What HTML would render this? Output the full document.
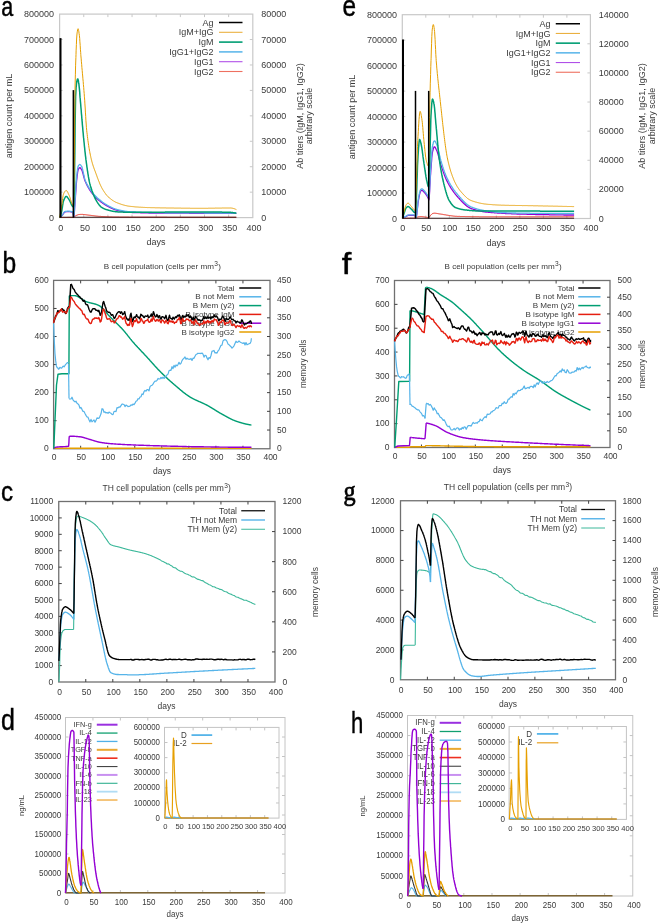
<!DOCTYPE html>
<html><head><meta charset="utf-8"><style>
html,body{margin:0;padding:0;background:#fff;}
svg{display:block;font-family:"Liberation Sans",sans-serif;filter:blur(0.35px);}
</style></head><body>
<svg width="660" height="924" viewBox="0 0 660 924">
<rect width="660" height="924" fill="#fff"/>
<rect x="59.60" y="14.10" width="193.20" height="203.50" fill="none" stroke="#c8c8c8" stroke-width="1.2"/>
<line x1="83.75" y1="217.60" x2="83.75" y2="214.60" stroke="#c8c8c8" stroke-width="1"/>
<line x1="83.75" y1="14.10" x2="83.75" y2="17.10" stroke="#c8c8c8" stroke-width="1"/>
<line x1="107.90" y1="217.60" x2="107.90" y2="214.60" stroke="#c8c8c8" stroke-width="1"/>
<line x1="107.90" y1="14.10" x2="107.90" y2="17.10" stroke="#c8c8c8" stroke-width="1"/>
<line x1="132.05" y1="217.60" x2="132.05" y2="214.60" stroke="#c8c8c8" stroke-width="1"/>
<line x1="132.05" y1="14.10" x2="132.05" y2="17.10" stroke="#c8c8c8" stroke-width="1"/>
<line x1="156.20" y1="217.60" x2="156.20" y2="214.60" stroke="#c8c8c8" stroke-width="1"/>
<line x1="156.20" y1="14.10" x2="156.20" y2="17.10" stroke="#c8c8c8" stroke-width="1"/>
<line x1="180.35" y1="217.60" x2="180.35" y2="214.60" stroke="#c8c8c8" stroke-width="1"/>
<line x1="180.35" y1="14.10" x2="180.35" y2="17.10" stroke="#c8c8c8" stroke-width="1"/>
<line x1="204.50" y1="217.60" x2="204.50" y2="214.60" stroke="#c8c8c8" stroke-width="1"/>
<line x1="204.50" y1="14.10" x2="204.50" y2="17.10" stroke="#c8c8c8" stroke-width="1"/>
<line x1="228.65" y1="217.60" x2="228.65" y2="214.60" stroke="#c8c8c8" stroke-width="1"/>
<line x1="228.65" y1="14.10" x2="228.65" y2="17.10" stroke="#c8c8c8" stroke-width="1"/>
<line x1="59.60" y1="192.16" x2="62.60" y2="192.16" stroke="#c8c8c8" stroke-width="1"/>
<line x1="59.60" y1="166.72" x2="62.60" y2="166.72" stroke="#c8c8c8" stroke-width="1"/>
<line x1="59.60" y1="141.29" x2="62.60" y2="141.29" stroke="#c8c8c8" stroke-width="1"/>
<line x1="59.60" y1="115.85" x2="62.60" y2="115.85" stroke="#c8c8c8" stroke-width="1"/>
<line x1="59.60" y1="90.41" x2="62.60" y2="90.41" stroke="#c8c8c8" stroke-width="1"/>
<line x1="59.60" y1="64.97" x2="62.60" y2="64.97" stroke="#c8c8c8" stroke-width="1"/>
<line x1="59.60" y1="39.54" x2="62.60" y2="39.54" stroke="#c8c8c8" stroke-width="1"/>
<line x1="252.80" y1="192.16" x2="249.80" y2="192.16" stroke="#c8c8c8" stroke-width="1"/>
<line x1="252.80" y1="166.72" x2="249.80" y2="166.72" stroke="#c8c8c8" stroke-width="1"/>
<line x1="252.80" y1="141.29" x2="249.80" y2="141.29" stroke="#c8c8c8" stroke-width="1"/>
<line x1="252.80" y1="115.85" x2="249.80" y2="115.85" stroke="#c8c8c8" stroke-width="1"/>
<line x1="252.80" y1="90.41" x2="249.80" y2="90.41" stroke="#c8c8c8" stroke-width="1"/>
<line x1="252.80" y1="64.97" x2="249.80" y2="64.97" stroke="#c8c8c8" stroke-width="1"/>
<line x1="252.80" y1="39.54" x2="249.80" y2="39.54" stroke="#c8c8c8" stroke-width="1"/>
<text font-size="9" text-anchor="middle" fill="#3a3a3a" transform="matrix(1 0 0 1.1 60.80 231.07)">0</text>
<text font-size="9" text-anchor="middle" fill="#3a3a3a" transform="matrix(1 0 0 1.1 84.95 231.07)">50</text>
<text font-size="9" text-anchor="middle" fill="#3a3a3a" transform="matrix(1 0 0 1.1 109.10 231.07)">100</text>
<text font-size="9" text-anchor="middle" fill="#3a3a3a" transform="matrix(1 0 0 1.1 133.25 231.07)">150</text>
<text font-size="9" text-anchor="middle" fill="#3a3a3a" transform="matrix(1 0 0 1.1 157.40 231.07)">200</text>
<text font-size="9" text-anchor="middle" fill="#3a3a3a" transform="matrix(1 0 0 1.1 181.55 231.07)">250</text>
<text font-size="9" text-anchor="middle" fill="#3a3a3a" transform="matrix(1 0 0 1.1 205.70 231.07)">300</text>
<text font-size="9" text-anchor="middle" fill="#3a3a3a" transform="matrix(1 0 0 1.1 229.85 231.07)">350</text>
<text font-size="9" text-anchor="middle" fill="#3a3a3a" transform="matrix(1 0 0 1.1 254.00 231.07)">400</text>
<text font-size="9" text-anchor="end" fill="#3a3a3a" transform="matrix(1 0 0 1.1 53.90 220.67)">0</text>
<text font-size="9" text-anchor="end" fill="#3a3a3a" transform="matrix(1 0 0 1.1 53.90 195.23)">100000</text>
<text font-size="9" text-anchor="end" fill="#3a3a3a" transform="matrix(1 0 0 1.1 53.90 169.79)">200000</text>
<text font-size="9" text-anchor="end" fill="#3a3a3a" transform="matrix(1 0 0 1.1 53.90 144.36)">300000</text>
<text font-size="9" text-anchor="end" fill="#3a3a3a" transform="matrix(1 0 0 1.1 53.90 118.92)">400000</text>
<text font-size="9" text-anchor="end" fill="#3a3a3a" transform="matrix(1 0 0 1.1 53.90 93.48)">500000</text>
<text font-size="9" text-anchor="end" fill="#3a3a3a" transform="matrix(1 0 0 1.1 53.90 68.04)">600000</text>
<text font-size="9" text-anchor="end" fill="#3a3a3a" transform="matrix(1 0 0 1.1 53.90 42.61)">700000</text>
<text font-size="9" text-anchor="end" fill="#3a3a3a" transform="matrix(1 0 0 1.1 53.90 17.17)">800000</text>
<text font-size="9" text-anchor="start" fill="#3a3a3a" transform="matrix(1 0 0 1.1 261.20 220.67)">0</text>
<text font-size="9" text-anchor="start" fill="#3a3a3a" transform="matrix(1 0 0 1.1 261.20 195.23)">10000</text>
<text font-size="9" text-anchor="start" fill="#3a3a3a" transform="matrix(1 0 0 1.1 261.20 169.79)">20000</text>
<text font-size="9" text-anchor="start" fill="#3a3a3a" transform="matrix(1 0 0 1.1 261.20 144.36)">30000</text>
<text font-size="9" text-anchor="start" fill="#3a3a3a" transform="matrix(1 0 0 1.1 261.20 118.92)">40000</text>
<text font-size="9" text-anchor="start" fill="#3a3a3a" transform="matrix(1 0 0 1.1 261.20 93.48)">50000</text>
<text font-size="9" text-anchor="start" fill="#3a3a3a" transform="matrix(1 0 0 1.1 261.20 68.04)">60000</text>
<text font-size="9" text-anchor="start" fill="#3a3a3a" transform="matrix(1 0 0 1.1 261.20 42.61)">70000</text>
<text font-size="9" text-anchor="start" fill="#3a3a3a" transform="matrix(1 0 0 1.1 261.20 17.17)">80000</text>
<text font-size="9" text-anchor="middle" fill="#3a3a3a" transform="matrix(1 0 0 1.1 156.00 245.00)">days</text>
<text font-size="9" text-anchor="middle" fill="#3a3a3a" transform="translate(12.40 116.00) rotate(-90) scale(1 1.1)">antigen count per mL</text>
<text font-size="9" text-anchor="middle" fill="#3a3a3a" transform="translate(302.50 116.00) rotate(-90) scale(1 1.1)">Ab titers (IgM, IgG1, IgG2)</text>
<text font-size="9" text-anchor="middle" fill="#3a3a3a" transform="translate(311.50 116.00) rotate(-90) scale(1 1.1)">arbitrary scale</text>
<text font-size="9" text-anchor="end" fill="#3a3a3a" transform="matrix(1 0 0 1.1 213.50 25.57)">Ag</text>
<line x1="219.00" y1="22.50" x2="242.50" y2="22.50" stroke="#000000" stroke-width="1.5"/>
<text font-size="9" text-anchor="end" fill="#3a3a3a" transform="matrix(1 0 0 1.1 213.50 35.37)">IgM+IgG</text>
<line x1="219.00" y1="32.30" x2="242.50" y2="32.30" stroke="#eab040" stroke-width="1.1"/>
<text font-size="9" text-anchor="end" fill="#3a3a3a" transform="matrix(1 0 0 1.1 213.50 45.17)">IgM</text>
<line x1="219.00" y1="42.10" x2="242.50" y2="42.10" stroke="#009e73" stroke-width="1.6"/>
<text font-size="9" text-anchor="end" fill="#3a3a3a" transform="matrix(1 0 0 1.1 213.50 54.97)">IgG1+IgG2</text>
<line x1="219.00" y1="51.90" x2="242.50" y2="51.90" stroke="#56b4e9" stroke-width="1.5"/>
<text font-size="9" text-anchor="end" fill="#3a3a3a" transform="matrix(1 0 0 1.1 213.50 64.77)">IgG1</text>
<line x1="219.00" y1="61.70" x2="242.50" y2="61.70" stroke="#b050e8" stroke-width="1.1"/>
<text font-size="9" text-anchor="end" fill="#3a3a3a" transform="matrix(1 0 0 1.1 213.50 74.57)">IgG2</text>
<line x1="219.00" y1="71.50" x2="242.50" y2="71.50" stroke="#ee7060" stroke-width="1.1"/>
<rect x="402.30" y="14.70" width="188.10" height="203.80" fill="none" stroke="#c8c8c8" stroke-width="1.2"/>
<line x1="425.81" y1="218.50" x2="425.81" y2="215.50" stroke="#c8c8c8" stroke-width="1"/>
<line x1="425.81" y1="14.70" x2="425.81" y2="17.70" stroke="#c8c8c8" stroke-width="1"/>
<line x1="449.32" y1="218.50" x2="449.32" y2="215.50" stroke="#c8c8c8" stroke-width="1"/>
<line x1="449.32" y1="14.70" x2="449.32" y2="17.70" stroke="#c8c8c8" stroke-width="1"/>
<line x1="472.84" y1="218.50" x2="472.84" y2="215.50" stroke="#c8c8c8" stroke-width="1"/>
<line x1="472.84" y1="14.70" x2="472.84" y2="17.70" stroke="#c8c8c8" stroke-width="1"/>
<line x1="496.35" y1="218.50" x2="496.35" y2="215.50" stroke="#c8c8c8" stroke-width="1"/>
<line x1="496.35" y1="14.70" x2="496.35" y2="17.70" stroke="#c8c8c8" stroke-width="1"/>
<line x1="519.86" y1="218.50" x2="519.86" y2="215.50" stroke="#c8c8c8" stroke-width="1"/>
<line x1="519.86" y1="14.70" x2="519.86" y2="17.70" stroke="#c8c8c8" stroke-width="1"/>
<line x1="543.38" y1="218.50" x2="543.38" y2="215.50" stroke="#c8c8c8" stroke-width="1"/>
<line x1="543.38" y1="14.70" x2="543.38" y2="17.70" stroke="#c8c8c8" stroke-width="1"/>
<line x1="566.89" y1="218.50" x2="566.89" y2="215.50" stroke="#c8c8c8" stroke-width="1"/>
<line x1="566.89" y1="14.70" x2="566.89" y2="17.70" stroke="#c8c8c8" stroke-width="1"/>
<line x1="402.30" y1="193.03" x2="405.30" y2="193.03" stroke="#c8c8c8" stroke-width="1"/>
<line x1="402.30" y1="167.55" x2="405.30" y2="167.55" stroke="#c8c8c8" stroke-width="1"/>
<line x1="402.30" y1="142.07" x2="405.30" y2="142.07" stroke="#c8c8c8" stroke-width="1"/>
<line x1="402.30" y1="116.60" x2="405.30" y2="116.60" stroke="#c8c8c8" stroke-width="1"/>
<line x1="402.30" y1="91.12" x2="405.30" y2="91.12" stroke="#c8c8c8" stroke-width="1"/>
<line x1="402.30" y1="65.65" x2="405.30" y2="65.65" stroke="#c8c8c8" stroke-width="1"/>
<line x1="402.30" y1="40.18" x2="405.30" y2="40.18" stroke="#c8c8c8" stroke-width="1"/>
<line x1="590.40" y1="189.39" x2="587.40" y2="189.39" stroke="#c8c8c8" stroke-width="1"/>
<line x1="590.40" y1="160.27" x2="587.40" y2="160.27" stroke="#c8c8c8" stroke-width="1"/>
<line x1="590.40" y1="131.16" x2="587.40" y2="131.16" stroke="#c8c8c8" stroke-width="1"/>
<line x1="590.40" y1="102.04" x2="587.40" y2="102.04" stroke="#c8c8c8" stroke-width="1"/>
<line x1="590.40" y1="72.93" x2="587.40" y2="72.93" stroke="#c8c8c8" stroke-width="1"/>
<line x1="590.40" y1="43.81" x2="587.40" y2="43.81" stroke="#c8c8c8" stroke-width="1"/>
<text font-size="9" text-anchor="middle" fill="#3a3a3a" transform="matrix(1 0 0 1.1 402.80 231.37)">0</text>
<text font-size="9" text-anchor="middle" fill="#3a3a3a" transform="matrix(1 0 0 1.1 426.31 231.37)">50</text>
<text font-size="9" text-anchor="middle" fill="#3a3a3a" transform="matrix(1 0 0 1.1 449.82 231.37)">100</text>
<text font-size="9" text-anchor="middle" fill="#3a3a3a" transform="matrix(1 0 0 1.1 473.34 231.37)">150</text>
<text font-size="9" text-anchor="middle" fill="#3a3a3a" transform="matrix(1 0 0 1.1 496.85 231.37)">200</text>
<text font-size="9" text-anchor="middle" fill="#3a3a3a" transform="matrix(1 0 0 1.1 520.36 231.37)">250</text>
<text font-size="9" text-anchor="middle" fill="#3a3a3a" transform="matrix(1 0 0 1.1 543.88 231.37)">300</text>
<text font-size="9" text-anchor="middle" fill="#3a3a3a" transform="matrix(1 0 0 1.1 567.39 231.37)">350</text>
<text font-size="9" text-anchor="middle" fill="#3a3a3a" transform="matrix(1 0 0 1.1 590.90 231.37)">400</text>
<text font-size="9" text-anchor="end" fill="#3a3a3a" transform="matrix(1 0 0 1.1 397.00 221.57)">0</text>
<text font-size="9" text-anchor="end" fill="#3a3a3a" transform="matrix(1 0 0 1.1 397.00 196.09)">100000</text>
<text font-size="9" text-anchor="end" fill="#3a3a3a" transform="matrix(1 0 0 1.1 397.00 170.62)">200000</text>
<text font-size="9" text-anchor="end" fill="#3a3a3a" transform="matrix(1 0 0 1.1 397.00 145.14)">300000</text>
<text font-size="9" text-anchor="end" fill="#3a3a3a" transform="matrix(1 0 0 1.1 397.00 119.67)">400000</text>
<text font-size="9" text-anchor="end" fill="#3a3a3a" transform="matrix(1 0 0 1.1 397.00 94.19)">500000</text>
<text font-size="9" text-anchor="end" fill="#3a3a3a" transform="matrix(1 0 0 1.1 397.00 68.72)">600000</text>
<text font-size="9" text-anchor="end" fill="#3a3a3a" transform="matrix(1 0 0 1.1 397.00 43.24)">700000</text>
<text font-size="9" text-anchor="end" fill="#3a3a3a" transform="matrix(1 0 0 1.1 397.00 17.77)">800000</text>
<text font-size="9" text-anchor="start" fill="#3a3a3a" transform="matrix(1 0 0 1.1 598.80 221.57)">0</text>
<text font-size="9" text-anchor="start" fill="#3a3a3a" transform="matrix(1 0 0 1.1 598.80 192.45)">20000</text>
<text font-size="9" text-anchor="start" fill="#3a3a3a" transform="matrix(1 0 0 1.1 598.80 163.34)">40000</text>
<text font-size="9" text-anchor="start" fill="#3a3a3a" transform="matrix(1 0 0 1.1 598.80 134.23)">60000</text>
<text font-size="9" text-anchor="start" fill="#3a3a3a" transform="matrix(1 0 0 1.1 598.80 105.11)">80000</text>
<text font-size="9" text-anchor="start" fill="#3a3a3a" transform="matrix(1 0 0 1.1 598.80 76.00)">100000</text>
<text font-size="9" text-anchor="start" fill="#3a3a3a" transform="matrix(1 0 0 1.1 598.80 46.88)">120000</text>
<text font-size="9" text-anchor="start" fill="#3a3a3a" transform="matrix(1 0 0 1.1 598.80 17.77)">140000</text>
<text font-size="9" text-anchor="middle" fill="#3a3a3a" transform="matrix(1 0 0 1.1 496.00 246.00)">days</text>
<text font-size="9" text-anchor="middle" fill="#3a3a3a" transform="translate(354.50 117.00) rotate(-90) scale(1 1.1)">antigen count per mL</text>
<text font-size="9" text-anchor="middle" fill="#3a3a3a" transform="translate(644.50 116.00) rotate(-90) scale(1 1.1)">Ab titers (IgM, IgG1, IgG2)</text>
<text font-size="9" text-anchor="middle" fill="#3a3a3a" transform="translate(655.00 116.00) rotate(-90) scale(1 1.1)">arbitrary scale</text>
<text font-size="9" text-anchor="end" fill="#3a3a3a" transform="matrix(1 0 0 1.1 550.50 26.82)">Ag</text>
<line x1="555.75" y1="23.75" x2="580.00" y2="23.75" stroke="#000000" stroke-width="1.5"/>
<text font-size="9" text-anchor="end" fill="#3a3a3a" transform="matrix(1 0 0 1.1 550.50 36.52)">IgM+IgG</text>
<line x1="555.75" y1="33.45" x2="580.00" y2="33.45" stroke="#eab040" stroke-width="1.1"/>
<text font-size="9" text-anchor="end" fill="#3a3a3a" transform="matrix(1 0 0 1.1 550.50 46.22)">IgM</text>
<line x1="555.75" y1="43.15" x2="580.00" y2="43.15" stroke="#009e73" stroke-width="1.6"/>
<text font-size="9" text-anchor="end" fill="#3a3a3a" transform="matrix(1 0 0 1.1 550.50 55.92)">IgG1+IgG2</text>
<line x1="555.75" y1="52.85" x2="580.00" y2="52.85" stroke="#56b4e9" stroke-width="1.5"/>
<text font-size="9" text-anchor="end" fill="#3a3a3a" transform="matrix(1 0 0 1.1 550.50 65.62)">IgG1</text>
<line x1="555.75" y1="62.55" x2="580.00" y2="62.55" stroke="#b050e8" stroke-width="1.1"/>
<text font-size="9" text-anchor="end" fill="#3a3a3a" transform="matrix(1 0 0 1.1 550.50 75.32)">IgG2</text>
<line x1="555.75" y1="72.25" x2="580.00" y2="72.25" stroke="#ee7060" stroke-width="1.1"/>
<rect x="53.60" y="280.40" width="216.40" height="168.35" fill="none" stroke="#707070" stroke-width="1.3"/>
<line x1="80.65" y1="448.75" x2="80.65" y2="445.75" stroke="#404040" stroke-width="1"/>
<line x1="80.65" y1="280.40" x2="80.65" y2="283.40" stroke="#404040" stroke-width="1"/>
<line x1="107.70" y1="448.75" x2="107.70" y2="445.75" stroke="#404040" stroke-width="1"/>
<line x1="107.70" y1="280.40" x2="107.70" y2="283.40" stroke="#404040" stroke-width="1"/>
<line x1="134.75" y1="448.75" x2="134.75" y2="445.75" stroke="#404040" stroke-width="1"/>
<line x1="134.75" y1="280.40" x2="134.75" y2="283.40" stroke="#404040" stroke-width="1"/>
<line x1="161.80" y1="448.75" x2="161.80" y2="445.75" stroke="#404040" stroke-width="1"/>
<line x1="161.80" y1="280.40" x2="161.80" y2="283.40" stroke="#404040" stroke-width="1"/>
<line x1="188.85" y1="448.75" x2="188.85" y2="445.75" stroke="#404040" stroke-width="1"/>
<line x1="188.85" y1="280.40" x2="188.85" y2="283.40" stroke="#404040" stroke-width="1"/>
<line x1="215.90" y1="448.75" x2="215.90" y2="445.75" stroke="#404040" stroke-width="1"/>
<line x1="215.90" y1="280.40" x2="215.90" y2="283.40" stroke="#404040" stroke-width="1"/>
<line x1="242.95" y1="448.75" x2="242.95" y2="445.75" stroke="#404040" stroke-width="1"/>
<line x1="242.95" y1="280.40" x2="242.95" y2="283.40" stroke="#404040" stroke-width="1"/>
<line x1="53.60" y1="420.69" x2="56.60" y2="420.69" stroke="#404040" stroke-width="1"/>
<line x1="53.60" y1="392.63" x2="56.60" y2="392.63" stroke="#404040" stroke-width="1"/>
<line x1="53.60" y1="364.57" x2="56.60" y2="364.57" stroke="#404040" stroke-width="1"/>
<line x1="53.60" y1="336.52" x2="56.60" y2="336.52" stroke="#404040" stroke-width="1"/>
<line x1="53.60" y1="308.46" x2="56.60" y2="308.46" stroke="#404040" stroke-width="1"/>
<line x1="270.00" y1="430.04" x2="267.00" y2="430.04" stroke="#404040" stroke-width="1"/>
<line x1="270.00" y1="411.34" x2="267.00" y2="411.34" stroke="#404040" stroke-width="1"/>
<line x1="270.00" y1="392.63" x2="267.00" y2="392.63" stroke="#404040" stroke-width="1"/>
<line x1="270.00" y1="373.93" x2="267.00" y2="373.93" stroke="#404040" stroke-width="1"/>
<line x1="270.00" y1="355.22" x2="267.00" y2="355.22" stroke="#404040" stroke-width="1"/>
<line x1="270.00" y1="336.52" x2="267.00" y2="336.52" stroke="#404040" stroke-width="1"/>
<line x1="270.00" y1="317.81" x2="267.00" y2="317.81" stroke="#404040" stroke-width="1"/>
<line x1="270.00" y1="299.11" x2="267.00" y2="299.11" stroke="#404040" stroke-width="1"/>
<text font-size="8.5" text-anchor="middle" fill="#3a3a3a" transform="matrix(1 0 0 1.0 54.10 459.94)">0</text>
<text font-size="8.5" text-anchor="middle" fill="#3a3a3a" transform="matrix(1 0 0 1.0 81.15 459.94)">50</text>
<text font-size="8.5" text-anchor="middle" fill="#3a3a3a" transform="matrix(1 0 0 1.0 108.20 459.94)">100</text>
<text font-size="8.5" text-anchor="middle" fill="#3a3a3a" transform="matrix(1 0 0 1.0 135.25 459.94)">150</text>
<text font-size="8.5" text-anchor="middle" fill="#3a3a3a" transform="matrix(1 0 0 1.0 162.30 459.94)">200</text>
<text font-size="8.5" text-anchor="middle" fill="#3a3a3a" transform="matrix(1 0 0 1.0 189.35 459.94)">250</text>
<text font-size="8.5" text-anchor="middle" fill="#3a3a3a" transform="matrix(1 0 0 1.0 216.40 459.94)">300</text>
<text font-size="8.5" text-anchor="middle" fill="#3a3a3a" transform="matrix(1 0 0 1.0 243.45 459.94)">350</text>
<text font-size="8.5" text-anchor="middle" fill="#3a3a3a" transform="matrix(1 0 0 1.0 270.50 459.94)">400</text>
<text font-size="8.5" text-anchor="end" fill="#3a3a3a" transform="matrix(1 0 0 1.0 48.75 451.38)">0</text>
<text font-size="8.5" text-anchor="end" fill="#3a3a3a" transform="matrix(1 0 0 1.0 48.75 423.33)">100</text>
<text font-size="8.5" text-anchor="end" fill="#3a3a3a" transform="matrix(1 0 0 1.0 48.75 395.27)">200</text>
<text font-size="8.5" text-anchor="end" fill="#3a3a3a" transform="matrix(1 0 0 1.0 48.75 367.21)">300</text>
<text font-size="8.5" text-anchor="end" fill="#3a3a3a" transform="matrix(1 0 0 1.0 48.75 339.15)">400</text>
<text font-size="8.5" text-anchor="end" fill="#3a3a3a" transform="matrix(1 0 0 1.0 48.75 311.09)">500</text>
<text font-size="8.5" text-anchor="end" fill="#3a3a3a" transform="matrix(1 0 0 1.0 48.75 283.03)">600</text>
<text font-size="8.5" text-anchor="start" fill="#3a3a3a" transform="matrix(1 0 0 1.0 277.00 451.38)">0</text>
<text font-size="8.5" text-anchor="start" fill="#3a3a3a" transform="matrix(1 0 0 1.0 277.00 432.68)">50</text>
<text font-size="8.5" text-anchor="start" fill="#3a3a3a" transform="matrix(1 0 0 1.0 277.00 413.97)">100</text>
<text font-size="8.5" text-anchor="start" fill="#3a3a3a" transform="matrix(1 0 0 1.0 277.00 395.27)">150</text>
<text font-size="8.5" text-anchor="start" fill="#3a3a3a" transform="matrix(1 0 0 1.0 277.00 376.56)">200</text>
<text font-size="8.5" text-anchor="start" fill="#3a3a3a" transform="matrix(1 0 0 1.0 277.00 357.86)">250</text>
<text font-size="8.5" text-anchor="start" fill="#3a3a3a" transform="matrix(1 0 0 1.0 277.00 339.15)">300</text>
<text font-size="8.5" text-anchor="start" fill="#3a3a3a" transform="matrix(1 0 0 1.0 277.00 320.45)">350</text>
<text font-size="8.5" text-anchor="start" fill="#3a3a3a" transform="matrix(1 0 0 1.0 277.00 301.74)">400</text>
<text font-size="8.5" text-anchor="start" fill="#3a3a3a" transform="matrix(1 0 0 1.0 277.00 283.03)">450</text>
<text font-size="8.5" text-anchor="middle" fill="#3a3a3a" transform="matrix(1 0 0 1.0 162.00 474.00)">days</text>
<text font-size="8.2" text-anchor="middle" fill="#3a3a3a" transform="translate(305.50 363.80) rotate(-90) scale(1 1.0)">memory cells</text>
<text x="103.75" y="268.70" font-size="8.1" fill="#3a3a3a">B cell population (cells per mm<tspan dx="0.3" dy="-3.0" font-size="6.6">3</tspan><tspan dx="0.2" dy="3.0">)</tspan></text>
<text font-size="8.1" text-anchor="end" fill="#3a3a3a" transform="matrix(1 0 0 1.0 234.50 290.51)">Total</text>
<line x1="239.25" y1="288.00" x2="261.25" y2="288.00" stroke="#000000" stroke-width="1.5"/>
<text font-size="8.1" text-anchor="end" fill="#3a3a3a" transform="matrix(1 0 0 1.0 234.50 299.31)">B not Mem</text>
<line x1="239.25" y1="296.80" x2="261.25" y2="296.80" stroke="#56b4e9" stroke-width="1.5"/>
<text font-size="8.1" text-anchor="end" fill="#3a3a3a" transform="matrix(1 0 0 1.0 234.50 308.11)">B Mem (y2)</text>
<line x1="239.25" y1="305.60" x2="261.25" y2="305.60" stroke="#009e73" stroke-width="1.5"/>
<text font-size="8.1" text-anchor="end" fill="#3a3a3a" transform="matrix(1 0 0 1.0 234.50 316.91)">B isotype IgM</text>
<line x1="239.25" y1="314.40" x2="261.25" y2="314.40" stroke="#e51e10" stroke-width="1.5"/>
<text font-size="8.1" text-anchor="end" fill="#3a3a3a" transform="matrix(1 0 0 1.0 234.50 325.71)">B isotype IgG1</text>
<line x1="239.25" y1="323.20" x2="261.25" y2="323.20" stroke="#9400d3" stroke-width="1.5"/>
<text font-size="8.1" text-anchor="end" fill="#3a3a3a" transform="matrix(1 0 0 1.0 234.50 334.51)">B isotype IgG2</text>
<line x1="239.25" y1="332.00" x2="261.25" y2="332.00" stroke="#e69f00" stroke-width="1.5"/>
<rect x="394.50" y="280.50" width="215.50" height="167.00" fill="none" stroke="#707070" stroke-width="1.3"/>
<line x1="421.44" y1="447.50" x2="421.44" y2="444.50" stroke="#404040" stroke-width="1"/>
<line x1="421.44" y1="280.50" x2="421.44" y2="283.50" stroke="#404040" stroke-width="1"/>
<line x1="448.38" y1="447.50" x2="448.38" y2="444.50" stroke="#404040" stroke-width="1"/>
<line x1="448.38" y1="280.50" x2="448.38" y2="283.50" stroke="#404040" stroke-width="1"/>
<line x1="475.31" y1="447.50" x2="475.31" y2="444.50" stroke="#404040" stroke-width="1"/>
<line x1="475.31" y1="280.50" x2="475.31" y2="283.50" stroke="#404040" stroke-width="1"/>
<line x1="502.25" y1="447.50" x2="502.25" y2="444.50" stroke="#404040" stroke-width="1"/>
<line x1="502.25" y1="280.50" x2="502.25" y2="283.50" stroke="#404040" stroke-width="1"/>
<line x1="529.19" y1="447.50" x2="529.19" y2="444.50" stroke="#404040" stroke-width="1"/>
<line x1="529.19" y1="280.50" x2="529.19" y2="283.50" stroke="#404040" stroke-width="1"/>
<line x1="556.12" y1="447.50" x2="556.12" y2="444.50" stroke="#404040" stroke-width="1"/>
<line x1="556.12" y1="280.50" x2="556.12" y2="283.50" stroke="#404040" stroke-width="1"/>
<line x1="583.06" y1="447.50" x2="583.06" y2="444.50" stroke="#404040" stroke-width="1"/>
<line x1="583.06" y1="280.50" x2="583.06" y2="283.50" stroke="#404040" stroke-width="1"/>
<line x1="394.50" y1="423.64" x2="397.50" y2="423.64" stroke="#404040" stroke-width="1"/>
<line x1="394.50" y1="399.79" x2="397.50" y2="399.79" stroke="#404040" stroke-width="1"/>
<line x1="394.50" y1="375.93" x2="397.50" y2="375.93" stroke="#404040" stroke-width="1"/>
<line x1="394.50" y1="352.07" x2="397.50" y2="352.07" stroke="#404040" stroke-width="1"/>
<line x1="394.50" y1="328.21" x2="397.50" y2="328.21" stroke="#404040" stroke-width="1"/>
<line x1="394.50" y1="304.36" x2="397.50" y2="304.36" stroke="#404040" stroke-width="1"/>
<line x1="610.00" y1="430.80" x2="607.00" y2="430.80" stroke="#404040" stroke-width="1"/>
<line x1="610.00" y1="414.10" x2="607.00" y2="414.10" stroke="#404040" stroke-width="1"/>
<line x1="610.00" y1="397.40" x2="607.00" y2="397.40" stroke="#404040" stroke-width="1"/>
<line x1="610.00" y1="380.70" x2="607.00" y2="380.70" stroke="#404040" stroke-width="1"/>
<line x1="610.00" y1="364.00" x2="607.00" y2="364.00" stroke="#404040" stroke-width="1"/>
<line x1="610.00" y1="347.30" x2="607.00" y2="347.30" stroke="#404040" stroke-width="1"/>
<line x1="610.00" y1="330.60" x2="607.00" y2="330.60" stroke="#404040" stroke-width="1"/>
<line x1="610.00" y1="313.90" x2="607.00" y2="313.90" stroke="#404040" stroke-width="1"/>
<line x1="610.00" y1="297.20" x2="607.00" y2="297.20" stroke="#404040" stroke-width="1"/>
<text font-size="8.5" text-anchor="middle" fill="#3a3a3a" transform="matrix(1 0 0 1.0 395.00 459.33)">0</text>
<text font-size="8.5" text-anchor="middle" fill="#3a3a3a" transform="matrix(1 0 0 1.0 421.94 459.33)">50</text>
<text font-size="8.5" text-anchor="middle" fill="#3a3a3a" transform="matrix(1 0 0 1.0 448.88 459.33)">100</text>
<text font-size="8.5" text-anchor="middle" fill="#3a3a3a" transform="matrix(1 0 0 1.0 475.81 459.33)">150</text>
<text font-size="8.5" text-anchor="middle" fill="#3a3a3a" transform="matrix(1 0 0 1.0 502.75 459.33)">200</text>
<text font-size="8.5" text-anchor="middle" fill="#3a3a3a" transform="matrix(1 0 0 1.0 529.69 459.33)">250</text>
<text font-size="8.5" text-anchor="middle" fill="#3a3a3a" transform="matrix(1 0 0 1.0 556.62 459.33)">300</text>
<text font-size="8.5" text-anchor="middle" fill="#3a3a3a" transform="matrix(1 0 0 1.0 583.56 459.33)">350</text>
<text font-size="8.5" text-anchor="middle" fill="#3a3a3a" transform="matrix(1 0 0 1.0 610.50 459.33)">400</text>
<text font-size="8.5" text-anchor="end" fill="#3a3a3a" transform="matrix(1 0 0 1.0 389.50 450.13)">0</text>
<text font-size="8.5" text-anchor="end" fill="#3a3a3a" transform="matrix(1 0 0 1.0 389.50 426.28)">100</text>
<text font-size="8.5" text-anchor="end" fill="#3a3a3a" transform="matrix(1 0 0 1.0 389.50 402.42)">200</text>
<text font-size="8.5" text-anchor="end" fill="#3a3a3a" transform="matrix(1 0 0 1.0 389.50 378.56)">300</text>
<text font-size="8.5" text-anchor="end" fill="#3a3a3a" transform="matrix(1 0 0 1.0 389.50 354.71)">400</text>
<text font-size="8.5" text-anchor="end" fill="#3a3a3a" transform="matrix(1 0 0 1.0 389.50 330.85)">500</text>
<text font-size="8.5" text-anchor="end" fill="#3a3a3a" transform="matrix(1 0 0 1.0 389.50 306.99)">600</text>
<text font-size="8.5" text-anchor="end" fill="#3a3a3a" transform="matrix(1 0 0 1.0 389.50 283.13)">700</text>
<text font-size="8.5" text-anchor="start" fill="#3a3a3a" transform="matrix(1 0 0 1.0 617.50 450.13)">0</text>
<text font-size="8.5" text-anchor="start" fill="#3a3a3a" transform="matrix(1 0 0 1.0 617.50 433.44)">50</text>
<text font-size="8.5" text-anchor="start" fill="#3a3a3a" transform="matrix(1 0 0 1.0 617.50 416.74)">100</text>
<text font-size="8.5" text-anchor="start" fill="#3a3a3a" transform="matrix(1 0 0 1.0 617.50 400.03)">150</text>
<text font-size="8.5" text-anchor="start" fill="#3a3a3a" transform="matrix(1 0 0 1.0 617.50 383.33)">200</text>
<text font-size="8.5" text-anchor="start" fill="#3a3a3a" transform="matrix(1 0 0 1.0 617.50 366.63)">250</text>
<text font-size="8.5" text-anchor="start" fill="#3a3a3a" transform="matrix(1 0 0 1.0 617.50 349.94)">300</text>
<text font-size="8.5" text-anchor="start" fill="#3a3a3a" transform="matrix(1 0 0 1.0 617.50 333.24)">350</text>
<text font-size="8.5" text-anchor="start" fill="#3a3a3a" transform="matrix(1 0 0 1.0 617.50 316.53)">400</text>
<text font-size="8.5" text-anchor="start" fill="#3a3a3a" transform="matrix(1 0 0 1.0 617.50 299.83)">450</text>
<text font-size="8.5" text-anchor="start" fill="#3a3a3a" transform="matrix(1 0 0 1.0 617.50 283.13)">500</text>
<text font-size="8.5" text-anchor="middle" fill="#3a3a3a" transform="matrix(1 0 0 1.0 502.00 473.00)">days</text>
<text font-size="8.2" text-anchor="middle" fill="#3a3a3a" transform="translate(645.00 364.30) rotate(-90) scale(1 1.0)">memory cells</text>
<text x="444.50" y="269.20" font-size="8.1" fill="#3a3a3a">B cell population (cells per mm<tspan dx="0.3" dy="-3.0" font-size="6.6">3</tspan><tspan dx="0.2" dy="3.0">)</tspan></text>
<text font-size="8.1" text-anchor="end" fill="#3a3a3a" transform="matrix(1 0 0 1.0 574.50 290.51)">Total</text>
<line x1="578.25" y1="288.00" x2="600.50" y2="288.00" stroke="#000000" stroke-width="1.5"/>
<text font-size="8.1" text-anchor="end" fill="#3a3a3a" transform="matrix(1 0 0 1.0 574.50 299.31)">B not Mem</text>
<line x1="578.25" y1="296.80" x2="600.50" y2="296.80" stroke="#56b4e9" stroke-width="1.5"/>
<text font-size="8.1" text-anchor="end" fill="#3a3a3a" transform="matrix(1 0 0 1.0 574.50 308.11)">B Mem (y2)</text>
<line x1="578.25" y1="305.60" x2="600.50" y2="305.60" stroke="#009e73" stroke-width="1.5"/>
<text font-size="8.1" text-anchor="end" fill="#3a3a3a" transform="matrix(1 0 0 1.0 574.50 316.91)">B isotype IgM</text>
<line x1="578.25" y1="314.40" x2="600.50" y2="314.40" stroke="#e51e10" stroke-width="1.5"/>
<text font-size="8.1" text-anchor="end" fill="#3a3a3a" transform="matrix(1 0 0 1.0 574.50 325.71)">B isotype IgG1</text>
<line x1="578.25" y1="323.20" x2="600.50" y2="323.20" stroke="#9400d3" stroke-width="1.5"/>
<text font-size="8.1" text-anchor="end" fill="#3a3a3a" transform="matrix(1 0 0 1.0 574.50 334.51)">B isotype IgG2</text>
<line x1="578.25" y1="332.00" x2="600.50" y2="332.00" stroke="#e69f00" stroke-width="1.5"/>
<rect x="58.75" y="501.50" width="216.25" height="180.50" fill="none" stroke="#707070" stroke-width="1.3"/>
<line x1="85.78" y1="682.00" x2="85.78" y2="679.00" stroke="#404040" stroke-width="1"/>
<line x1="85.78" y1="501.50" x2="85.78" y2="504.50" stroke="#404040" stroke-width="1"/>
<line x1="112.81" y1="682.00" x2="112.81" y2="679.00" stroke="#404040" stroke-width="1"/>
<line x1="112.81" y1="501.50" x2="112.81" y2="504.50" stroke="#404040" stroke-width="1"/>
<line x1="139.84" y1="682.00" x2="139.84" y2="679.00" stroke="#404040" stroke-width="1"/>
<line x1="139.84" y1="501.50" x2="139.84" y2="504.50" stroke="#404040" stroke-width="1"/>
<line x1="166.88" y1="682.00" x2="166.88" y2="679.00" stroke="#404040" stroke-width="1"/>
<line x1="166.88" y1="501.50" x2="166.88" y2="504.50" stroke="#404040" stroke-width="1"/>
<line x1="193.91" y1="682.00" x2="193.91" y2="679.00" stroke="#404040" stroke-width="1"/>
<line x1="193.91" y1="501.50" x2="193.91" y2="504.50" stroke="#404040" stroke-width="1"/>
<line x1="220.94" y1="682.00" x2="220.94" y2="679.00" stroke="#404040" stroke-width="1"/>
<line x1="220.94" y1="501.50" x2="220.94" y2="504.50" stroke="#404040" stroke-width="1"/>
<line x1="247.97" y1="682.00" x2="247.97" y2="679.00" stroke="#404040" stroke-width="1"/>
<line x1="247.97" y1="501.50" x2="247.97" y2="504.50" stroke="#404040" stroke-width="1"/>
<line x1="58.75" y1="665.59" x2="61.75" y2="665.59" stroke="#404040" stroke-width="1"/>
<line x1="58.75" y1="649.18" x2="61.75" y2="649.18" stroke="#404040" stroke-width="1"/>
<line x1="58.75" y1="632.77" x2="61.75" y2="632.77" stroke="#404040" stroke-width="1"/>
<line x1="58.75" y1="616.36" x2="61.75" y2="616.36" stroke="#404040" stroke-width="1"/>
<line x1="58.75" y1="599.95" x2="61.75" y2="599.95" stroke="#404040" stroke-width="1"/>
<line x1="58.75" y1="583.55" x2="61.75" y2="583.55" stroke="#404040" stroke-width="1"/>
<line x1="58.75" y1="567.14" x2="61.75" y2="567.14" stroke="#404040" stroke-width="1"/>
<line x1="58.75" y1="550.73" x2="61.75" y2="550.73" stroke="#404040" stroke-width="1"/>
<line x1="58.75" y1="534.32" x2="61.75" y2="534.32" stroke="#404040" stroke-width="1"/>
<line x1="58.75" y1="517.91" x2="61.75" y2="517.91" stroke="#404040" stroke-width="1"/>
<line x1="275.00" y1="651.92" x2="272.00" y2="651.92" stroke="#404040" stroke-width="1"/>
<line x1="275.00" y1="621.83" x2="272.00" y2="621.83" stroke="#404040" stroke-width="1"/>
<line x1="275.00" y1="591.75" x2="272.00" y2="591.75" stroke="#404040" stroke-width="1"/>
<line x1="275.00" y1="561.67" x2="272.00" y2="561.67" stroke="#404040" stroke-width="1"/>
<line x1="275.00" y1="531.58" x2="272.00" y2="531.58" stroke="#404040" stroke-width="1"/>
<text font-size="8.5" text-anchor="middle" fill="#3a3a3a" transform="matrix(1 0 0 1.08 59.55 694.85)">0</text>
<text font-size="8.5" text-anchor="middle" fill="#3a3a3a" transform="matrix(1 0 0 1.08 86.58 694.85)">50</text>
<text font-size="8.5" text-anchor="middle" fill="#3a3a3a" transform="matrix(1 0 0 1.08 113.61 694.85)">100</text>
<text font-size="8.5" text-anchor="middle" fill="#3a3a3a" transform="matrix(1 0 0 1.08 140.64 694.85)">150</text>
<text font-size="8.5" text-anchor="middle" fill="#3a3a3a" transform="matrix(1 0 0 1.08 167.68 694.85)">200</text>
<text font-size="8.5" text-anchor="middle" fill="#3a3a3a" transform="matrix(1 0 0 1.08 194.71 694.85)">250</text>
<text font-size="8.5" text-anchor="middle" fill="#3a3a3a" transform="matrix(1 0 0 1.08 221.74 694.85)">300</text>
<text font-size="8.5" text-anchor="middle" fill="#3a3a3a" transform="matrix(1 0 0 1.08 248.77 694.85)">350</text>
<text font-size="8.5" text-anchor="middle" fill="#3a3a3a" transform="matrix(1 0 0 1.08 275.80 694.85)">400</text>
<text font-size="8.5" text-anchor="end" fill="#3a3a3a" transform="matrix(1 0 0 1.08 53.25 684.85)">0</text>
<text font-size="8.5" text-anchor="end" fill="#3a3a3a" transform="matrix(1 0 0 1.08 53.25 668.44)">1000</text>
<text font-size="8.5" text-anchor="end" fill="#3a3a3a" transform="matrix(1 0 0 1.08 53.25 652.03)">2000</text>
<text font-size="8.5" text-anchor="end" fill="#3a3a3a" transform="matrix(1 0 0 1.08 53.25 635.62)">3000</text>
<text font-size="8.5" text-anchor="end" fill="#3a3a3a" transform="matrix(1 0 0 1.08 53.25 619.21)">4000</text>
<text font-size="8.5" text-anchor="end" fill="#3a3a3a" transform="matrix(1 0 0 1.08 53.25 602.80)">5000</text>
<text font-size="8.5" text-anchor="end" fill="#3a3a3a" transform="matrix(1 0 0 1.08 53.25 586.39)">6000</text>
<text font-size="8.5" text-anchor="end" fill="#3a3a3a" transform="matrix(1 0 0 1.08 53.25 569.98)">7000</text>
<text font-size="8.5" text-anchor="end" fill="#3a3a3a" transform="matrix(1 0 0 1.08 53.25 553.57)">8000</text>
<text font-size="8.5" text-anchor="end" fill="#3a3a3a" transform="matrix(1 0 0 1.08 53.25 537.16)">9000</text>
<text font-size="8.5" text-anchor="end" fill="#3a3a3a" transform="matrix(1 0 0 1.08 53.25 520.75)">10000</text>
<text font-size="8.5" text-anchor="end" fill="#3a3a3a" transform="matrix(1 0 0 1.08 53.25 504.35)">11000</text>
<text font-size="8.5" text-anchor="start" fill="#3a3a3a" transform="matrix(1 0 0 1.08 282.50 684.85)">0</text>
<text font-size="8.5" text-anchor="start" fill="#3a3a3a" transform="matrix(1 0 0 1.08 282.50 654.76)">200</text>
<text font-size="8.5" text-anchor="start" fill="#3a3a3a" transform="matrix(1 0 0 1.08 282.50 624.68)">400</text>
<text font-size="8.5" text-anchor="start" fill="#3a3a3a" transform="matrix(1 0 0 1.08 282.50 594.60)">600</text>
<text font-size="8.5" text-anchor="start" fill="#3a3a3a" transform="matrix(1 0 0 1.08 282.50 564.51)">800</text>
<text font-size="8.5" text-anchor="start" fill="#3a3a3a" transform="matrix(1 0 0 1.08 282.50 534.43)">1000</text>
<text font-size="8.5" text-anchor="start" fill="#3a3a3a" transform="matrix(1 0 0 1.08 282.50 504.35)">1200</text>
<text font-size="8.5" text-anchor="middle" fill="#3a3a3a" transform="matrix(1 0 0 1.08 166.50 709.00)">days</text>
<text font-size="8.5" text-anchor="middle" fill="#3a3a3a" transform="translate(318.00 592.00) rotate(-90) scale(1 1.08)">memory cells</text>
<text x="102.50" y="490.50" font-size="8.5" fill="#3a3a3a">TH cell population (cells per mm<tspan dx="0.3" dy="-3.0" font-size="6.6">3</tspan><tspan dx="0.2" dy="3.0">)</tspan></text>
<text font-size="8.5" text-anchor="end" fill="#3a3a3a" transform="matrix(1 0 0 1.08 237.00 513.60)">Total</text>
<line x1="241.25" y1="510.75" x2="265.00" y2="510.75" stroke="#111" stroke-width="1.3"/>
<text font-size="8.5" text-anchor="end" fill="#3a3a3a" transform="matrix(1 0 0 1.08 237.00 522.85)">TH not Mem</text>
<line x1="241.25" y1="520.00" x2="265.00" y2="520.00" stroke="#56b4e9" stroke-width="1.4"/>
<text font-size="8.5" text-anchor="end" fill="#3a3a3a" transform="matrix(1 0 0 1.08 237.00 532.10)">TH Mem (y2)</text>
<line x1="241.25" y1="529.25" x2="265.00" y2="529.25" stroke="#3cb89a" stroke-width="1.0"/>
<rect x="400.50" y="500.75" width="215.00" height="179.00" fill="none" stroke="#707070" stroke-width="1.3"/>
<line x1="427.38" y1="679.75" x2="427.38" y2="676.75" stroke="#404040" stroke-width="1"/>
<line x1="427.38" y1="500.75" x2="427.38" y2="503.75" stroke="#404040" stroke-width="1"/>
<line x1="454.25" y1="679.75" x2="454.25" y2="676.75" stroke="#404040" stroke-width="1"/>
<line x1="454.25" y1="500.75" x2="454.25" y2="503.75" stroke="#404040" stroke-width="1"/>
<line x1="481.12" y1="679.75" x2="481.12" y2="676.75" stroke="#404040" stroke-width="1"/>
<line x1="481.12" y1="500.75" x2="481.12" y2="503.75" stroke="#404040" stroke-width="1"/>
<line x1="508.00" y1="679.75" x2="508.00" y2="676.75" stroke="#404040" stroke-width="1"/>
<line x1="508.00" y1="500.75" x2="508.00" y2="503.75" stroke="#404040" stroke-width="1"/>
<line x1="534.88" y1="679.75" x2="534.88" y2="676.75" stroke="#404040" stroke-width="1"/>
<line x1="534.88" y1="500.75" x2="534.88" y2="503.75" stroke="#404040" stroke-width="1"/>
<line x1="561.75" y1="679.75" x2="561.75" y2="676.75" stroke="#404040" stroke-width="1"/>
<line x1="561.75" y1="500.75" x2="561.75" y2="503.75" stroke="#404040" stroke-width="1"/>
<line x1="588.62" y1="679.75" x2="588.62" y2="676.75" stroke="#404040" stroke-width="1"/>
<line x1="588.62" y1="500.75" x2="588.62" y2="503.75" stroke="#404040" stroke-width="1"/>
<line x1="400.50" y1="649.92" x2="403.50" y2="649.92" stroke="#404040" stroke-width="1"/>
<line x1="400.50" y1="620.08" x2="403.50" y2="620.08" stroke="#404040" stroke-width="1"/>
<line x1="400.50" y1="590.25" x2="403.50" y2="590.25" stroke="#404040" stroke-width="1"/>
<line x1="400.50" y1="560.42" x2="403.50" y2="560.42" stroke="#404040" stroke-width="1"/>
<line x1="400.50" y1="530.58" x2="403.50" y2="530.58" stroke="#404040" stroke-width="1"/>
<line x1="615.50" y1="659.86" x2="612.50" y2="659.86" stroke="#404040" stroke-width="1"/>
<line x1="615.50" y1="639.97" x2="612.50" y2="639.97" stroke="#404040" stroke-width="1"/>
<line x1="615.50" y1="620.08" x2="612.50" y2="620.08" stroke="#404040" stroke-width="1"/>
<line x1="615.50" y1="600.19" x2="612.50" y2="600.19" stroke="#404040" stroke-width="1"/>
<line x1="615.50" y1="580.31" x2="612.50" y2="580.31" stroke="#404040" stroke-width="1"/>
<line x1="615.50" y1="560.42" x2="612.50" y2="560.42" stroke="#404040" stroke-width="1"/>
<line x1="615.50" y1="540.53" x2="612.50" y2="540.53" stroke="#404040" stroke-width="1"/>
<line x1="615.50" y1="520.64" x2="612.50" y2="520.64" stroke="#404040" stroke-width="1"/>
<text font-size="8.5" text-anchor="middle" fill="#3a3a3a" transform="matrix(1 0 0 1.08 401.20 692.65)">0</text>
<text font-size="8.5" text-anchor="middle" fill="#3a3a3a" transform="matrix(1 0 0 1.08 428.07 692.65)">50</text>
<text font-size="8.5" text-anchor="middle" fill="#3a3a3a" transform="matrix(1 0 0 1.08 454.95 692.65)">100</text>
<text font-size="8.5" text-anchor="middle" fill="#3a3a3a" transform="matrix(1 0 0 1.08 481.82 692.65)">150</text>
<text font-size="8.5" text-anchor="middle" fill="#3a3a3a" transform="matrix(1 0 0 1.08 508.70 692.65)">200</text>
<text font-size="8.5" text-anchor="middle" fill="#3a3a3a" transform="matrix(1 0 0 1.08 535.58 692.65)">250</text>
<text font-size="8.5" text-anchor="middle" fill="#3a3a3a" transform="matrix(1 0 0 1.08 562.45 692.65)">300</text>
<text font-size="8.5" text-anchor="middle" fill="#3a3a3a" transform="matrix(1 0 0 1.08 589.33 692.65)">350</text>
<text font-size="8.5" text-anchor="middle" fill="#3a3a3a" transform="matrix(1 0 0 1.08 616.20 692.65)">400</text>
<text font-size="8.5" text-anchor="end" fill="#3a3a3a" transform="matrix(1 0 0 1.08 394.50 682.60)">0</text>
<text font-size="8.5" text-anchor="end" fill="#3a3a3a" transform="matrix(1 0 0 1.08 394.50 652.76)">2000</text>
<text font-size="8.5" text-anchor="end" fill="#3a3a3a" transform="matrix(1 0 0 1.08 394.50 622.93)">4000</text>
<text font-size="8.5" text-anchor="end" fill="#3a3a3a" transform="matrix(1 0 0 1.08 394.50 593.10)">6000</text>
<text font-size="8.5" text-anchor="end" fill="#3a3a3a" transform="matrix(1 0 0 1.08 394.50 563.26)">8000</text>
<text font-size="8.5" text-anchor="end" fill="#3a3a3a" transform="matrix(1 0 0 1.08 394.50 533.43)">10000</text>
<text font-size="8.5" text-anchor="end" fill="#3a3a3a" transform="matrix(1 0 0 1.08 394.50 503.60)">12000</text>
<text font-size="8.5" text-anchor="start" fill="#3a3a3a" transform="matrix(1 0 0 1.08 622.50 682.60)">0</text>
<text font-size="8.5" text-anchor="start" fill="#3a3a3a" transform="matrix(1 0 0 1.08 622.50 662.71)">200</text>
<text font-size="8.5" text-anchor="start" fill="#3a3a3a" transform="matrix(1 0 0 1.08 622.50 642.82)">400</text>
<text font-size="8.5" text-anchor="start" fill="#3a3a3a" transform="matrix(1 0 0 1.08 622.50 622.93)">600</text>
<text font-size="8.5" text-anchor="start" fill="#3a3a3a" transform="matrix(1 0 0 1.08 622.50 603.04)">800</text>
<text font-size="8.5" text-anchor="start" fill="#3a3a3a" transform="matrix(1 0 0 1.08 622.50 583.15)">1000</text>
<text font-size="8.5" text-anchor="start" fill="#3a3a3a" transform="matrix(1 0 0 1.08 622.50 563.26)">1200</text>
<text font-size="8.5" text-anchor="start" fill="#3a3a3a" transform="matrix(1 0 0 1.08 622.50 543.37)">1400</text>
<text font-size="8.5" text-anchor="start" fill="#3a3a3a" transform="matrix(1 0 0 1.08 622.50 523.48)">1600</text>
<text font-size="8.5" text-anchor="start" fill="#3a3a3a" transform="matrix(1 0 0 1.08 622.50 503.60)">1800</text>
<text font-size="8.5" text-anchor="middle" fill="#3a3a3a" transform="matrix(1 0 0 1.08 508.00 707.00)">days</text>
<text font-size="8.5" text-anchor="middle" fill="#3a3a3a" transform="translate(658.00 592.00) rotate(-90) scale(1 1.08)">memory cells</text>
<text x="443.75" y="489.80" font-size="8.5" fill="#3a3a3a">TH cell population (cells per mm<tspan dx="0.3" dy="-3.0" font-size="6.6">3</tspan><tspan dx="0.2" dy="3.0">)</tspan></text>
<text font-size="8.5" text-anchor="end" fill="#3a3a3a" transform="matrix(1 0 0 1.08 577.00 512.35)">Total</text>
<line x1="581.25" y1="509.50" x2="605.00" y2="509.50" stroke="#111" stroke-width="1.3"/>
<text font-size="8.5" text-anchor="end" fill="#3a3a3a" transform="matrix(1 0 0 1.08 577.00 521.60)">TH not Mem</text>
<line x1="581.25" y1="518.75" x2="605.00" y2="518.75" stroke="#56b4e9" stroke-width="1.4"/>
<text font-size="8.5" text-anchor="end" fill="#3a3a3a" transform="matrix(1 0 0 1.08 577.00 530.85)">TH Mem (y2)</text>
<line x1="581.25" y1="528.00" x2="605.00" y2="528.00" stroke="#3cb89a" stroke-width="1.0"/>
<rect x="65.50" y="717.50" width="219.50" height="175.50" fill="none" stroke="#c4c4c4" stroke-width="1.0"/>
<line x1="92.94" y1="893.00" x2="92.94" y2="890.00" stroke="#c4c4c4" stroke-width="1"/>
<line x1="92.94" y1="717.50" x2="92.94" y2="720.50" stroke="#c4c4c4" stroke-width="1"/>
<line x1="120.38" y1="893.00" x2="120.38" y2="890.00" stroke="#c4c4c4" stroke-width="1"/>
<line x1="120.38" y1="717.50" x2="120.38" y2="720.50" stroke="#c4c4c4" stroke-width="1"/>
<line x1="147.81" y1="893.00" x2="147.81" y2="890.00" stroke="#c4c4c4" stroke-width="1"/>
<line x1="147.81" y1="717.50" x2="147.81" y2="720.50" stroke="#c4c4c4" stroke-width="1"/>
<line x1="175.25" y1="893.00" x2="175.25" y2="890.00" stroke="#c4c4c4" stroke-width="1"/>
<line x1="175.25" y1="717.50" x2="175.25" y2="720.50" stroke="#c4c4c4" stroke-width="1"/>
<line x1="202.69" y1="893.00" x2="202.69" y2="890.00" stroke="#c4c4c4" stroke-width="1"/>
<line x1="202.69" y1="717.50" x2="202.69" y2="720.50" stroke="#c4c4c4" stroke-width="1"/>
<line x1="230.12" y1="893.00" x2="230.12" y2="890.00" stroke="#c4c4c4" stroke-width="1"/>
<line x1="230.12" y1="717.50" x2="230.12" y2="720.50" stroke="#c4c4c4" stroke-width="1"/>
<line x1="257.56" y1="893.00" x2="257.56" y2="890.00" stroke="#c4c4c4" stroke-width="1"/>
<line x1="257.56" y1="717.50" x2="257.56" y2="720.50" stroke="#c4c4c4" stroke-width="1"/>
<line x1="65.50" y1="873.50" x2="68.50" y2="873.50" stroke="#c4c4c4" stroke-width="1"/>
<line x1="285.00" y1="873.50" x2="282.00" y2="873.50" stroke="#c4c4c4" stroke-width="1"/>
<line x1="65.50" y1="854.00" x2="68.50" y2="854.00" stroke="#c4c4c4" stroke-width="1"/>
<line x1="285.00" y1="854.00" x2="282.00" y2="854.00" stroke="#c4c4c4" stroke-width="1"/>
<line x1="65.50" y1="834.50" x2="68.50" y2="834.50" stroke="#c4c4c4" stroke-width="1"/>
<line x1="285.00" y1="834.50" x2="282.00" y2="834.50" stroke="#c4c4c4" stroke-width="1"/>
<line x1="65.50" y1="815.00" x2="68.50" y2="815.00" stroke="#c4c4c4" stroke-width="1"/>
<line x1="285.00" y1="815.00" x2="282.00" y2="815.00" stroke="#c4c4c4" stroke-width="1"/>
<line x1="65.50" y1="795.50" x2="68.50" y2="795.50" stroke="#c4c4c4" stroke-width="1"/>
<line x1="285.00" y1="795.50" x2="282.00" y2="795.50" stroke="#c4c4c4" stroke-width="1"/>
<line x1="65.50" y1="776.00" x2="68.50" y2="776.00" stroke="#c4c4c4" stroke-width="1"/>
<line x1="285.00" y1="776.00" x2="282.00" y2="776.00" stroke="#c4c4c4" stroke-width="1"/>
<line x1="65.50" y1="756.50" x2="68.50" y2="756.50" stroke="#c4c4c4" stroke-width="1"/>
<line x1="285.00" y1="756.50" x2="282.00" y2="756.50" stroke="#c4c4c4" stroke-width="1"/>
<line x1="65.50" y1="737.00" x2="68.50" y2="737.00" stroke="#c4c4c4" stroke-width="1"/>
<line x1="285.00" y1="737.00" x2="282.00" y2="737.00" stroke="#c4c4c4" stroke-width="1"/>
<text font-size="8" text-anchor="middle" fill="#3a3a3a" transform="matrix(1 0 0 1.05 66.50 904.60)">0</text>
<text font-size="8" text-anchor="middle" fill="#3a3a3a" transform="matrix(1 0 0 1.05 93.94 904.60)">50</text>
<text font-size="8" text-anchor="middle" fill="#3a3a3a" transform="matrix(1 0 0 1.05 121.38 904.60)">100</text>
<text font-size="8" text-anchor="middle" fill="#3a3a3a" transform="matrix(1 0 0 1.05 148.81 904.60)">150</text>
<text font-size="8" text-anchor="middle" fill="#3a3a3a" transform="matrix(1 0 0 1.05 176.25 904.60)">200</text>
<text font-size="8" text-anchor="middle" fill="#3a3a3a" transform="matrix(1 0 0 1.05 203.69 904.60)">250</text>
<text font-size="8" text-anchor="middle" fill="#3a3a3a" transform="matrix(1 0 0 1.05 231.12 904.60)">300</text>
<text font-size="8" text-anchor="middle" fill="#3a3a3a" transform="matrix(1 0 0 1.05 258.56 904.60)">350</text>
<text font-size="8" text-anchor="middle" fill="#3a3a3a" transform="matrix(1 0 0 1.05 286.00 904.60)">400</text>
<text font-size="8" text-anchor="end" fill="#3a3a3a" transform="matrix(1 0 0 1.05 61.25 895.60)">0</text>
<text font-size="8" text-anchor="end" fill="#3a3a3a" transform="matrix(1 0 0 1.05 61.25 876.10)">50000</text>
<text font-size="8" text-anchor="end" fill="#3a3a3a" transform="matrix(1 0 0 1.05 61.25 856.60)">100000</text>
<text font-size="8" text-anchor="end" fill="#3a3a3a" transform="matrix(1 0 0 1.05 61.25 837.10)">150000</text>
<text font-size="8" text-anchor="end" fill="#3a3a3a" transform="matrix(1 0 0 1.05 61.25 817.60)">200000</text>
<text font-size="8" text-anchor="end" fill="#3a3a3a" transform="matrix(1 0 0 1.05 61.25 798.10)">250000</text>
<text font-size="8" text-anchor="end" fill="#3a3a3a" transform="matrix(1 0 0 1.05 61.25 778.60)">300000</text>
<text font-size="8" text-anchor="end" fill="#3a3a3a" transform="matrix(1 0 0 1.05 61.25 759.10)">350000</text>
<text font-size="8" text-anchor="end" fill="#3a3a3a" transform="matrix(1 0 0 1.05 61.25 739.60)">400000</text>
<text font-size="8" text-anchor="end" fill="#3a3a3a" transform="matrix(1 0 0 1.05 61.25 720.10)">450000</text>
<text font-size="8" text-anchor="middle" fill="#3a3a3a" transform="matrix(1 0 0 1.05 175.00 917.00)">days</text>
<text font-size="7.6" text-anchor="middle" fill="#3a3a3a" transform="translate(24.00 805.50) rotate(-90) scale(1 1.05)">ng/mL</text>
<text font-size="7.3" text-anchor="end" fill="#3a3a3a" transform="matrix(1 0 0 1.05 91.80 727.08)">IFN-g</text>
<line x1="96.80" y1="724.70" x2="117.50" y2="724.70" stroke="#9a30e0" stroke-width="2.0"/>
<text font-size="7.3" text-anchor="end" fill="#3a3a3a" transform="matrix(1 0 0 1.05 91.80 735.45)">IL-4</text>
<line x1="96.80" y1="733.07" x2="117.50" y2="733.07" stroke="#10a070" stroke-width="1.3"/>
<text font-size="7.3" text-anchor="end" fill="#3a3a3a" transform="matrix(1 0 0 1.05 91.80 743.82)">IL-12</text>
<line x1="96.80" y1="741.44" x2="117.50" y2="741.44" stroke="#50b0e8" stroke-width="1.3"/>
<text font-size="7.3" text-anchor="end" fill="#3a3a3a" transform="matrix(1 0 0 1.05 91.80 752.19)">TGF-b</text>
<line x1="96.80" y1="749.81" x2="117.50" y2="749.81" stroke="#eaa830" stroke-width="2.0"/>
<text font-size="7.3" text-anchor="end" fill="#3a3a3a" transform="matrix(1 0 0 1.05 91.80 760.56)">TNF-a</text>
<line x1="96.80" y1="758.18" x2="117.50" y2="758.18" stroke="#ee3020" stroke-width="1.6"/>
<text font-size="7.3" text-anchor="end" fill="#3a3a3a" transform="matrix(1 0 0 1.05 91.80 768.93)">IL-10</text>
<line x1="96.80" y1="766.55" x2="117.50" y2="766.55" stroke="#444" stroke-width="1.1"/>
<text font-size="7.3" text-anchor="end" fill="#3a3a3a" transform="matrix(1 0 0 1.05 91.80 777.30)">IL-6</text>
<line x1="96.80" y1="774.92" x2="117.50" y2="774.92" stroke="#c890f0" stroke-width="2.0"/>
<text font-size="7.3" text-anchor="end" fill="#3a3a3a" transform="matrix(1 0 0 1.05 91.80 785.67)">IFN-b</text>
<line x1="96.80" y1="783.29" x2="117.50" y2="783.29" stroke="#30b090" stroke-width="1.1"/>
<text font-size="7.3" text-anchor="end" fill="#3a3a3a" transform="matrix(1 0 0 1.05 91.80 794.04)">IL-18</text>
<line x1="96.80" y1="791.66" x2="117.50" y2="791.66" stroke="#b0dcf4" stroke-width="1.8"/>
<text font-size="7.3" text-anchor="end" fill="#3a3a3a" transform="matrix(1 0 0 1.05 91.80 802.41)">IL-23</text>
<line x1="96.80" y1="800.03" x2="117.50" y2="800.03" stroke="#f4c070" stroke-width="1.8"/>
<rect x="164.50" y="727.40" width="114.50" height="90.70" fill="none" stroke="#c4c4c4" stroke-width="1.0"/>
<line x1="178.81" y1="818.10" x2="178.81" y2="815.10" stroke="#c4c4c4" stroke-width="1"/>
<line x1="178.81" y1="727.40" x2="178.81" y2="730.40" stroke="#c4c4c4" stroke-width="1"/>
<line x1="193.12" y1="818.10" x2="193.12" y2="815.10" stroke="#c4c4c4" stroke-width="1"/>
<line x1="193.12" y1="727.40" x2="193.12" y2="730.40" stroke="#c4c4c4" stroke-width="1"/>
<line x1="207.44" y1="818.10" x2="207.44" y2="815.10" stroke="#c4c4c4" stroke-width="1"/>
<line x1="207.44" y1="727.40" x2="207.44" y2="730.40" stroke="#c4c4c4" stroke-width="1"/>
<line x1="221.75" y1="818.10" x2="221.75" y2="815.10" stroke="#c4c4c4" stroke-width="1"/>
<line x1="221.75" y1="727.40" x2="221.75" y2="730.40" stroke="#c4c4c4" stroke-width="1"/>
<line x1="236.06" y1="818.10" x2="236.06" y2="815.10" stroke="#c4c4c4" stroke-width="1"/>
<line x1="236.06" y1="727.40" x2="236.06" y2="730.40" stroke="#c4c4c4" stroke-width="1"/>
<line x1="250.38" y1="818.10" x2="250.38" y2="815.10" stroke="#c4c4c4" stroke-width="1"/>
<line x1="250.38" y1="727.40" x2="250.38" y2="730.40" stroke="#c4c4c4" stroke-width="1"/>
<line x1="264.69" y1="818.10" x2="264.69" y2="815.10" stroke="#c4c4c4" stroke-width="1"/>
<line x1="264.69" y1="727.40" x2="264.69" y2="730.40" stroke="#c4c4c4" stroke-width="1"/>
<line x1="164.50" y1="802.98" x2="167.50" y2="802.98" stroke="#c4c4c4" stroke-width="1"/>
<line x1="279.00" y1="802.98" x2="276.00" y2="802.98" stroke="#c4c4c4" stroke-width="1"/>
<line x1="164.50" y1="787.87" x2="167.50" y2="787.87" stroke="#c4c4c4" stroke-width="1"/>
<line x1="279.00" y1="787.87" x2="276.00" y2="787.87" stroke="#c4c4c4" stroke-width="1"/>
<line x1="164.50" y1="772.75" x2="167.50" y2="772.75" stroke="#c4c4c4" stroke-width="1"/>
<line x1="279.00" y1="772.75" x2="276.00" y2="772.75" stroke="#c4c4c4" stroke-width="1"/>
<line x1="164.50" y1="757.63" x2="167.50" y2="757.63" stroke="#c4c4c4" stroke-width="1"/>
<line x1="279.00" y1="757.63" x2="276.00" y2="757.63" stroke="#c4c4c4" stroke-width="1"/>
<line x1="164.50" y1="742.52" x2="167.50" y2="742.52" stroke="#c4c4c4" stroke-width="1"/>
<line x1="279.00" y1="742.52" x2="276.00" y2="742.52" stroke="#c4c4c4" stroke-width="1"/>
<text font-size="7.6" text-anchor="middle" fill="#3a3a3a" transform="matrix(1 0 0 1.05 165.30 829.27)">0</text>
<text font-size="7.6" text-anchor="middle" fill="#3a3a3a" transform="matrix(1 0 0 1.05 179.61 829.27)">50</text>
<text font-size="7.6" text-anchor="middle" fill="#3a3a3a" transform="matrix(1 0 0 1.05 193.93 829.27)">100</text>
<text font-size="7.6" text-anchor="middle" fill="#3a3a3a" transform="matrix(1 0 0 1.05 208.24 829.27)">150</text>
<text font-size="7.6" text-anchor="middle" fill="#3a3a3a" transform="matrix(1 0 0 1.05 222.55 829.27)">200</text>
<text font-size="7.6" text-anchor="middle" fill="#3a3a3a" transform="matrix(1 0 0 1.05 236.86 829.27)">250</text>
<text font-size="7.6" text-anchor="middle" fill="#3a3a3a" transform="matrix(1 0 0 1.05 251.18 829.27)">300</text>
<text font-size="7.6" text-anchor="middle" fill="#3a3a3a" transform="matrix(1 0 0 1.05 265.49 829.27)">350</text>
<text font-size="7.6" text-anchor="middle" fill="#3a3a3a" transform="matrix(1 0 0 1.05 279.80 829.27)">400</text>
<text font-size="7.9" text-anchor="end" fill="#3a3a3a" transform="matrix(1 0 0 1.05 160.00 820.67)">0</text>
<text font-size="7.9" text-anchor="end" fill="#3a3a3a" transform="matrix(1 0 0 1.05 160.00 805.55)">100000</text>
<text font-size="7.9" text-anchor="end" fill="#3a3a3a" transform="matrix(1 0 0 1.05 160.00 790.44)">200000</text>
<text font-size="7.9" text-anchor="end" fill="#3a3a3a" transform="matrix(1 0 0 1.05 160.00 775.32)">300000</text>
<text font-size="7.9" text-anchor="end" fill="#3a3a3a" transform="matrix(1 0 0 1.05 160.00 760.20)">400000</text>
<text font-size="7.9" text-anchor="end" fill="#3a3a3a" transform="matrix(1 0 0 1.05 160.00 745.09)">500000</text>
<text font-size="7.9" text-anchor="end" fill="#3a3a3a" transform="matrix(1 0 0 1.05 160.00 729.97)">600000</text>
<text font-size="8" text-anchor="end" fill="#3a3a3a" transform="matrix(1 0 0 1.05 186.80 737.70)">D</text>
<line x1="191.50" y1="735.10" x2="212.20" y2="735.10" stroke="#56b4e9" stroke-width="1.8"/>
<text font-size="8" text-anchor="end" fill="#3a3a3a" transform="matrix(1 0 0 1.05 186.80 746.10)">IL-2</text>
<line x1="191.50" y1="743.50" x2="212.20" y2="743.50" stroke="#e8a020" stroke-width="1.2"/>
<rect x="407.50" y="715.50" width="225.25" height="180.50" fill="none" stroke="#c4c4c4" stroke-width="1.0"/>
<line x1="435.66" y1="896.00" x2="435.66" y2="893.00" stroke="#c4c4c4" stroke-width="1"/>
<line x1="435.66" y1="715.50" x2="435.66" y2="718.50" stroke="#c4c4c4" stroke-width="1"/>
<line x1="463.81" y1="896.00" x2="463.81" y2="893.00" stroke="#c4c4c4" stroke-width="1"/>
<line x1="463.81" y1="715.50" x2="463.81" y2="718.50" stroke="#c4c4c4" stroke-width="1"/>
<line x1="491.97" y1="896.00" x2="491.97" y2="893.00" stroke="#c4c4c4" stroke-width="1"/>
<line x1="491.97" y1="715.50" x2="491.97" y2="718.50" stroke="#c4c4c4" stroke-width="1"/>
<line x1="520.12" y1="896.00" x2="520.12" y2="893.00" stroke="#c4c4c4" stroke-width="1"/>
<line x1="520.12" y1="715.50" x2="520.12" y2="718.50" stroke="#c4c4c4" stroke-width="1"/>
<line x1="548.28" y1="896.00" x2="548.28" y2="893.00" stroke="#c4c4c4" stroke-width="1"/>
<line x1="548.28" y1="715.50" x2="548.28" y2="718.50" stroke="#c4c4c4" stroke-width="1"/>
<line x1="576.44" y1="896.00" x2="576.44" y2="893.00" stroke="#c4c4c4" stroke-width="1"/>
<line x1="576.44" y1="715.50" x2="576.44" y2="718.50" stroke="#c4c4c4" stroke-width="1"/>
<line x1="604.59" y1="896.00" x2="604.59" y2="893.00" stroke="#c4c4c4" stroke-width="1"/>
<line x1="604.59" y1="715.50" x2="604.59" y2="718.50" stroke="#c4c4c4" stroke-width="1"/>
<line x1="407.50" y1="875.94" x2="410.50" y2="875.94" stroke="#c4c4c4" stroke-width="1"/>
<line x1="632.75" y1="875.94" x2="629.75" y2="875.94" stroke="#c4c4c4" stroke-width="1"/>
<line x1="407.50" y1="855.89" x2="410.50" y2="855.89" stroke="#c4c4c4" stroke-width="1"/>
<line x1="632.75" y1="855.89" x2="629.75" y2="855.89" stroke="#c4c4c4" stroke-width="1"/>
<line x1="407.50" y1="835.83" x2="410.50" y2="835.83" stroke="#c4c4c4" stroke-width="1"/>
<line x1="632.75" y1="835.83" x2="629.75" y2="835.83" stroke="#c4c4c4" stroke-width="1"/>
<line x1="407.50" y1="815.78" x2="410.50" y2="815.78" stroke="#c4c4c4" stroke-width="1"/>
<line x1="632.75" y1="815.78" x2="629.75" y2="815.78" stroke="#c4c4c4" stroke-width="1"/>
<line x1="407.50" y1="795.72" x2="410.50" y2="795.72" stroke="#c4c4c4" stroke-width="1"/>
<line x1="632.75" y1="795.72" x2="629.75" y2="795.72" stroke="#c4c4c4" stroke-width="1"/>
<line x1="407.50" y1="775.67" x2="410.50" y2="775.67" stroke="#c4c4c4" stroke-width="1"/>
<line x1="632.75" y1="775.67" x2="629.75" y2="775.67" stroke="#c4c4c4" stroke-width="1"/>
<line x1="407.50" y1="755.61" x2="410.50" y2="755.61" stroke="#c4c4c4" stroke-width="1"/>
<line x1="632.75" y1="755.61" x2="629.75" y2="755.61" stroke="#c4c4c4" stroke-width="1"/>
<line x1="407.50" y1="735.56" x2="410.50" y2="735.56" stroke="#c4c4c4" stroke-width="1"/>
<line x1="632.75" y1="735.56" x2="629.75" y2="735.56" stroke="#c4c4c4" stroke-width="1"/>
<text font-size="8" text-anchor="middle" fill="#3a3a3a" transform="matrix(1 0 0 1.05 408.70 907.60)">0</text>
<text font-size="8" text-anchor="middle" fill="#3a3a3a" transform="matrix(1 0 0 1.05 436.86 907.60)">50</text>
<text font-size="8" text-anchor="middle" fill="#3a3a3a" transform="matrix(1 0 0 1.05 465.01 907.60)">100</text>
<text font-size="8" text-anchor="middle" fill="#3a3a3a" transform="matrix(1 0 0 1.05 493.17 907.60)">150</text>
<text font-size="8" text-anchor="middle" fill="#3a3a3a" transform="matrix(1 0 0 1.05 521.33 907.60)">200</text>
<text font-size="8" text-anchor="middle" fill="#3a3a3a" transform="matrix(1 0 0 1.05 549.48 907.60)">250</text>
<text font-size="8" text-anchor="middle" fill="#3a3a3a" transform="matrix(1 0 0 1.05 577.64 907.60)">300</text>
<text font-size="8" text-anchor="middle" fill="#3a3a3a" transform="matrix(1 0 0 1.05 605.79 907.60)">350</text>
<text font-size="8" text-anchor="middle" fill="#3a3a3a" transform="matrix(1 0 0 1.05 633.95 907.60)">400</text>
<text font-size="8" text-anchor="end" fill="#3a3a3a" transform="matrix(1 0 0 1.05 403.00 898.60)">0</text>
<text font-size="8" text-anchor="end" fill="#3a3a3a" transform="matrix(1 0 0 1.05 403.00 878.55)">50000</text>
<text font-size="8" text-anchor="end" fill="#3a3a3a" transform="matrix(1 0 0 1.05 403.00 858.49)">100000</text>
<text font-size="8" text-anchor="end" fill="#3a3a3a" transform="matrix(1 0 0 1.05 403.00 838.44)">150000</text>
<text font-size="8" text-anchor="end" fill="#3a3a3a" transform="matrix(1 0 0 1.05 403.00 818.38)">200000</text>
<text font-size="8" text-anchor="end" fill="#3a3a3a" transform="matrix(1 0 0 1.05 403.00 798.33)">250000</text>
<text font-size="8" text-anchor="end" fill="#3a3a3a" transform="matrix(1 0 0 1.05 403.00 778.27)">300000</text>
<text font-size="8" text-anchor="end" fill="#3a3a3a" transform="matrix(1 0 0 1.05 403.00 758.22)">350000</text>
<text font-size="8" text-anchor="end" fill="#3a3a3a" transform="matrix(1 0 0 1.05 403.00 738.16)">400000</text>
<text font-size="8" text-anchor="end" fill="#3a3a3a" transform="matrix(1 0 0 1.05 403.00 718.10)">450000</text>
<text font-size="8" text-anchor="middle" fill="#3a3a3a" transform="matrix(1 0 0 1.05 520.00 921.00)">days</text>
<text font-size="7.6" text-anchor="middle" fill="#3a3a3a" transform="translate(365.00 806.00) rotate(-90) scale(1 1.05)">ng/mL</text>
<text font-size="7.8" text-anchor="end" fill="#3a3a3a" transform="matrix(1 0 0 1.05 434.80 725.34)">IFN-g</text>
<line x1="439.70" y1="722.80" x2="461.10" y2="722.80" stroke="#9a30e0" stroke-width="2.0"/>
<text font-size="7.8" text-anchor="end" fill="#3a3a3a" transform="matrix(1 0 0 1.05 434.80 734.03)">IL-4</text>
<line x1="439.70" y1="731.49" x2="461.10" y2="731.49" stroke="#10a070" stroke-width="1.3"/>
<text font-size="7.8" text-anchor="end" fill="#3a3a3a" transform="matrix(1 0 0 1.05 434.80 742.72)">IL-12</text>
<line x1="439.70" y1="740.18" x2="461.10" y2="740.18" stroke="#50b0e8" stroke-width="1.3"/>
<text font-size="7.8" text-anchor="end" fill="#3a3a3a" transform="matrix(1 0 0 1.05 434.80 751.41)">TGF-b</text>
<line x1="439.70" y1="748.87" x2="461.10" y2="748.87" stroke="#eaa830" stroke-width="2.0"/>
<text font-size="7.8" text-anchor="end" fill="#3a3a3a" transform="matrix(1 0 0 1.05 434.80 760.10)">TNF-a</text>
<line x1="439.70" y1="757.56" x2="461.10" y2="757.56" stroke="#ee3020" stroke-width="1.6"/>
<text font-size="7.8" text-anchor="end" fill="#3a3a3a" transform="matrix(1 0 0 1.05 434.80 768.79)">IL-10</text>
<line x1="439.70" y1="766.25" x2="461.10" y2="766.25" stroke="#444" stroke-width="1.1"/>
<text font-size="7.8" text-anchor="end" fill="#3a3a3a" transform="matrix(1 0 0 1.05 434.80 777.48)">IL-6</text>
<line x1="439.70" y1="774.94" x2="461.10" y2="774.94" stroke="#c890f0" stroke-width="2.0"/>
<text font-size="7.8" text-anchor="end" fill="#3a3a3a" transform="matrix(1 0 0 1.05 434.80 786.17)">IFN-b</text>
<line x1="439.70" y1="783.63" x2="461.10" y2="783.63" stroke="#30b090" stroke-width="1.1"/>
<text font-size="7.8" text-anchor="end" fill="#3a3a3a" transform="matrix(1 0 0 1.05 434.80 794.86)">IL-18</text>
<line x1="439.70" y1="792.32" x2="461.10" y2="792.32" stroke="#b0dcf4" stroke-width="1.8"/>
<text font-size="7.8" text-anchor="end" fill="#3a3a3a" transform="matrix(1 0 0 1.05 434.80 803.55)">IL-23</text>
<line x1="439.70" y1="801.01" x2="461.10" y2="801.01" stroke="#f4c070" stroke-width="1.8"/>
<rect x="509.10" y="726.50" width="117.30" height="92.90" fill="none" stroke="#c4c4c4" stroke-width="1.0"/>
<line x1="523.76" y1="819.40" x2="523.76" y2="816.40" stroke="#c4c4c4" stroke-width="1"/>
<line x1="523.76" y1="726.50" x2="523.76" y2="729.50" stroke="#c4c4c4" stroke-width="1"/>
<line x1="538.43" y1="819.40" x2="538.43" y2="816.40" stroke="#c4c4c4" stroke-width="1"/>
<line x1="538.43" y1="726.50" x2="538.43" y2="729.50" stroke="#c4c4c4" stroke-width="1"/>
<line x1="553.09" y1="819.40" x2="553.09" y2="816.40" stroke="#c4c4c4" stroke-width="1"/>
<line x1="553.09" y1="726.50" x2="553.09" y2="729.50" stroke="#c4c4c4" stroke-width="1"/>
<line x1="567.75" y1="819.40" x2="567.75" y2="816.40" stroke="#c4c4c4" stroke-width="1"/>
<line x1="567.75" y1="726.50" x2="567.75" y2="729.50" stroke="#c4c4c4" stroke-width="1"/>
<line x1="582.41" y1="819.40" x2="582.41" y2="816.40" stroke="#c4c4c4" stroke-width="1"/>
<line x1="582.41" y1="726.50" x2="582.41" y2="729.50" stroke="#c4c4c4" stroke-width="1"/>
<line x1="597.08" y1="819.40" x2="597.08" y2="816.40" stroke="#c4c4c4" stroke-width="1"/>
<line x1="597.08" y1="726.50" x2="597.08" y2="729.50" stroke="#c4c4c4" stroke-width="1"/>
<line x1="611.74" y1="819.40" x2="611.74" y2="816.40" stroke="#c4c4c4" stroke-width="1"/>
<line x1="611.74" y1="726.50" x2="611.74" y2="729.50" stroke="#c4c4c4" stroke-width="1"/>
<line x1="509.10" y1="803.92" x2="512.10" y2="803.92" stroke="#c4c4c4" stroke-width="1"/>
<line x1="626.40" y1="803.92" x2="623.40" y2="803.92" stroke="#c4c4c4" stroke-width="1"/>
<line x1="509.10" y1="788.43" x2="512.10" y2="788.43" stroke="#c4c4c4" stroke-width="1"/>
<line x1="626.40" y1="788.43" x2="623.40" y2="788.43" stroke="#c4c4c4" stroke-width="1"/>
<line x1="509.10" y1="772.95" x2="512.10" y2="772.95" stroke="#c4c4c4" stroke-width="1"/>
<line x1="626.40" y1="772.95" x2="623.40" y2="772.95" stroke="#c4c4c4" stroke-width="1"/>
<line x1="509.10" y1="757.47" x2="512.10" y2="757.47" stroke="#c4c4c4" stroke-width="1"/>
<line x1="626.40" y1="757.47" x2="623.40" y2="757.47" stroke="#c4c4c4" stroke-width="1"/>
<line x1="509.10" y1="741.98" x2="512.10" y2="741.98" stroke="#c4c4c4" stroke-width="1"/>
<line x1="626.40" y1="741.98" x2="623.40" y2="741.98" stroke="#c4c4c4" stroke-width="1"/>
<text font-size="7.6" text-anchor="middle" fill="#3a3a3a" transform="matrix(1 0 0 1.05 510.30 830.97)">0</text>
<text font-size="7.6" text-anchor="middle" fill="#3a3a3a" transform="matrix(1 0 0 1.05 524.96 830.97)">50</text>
<text font-size="7.6" text-anchor="middle" fill="#3a3a3a" transform="matrix(1 0 0 1.05 539.63 830.97)">100</text>
<text font-size="7.6" text-anchor="middle" fill="#3a3a3a" transform="matrix(1 0 0 1.05 554.29 830.97)">150</text>
<text font-size="7.6" text-anchor="middle" fill="#3a3a3a" transform="matrix(1 0 0 1.05 568.95 830.97)">200</text>
<text font-size="7.6" text-anchor="middle" fill="#3a3a3a" transform="matrix(1 0 0 1.05 583.61 830.97)">250</text>
<text font-size="7.6" text-anchor="middle" fill="#3a3a3a" transform="matrix(1 0 0 1.05 598.28 830.97)">300</text>
<text font-size="7.6" text-anchor="middle" fill="#3a3a3a" transform="matrix(1 0 0 1.05 612.94 830.97)">350</text>
<text font-size="7.6" text-anchor="middle" fill="#3a3a3a" transform="matrix(1 0 0 1.05 627.60 830.97)">400</text>
<text font-size="8.1" text-anchor="end" fill="#3a3a3a" transform="matrix(1 0 0 1.05 505.00 822.04)">0</text>
<text font-size="8.1" text-anchor="end" fill="#3a3a3a" transform="matrix(1 0 0 1.05 505.00 806.55)">100000</text>
<text font-size="8.1" text-anchor="end" fill="#3a3a3a" transform="matrix(1 0 0 1.05 505.00 791.07)">200000</text>
<text font-size="8.1" text-anchor="end" fill="#3a3a3a" transform="matrix(1 0 0 1.05 505.00 775.59)">300000</text>
<text font-size="8.1" text-anchor="end" fill="#3a3a3a" transform="matrix(1 0 0 1.05 505.00 760.10)">400000</text>
<text font-size="8.1" text-anchor="end" fill="#3a3a3a" transform="matrix(1 0 0 1.05 505.00 744.62)">500000</text>
<text font-size="8.1" text-anchor="end" fill="#3a3a3a" transform="matrix(1 0 0 1.05 505.00 729.14)">600000</text>
<text font-size="8" text-anchor="end" fill="#3a3a3a" transform="matrix(1 0 0 1.05 532.10 736.50)">D</text>
<line x1="536.90" y1="733.90" x2="558.30" y2="733.90" stroke="#56b4e9" stroke-width="1.8"/>
<text font-size="8" text-anchor="end" fill="#3a3a3a" transform="matrix(1 0 0 1.05 532.10 745.40)">IL-2</text>
<line x1="536.90" y1="742.80" x2="558.30" y2="742.80" stroke="#e8a020" stroke-width="1.2"/>
<text x="0" y="0" font-size="27.55" font-family="Liberation Sans" fill="#000" stroke="#000" stroke-width="0.45" transform="matrix(0.7819 0 0 1 1.20 15.72)">a</text>
<text x="0" y="0" font-size="29.25" font-family="Liberation Sans" fill="#000" stroke="#000" stroke-width="0.45" transform="matrix(0.8424 0 0 1 2.40 273.31)">b</text>
<text x="0" y="0" font-size="28.28" font-family="Liberation Sans" fill="#000" stroke="#000" stroke-width="0.45" transform="matrix(0.8556 0 0 1 1.10 501.12)">c</text>
<text x="0" y="0" font-size="29.66" font-family="Liberation Sans" fill="#000" stroke="#000" stroke-width="0.45" transform="matrix(0.8429 0 0 1 1.10 729.50)">d</text>
<text x="0" y="0" font-size="29.01" font-family="Liberation Sans" fill="#000" stroke="#000" stroke-width="0.45" transform="matrix(0.8430 0 0 1 342.50 16.31)">e</text>
<text x="0" y="0" font-size="30.25" font-family="Liberation Sans" fill="#000" stroke="#000" stroke-width="0.45" transform="matrix(1.1335 0 0 1 341.80 273.90)">f</text>
<text x="0" y="0" font-size="27.40" font-family="Liberation Serif" fill="#000" stroke="#000" stroke-width="0.7" transform="matrix(0.8833 0 0 1 343.55 500.13)">g</text>
<text x="0" y="0" font-size="29.79" font-family="Liberation Sans" fill="#000" stroke="#000" stroke-width="0.45" transform="matrix(0.7425 0 0 1 351.10 732.70)">h</text>
<polyline points="59.6,217.5 59.9,217.5 60.1,217.5 60.4,217.5 60.6,217.5 60.9,217.5 61.1,217.5 61.4,217.5 61.6,217.5 61.9,217.5 62.1,217.5 62.4,217.5 62.6,217.5 62.9,217.5 63.1,217.5 63.4,217.5 63.6,217.5 63.9,217.5 64.1,217.5 64.4,217.5 64.6,217.5 64.9,217.5 65.1,217.5 65.4,217.5 65.6,217.5 65.9,217.5 66.1,217.5 66.4,217.5 66.6,217.5 66.9,217.5 67.1,217.5 67.4,217.5 67.6,217.4 67.9,217.4 68.1,217.4 68.4,217.4 68.6,217.4 68.9,217.4 69.1,217.4 69.4,217.4 69.6,217.4 69.9,217.4 70.1,217.4 70.4,217.4 70.6,217.4 70.9,217.4 71.1,217.4 71.4,217.4 71.6,217.4 71.9,217.4 72.1,217.3 72.4,217.3 72.6,217.3 72.9,217.3 73.1,217.3 73.4,217.3 73.5,217.3 73.6,217.3 73.9,217.2 74.1,217.0 74.4,216.8 74.6,216.6 74.9,216.4 75.1,216.1 75.4,216.0 75.5,215.9 75.6,215.8 75.9,215.7 76.1,215.6 76.4,215.4 76.6,215.3 76.9,215.2 77.1,215.1 77.4,215.0 77.6,214.9 77.9,214.8 78.1,214.7 78.4,214.6 78.6,214.6 78.7,214.6 78.9,214.6 79.1,214.5 79.4,214.5 79.7,214.5 79.9,214.5 80.2,214.5 80.4,214.4 80.7,214.4 80.9,214.4 81.2,214.4 81.4,214.4 81.5,214.4 81.7,214.4 81.9,214.4 82.2,214.4 82.4,214.4 82.7,214.4 82.9,214.4 83.2,214.5 83.4,214.5 83.7,214.5 83.9,214.5 84.2,214.5 84.4,214.6 84.7,214.6 84.9,214.6 85.2,214.7 85.4,214.7 85.7,214.7 85.9,214.8 86.2,214.8 86.4,214.8 86.7,214.9 86.9,214.9 87.2,214.9 87.4,215.0 87.7,215.0 87.9,215.0 88.2,215.1 88.4,215.1 88.7,215.1 88.9,215.2 89.2,215.2 89.4,215.2 89.7,215.3 89.9,215.3 90.0,215.3 90.2,215.3 90.4,215.3 90.7,215.4 90.9,215.4 91.2,215.4 91.4,215.5 91.7,215.5 91.9,215.5 92.2,215.6 92.4,215.6 92.7,215.6 92.9,215.6 93.2,215.7 93.4,215.7 93.7,215.7 93.9,215.8 94.2,215.8 94.4,215.8 94.7,215.9 94.9,215.9 95.2,215.9 95.4,216.0 95.7,216.0 95.9,216.0 96.2,216.1 96.4,216.1 96.7,216.1 96.9,216.1 97.2,216.2 97.4,216.2 97.7,216.2 97.9,216.2 98.2,216.3 98.4,216.3 98.7,216.3 99.0,216.3 99.2,216.3 99.5,216.4 99.7,216.4 100.0,216.4 100.0,216.4 100.2,216.4 100.5,216.4 100.7,216.4 101.0,216.5 101.2,216.5 101.5,216.5 101.7,216.5 102.0,216.5 102.2,216.5 102.5,216.5 102.7,216.6 103.0,216.6 103.2,216.6 103.5,216.6 103.7,216.6 104.0,216.6 104.2,216.6 104.5,216.6 104.7,216.7 105.0,216.7 105.2,216.7 105.5,216.7 105.7,216.7 106.0,216.7 106.2,216.7 106.5,216.7 106.7,216.8 107.0,216.8 107.2,216.8 107.5,216.8 107.7,216.8 108.0,216.8 108.2,216.8 108.5,216.8 108.7,216.8 109.0,216.8 109.2,216.9 109.5,216.9 109.7,216.9 110.0,216.9 110.2,216.9 110.5,216.9 110.7,216.9 111.0,216.9 111.2,216.9 111.5,216.9 111.7,216.9 112.0,216.9 112.2,216.9 112.5,217.0 112.7,217.0 113.0,217.0 113.2,217.0 113.5,217.0 113.7,217.0 114.0,217.0 114.2,217.0 114.5,217.0 114.7,217.0 115.0,217.0 115.0,217.0 115.2,217.0 115.5,217.0 115.7,217.0 116.0,217.0 116.2,217.0 116.5,217.0 116.7,217.0 117.0,217.0 117.2,217.0 117.5,217.0 117.7,217.0 118.0,217.0 118.2,217.0 118.5,217.0 118.8,217.0 119.0,217.1 119.3,217.1 119.5,217.1 119.8,217.1 120.0,217.1 120.3,217.1 120.5,217.1 120.8,217.1 121.0,217.1 121.3,217.1 121.5,217.1 121.8,217.1 122.0,217.1 122.3,217.1 122.5,217.1 122.8,217.1 123.0,217.1 123.3,217.1 123.5,217.1 123.8,217.1 124.0,217.1 124.3,217.1 124.5,217.1 124.8,217.1 125.0,217.1 125.3,217.1 125.5,217.1 125.8,217.1 126.0,217.1 126.3,217.1 126.5,217.1 126.8,217.1 127.0,217.1 127.3,217.1 127.5,217.1 127.8,217.1 128.0,217.1 128.3,217.1 128.5,217.1 128.8,217.1 129.0,217.1 129.3,217.2 129.5,217.2 129.8,217.2 130.0,217.2 130.3,217.2 130.5,217.2 130.8,217.2 131.0,217.2 131.3,217.2 131.5,217.2 131.8,217.2 132.0,217.2 132.3,217.2 132.5,217.2 132.8,217.2 133.0,217.2 133.3,217.2 133.5,217.2 133.8,217.2 134.0,217.2 134.3,217.2 134.5,217.2 134.8,217.2 135.0,217.2 135.3,217.2 135.5,217.2 135.8,217.2 136.0,217.2 136.3,217.2 136.5,217.2 136.8,217.2 137.0,217.2 137.3,217.2 137.5,217.2 137.8,217.2 138.0,217.2 138.3,217.2 138.6,217.2 138.8,217.2 139.1,217.2 139.3,217.2 139.6,217.2 139.8,217.2 140.0,217.2 140.1,217.2 140.3,217.2 140.6,217.2 140.8,217.2 141.1,217.2 141.3,217.2 141.6,217.2 141.8,217.2 142.1,217.2 142.3,217.2 142.6,217.2 142.8,217.2 143.1,217.2 143.3,217.2 143.6,217.2 143.8,217.2 144.1,217.2 144.3,217.2 144.6,217.2 144.8,217.2 145.1,217.2 145.3,217.2 145.6,217.2 145.8,217.2 146.1,217.2 146.3,217.2 146.6,217.2 146.8,217.2 147.1,217.2 147.3,217.2 147.6,217.2 147.8,217.2 148.1,217.2 148.3,217.2 148.6,217.2 148.8,217.2 149.1,217.2 149.3,217.2 149.6,217.2 149.8,217.2 150.1,217.2 150.3,217.2 150.6,217.2 150.8,217.2 151.1,217.2 151.3,217.2 151.6,217.2 151.8,217.2 152.1,217.2 152.3,217.2 152.6,217.2 152.8,217.2 153.1,217.2 153.3,217.2 153.6,217.2 153.8,217.2 154.1,217.2 154.3,217.2 154.6,217.2 154.8,217.2 155.1,217.2 155.3,217.2 155.6,217.2 155.8,217.2 156.1,217.2 156.3,217.2 156.6,217.2 156.8,217.2 157.1,217.2 157.3,217.2 157.6,217.2 157.9,217.2 158.1,217.2 158.4,217.2 158.6,217.2 158.9,217.2 159.1,217.2 159.4,217.2 159.6,217.2 159.9,217.2 160.1,217.2 160.4,217.2 160.6,217.2 160.9,217.2 161.1,217.2 161.4,217.2 161.6,217.2 161.9,217.2 162.1,217.2 162.4,217.2 162.6,217.2 162.9,217.2 163.1,217.2 163.4,217.2 163.6,217.2 163.9,217.2 164.1,217.2 164.4,217.2 164.6,217.2 164.9,217.2 165.1,217.2 165.4,217.2 165.6,217.2 165.9,217.2 166.1,217.2 166.4,217.2 166.6,217.2 166.9,217.2 167.1,217.2 167.4,217.3 167.6,217.3 167.9,217.3 168.1,217.3 168.4,217.3 168.6,217.3 168.9,217.3 169.1,217.3 169.4,217.3 169.6,217.3 169.9,217.3 170.1,217.3 170.4,217.3 170.6,217.3 170.9,217.3 171.1,217.3 171.4,217.3 171.6,217.3 171.9,217.3 172.1,217.3 172.4,217.3 172.6,217.3 172.9,217.3 173.1,217.3 173.4,217.3 173.6,217.3 173.9,217.3 174.1,217.3 174.4,217.3 174.6,217.3 174.9,217.3 175.1,217.3 175.4,217.3 175.6,217.3 175.9,217.3 176.1,217.3 176.4,217.3 176.6,217.3 176.9,217.3 177.1,217.3 177.4,217.3 177.7,217.3 177.9,217.3 178.2,217.3 178.4,217.3 178.7,217.3 178.9,217.3 179.2,217.3 179.4,217.3 179.7,217.3 179.9,217.3 180.2,217.3 180.4,217.3 180.7,217.3 180.9,217.3 181.2,217.3 181.4,217.3 181.7,217.3 181.9,217.3 182.2,217.3 182.4,217.3 182.7,217.3 182.9,217.3 183.2,217.3 183.4,217.3 183.7,217.3 183.9,217.3 184.2,217.3 184.4,217.3 184.7,217.3 184.9,217.3 185.2,217.3 185.4,217.3 185.7,217.3 185.9,217.3 186.2,217.3 186.4,217.3 186.7,217.3 186.9,217.3 187.2,217.3 187.4,217.3 187.7,217.3 187.9,217.3 188.2,217.3 188.4,217.3 188.7,217.3 188.9,217.3 189.2,217.3 189.4,217.3 189.7,217.3 189.9,217.3 190.2,217.3 190.4,217.3 190.7,217.3 190.9,217.3 191.2,217.3 191.4,217.3 191.7,217.3 191.9,217.3 192.2,217.3 192.4,217.3 192.7,217.3 192.9,217.3 193.2,217.3 193.4,217.3 193.7,217.3 193.9,217.3 194.2,217.3 194.4,217.3 194.7,217.3 194.9,217.3 195.2,217.3 195.4,217.3 195.7,217.3 195.9,217.3 196.2,217.3 196.4,217.3 196.7,217.3 196.9,217.3 197.2,217.3 197.5,217.3 197.7,217.3 198.0,217.3 198.2,217.3 198.5,217.3 198.7,217.3 199.0,217.3 199.2,217.3 199.5,217.3 199.7,217.3 200.0,217.3 200.2,217.3 200.5,217.3 200.7,217.3 201.0,217.3 201.2,217.3 201.5,217.3 201.7,217.3 202.0,217.3 202.2,217.3 202.5,217.3 202.7,217.3 203.0,217.3 203.2,217.3 203.5,217.3 203.7,217.3 204.0,217.3 204.2,217.3 204.5,217.3 204.7,217.3 205.0,217.3 205.2,217.3 205.5,217.3 205.7,217.3 206.0,217.3 206.2,217.3 206.5,217.3 206.7,217.3 207.0,217.3 207.2,217.3 207.5,217.3 207.7,217.3 208.0,217.3 208.2,217.3 208.5,217.3 208.7,217.3 209.0,217.3 209.2,217.3 209.5,217.3 209.7,217.3 210.0,217.3 210.2,217.3 210.5,217.3 210.7,217.3 211.0,217.3 211.2,217.3 211.5,217.3 211.7,217.3 212.0,217.3 212.2,217.3 212.5,217.3 212.7,217.3 213.0,217.3 213.2,217.3 213.5,217.3 213.7,217.3 214.0,217.3 214.2,217.3 214.5,217.3 214.7,217.3 215.0,217.3 215.2,217.3 215.5,217.3 215.7,217.3 216.0,217.3 216.2,217.3 216.5,217.3 216.8,217.3 217.0,217.3 217.3,217.3 217.5,217.3 217.8,217.3 218.0,217.3 218.3,217.3 218.5,217.3 218.8,217.3 219.0,217.3 219.3,217.3 219.5,217.3 219.8,217.3 220.0,217.3 220.3,217.3 220.5,217.3 220.8,217.3 221.0,217.3 221.3,217.3 221.5,217.3 221.8,217.3 222.0,217.3 222.3,217.3 222.5,217.3 222.8,217.3 223.0,217.3 223.3,217.3 223.5,217.3 223.8,217.3 224.0,217.3 224.3,217.3 224.5,217.3 224.8,217.3 225.0,217.3 225.3,217.3 225.5,217.3 225.8,217.3 226.0,217.3 226.3,217.3 226.5,217.3 226.8,217.3 227.0,217.3 227.3,217.3 227.5,217.3 227.8,217.3 228.0,217.3 228.3,217.3 228.5,217.3 228.8,217.3 229.0,217.3 229.3,217.3 229.5,217.3 229.8,217.3 230.0,217.3 230.3,217.3 230.5,217.3 230.8,217.3 231.0,217.3 231.3,217.3 231.5,217.3 231.8,217.3 232.0,217.3 232.3,217.3 232.5,217.3 232.8,217.3 233.0,217.3 233.3,217.3 233.5,217.3 233.8,217.3 234.0,217.3 234.3,217.3 234.5,217.3 234.8,217.3 235.0,217.3 235.3,217.3 235.5,217.3 235.8,217.3 236.0,217.3 236.3,217.3" fill="none" stroke="#e51e10" stroke-width="1.0" stroke-linejoin="round"/>
<polyline points="59.6,217.5 59.9,217.3 60.1,217.1 60.4,216.9 60.6,216.7 60.9,216.5 61.1,216.3 61.4,216.1 61.6,215.9 61.9,215.6 62.0,215.5 62.1,215.4 62.4,215.1 62.6,214.8 62.9,214.4 63.1,214.1 63.4,213.7 63.6,213.3 63.9,213.0 64.1,212.6 64.4,212.4 64.6,212.1 64.9,212.0 65.1,211.9 65.1,211.9 65.4,211.9 65.6,211.8 65.9,211.8 66.1,211.7 66.4,211.7 66.6,211.7 66.9,211.7 67.1,211.6 67.4,211.6 67.6,211.6 67.9,211.6 68.0,211.6 68.1,211.6 68.4,211.6 68.6,211.6 68.9,211.6 69.1,211.6 69.4,211.6 69.6,211.7 69.9,211.7 70.1,211.7 70.4,211.7 70.6,211.8 70.9,211.8 71.1,211.9 71.4,211.9 71.6,212.0 71.9,212.0 72.1,212.1 72.4,212.2 72.6,212.2 72.8,212.3 72.9,212.4 73.1,213.4 73.4,215.0 73.6,216.2 73.8,216.5 73.9,216.4 74.1,214.9 74.4,212.0 74.6,208.4 74.9,204.4 75.1,200.8 75.2,200.0 75.4,197.5 75.6,193.9 75.9,190.2 76.1,186.6 76.4,183.3 76.6,180.5 76.7,180.0 76.9,178.3 77.1,176.2 77.4,174.2 77.6,172.4 77.9,170.9 78.1,169.9 78.3,169.5 78.4,169.3 78.6,168.8 78.9,168.4 79.1,168.1 79.4,167.9 79.7,167.7 79.8,167.7 79.9,167.7 80.2,167.8 80.4,168.0 80.7,168.3 80.9,168.6 81.2,169.0 81.4,169.4 81.5,169.5 81.7,169.8 81.9,170.3 82.2,170.9 82.4,171.7 82.7,172.5 82.9,173.4 83.2,174.3 83.4,175.3 83.7,176.3 83.9,177.2 84.2,178.1 84.4,179.0 84.7,179.8 84.9,180.5 85.1,181.0 85.2,181.2 85.4,181.7 85.7,182.3 85.9,182.8 86.2,183.4 86.4,183.9 86.7,184.4 86.9,184.9 87.2,185.4 87.4,185.9 87.7,186.4 87.9,186.8 88.2,187.3 88.4,187.7 88.7,188.1 88.9,188.6 89.2,189.0 89.4,189.4 89.7,189.8 89.9,190.2 90.2,190.5 90.4,190.9 90.7,191.3 90.9,191.6 91.2,192.0 91.4,192.3 91.5,192.4 91.7,192.6 91.9,193.0 92.2,193.3 92.4,193.6 92.7,193.9 92.9,194.2 93.2,194.5 93.4,194.8 93.7,195.1 93.9,195.4 94.2,195.7 94.4,196.0 94.7,196.3 94.9,196.5 95.2,196.8 95.4,197.1 95.7,197.3 95.9,197.6 96.2,197.8 96.4,198.1 96.7,198.3 96.9,198.5 97.2,198.8 97.4,199.0 97.7,199.2 97.9,199.5 98.2,199.7 98.4,199.9 98.7,200.1 98.7,200.1 99.0,200.3 99.2,200.5 99.5,200.7 99.7,200.9 100.0,201.1 100.2,201.3 100.5,201.5 100.7,201.7 101.0,201.9 101.2,202.1 101.5,202.3 101.7,202.5 102.0,202.6 102.2,202.8 102.5,203.0 102.7,203.2 103.0,203.4 103.2,203.5 103.5,203.7 103.7,203.9 104.0,204.0 104.2,204.2 104.5,204.4 104.7,204.5 105.0,204.7 105.2,204.8 105.5,205.0 105.7,205.1 106.0,205.3 106.2,205.4 106.5,205.6 106.7,205.7 107.0,205.9 107.2,206.0 107.5,206.1 107.7,206.3 107.8,206.3 108.0,206.4 108.2,206.5 108.5,206.7 108.7,206.8 109.0,206.9 109.2,207.0 109.5,207.2 109.7,207.3 110.0,207.4 110.2,207.6 110.5,207.7 110.7,207.8 111.0,207.9 111.2,208.1 111.5,208.2 111.7,208.3 112.0,208.4 112.2,208.5 112.5,208.6 112.7,208.7 113.0,208.9 113.2,209.0 113.5,209.1 113.7,209.2 114.0,209.3 114.2,209.4 114.5,209.5 114.7,209.5 115.0,209.6 115.2,209.7 115.5,209.8 115.7,209.9 116.0,210.0 116.2,210.0 116.5,210.1 116.7,210.2 116.9,210.2 117.0,210.2 117.2,210.3 117.5,210.3 117.7,210.4 118.0,210.5 118.2,210.5 118.5,210.6 118.8,210.6 119.0,210.7 119.3,210.8 119.5,210.8 119.8,210.9 120.0,210.9 120.3,211.0 120.5,211.0 120.8,211.1 121.0,211.1 121.3,211.2 121.5,211.2 121.8,211.3 122.0,211.3 122.3,211.4 122.5,211.4 122.8,211.5 123.0,211.5 123.3,211.6 123.5,211.6 123.8,211.7 124.0,211.7 124.3,211.7 124.5,211.8 124.8,211.8 125.0,211.9 125.3,211.9 125.5,211.9 125.8,212.0 126.0,212.0 126.3,212.0 126.5,212.1 126.8,212.1 127.0,212.1 127.3,212.2 127.5,212.2 127.8,212.2 128.0,212.2 128.3,212.3 128.5,212.3 128.8,212.3 129.0,212.3 129.3,212.3 129.5,212.3 129.8,212.4 130.0,212.4 130.3,212.4 130.5,212.4 130.5,212.4 130.8,212.4 131.0,212.4 131.3,212.4 131.5,212.4 131.8,212.5 132.0,212.5 132.3,212.5 132.5,212.5 132.8,212.5 133.0,212.5 133.3,212.5 133.5,212.5 133.8,212.5 134.0,212.5 134.3,212.5 134.5,212.6 134.8,212.6 135.0,212.6 135.3,212.6 135.5,212.6 135.8,212.6 136.0,212.6 136.3,212.6 136.5,212.6 136.8,212.6 137.0,212.6 137.3,212.7 137.5,212.7 137.8,212.7 138.0,212.7 138.3,212.7 138.6,212.7 138.8,212.7 139.1,212.7 139.3,212.7 139.6,212.7 139.8,212.7 140.1,212.7 140.3,212.7 140.6,212.8 140.8,212.8 141.1,212.8 141.3,212.8 141.6,212.8 141.8,212.8 142.1,212.8 142.3,212.8 142.6,212.8 142.8,212.8 143.1,212.8 143.3,212.8 143.6,212.8 143.8,212.8 144.1,212.8 144.3,212.9 144.6,212.9 144.8,212.9 145.1,212.9 145.3,212.9 145.6,212.9 145.8,212.9 146.1,212.9 146.3,212.9 146.6,212.9 146.8,212.9 147.1,212.9 147.3,212.9 147.6,212.9 147.8,212.9 148.1,212.9 148.3,212.9 148.6,213.0 148.8,213.0 149.1,213.0 149.3,213.0 149.6,213.0 149.8,213.0 150.1,213.0 150.3,213.0 150.6,213.0 150.8,213.0 151.1,213.0 151.3,213.0 151.6,213.0 151.8,213.0 152.1,213.0 152.3,213.0 152.6,213.0 152.8,213.0 153.1,213.0 153.3,213.0 153.6,213.0 153.8,213.1 154.1,213.1 154.3,213.1 154.6,213.1 154.8,213.1 155.1,213.1 155.3,213.1 155.6,213.1 155.8,213.1 156.1,213.1 156.3,213.1 156.6,213.1 156.8,213.1 157.1,213.1 157.3,213.1 157.6,213.1 157.9,213.1 158.1,213.1 158.4,213.1 158.6,213.1 158.9,213.1 159.1,213.1 159.4,213.1 159.6,213.1 159.9,213.1 160.1,213.1 160.4,213.1 160.6,213.1 160.9,213.1 161.1,213.1 161.4,213.1 161.6,213.1 161.9,213.2 162.1,213.2 162.4,213.2 162.6,213.2 162.9,213.2 163.1,213.2 163.4,213.2 163.6,213.2 163.9,213.2 164.1,213.2 164.4,213.2 164.6,213.2 164.9,213.2 165.1,213.2 165.4,213.2 165.6,213.2 165.9,213.2 166.1,213.2 166.4,213.2 166.6,213.2 166.9,213.2 167.1,213.2 167.4,213.2 167.6,213.2 167.9,213.2 168.1,213.2 168.4,213.2 168.6,213.2 168.9,213.2 169.1,213.2 169.4,213.2 169.6,213.2 169.9,213.2 170.0,213.2 170.1,213.2 170.4,213.2 170.6,213.2 170.9,213.2 171.1,213.2 171.4,213.2 171.6,213.2 171.9,213.2 172.1,213.2 172.4,213.2 172.6,213.2 172.9,213.2 173.1,213.2 173.4,213.2 173.6,213.2 173.9,213.2 174.1,213.2 174.4,213.2 174.6,213.2 174.9,213.2 175.1,213.2 175.4,213.2 175.6,213.2 175.9,213.2 176.1,213.2 176.4,213.2 176.6,213.2 176.9,213.2 177.1,213.2 177.4,213.2 177.7,213.2 177.9,213.2 178.2,213.2 178.4,213.2 178.7,213.2 178.9,213.2 179.2,213.2 179.4,213.2 179.7,213.2 179.9,213.2 180.2,213.2 180.4,213.2 180.7,213.2 180.9,213.2 181.2,213.2 181.4,213.2 181.7,213.2 181.9,213.2 182.2,213.2 182.4,213.2 182.7,213.2 182.9,213.2 183.2,213.2 183.4,213.2 183.7,213.2 183.9,213.2 184.2,213.2 184.4,213.2 184.7,213.2 184.9,213.2 185.2,213.2 185.4,213.2 185.7,213.2 185.9,213.2 186.2,213.2 186.4,213.2 186.7,213.2 186.9,213.2 187.2,213.2 187.4,213.2 187.7,213.2 187.9,213.2 188.2,213.2 188.4,213.2 188.7,213.2 188.9,213.2 189.2,213.2 189.4,213.3 189.7,213.3 189.9,213.3 190.2,213.3 190.4,213.3 190.7,213.3 190.9,213.3 191.2,213.3 191.4,213.3 191.7,213.3 191.9,213.3 192.2,213.3 192.4,213.3 192.7,213.3 192.9,213.3 193.2,213.3 193.4,213.3 193.7,213.3 193.9,213.3 194.2,213.3 194.4,213.3 194.7,213.3 194.9,213.3 195.2,213.3 195.4,213.3 195.7,213.3 195.9,213.3 196.2,213.3 196.4,213.3 196.7,213.3 196.9,213.3 197.2,213.3 197.5,213.3 197.7,213.3 198.0,213.3 198.2,213.3 198.5,213.3 198.7,213.3 199.0,213.3 199.2,213.3 199.5,213.3 199.7,213.3 200.0,213.3 200.2,213.3 200.5,213.3 200.7,213.3 201.0,213.3 201.2,213.3 201.5,213.3 201.7,213.3 202.0,213.3 202.2,213.3 202.5,213.3 202.7,213.3 203.0,213.3 203.2,213.3 203.5,213.3 203.7,213.3 204.0,213.3 204.2,213.3 204.5,213.3 204.7,213.3 205.0,213.3 205.2,213.3 205.5,213.3 205.7,213.3 206.0,213.3 206.2,213.3 206.5,213.3 206.7,213.3 207.0,213.3 207.2,213.3 207.5,213.3 207.7,213.3 208.0,213.3 208.2,213.3 208.5,213.3 208.7,213.3 209.0,213.3 209.2,213.3 209.5,213.3 209.7,213.3 210.0,213.3 210.2,213.3 210.5,213.3 210.7,213.3 211.0,213.3 211.2,213.3 211.5,213.3 211.7,213.3 212.0,213.3 212.2,213.3 212.5,213.3 212.7,213.3 213.0,213.3 213.2,213.3 213.5,213.3 213.7,213.3 214.0,213.3 214.2,213.3 214.5,213.3 214.7,213.3 215.0,213.3 215.2,213.3 215.5,213.3 215.7,213.3 216.0,213.3 216.2,213.3 216.5,213.3 216.8,213.3 217.0,213.3 217.3,213.3 217.5,213.3 217.8,213.3 218.0,213.3 218.3,213.3 218.5,213.3 218.8,213.3 219.0,213.3 219.3,213.3 219.5,213.3 219.8,213.3 220.0,213.3 220.3,213.3 220.5,213.3 220.8,213.3 221.0,213.3 221.3,213.3 221.5,213.3 221.8,213.3 222.0,213.3 222.3,213.3 222.5,213.3 222.8,213.3 223.0,213.3 223.3,213.3 223.5,213.3 223.8,213.3 224.0,213.3 224.3,213.3 224.5,213.3 224.8,213.3 225.0,213.3 225.3,213.3 225.5,213.3 225.8,213.3 226.0,213.3 226.3,213.3 226.5,213.3 226.8,213.3 227.0,213.3 227.3,213.3 227.5,213.3 227.8,213.3 228.0,213.3 228.3,213.3 228.5,213.3 228.8,213.3 229.0,213.3 229.3,213.3 229.5,213.3 229.8,213.3 230.0,213.3 230.3,213.3 230.5,213.3 230.8,213.3 231.0,213.3 231.3,213.3 231.5,213.3 231.8,213.3 232.0,213.3 232.3,213.3 232.5,213.3 232.8,213.3 233.0,213.3 233.3,213.3 233.5,213.3 233.8,213.3 234.0,213.3 234.3,213.3 234.5,213.3 234.8,213.3 235.0,213.3 235.3,213.3 235.5,213.3 235.8,213.3 236.0,213.3 236.3,213.3" fill="none" stroke="#9400d3" stroke-width="1.3" stroke-linejoin="round"/>
<polyline points="59.6,217.5 59.9,217.3 60.1,217.1 60.4,216.8 60.6,216.6 60.9,216.4 61.1,216.1 61.4,215.9 61.6,215.6 61.9,215.4 62.0,215.2 62.1,215.1 62.4,214.8 62.6,214.4 62.9,214.1 63.1,213.7 63.4,213.3 63.6,212.9 63.9,212.6 64.1,212.2 64.4,212.0 64.6,211.7 64.9,211.6 65.1,211.5 65.1,211.5 65.4,211.5 65.6,211.4 65.9,211.4 66.1,211.3 66.4,211.3 66.6,211.3 66.9,211.3 67.1,211.2 67.4,211.2 67.6,211.2 67.9,211.2 68.0,211.2 68.1,211.2 68.4,211.2 68.6,211.2 68.9,211.2 69.1,211.2 69.4,211.2 69.6,211.3 69.9,211.3 70.1,211.3 70.4,211.4 70.6,211.4 70.9,211.4 71.1,211.5 71.4,211.5 71.6,211.6 71.9,211.7 72.1,211.8 72.4,211.8 72.6,211.9 72.8,212.0 72.9,212.1 73.1,213.2 73.4,214.7 73.6,215.9 73.8,216.2 73.9,216.1 74.1,214.4 74.4,211.2 74.6,207.2 74.9,202.9 75.1,198.9 75.2,198.0 75.4,195.2 75.6,191.2 75.9,187.0 76.1,183.0 76.4,179.4 76.6,176.5 76.7,176.0 76.9,174.3 77.1,172.2 77.4,170.3 77.6,168.6 77.9,167.3 78.1,166.4 78.3,166.0 78.4,165.8 78.6,165.4 78.9,165.1 79.1,164.8 79.4,164.6 79.7,164.5 79.8,164.5 79.9,164.5 80.2,164.6 80.4,164.8 80.7,165.0 80.9,165.3 81.2,165.7 81.4,166.1 81.5,166.2 81.7,166.5 81.9,167.1 82.2,167.8 82.4,168.7 82.7,169.7 82.9,170.8 83.2,172.0 83.4,173.2 83.7,174.4 83.9,175.5 84.2,176.7 84.4,177.7 84.7,178.7 84.9,179.5 85.1,180.0 85.2,180.2 85.4,180.8 85.7,181.4 85.9,182.0 86.2,182.5 86.4,183.1 86.7,183.6 86.9,184.1 87.2,184.6 87.4,185.1 87.7,185.5 87.9,186.0 88.2,186.4 88.4,186.8 88.7,187.3 88.9,187.7 89.2,188.1 89.4,188.5 89.7,188.8 89.9,189.2 90.2,189.6 90.4,189.9 90.7,190.3 90.9,190.6 91.2,191.0 91.4,191.3 91.5,191.4 91.7,191.6 91.9,192.0 92.2,192.3 92.4,192.6 92.7,192.9 92.9,193.2 93.2,193.5 93.4,193.8 93.7,194.1 93.9,194.4 94.2,194.7 94.4,195.0 94.7,195.3 94.9,195.5 95.2,195.8 95.4,196.0 95.7,196.3 95.9,196.6 96.2,196.8 96.4,197.0 96.7,197.3 96.9,197.5 97.2,197.8 97.4,198.0 97.7,198.2 97.9,198.4 98.2,198.7 98.4,198.9 98.7,199.1 98.7,199.1 99.0,199.3 99.2,199.5 99.5,199.7 99.7,199.9 100.0,200.1 100.2,200.4 100.5,200.6 100.7,200.8 101.0,200.9 101.2,201.1 101.5,201.3 101.7,201.5 102.0,201.7 102.2,201.9 102.5,202.1 102.7,202.3 103.0,202.5 103.2,202.6 103.5,202.8 103.7,203.0 104.0,203.2 104.2,203.3 104.5,203.5 104.7,203.7 105.0,203.8 105.2,204.0 105.5,204.1 105.7,204.3 106.0,204.4 106.2,204.6 106.5,204.7 106.7,204.9 107.0,205.0 107.2,205.2 107.5,205.3 107.7,205.5 107.8,205.5 108.0,205.6 108.2,205.7 108.5,205.9 108.7,206.0 109.0,206.1 109.2,206.3 109.5,206.4 109.7,206.5 110.0,206.7 110.2,206.8 110.5,206.9 110.7,207.0 111.0,207.2 111.2,207.3 111.5,207.4 111.7,207.5 112.0,207.7 112.2,207.8 112.5,207.9 112.7,208.0 113.0,208.1 113.2,208.2 113.5,208.3 113.7,208.4 114.0,208.5 114.2,208.6 114.5,208.7 114.7,208.8 115.0,208.9 115.2,209.0 115.5,209.1 115.7,209.2 116.0,209.2 116.2,209.3 116.5,209.4 116.7,209.5 116.9,209.5 117.0,209.5 117.2,209.6 117.5,209.6 117.7,209.7 118.0,209.8 118.2,209.8 118.5,209.9 118.8,210.0 119.0,210.0 119.3,210.1 119.5,210.1 119.8,210.2 120.0,210.2 120.3,210.3 120.5,210.4 120.8,210.4 121.0,210.5 121.3,210.5 121.5,210.6 121.8,210.6 122.0,210.7 122.3,210.7 122.5,210.8 122.8,210.8 123.0,210.9 123.3,210.9 123.5,211.0 123.8,211.0 124.0,211.0 124.3,211.1 124.5,211.1 124.8,211.2 125.0,211.2 125.3,211.3 125.5,211.3 125.8,211.3 126.0,211.4 126.3,211.4 126.5,211.4 126.8,211.5 127.0,211.5 127.3,211.5 127.5,211.6 127.8,211.6 128.0,211.6 128.3,211.6 128.5,211.7 128.8,211.7 129.0,211.7 129.3,211.7 129.5,211.7 129.8,211.8 130.0,211.8 130.3,211.8 130.5,211.8 130.5,211.8 130.8,211.8 131.0,211.8 131.3,211.8 131.5,211.9 131.8,211.9 132.0,211.9 132.3,211.9 132.5,211.9 132.8,211.9 133.0,211.9 133.3,211.9 133.5,211.9 133.8,212.0 134.0,212.0 134.3,212.0 134.5,212.0 134.8,212.0 135.0,212.0 135.3,212.0 135.5,212.0 135.8,212.0 136.0,212.1 136.3,212.1 136.5,212.1 136.8,212.1 137.0,212.1 137.3,212.1 137.5,212.1 137.8,212.1 138.0,212.1 138.3,212.1 138.6,212.2 138.8,212.2 139.1,212.2 139.3,212.2 139.6,212.2 139.8,212.2 140.1,212.2 140.3,212.2 140.6,212.2 140.8,212.2 141.1,212.2 141.3,212.3 141.6,212.3 141.8,212.3 142.1,212.3 142.3,212.3 142.6,212.3 142.8,212.3 143.1,212.3 143.3,212.3 143.6,212.3 143.8,212.3 144.1,212.3 144.3,212.4 144.6,212.4 144.8,212.4 145.1,212.4 145.3,212.4 145.6,212.4 145.8,212.4 146.1,212.4 146.3,212.4 146.6,212.4 146.8,212.4 147.1,212.4 147.3,212.4 147.6,212.5 147.8,212.5 148.1,212.5 148.3,212.5 148.6,212.5 148.8,212.5 149.1,212.5 149.3,212.5 149.6,212.5 149.8,212.5 150.1,212.5 150.3,212.5 150.6,212.5 150.8,212.5 151.1,212.5 151.3,212.5 151.6,212.5 151.8,212.6 152.1,212.6 152.3,212.6 152.6,212.6 152.8,212.6 153.1,212.6 153.3,212.6 153.6,212.6 153.8,212.6 154.1,212.6 154.3,212.6 154.6,212.6 154.8,212.6 155.1,212.6 155.3,212.6 155.6,212.6 155.8,212.6 156.1,212.6 156.3,212.6 156.6,212.6 156.8,212.7 157.1,212.7 157.3,212.7 157.6,212.7 157.9,212.7 158.1,212.7 158.4,212.7 158.6,212.7 158.9,212.7 159.1,212.7 159.4,212.7 159.6,212.7 159.9,212.7 160.1,212.7 160.4,212.7 160.6,212.7 160.9,212.7 161.1,212.7 161.4,212.7 161.6,212.7 161.9,212.7 162.1,212.7 162.4,212.7 162.6,212.7 162.9,212.7 163.1,212.7 163.4,212.7 163.6,212.7 163.9,212.8 164.1,212.8 164.4,212.8 164.6,212.8 164.9,212.8 165.1,212.8 165.4,212.8 165.6,212.8 165.9,212.8 166.1,212.8 166.4,212.8 166.6,212.8 166.9,212.8 167.1,212.8 167.4,212.8 167.6,212.8 167.9,212.8 168.1,212.8 168.4,212.8 168.6,212.8 168.9,212.8 169.1,212.8 169.4,212.8 169.6,212.8 169.9,212.8 170.0,212.8 170.1,212.8 170.4,212.8 170.6,212.8 170.9,212.8 171.1,212.8 171.4,212.8 171.6,212.8 171.9,212.8 172.1,212.8 172.4,212.8 172.6,212.8 172.9,212.8 173.1,212.8 173.4,212.8 173.6,212.8 173.9,212.8 174.1,212.8 174.4,212.8 174.6,212.8 174.9,212.8 175.1,212.8 175.4,212.8 175.6,212.8 175.9,212.8 176.1,212.8 176.4,212.8 176.6,212.8 176.9,212.8 177.1,212.8 177.4,212.8 177.7,212.8 177.9,212.8 178.2,212.8 178.4,212.8 178.7,212.8 178.9,212.8 179.2,212.8 179.4,212.9 179.7,212.9 179.9,212.9 180.2,212.9 180.4,212.9 180.7,212.9 180.9,212.9 181.2,212.9 181.4,212.9 181.7,212.9 181.9,212.9 182.2,212.9 182.4,212.9 182.7,212.9 182.9,212.9 183.2,212.9 183.4,212.9 183.7,212.9 183.9,212.9 184.2,212.9 184.4,212.9 184.7,212.9 184.9,212.9 185.2,212.9 185.4,212.9 185.7,212.9 185.9,212.9 186.2,212.9 186.4,212.9 186.7,212.9 186.9,212.9 187.2,212.9 187.4,212.9 187.7,212.9 187.9,212.9 188.2,212.9 188.4,212.9 188.7,212.9 188.9,212.9 189.2,212.9 189.4,212.9 189.7,212.9 189.9,212.9 190.2,212.9 190.4,212.9 190.7,212.9 190.9,212.9 191.2,212.9 191.4,212.9 191.7,212.9 191.9,212.9 192.2,212.9 192.4,212.9 192.7,212.9 192.9,212.9 193.2,212.9 193.4,212.9 193.7,212.9 193.9,212.9 194.2,212.9 194.4,212.9 194.7,212.9 194.9,212.9 195.2,212.9 195.4,212.9 195.7,212.9 195.9,212.9 196.2,212.9 196.4,212.9 196.7,212.9 196.9,212.9 197.2,212.9 197.5,212.9 197.7,212.9 198.0,212.9 198.2,212.9 198.5,212.9 198.7,212.9 199.0,212.9 199.2,212.9 199.5,212.9 199.7,212.9 200.0,212.9 200.2,212.9 200.5,212.9 200.7,212.9 201.0,212.9 201.2,212.9 201.5,212.9 201.7,212.9 202.0,212.9 202.2,212.9 202.5,212.9 202.7,212.9 203.0,212.9 203.2,212.9 203.5,212.9 203.7,212.9 204.0,213.0 204.2,213.0 204.5,213.0 204.7,213.0 205.0,213.0 205.2,213.0 205.5,213.0 205.7,213.0 206.0,213.0 206.2,213.0 206.5,213.0 206.7,213.0 207.0,213.0 207.2,213.0 207.5,213.0 207.7,213.0 208.0,213.0 208.2,213.0 208.5,213.0 208.7,213.0 209.0,213.0 209.2,213.0 209.5,213.0 209.7,213.0 210.0,213.0 210.2,213.0 210.5,213.0 210.7,213.0 211.0,213.0 211.2,213.0 211.5,213.0 211.7,213.0 212.0,213.0 212.2,213.0 212.5,213.0 212.7,213.0 213.0,213.0 213.2,213.0 213.5,213.0 213.7,213.0 214.0,213.0 214.2,213.0 214.5,213.0 214.7,213.0 215.0,213.0 215.2,213.0 215.5,213.0 215.7,213.0 216.0,213.0 216.2,213.0 216.5,213.0 216.8,213.0 217.0,213.0 217.3,213.0 217.5,213.0 217.8,213.0 218.0,213.0 218.3,213.0 218.5,213.0 218.8,213.0 219.0,213.0 219.3,213.0 219.5,213.0 219.8,213.0 220.0,213.0 220.3,213.0 220.5,213.0 220.8,213.0 221.0,213.0 221.3,213.0 221.5,213.0 221.8,213.0 222.0,213.0 222.3,213.0 222.5,213.0 222.8,213.0 223.0,213.0 223.3,213.0 223.5,213.0 223.8,213.0 224.0,213.0 224.3,213.0 224.5,213.0 224.8,213.0 225.0,213.0 225.3,213.0 225.5,213.0 225.8,213.0 226.0,213.0 226.3,213.0 226.5,213.0 226.8,213.0 227.0,213.0 227.3,213.0 227.5,213.0 227.8,213.0 228.0,213.0 228.3,213.0 228.5,213.0 228.8,213.0 229.0,213.0 229.3,213.0 229.5,213.0 229.8,213.0 230.0,213.0 230.3,213.0 230.5,213.0 230.8,213.0 231.0,213.0 231.3,213.0 231.5,213.0 231.8,213.0 232.0,213.0 232.3,213.0 232.5,213.0 232.8,213.0 233.0,213.0 233.3,213.0 233.5,213.0 233.8,213.0 234.0,213.0 234.3,213.0 234.5,213.0 234.8,213.0 235.0,213.0 235.3,213.0 235.5,213.0 235.8,213.0 236.0,213.0 236.3,213.0" fill="none" stroke="#56b4e9" stroke-width="1.3" stroke-linejoin="round"/>
<polyline points="59.6,217.5 59.9,217.0 60.1,216.5 60.4,215.8 60.6,215.1 60.9,214.3 61.1,213.5 61.4,212.5 61.5,212.0 61.6,211.6 61.9,210.3 62.1,208.8 62.4,207.2 62.6,205.5 62.9,203.9 63.1,202.5 63.4,201.4 63.5,201.0 63.6,200.7 63.9,200.1 64.1,199.4 64.4,198.8 64.6,198.3 64.9,197.8 65.1,197.3 65.4,197.0 65.6,196.7 65.9,196.5 66.1,196.4 66.2,196.4 66.4,196.4 66.6,196.5 66.9,196.7 67.1,196.9 67.4,197.2 67.6,197.5 67.9,197.9 68.1,198.2 68.4,198.6 68.6,199.0 68.9,199.3 69.0,199.5 69.1,199.7 69.4,200.1 69.6,200.5 69.9,201.0 70.1,201.6 70.4,202.1 70.6,202.7 70.9,203.2 71.1,203.8 71.4,204.4 71.6,204.9 71.9,205.4 72.1,205.8 72.4,206.1 72.6,206.4 72.9,206.7 73.1,206.8 73.3,206.8 73.4,206.7 73.6,204.7 73.9,201.1 74.1,196.3 74.2,195.0 74.4,187.8 74.6,170.3 74.9,148.0 75.1,125.4 75.4,106.9 75.6,97.9 75.6,96.9 75.9,91.7 76.1,87.7 76.4,84.8 76.5,84.0 76.6,83.0 76.9,81.5 77.1,80.2 77.4,79.3 77.6,78.9 77.7,78.9 77.9,79.1 78.1,79.8 78.4,81.0 78.6,82.4 78.9,84.0 78.9,84.0 79.1,86.1 79.4,88.9 79.7,92.1 79.9,95.5 80.1,97.9 80.2,98.5 80.4,101.4 80.7,104.4 80.9,107.3 81.2,110.3 81.4,113.3 81.7,116.2 81.9,119.2 82.2,122.1 82.4,125.0 82.7,127.8 82.9,130.6 83.2,133.3 83.4,136.0 83.6,137.9 83.7,138.5 83.9,141.0 84.2,143.5 84.4,146.0 84.7,148.4 84.9,150.8 85.2,153.1 85.4,155.3 85.7,157.4 85.9,159.4 86.0,160.0 86.2,161.3 86.4,163.1 86.7,165.0 86.9,166.8 87.2,168.6 87.4,170.3 87.7,172.0 87.9,173.6 88.2,175.2 88.4,176.7 88.7,178.1 88.9,179.5 89.2,180.8 89.4,181.9 89.6,182.7 89.7,183.0 89.9,184.0 90.2,185.0 90.4,185.9 90.7,186.7 90.9,187.6 91.2,188.3 91.4,189.1 91.7,189.8 91.9,190.5 92.2,191.2 92.4,191.8 92.4,191.9 92.7,192.6 92.9,193.2 93.2,193.9 93.4,194.5 93.7,195.1 93.9,195.7 94.2,196.3 94.4,196.9 94.7,197.4 94.9,198.0 95.2,198.5 95.4,199.0 95.7,199.5 95.9,199.9 96.0,200.0 96.2,200.3 96.4,200.8 96.7,201.2 96.9,201.6 97.2,202.0 97.4,202.4 97.7,202.8 97.9,203.2 98.2,203.6 98.4,203.9 98.7,204.3 99.0,204.7 99.2,205.0 99.5,205.3 99.7,205.6 100.0,205.9 100.2,206.2 100.5,206.4 100.7,206.7 101.0,206.9 101.2,207.1 101.5,207.3 101.5,207.3 101.7,207.4 102.0,207.6 102.2,207.7 102.5,207.9 102.7,208.0 103.0,208.2 103.2,208.3 103.5,208.4 103.7,208.5 104.0,208.7 104.2,208.8 104.5,208.9 104.7,209.0 105.0,209.1 105.2,209.2 105.5,209.3 105.7,209.4 106.0,209.4 106.2,209.5 106.5,209.6 106.7,209.7 107.0,209.8 107.2,209.8 107.5,209.9 107.7,210.0 107.8,210.0 108.0,210.0 108.2,210.1 108.5,210.2 108.7,210.3 109.0,210.3 109.2,210.4 109.5,210.5 109.7,210.5 110.0,210.6 110.2,210.6 110.5,210.7 110.7,210.8 111.0,210.8 111.2,210.9 111.5,210.9 111.7,211.0 112.0,211.1 112.2,211.1 112.5,211.2 112.7,211.2 113.0,211.3 113.2,211.3 113.5,211.4 113.7,211.4 114.0,211.5 114.2,211.5 114.5,211.5 114.7,211.6 115.0,211.6 115.2,211.6 115.5,211.7 115.7,211.7 116.0,211.7 116.2,211.7 116.5,211.8 116.7,211.8 116.9,211.8 117.0,211.8 117.2,211.8 117.5,211.8 117.7,211.9 118.0,211.9 118.2,211.9 118.5,211.9 118.8,211.9 119.0,211.9 119.3,211.9 119.5,212.0 119.8,212.0 120.0,212.0 120.3,212.0 120.5,212.0 120.8,212.0 121.0,212.0 121.3,212.1 121.5,212.1 121.8,212.1 122.0,212.1 122.3,212.1 122.5,212.1 122.8,212.1 123.0,212.1 123.3,212.2 123.5,212.2 123.8,212.2 124.0,212.2 124.3,212.2 124.5,212.2 124.8,212.2 125.0,212.2 125.3,212.2 125.5,212.2 125.8,212.2 126.0,212.2 126.3,212.3 126.5,212.3 126.8,212.3 127.0,212.3 127.3,212.3 127.5,212.3 127.8,212.3 128.0,212.3 128.3,212.3 128.5,212.3 128.8,212.3 129.0,212.3 129.3,212.3 129.5,212.3 129.8,212.3 130.0,212.3 130.0,212.3 130.3,212.3 130.5,212.3 130.8,212.3 131.0,212.3 131.3,212.3 131.5,212.3 131.8,212.3 132.0,212.3 132.3,212.3 132.5,212.3 132.8,212.3 133.0,212.3 133.3,212.3 133.5,212.3 133.8,212.3 134.0,212.3 134.3,212.3 134.5,212.3 134.8,212.3 135.0,212.3 135.3,212.3 135.5,212.3 135.8,212.3 136.0,212.3 136.3,212.3 136.5,212.3 136.8,212.3 137.0,212.3 137.3,212.3 137.5,212.3 137.8,212.3 138.0,212.3 138.3,212.3 138.6,212.3 138.8,212.3 139.1,212.3 139.3,212.3 139.6,212.3 139.8,212.3 140.1,212.3 140.3,212.3 140.6,212.3 140.8,212.3 141.1,212.3 141.3,212.3 141.6,212.3 141.8,212.3 142.1,212.3 142.3,212.3 142.6,212.3 142.8,212.3 143.1,212.3 143.3,212.3 143.6,212.3 143.8,212.3 144.1,212.3 144.3,212.3 144.6,212.3 144.8,212.3 145.1,212.3 145.3,212.3 145.6,212.3 145.8,212.3 146.1,212.3 146.3,212.3 146.6,212.3 146.8,212.3 147.1,212.3 147.3,212.3 147.6,212.3 147.8,212.3 148.1,212.3 148.3,212.2 148.6,212.2 148.8,212.2 149.1,212.2 149.3,212.2 149.6,212.2 149.8,212.2 150.1,212.2 150.3,212.2 150.6,212.2 150.8,212.2 151.1,212.2 151.3,212.2 151.6,212.2 151.8,212.2 152.1,212.2 152.3,212.2 152.6,212.2 152.8,212.2 153.1,212.2 153.3,212.2 153.6,212.2 153.8,212.2 154.1,212.2 154.3,212.2 154.6,212.2 154.8,212.2 155.1,212.2 155.3,212.2 155.6,212.2 155.8,212.2 156.1,212.2 156.3,212.2 156.6,212.2 156.8,212.2 157.1,212.2 157.3,212.2 157.6,212.2 157.9,212.2 158.1,212.2 158.4,212.2 158.6,212.2 158.9,212.2 159.1,212.2 159.4,212.2 159.6,212.2 159.9,212.2 160.1,212.2 160.4,212.2 160.6,212.2 160.9,212.2 161.1,212.2 161.4,212.2 161.6,212.2 161.9,212.2 162.1,212.2 162.4,212.2 162.6,212.2 162.9,212.2 163.1,212.2 163.4,212.2 163.6,212.2 163.9,212.2 164.1,212.2 164.4,212.2 164.6,212.2 164.9,212.2 165.1,212.1 165.4,212.1 165.6,212.1 165.9,212.1 166.1,212.1 166.4,212.1 166.6,212.1 166.9,212.1 167.1,212.1 167.4,212.1 167.6,212.1 167.9,212.1 168.1,212.1 168.4,212.1 168.6,212.1 168.9,212.1 169.1,212.1 169.4,212.1 169.6,212.1 169.9,212.1 170.1,212.1 170.4,212.1 170.6,212.1 170.9,212.1 171.1,212.1 171.4,212.1 171.6,212.1 171.9,212.1 172.1,212.1 172.4,212.1 172.6,212.1 172.9,212.1 173.1,212.1 173.4,212.1 173.6,212.1 173.9,212.1 174.1,212.1 174.4,212.1 174.6,212.1 174.9,212.1 175.1,212.1 175.4,212.1 175.6,212.1 175.9,212.1 176.1,212.1 176.4,212.1 176.6,212.1 176.9,212.1 177.1,212.1 177.4,212.1 177.7,212.1 177.9,212.1 178.2,212.1 178.4,212.1 178.7,212.1 178.9,212.1 179.2,212.1 179.4,212.1 179.7,212.1 179.9,212.1 180.2,212.1 180.4,212.1 180.7,212.1 180.9,212.1 181.2,212.1 181.4,212.1 181.7,212.1 181.9,212.0 182.2,212.0 182.4,212.0 182.7,212.0 182.9,212.0 183.2,212.0 183.4,212.0 183.7,212.0 183.9,212.0 184.2,212.0 184.4,212.0 184.7,212.0 184.9,212.0 185.2,212.0 185.4,212.0 185.7,212.0 185.9,212.0 186.2,212.0 186.4,212.0 186.7,212.0 186.9,212.0 187.2,212.0 187.4,212.0 187.7,212.0 187.9,212.0 188.2,212.0 188.4,212.0 188.7,212.0 188.9,212.0 189.2,212.0 189.4,212.0 189.7,212.0 189.9,212.0 190.2,212.0 190.4,212.0 190.7,212.0 190.9,212.0 191.2,212.0 191.4,212.0 191.7,212.0 191.9,212.0 192.2,212.0 192.4,212.0 192.7,212.0 192.9,212.0 193.2,212.0 193.4,212.0 193.7,212.0 193.9,212.0 194.2,212.0 194.4,212.0 194.7,212.0 194.9,212.0 195.2,212.0 195.4,212.0 195.7,212.0 195.9,212.0 196.2,212.0 196.4,212.0 196.7,212.0 196.9,212.0 197.2,212.0 197.5,212.0 197.7,212.0 198.0,212.0 198.2,212.0 198.5,212.0 198.7,212.0 199.0,212.0 199.2,212.0 199.5,212.0 199.7,212.0 200.0,212.0 200.0,212.0 200.2,212.0 200.5,212.0 200.7,212.0 201.0,212.0 201.2,212.0 201.5,212.0 201.7,212.0 202.0,212.0 202.2,212.0 202.5,212.0 202.7,212.0 203.0,212.0 203.2,212.0 203.5,212.0 203.7,212.0 204.0,212.0 204.2,212.0 204.5,212.0 204.7,212.0 205.0,212.0 205.2,212.0 205.5,212.0 205.7,212.0 206.0,212.0 206.2,212.0 206.5,212.0 206.7,212.0 207.0,212.0 207.2,212.0 207.5,212.0 207.7,212.0 208.0,212.0 208.2,212.0 208.5,212.0 208.7,212.0 209.0,212.0 209.2,212.0 209.5,212.0 209.7,212.0 210.0,212.0 210.2,212.0 210.5,212.0 210.7,212.0 211.0,212.0 211.2,212.0 211.5,212.0 211.7,212.0 212.0,212.0 212.2,212.0 212.5,212.0 212.7,212.0 213.0,212.0 213.2,212.0 213.5,212.1 213.7,212.1 214.0,212.1 214.2,212.1 214.5,212.1 214.7,212.1 215.0,212.1 215.2,212.1 215.5,212.1 215.7,212.1 216.0,212.1 216.2,212.1 216.5,212.1 216.8,212.1 217.0,212.1 217.3,212.1 217.5,212.1 217.8,212.1 218.0,212.1 218.3,212.1 218.5,212.1 218.8,212.1 219.0,212.1 219.3,212.1 219.5,212.1 219.8,212.1 220.0,212.1 220.3,212.1 220.5,212.1 220.8,212.1 221.0,212.1 221.3,212.1 221.5,212.1 221.8,212.1 222.0,212.1 222.3,212.2 222.5,212.2 222.8,212.2 223.0,212.2 223.3,212.2 223.5,212.2 223.8,212.2 224.0,212.2 224.3,212.2 224.5,212.2 224.8,212.2 225.0,212.2 225.3,212.2 225.5,212.2 225.8,212.2 226.0,212.2 226.3,212.2 226.5,212.2 226.8,212.2 227.0,212.2 227.3,212.2 227.5,212.2 227.8,212.3 228.0,212.3 228.3,212.3 228.5,212.3 228.8,212.3 229.0,212.3 229.3,212.3 229.5,212.3 229.8,212.3 230.0,212.3 230.0,212.3 230.3,212.3 230.5,212.3 230.8,212.3 231.0,212.4 231.3,212.4 231.5,212.4 231.8,212.4 232.0,212.5 232.3,212.5 232.5,212.5 232.8,212.6 233.0,212.6 233.3,212.7 233.5,212.7 233.8,212.7 234.0,212.8 234.3,212.8 234.5,212.9 234.8,212.9 235.0,213.0 235.3,213.0 235.5,213.1 235.8,213.1 236.0,213.2 236.3,213.2" fill="none" stroke="#009e73" stroke-width="1.5" stroke-linejoin="round"/>
<polyline points="59.6,217.5 59.9,216.2 60.1,214.9 60.4,213.6 60.6,212.2 60.9,210.8 61.1,209.3 61.4,207.9 61.5,207.0 61.6,206.3 61.9,204.6 62.1,202.7 62.4,200.7 62.6,198.7 62.9,197.0 63.1,195.5 63.4,194.4 63.5,194.0 63.6,193.8 63.9,193.2 64.1,192.7 64.4,192.3 64.6,191.8 64.9,191.5 65.1,191.2 65.4,190.9 65.6,190.7 65.9,190.6 66.1,190.5 66.2,190.5 66.4,190.5 66.6,190.7 66.9,190.9 67.1,191.2 67.4,191.7 67.6,192.1 67.9,192.6 68.1,193.2 68.4,193.7 68.6,194.2 68.9,194.8 69.0,195.0 69.1,195.2 69.4,195.8 69.6,196.5 69.9,197.2 70.1,198.0 70.4,198.8 70.6,199.6 70.9,200.4 71.1,201.2 71.4,202.0 71.6,202.7 71.9,203.4 72.1,204.0 72.4,204.6 72.6,205.0 72.9,205.3 73.1,205.5 73.3,205.5 73.4,205.0 73.6,198.9 73.9,187.7 74.1,173.7 74.2,170.0 74.4,153.6 74.6,123.1 74.9,98.6 74.9,97.9 75.1,85.1 75.4,74.2 75.6,65.2 75.9,57.6 76.0,54.6 76.1,50.8 76.4,44.4 76.6,39.0 76.9,35.0 77.0,34.0 77.1,32.9 77.4,31.2 77.6,29.8 77.9,28.9 78.1,28.7 78.1,28.7 78.4,29.3 78.6,30.4 78.9,31.9 79.1,33.7 79.2,34.0 79.4,35.7 79.7,38.4 79.9,41.8 80.2,45.4 80.4,49.2 80.7,52.7 80.8,54.6 80.9,55.9 81.2,58.9 81.4,61.8 81.7,64.7 81.9,67.6 82.2,70.4 82.4,73.2 82.7,76.0 82.9,78.8 83.2,81.6 83.4,84.5 83.7,87.4 83.9,90.5 84.2,93.6 84.4,96.8 84.5,97.9 84.7,100.2 84.9,103.9 85.2,108.0 85.4,112.1 85.7,116.3 85.9,120.3 86.2,124.0 86.4,127.3 86.7,130.0 86.7,130.3 86.9,132.3 87.2,134.4 87.4,136.5 87.7,138.5 87.9,140.4 88.2,142.2 88.4,143.9 88.7,145.6 88.9,147.2 89.2,148.7 89.4,150.1 89.7,151.5 89.9,152.8 90.2,154.1 90.4,155.3 90.7,156.5 90.9,157.6 91.2,158.7 91.4,159.7 91.5,160.0 91.7,160.7 91.9,161.7 92.2,162.6 92.4,163.5 92.7,164.3 92.9,165.1 93.2,165.9 93.4,166.6 93.7,167.4 93.9,168.1 94.2,168.8 94.4,169.4 94.7,170.1 94.9,170.8 95.2,171.4 95.4,172.1 95.7,172.8 95.9,173.4 96.0,173.6 96.2,174.1 96.4,174.8 96.7,175.5 96.9,176.2 97.2,176.9 97.4,177.6 97.7,178.3 97.9,178.9 98.2,179.6 98.4,180.3 98.7,180.9 99.0,181.6 99.2,182.2 99.5,182.8 99.7,183.5 100.0,184.0 100.2,184.6 100.5,185.2 100.7,185.7 101.0,186.2 101.2,186.7 101.5,187.2 101.5,187.3 101.7,187.7 102.0,188.1 102.2,188.6 102.5,189.0 102.7,189.5 103.0,189.9 103.2,190.3 103.5,190.7 103.7,191.1 104.0,191.5 104.2,191.9 104.5,192.3 104.7,192.6 105.0,193.0 105.2,193.4 105.5,193.7 105.7,194.0 106.0,194.4 106.2,194.7 106.5,195.0 106.7,195.3 107.0,195.5 107.2,195.8 107.5,196.1 107.7,196.3 107.8,196.4 108.0,196.6 108.2,196.8 108.5,197.0 108.7,197.3 109.0,197.5 109.2,197.7 109.5,197.9 109.7,198.1 110.0,198.4 110.2,198.6 110.5,198.8 110.7,199.0 111.0,199.2 111.2,199.4 111.5,199.6 111.7,199.7 112.0,199.9 112.2,200.1 112.5,200.3 112.7,200.4 113.0,200.6 113.2,200.8 113.5,200.9 113.7,201.1 114.0,201.2 114.2,201.4 114.5,201.5 114.7,201.7 115.0,201.8 115.2,201.9 115.5,202.1 115.7,202.2 116.0,202.3 116.2,202.4 116.5,202.5 116.7,202.6 116.9,202.7 117.0,202.7 117.2,202.8 117.5,202.9 117.7,203.0 118.0,203.1 118.2,203.2 118.5,203.3 118.8,203.4 119.0,203.5 119.3,203.6 119.5,203.7 119.8,203.8 120.0,203.9 120.3,204.0 120.5,204.0 120.8,204.1 121.0,204.2 121.3,204.3 121.5,204.4 121.8,204.5 122.0,204.5 122.3,204.6 122.5,204.7 122.8,204.8 123.0,204.9 123.3,204.9 123.5,205.0 123.8,205.1 124.0,205.1 124.3,205.2 124.5,205.3 124.8,205.3 125.0,205.4 125.3,205.5 125.5,205.5 125.8,205.6 126.0,205.6 126.3,205.7 126.5,205.7 126.8,205.8 127.0,205.9 127.3,205.9 127.5,206.0 127.8,206.0 128.0,206.0 128.3,206.1 128.5,206.1 128.8,206.2 129.0,206.2 129.3,206.2 129.5,206.3 129.8,206.3 130.0,206.3 130.3,206.4 130.5,206.4 130.5,206.4 130.8,206.4 131.0,206.5 131.3,206.5 131.5,206.5 131.8,206.5 132.0,206.6 132.3,206.6 132.5,206.6 132.8,206.6 133.0,206.7 133.3,206.7 133.5,206.7 133.8,206.7 134.0,206.8 134.3,206.8 134.5,206.8 134.8,206.8 135.0,206.8 135.3,206.9 135.5,206.9 135.8,206.9 136.0,206.9 136.3,206.9 136.5,207.0 136.8,207.0 137.0,207.0 137.3,207.0 137.5,207.0 137.8,207.1 138.0,207.1 138.3,207.1 138.6,207.1 138.8,207.1 139.1,207.1 139.3,207.2 139.6,207.2 139.8,207.2 140.1,207.2 140.3,207.2 140.6,207.2 140.8,207.3 141.1,207.3 141.3,207.3 141.6,207.3 141.8,207.3 142.1,207.3 142.3,207.3 142.6,207.3 142.8,207.4 143.1,207.4 143.3,207.4 143.6,207.4 143.8,207.4 144.1,207.4 144.3,207.4 144.6,207.4 144.8,207.5 145.1,207.5 145.3,207.5 145.6,207.5 145.8,207.5 146.1,207.5 146.3,207.5 146.6,207.5 146.8,207.5 147.1,207.5 147.3,207.6 147.6,207.6 147.8,207.6 148.1,207.6 148.3,207.6 148.6,207.6 148.8,207.6 148.8,207.6 149.1,207.6 149.3,207.6 149.6,207.6 149.8,207.6 150.1,207.6 150.3,207.6 150.6,207.7 150.8,207.7 151.1,207.7 151.3,207.7 151.6,207.7 151.8,207.7 152.1,207.7 152.3,207.7 152.6,207.7 152.8,207.7 153.1,207.7 153.3,207.7 153.6,207.7 153.8,207.7 154.1,207.7 154.3,207.7 154.6,207.7 154.8,207.8 155.1,207.8 155.3,207.8 155.6,207.8 155.8,207.8 156.1,207.8 156.3,207.8 156.6,207.8 156.8,207.8 157.1,207.8 157.3,207.8 157.6,207.8 157.9,207.8 158.1,207.8 158.4,207.8 158.6,207.8 158.9,207.8 159.1,207.8 159.4,207.8 159.6,207.8 159.9,207.9 160.1,207.9 160.4,207.9 160.6,207.9 160.9,207.9 161.1,207.9 161.4,207.9 161.6,207.9 161.9,207.9 162.1,207.9 162.4,207.9 162.6,207.9 162.9,207.9 163.1,207.9 163.4,207.9 163.6,207.9 163.9,207.9 164.1,207.9 164.4,207.9 164.6,207.9 164.9,207.9 165.1,207.9 165.4,207.9 165.6,207.9 165.9,207.9 166.1,207.9 166.4,208.0 166.6,208.0 166.9,208.0 167.1,208.0 167.4,208.0 167.6,208.0 167.9,208.0 168.1,208.0 168.4,208.0 168.6,208.0 168.9,208.0 169.1,208.0 169.4,208.0 169.6,208.0 169.9,208.0 170.0,208.0 170.1,208.0 170.4,208.0 170.6,208.0 170.9,208.0 171.1,208.0 171.4,208.0 171.6,208.0 171.9,208.0 172.1,208.0 172.4,208.0 172.6,208.0 172.9,208.0 173.1,208.0 173.4,208.0 173.6,208.0 173.9,208.1 174.1,208.1 174.4,208.1 174.6,208.1 174.9,208.1 175.1,208.1 175.4,208.1 175.6,208.1 175.9,208.1 176.1,208.1 176.4,208.1 176.6,208.1 176.9,208.1 177.1,208.1 177.4,208.1 177.7,208.1 177.9,208.1 178.2,208.1 178.4,208.1 178.7,208.1 178.9,208.1 179.2,208.1 179.4,208.1 179.7,208.1 179.9,208.1 180.2,208.1 180.4,208.1 180.7,208.1 180.9,208.1 181.2,208.2 181.4,208.2 181.7,208.2 181.9,208.2 182.2,208.2 182.4,208.2 182.7,208.2 182.9,208.2 183.2,208.2 183.4,208.2 183.7,208.2 183.9,208.2 184.2,208.2 184.4,208.2 184.7,208.2 184.9,208.2 185.2,208.2 185.4,208.2 185.7,208.2 185.9,208.2 186.2,208.2 186.4,208.2 186.7,208.2 186.9,208.2 187.2,208.2 187.4,208.2 187.7,208.2 187.9,208.2 188.2,208.2 188.4,208.2 188.7,208.2 188.9,208.2 189.2,208.2 189.4,208.2 189.7,208.2 189.9,208.3 190.2,208.3 190.4,208.3 190.7,208.3 190.9,208.3 191.2,208.3 191.4,208.3 191.7,208.3 191.9,208.3 192.2,208.3 192.4,208.3 192.7,208.3 192.9,208.3 193.2,208.3 193.4,208.3 193.7,208.3 193.9,208.3 194.2,208.3 194.4,208.3 194.7,208.3 194.9,208.3 195.2,208.3 195.4,208.3 195.7,208.3 195.9,208.3 196.2,208.3 196.4,208.3 196.7,208.3 196.9,208.3 197.2,208.3 197.5,208.3 197.7,208.3 198.0,208.3 198.2,208.3 198.5,208.3 198.7,208.3 199.0,208.3 199.2,208.3 199.5,208.3 199.7,208.3 200.0,208.3 200.0,208.3 200.2,208.3 200.5,208.3 200.7,208.3 201.0,208.3 201.2,208.3 201.5,208.3 201.7,208.3 202.0,208.3 202.2,208.3 202.5,208.3 202.7,208.3 203.0,208.3 203.2,208.3 203.5,208.3 203.7,208.3 204.0,208.3 204.2,208.3 204.5,208.3 204.7,208.3 205.0,208.3 205.2,208.3 205.5,208.3 205.7,208.3 206.0,208.3 206.2,208.3 206.5,208.3 206.7,208.3 207.0,208.3 207.2,208.3 207.5,208.3 207.7,208.3 208.0,208.2 208.2,208.2 208.5,208.2 208.7,208.2 209.0,208.2 209.2,208.2 209.5,208.2 209.7,208.2 210.0,208.2 210.2,208.2 210.5,208.2 210.7,208.2 211.0,208.2 211.2,208.2 211.5,208.2 211.7,208.2 212.0,208.2 212.2,208.2 212.5,208.2 212.7,208.2 213.0,208.2 213.2,208.2 213.5,208.2 213.7,208.2 214.0,208.2 214.2,208.2 214.5,208.2 214.7,208.2 215.0,208.2 215.2,208.1 215.5,208.1 215.7,208.1 216.0,208.1 216.2,208.1 216.5,208.1 216.8,208.1 217.0,208.1 217.3,208.1 217.5,208.1 217.8,208.1 218.0,208.1 218.3,208.1 218.5,208.1 218.8,208.1 219.0,208.1 219.3,208.1 219.5,208.1 219.8,208.1 220.0,208.1 220.3,208.1 220.5,208.1 220.8,208.1 221.0,208.1 221.3,208.1 221.5,208.1 221.8,208.1 222.0,208.1 222.3,208.0 222.5,208.0 222.8,208.0 223.0,208.0 223.3,208.0 223.5,208.0 223.8,208.0 224.0,208.0 224.3,208.0 224.5,208.0 224.8,208.0 225.0,208.0 225.3,208.0 225.5,208.0 225.8,208.0 226.0,208.0 226.3,208.0 226.5,208.0 226.8,208.0 227.0,208.0 227.3,208.0 227.5,208.0 227.8,208.0 228.0,208.0 228.3,208.0 228.5,208.0 228.8,208.0 229.0,208.0 229.3,208.0 229.5,208.0 229.8,208.0 230.0,208.0 230.0,208.0 230.3,208.0 230.5,208.0 230.8,208.0 231.0,208.1 231.3,208.1 231.5,208.1 231.8,208.1 232.0,208.2 232.3,208.2 232.5,208.3 232.8,208.3 233.0,208.4 233.3,208.4 233.5,208.5 233.8,208.6 234.0,208.6 234.0,208.6 234.3,208.7 234.5,208.8 234.8,208.9 235.0,209.0 235.3,209.1 235.5,209.2 235.8,209.3 236.0,209.5 236.3,209.6" fill="none" stroke="#e69f00" stroke-width="1.0" stroke-linejoin="round"/>
<line x1="59.60" y1="217.30" x2="236.30" y2="217.30" stroke="#3a1e1e" stroke-width="1.1"/>
<rect x="59.50" y="38.10" width="2.0" height="179.50" fill="#000000"/>
<rect x="72.60" y="90.10" width="1.6" height="127.50" fill="#000000"/>
<polyline points="402.5,218.3 402.8,218.3 403.0,218.3 403.3,218.3 403.5,218.3 403.8,218.3 404.0,218.3 404.3,218.3 404.5,218.3 404.8,218.3 405.0,218.3 405.3,218.3 405.5,218.3 405.8,218.3 406.0,218.3 406.3,218.3 406.5,218.3 406.8,218.3 407.0,218.3 407.3,218.3 407.5,218.3 407.8,218.3 408.0,218.3 408.3,218.3 408.5,218.3 408.8,218.3 409.0,218.3 409.3,218.3 409.5,218.3 409.8,218.3 410.0,218.3 410.3,218.2 410.5,218.2 410.8,218.2 411.0,218.2 411.3,218.2 411.5,218.2 411.8,218.2 412.0,218.2 412.3,218.2 412.5,218.2 412.8,218.2 413.0,218.2 413.3,218.2 413.5,218.2 413.8,218.2 414.0,218.2 414.3,218.1 414.5,218.1 414.8,218.1 415.0,218.1 415.3,218.1 415.5,218.1 415.5,218.1 415.8,218.0 416.0,217.9 416.3,217.7 416.5,217.5 416.8,217.3 417.0,217.2 417.0,217.2 417.3,217.1 417.5,217.1 417.8,217.0 418.0,217.0 418.3,216.9 418.5,216.8 418.8,216.8 419.0,216.8 419.3,216.7 419.5,216.7 419.8,216.7 420.0,216.6 420.3,216.6 420.5,216.6 420.8,216.6 421.0,216.6 421.0,216.6 421.3,216.6 421.5,216.6 421.8,216.6 422.0,216.6 422.3,216.7 422.5,216.7 422.8,216.7 423.0,216.8 423.3,216.8 423.5,216.8 423.8,216.9 424.0,216.9 424.3,216.9 424.5,217.0 424.8,217.0 425.0,217.1 425.3,217.1 425.5,217.1 425.8,217.2 426.0,217.2 426.0,217.2 426.3,217.2 426.5,217.3 426.8,217.3 427.1,217.4 427.3,217.4 427.6,217.5 427.8,217.5 428.1,217.6 428.3,217.6 428.6,217.6 428.6,217.6 428.8,217.6 429.1,217.4 429.3,217.1 429.6,216.8 429.8,216.4 430.1,216.1 430.3,215.7 430.5,215.5 430.6,215.4 430.8,215.2 431.1,214.9 431.3,214.6 431.6,214.3 431.8,214.1 432.1,213.8 432.3,213.7 432.5,213.6 432.6,213.6 432.8,213.5 433.1,213.4 433.3,213.4 433.6,213.3 433.8,213.2 434.1,213.2 434.3,213.2 434.4,213.2 434.6,213.2 434.8,213.2 435.1,213.2 435.3,213.2 435.6,213.3 435.8,213.3 436.1,213.3 436.3,213.4 436.6,213.4 436.8,213.4 437.1,213.5 437.3,213.5 437.6,213.6 437.8,213.6 438.1,213.7 438.3,213.7 438.6,213.8 438.8,213.8 439.1,213.9 439.3,213.9 439.6,213.9 439.8,214.0 440.0,214.0 440.1,214.0 440.3,214.0 440.6,214.1 440.8,214.1 441.1,214.2 441.3,214.2 441.6,214.2 441.8,214.3 442.1,214.3 442.3,214.3 442.6,214.4 442.8,214.4 443.1,214.5 443.3,214.5 443.6,214.6 443.8,214.6 444.1,214.6 444.3,214.7 444.6,214.7 444.8,214.8 445.1,214.8 445.3,214.8 445.6,214.9 445.8,214.9 446.1,215.0 446.3,215.0 446.6,215.1 446.8,215.1 447.1,215.1 447.3,215.2 447.6,215.2 447.8,215.3 448.1,215.3 448.3,215.4 448.6,215.4 448.8,215.4 449.1,215.5 449.3,215.5 449.6,215.6 449.8,215.6 450.1,215.6 450.3,215.7 450.6,215.7 450.8,215.7 451.1,215.8 451.3,215.8 451.6,215.8 451.9,215.9 452.1,215.9 452.4,215.9 452.6,216.0 452.9,216.0 453.1,216.0 453.4,216.1 453.6,216.1 453.9,216.1 454.1,216.1 454.4,216.2 454.6,216.2 454.9,216.2 455.1,216.2 455.4,216.3 455.6,216.3 455.9,216.3 456.1,216.3 456.4,216.3 456.6,216.3 456.9,216.4 457.1,216.4 457.4,216.4 457.6,216.4 457.9,216.4 458.0,216.4 458.1,216.4 458.4,216.4 458.6,216.4 458.9,216.4 459.1,216.4 459.4,216.4 459.6,216.4 459.9,216.4 460.1,216.5 460.4,216.5 460.6,216.5 460.9,216.5 461.1,216.5 461.4,216.5 461.6,216.5 461.9,216.5 462.1,216.5 462.4,216.5 462.6,216.5 462.9,216.5 463.1,216.5 463.4,216.5 463.6,216.5 463.9,216.5 464.1,216.5 464.4,216.5 464.6,216.5 464.9,216.6 465.1,216.6 465.4,216.6 465.6,216.6 465.9,216.6 466.1,216.6 466.4,216.6 466.6,216.6 466.9,216.6 467.1,216.6 467.4,216.6 467.6,216.6 467.9,216.6 468.1,216.6 468.4,216.6 468.6,216.6 468.9,216.6 469.1,216.6 469.4,216.6 469.6,216.6 469.9,216.6 470.1,216.6 470.4,216.6 470.6,216.7 470.9,216.7 471.1,216.7 471.4,216.7 471.6,216.7 471.9,216.7 472.1,216.7 472.4,216.7 472.6,216.7 472.9,216.7 473.1,216.7 473.4,216.7 473.6,216.7 473.9,216.7 474.1,216.7 474.4,216.7 474.6,216.7 474.9,216.7 475.1,216.7 475.4,216.7 475.6,216.7 475.9,216.7 476.2,216.7 476.4,216.7 476.7,216.7 476.9,216.7 477.2,216.7 477.4,216.7 477.7,216.7 477.9,216.7 478.2,216.7 478.4,216.7 478.7,216.7 478.9,216.8 479.2,216.8 479.4,216.8 479.7,216.8 479.9,216.8 480.2,216.8 480.4,216.8 480.7,216.8 480.9,216.8 481.2,216.8 481.4,216.8 481.7,216.8 481.9,216.8 482.2,216.8 482.4,216.8 482.7,216.8 482.9,216.8 483.2,216.8 483.4,216.8 483.7,216.8 483.9,216.8 484.2,216.8 484.4,216.8 484.7,216.8 484.9,216.8 485.2,216.8 485.4,216.8 485.7,216.8 485.9,216.8 486.2,216.8 486.4,216.8 486.7,216.8 486.9,216.8 487.2,216.8 487.4,216.8 487.7,216.8 487.9,216.8 488.2,216.8 488.4,216.8 488.7,216.8 488.9,216.8 489.2,216.8 489.4,216.8 489.7,216.8 489.9,216.8 490.0,216.8 490.2,216.8 490.4,216.8 490.7,216.8 490.9,216.8 491.2,216.8 491.4,216.8 491.7,216.8 491.9,216.8 492.2,216.8 492.4,216.8 492.7,216.8 492.9,216.8 493.2,216.8 493.4,216.8 493.7,216.8 493.9,216.8 494.2,216.8 494.4,216.8 494.7,216.8 494.9,216.8 495.2,216.8 495.4,216.8 495.7,216.8 495.9,216.8 496.2,216.8 496.4,216.8 496.7,216.8 496.9,216.8 497.2,216.8 497.4,216.8 497.7,216.8 497.9,216.8 498.2,216.8 498.4,216.8 498.7,216.8 498.9,216.8 499.2,216.8 499.4,216.8 499.7,216.8 499.9,216.8 500.2,216.8 500.4,216.8 500.7,216.8 501.0,216.8 501.2,216.8 501.5,216.8 501.7,216.8 502.0,216.8 502.2,216.8 502.5,216.8 502.7,216.8 503.0,216.8 503.2,216.8 503.5,216.8 503.7,216.8 504.0,216.8 504.2,216.8 504.5,216.8 504.7,216.8 505.0,216.8 505.2,216.8 505.5,216.8 505.7,216.8 506.0,216.8 506.2,216.8 506.5,216.8 506.7,216.8 507.0,216.8 507.2,216.8 507.5,216.8 507.7,216.8 508.0,216.8 508.2,216.8 508.5,216.8 508.7,216.8 509.0,216.8 509.2,216.8 509.5,216.8 509.7,216.8 510.0,216.8 510.2,216.8 510.5,216.8 510.7,216.8 511.0,216.8 511.2,216.8 511.5,216.8 511.7,216.8 512.0,216.8 512.2,216.8 512.5,216.8 512.7,216.8 513.0,216.8 513.2,216.8 513.5,216.8 513.7,216.8 514.0,216.8 514.2,216.8 514.5,216.8 514.7,216.8 515.0,216.8 515.2,216.8 515.5,216.8 515.7,216.8 516.0,216.8 516.2,216.8 516.5,216.8 516.7,216.8 517.0,216.8 517.2,216.8 517.5,216.8 517.7,216.8 518.0,216.8 518.2,216.8 518.5,216.8 518.7,216.8 519.0,216.8 519.2,216.8 519.5,216.8 519.7,216.8 520.0,216.8 520.2,216.8 520.5,216.8 520.7,216.8 521.0,216.8 521.2,216.8 521.5,216.8 521.7,216.8 522.0,216.8 522.2,216.8 522.5,216.8 522.7,216.8 523.0,216.8 523.2,216.8 523.5,216.8 523.7,216.8 524.0,216.8 524.2,216.8 524.5,216.8 524.7,216.8 525.0,216.8 525.3,216.8 525.5,216.8 525.8,216.8 526.0,216.8 526.3,216.8 526.5,216.8 526.8,216.8 527.0,216.8 527.3,216.8 527.5,216.8 527.8,216.8 528.0,216.8 528.3,216.8 528.5,216.8 528.8,216.8 529.0,216.8 529.3,216.8 529.5,216.8 529.8,216.8 530.0,216.8 530.3,216.8 530.5,216.8 530.8,216.8 531.0,216.8 531.3,216.8 531.5,216.8 531.8,216.8 532.0,216.8 532.3,216.8 532.5,216.8 532.8,216.8 533.0,216.8 533.3,216.8 533.5,216.8 533.8,216.8 534.0,216.8 534.3,216.8 534.5,216.8 534.8,216.8 535.0,216.8 535.3,216.8 535.5,216.8 535.8,216.8 536.0,216.8 536.3,216.8 536.5,216.8 536.8,216.8 537.0,216.8 537.3,216.8 537.5,216.8 537.8,216.8 538.0,216.8 538.3,216.8 538.5,216.8 538.8,216.8 539.0,216.8 539.3,216.8 539.5,216.8 539.8,216.8 540.0,216.8 540.3,216.8 540.5,216.8 540.8,216.8 541.0,216.8 541.3,216.8 541.5,216.8 541.8,216.8 542.0,216.8 542.3,216.8 542.5,216.8 542.8,216.8 543.0,216.8 543.3,216.8 543.5,216.8 543.8,216.8 544.0,216.8 544.3,216.8 544.5,216.8 544.8,216.8 545.0,216.8 545.3,216.8 545.5,216.8 545.8,216.8 546.0,216.8 546.3,216.8 546.5,216.8 546.8,216.8 547.0,216.8 547.3,216.8 547.5,216.8 547.8,216.8 548.0,216.8 548.3,216.8 548.5,216.8 548.8,216.8 549.0,216.8 549.3,216.8 549.5,216.8 549.8,216.8 550.1,216.8 550.3,216.8 550.6,216.8 550.8,216.8 551.1,216.8 551.3,216.8 551.6,216.8 551.8,216.8 552.1,216.8 552.3,216.8 552.6,216.8 552.8,216.8 553.1,216.8 553.3,216.8 553.6,216.8 553.8,216.8 554.1,216.8 554.3,216.8 554.6,216.8 554.8,216.8 555.1,216.8 555.3,216.8 555.6,216.8 555.8,216.8 556.1,216.8 556.3,216.8 556.6,216.8 556.8,216.8 557.1,216.8 557.3,216.8 557.6,216.8 557.8,216.8 558.1,216.8 558.3,216.8 558.6,216.8 558.8,216.8 559.1,216.8 559.3,216.8 559.6,216.8 559.8,216.8 560.1,216.8 560.3,216.8 560.6,216.8 560.8,216.8 561.1,216.8 561.3,216.8 561.6,216.8 561.8,216.8 562.1,216.8 562.3,216.8 562.6,216.8 562.8,216.8 563.1,216.8 563.3,216.8 563.6,216.8 563.8,216.8 564.1,216.8 564.3,216.8 564.6,216.8 564.8,216.8 565.1,216.8 565.3,216.8 565.6,216.8 565.8,216.8 566.1,216.8 566.3,216.8 566.6,216.8 566.8,216.8 567.1,216.8 567.3,216.8 567.6,216.8 567.8,216.8 568.1,216.8 568.3,216.8 568.6,216.8 568.8,216.8 569.1,216.8 569.3,216.8 569.6,216.8 569.8,216.8 570.1,216.8 570.3,216.8 570.6,216.8 570.8,216.8 571.1,216.8 571.3,216.8 571.6,216.8 571.8,216.8 572.1,216.8 572.3,216.8 572.6,216.8 572.8,216.8 573.1,216.8 573.3,216.8 573.6,216.8 573.8,216.8 574.1,216.8" fill="none" stroke="#e51e10" stroke-width="1.0" stroke-linejoin="round"/>
<polyline points="402.5,218.3 402.8,218.2 403.0,218.0 403.3,217.9 403.5,217.8 403.8,217.6 404.0,217.5 404.3,217.4 404.5,217.2 404.8,217.1 405.0,217.0 405.0,217.0 405.3,216.9 405.5,216.7 405.8,216.6 406.0,216.5 406.3,216.3 406.5,216.2 406.8,216.0 407.0,215.9 407.3,215.8 407.5,215.6 407.8,215.5 408.0,215.4 408.3,215.4 408.5,215.3 408.8,215.3 408.9,215.3 409.0,215.3 409.3,215.3 409.5,215.3 409.8,215.3 410.0,215.3 410.3,215.3 410.5,215.3 410.8,215.3 411.0,215.3 411.3,215.3 411.5,215.3 411.8,215.3 412.0,215.3 412.0,215.3 412.3,215.3 412.5,215.3 412.8,215.3 413.0,215.3 413.3,215.4 413.5,215.4 413.8,215.4 414.0,215.5 414.3,215.5 414.5,215.6 414.8,215.6 415.0,215.7 415.3,215.8 415.3,215.8 415.5,216.3 415.8,217.1 416.0,217.5 416.0,217.5 416.3,217.0 416.5,215.9 416.8,214.3 417.0,212.3 417.3,210.1 417.5,207.8 417.8,205.4 418.0,203.2 418.3,201.3 418.5,200.0 418.5,199.8 418.8,198.5 419.0,197.2 419.3,195.9 419.5,194.7 419.8,193.6 420.0,192.7 420.3,191.9 420.5,191.5 420.5,191.4 420.8,191.1 421.0,190.7 421.3,190.5 421.5,190.3 421.8,190.2 421.8,190.2 422.0,190.2 422.3,190.4 422.5,190.6 422.8,190.8 423.0,191.0 423.3,191.3 423.5,191.5 423.5,191.5 423.8,191.8 424.0,192.0 424.3,192.3 424.5,192.6 424.8,192.9 425.0,193.2 425.3,193.5 425.5,193.8 425.8,194.1 426.0,194.5 426.3,194.9 426.5,195.2 426.8,195.6 427.1,196.1 427.3,196.5 427.6,197.0 427.8,197.5 428.1,198.0 428.3,198.5 428.3,198.5 428.6,199.4 428.8,200.0 428.8,200.0 429.1,198.9 429.3,196.1 429.6,192.0 429.8,187.3 430.1,182.4 430.3,177.9 430.5,175.0 430.6,174.3 430.8,170.9 431.1,167.4 431.3,163.9 431.6,160.6 431.8,157.6 432.1,155.0 432.3,153.1 432.5,152.0 432.6,151.7 432.8,150.7 433.1,149.7 433.3,148.8 433.6,148.0 433.8,147.4 434.1,147.0 434.3,146.8 434.4,146.8 434.6,146.8 434.8,147.0 435.1,147.3 435.3,147.6 435.6,148.1 435.8,148.6 436.1,149.1 436.3,149.6 436.5,150.0 436.6,150.1 436.8,150.7 437.1,151.3 437.3,152.0 437.6,152.8 437.8,153.6 438.1,154.5 438.3,155.4 438.6,156.3 438.8,157.2 439.1,158.2 439.3,159.1 439.6,160.1 439.8,161.0 440.1,161.9 440.3,162.8 440.6,163.7 440.8,164.5 441.0,165.0 441.1,165.2 441.3,166.0 441.6,166.7 441.8,167.5 442.1,168.2 442.3,169.0 442.6,169.7 442.8,170.4 443.1,171.2 443.3,171.9 443.6,172.6 443.8,173.3 444.1,174.0 444.3,174.7 444.6,175.4 444.8,176.0 445.1,176.7 445.3,177.3 445.6,177.9 445.8,178.5 446.1,179.1 446.3,179.6 446.6,180.2 446.8,180.7 447.0,181.0 447.1,181.2 447.3,181.7 447.6,182.1 447.8,182.6 448.1,183.1 448.3,183.5 448.6,184.0 448.8,184.4 449.1,184.9 449.3,185.3 449.6,185.8 449.8,186.2 450.1,186.6 450.3,187.0 450.6,187.4 450.8,187.8 451.1,188.2 451.3,188.6 451.6,189.0 451.9,189.4 452.1,189.7 452.4,190.1 452.6,190.5 452.9,190.8 453.1,191.2 453.4,191.6 453.6,191.9 453.9,192.2 454.1,192.6 454.4,192.9 454.6,193.2 454.9,193.6 455.1,193.9 455.4,194.2 455.6,194.5 455.9,194.8 456.1,195.1 456.4,195.4 456.6,195.7 456.9,196.0 457.1,196.3 457.4,196.6 457.6,196.9 457.9,197.1 458.0,197.3 458.1,197.4 458.4,197.7 458.6,198.0 458.9,198.2 459.1,198.5 459.4,198.8 459.6,199.1 459.9,199.3 460.1,199.6 460.4,199.9 460.6,200.2 460.9,200.4 461.1,200.7 461.4,201.0 461.6,201.2 461.9,201.5 462.1,201.7 462.4,202.0 462.6,202.2 462.9,202.5 463.1,202.7 463.4,203.0 463.6,203.2 463.9,203.5 464.1,203.7 464.4,203.9 464.6,204.2 464.9,204.4 465.1,204.6 465.4,204.8 465.6,205.1 465.9,205.3 466.1,205.5 466.4,205.7 466.6,205.9 466.9,206.1 467.1,206.3 467.4,206.4 467.6,206.6 467.9,206.8 468.1,207.0 468.4,207.1 468.6,207.3 468.9,207.4 469.1,207.6 469.4,207.7 469.6,207.8 469.9,208.0 470.1,208.1 470.4,208.2 470.6,208.3 470.9,208.4 470.9,208.4 471.1,208.5 471.4,208.6 471.6,208.7 471.9,208.8 472.1,208.9 472.4,208.9 472.6,209.0 472.9,209.1 473.1,209.2 473.4,209.3 473.6,209.4 473.9,209.4 474.1,209.5 474.4,209.6 474.6,209.7 474.9,209.7 475.1,209.8 475.4,209.9 475.6,210.0 475.9,210.0 476.2,210.1 476.4,210.2 476.7,210.2 476.9,210.3 477.2,210.4 477.4,210.4 477.7,210.5 477.9,210.6 478.2,210.6 478.4,210.7 478.7,210.8 478.9,210.8 479.2,210.9 479.4,210.9 479.7,211.0 479.9,211.0 480.2,211.1 480.4,211.1 480.7,211.2 480.9,211.2 481.2,211.3 481.4,211.3 481.7,211.4 481.9,211.4 482.2,211.5 482.4,211.5 482.7,211.6 482.9,211.6 483.2,211.6 483.4,211.7 483.7,211.7 483.9,211.8 484.2,211.8 484.4,211.8 484.7,211.9 484.9,211.9 485.2,211.9 485.4,212.0 485.7,212.0 485.9,212.0 486.2,212.0 486.4,212.1 486.7,212.1 486.8,212.1 486.9,212.1 487.2,212.1 487.4,212.2 487.7,212.2 487.9,212.2 488.2,212.2 488.4,212.3 488.7,212.3 488.9,212.3 489.2,212.3 489.4,212.3 489.7,212.4 489.9,212.4 490.2,212.4 490.4,212.4 490.7,212.5 490.9,212.5 491.2,212.5 491.4,212.5 491.7,212.5 491.9,212.6 492.2,212.6 492.4,212.6 492.7,212.6 492.9,212.6 493.2,212.7 493.4,212.7 493.7,212.7 493.9,212.7 494.2,212.7 494.4,212.8 494.7,212.8 494.9,212.8 495.2,212.8 495.4,212.8 495.7,212.9 495.9,212.9 496.2,212.9 496.4,212.9 496.7,212.9 496.9,212.9 497.2,213.0 497.4,213.0 497.7,213.0 497.9,213.0 498.2,213.0 498.4,213.0 498.7,213.1 498.9,213.1 499.2,213.1 499.4,213.1 499.7,213.1 499.9,213.1 500.2,213.2 500.4,213.2 500.7,213.2 501.0,213.2 501.2,213.2 501.5,213.2 501.7,213.3 502.0,213.3 502.2,213.3 502.5,213.3 502.7,213.3 503.0,213.3 503.2,213.3 503.5,213.4 503.7,213.4 504.0,213.4 504.2,213.4 504.5,213.4 504.7,213.4 505.0,213.4 505.2,213.5 505.5,213.5 505.7,213.5 506.0,213.5 506.2,213.5 506.5,213.5 506.7,213.5 507.0,213.5 507.2,213.6 507.5,213.6 507.7,213.6 508.0,213.6 508.2,213.6 508.5,213.6 508.7,213.6 509.0,213.6 509.2,213.7 509.5,213.7 509.7,213.7 510.0,213.7 510.2,213.7 510.5,213.7 510.7,213.7 511.0,213.7 511.2,213.7 511.5,213.8 511.7,213.8 512.0,213.8 512.2,213.8 512.5,213.8 512.7,213.8 513.0,213.8 513.2,213.8 513.5,213.8 513.7,213.8 514.0,213.9 514.2,213.9 514.5,213.9 514.7,213.9 515.0,213.9 515.2,213.9 515.5,213.9 515.7,213.9 516.0,213.9 516.2,213.9 516.5,213.9 516.7,214.0 517.0,214.0 517.2,214.0 517.5,214.0 517.7,214.0 518.0,214.0 518.2,214.0 518.5,214.0 518.7,214.0 519.0,214.0 519.2,214.0 519.5,214.0 519.7,214.1 520.0,214.1 520.2,214.1 520.5,214.1 520.7,214.1 521.0,214.1 521.2,214.1 521.5,214.1 521.7,214.1 522.0,214.1 522.2,214.1 522.5,214.1 522.7,214.1 523.0,214.1 523.2,214.2 523.5,214.2 523.7,214.2 524.0,214.2 524.2,214.2 524.5,214.2 524.7,214.2 525.0,214.2 525.0,214.2 525.3,214.2 525.5,214.2 525.8,214.2 526.0,214.2 526.3,214.2 526.5,214.2 526.8,214.2 527.0,214.3 527.3,214.3 527.5,214.3 527.8,214.3 528.0,214.3 528.3,214.3 528.5,214.3 528.8,214.3 529.0,214.3 529.3,214.3 529.5,214.3 529.8,214.3 530.0,214.3 530.3,214.3 530.5,214.3 530.8,214.3 531.0,214.4 531.3,214.4 531.5,214.4 531.8,214.4 532.0,214.4 532.3,214.4 532.5,214.4 532.8,214.4 533.0,214.4 533.3,214.4 533.5,214.4 533.8,214.4 534.0,214.4 534.3,214.4 534.5,214.4 534.8,214.4 535.0,214.4 535.3,214.5 535.5,214.5 535.8,214.5 536.0,214.5 536.3,214.5 536.5,214.5 536.8,214.5 537.0,214.5 537.3,214.5 537.5,214.5 537.8,214.5 538.0,214.5 538.3,214.5 538.5,214.5 538.8,214.5 539.0,214.5 539.3,214.5 539.5,214.6 539.8,214.6 540.0,214.6 540.3,214.6 540.5,214.6 540.8,214.6 541.0,214.6 541.3,214.6 541.5,214.6 541.8,214.6 542.0,214.6 542.3,214.6 542.5,214.6 542.8,214.6 543.0,214.6 543.3,214.6 543.5,214.6 543.8,214.6 544.0,214.7 544.3,214.7 544.5,214.7 544.8,214.7 545.0,214.7 545.3,214.7 545.5,214.7 545.8,214.7 546.0,214.7 546.3,214.7 546.5,214.7 546.8,214.7 547.0,214.7 547.3,214.7 547.5,214.7 547.8,214.7 548.0,214.7 548.3,214.7 548.5,214.7 548.8,214.7 549.0,214.7 549.3,214.8 549.5,214.8 549.8,214.8 550.1,214.8 550.3,214.8 550.6,214.8 550.8,214.8 551.1,214.8 551.3,214.8 551.6,214.8 551.8,214.8 552.1,214.8 552.3,214.8 552.6,214.8 552.8,214.8 553.1,214.8 553.3,214.8 553.6,214.8 553.8,214.8 554.1,214.8 554.3,214.8 554.6,214.8 554.8,214.8 555.1,214.8 555.3,214.9 555.6,214.9 555.8,214.9 556.1,214.9 556.3,214.9 556.6,214.9 556.8,214.9 557.1,214.9 557.3,214.9 557.6,214.9 557.8,214.9 558.1,214.9 558.3,214.9 558.6,214.9 558.8,214.9 559.1,214.9 559.3,214.9 559.6,214.9 559.8,214.9 560.1,214.9 560.3,214.9 560.6,214.9 560.8,214.9 561.1,214.9 561.3,214.9 561.6,214.9 561.8,214.9 562.1,214.9 562.3,214.9 562.6,214.9 562.8,214.9 563.1,214.9 563.3,214.9 563.6,215.0 563.8,215.0 564.1,215.0 564.3,215.0 564.6,215.0 564.8,215.0 565.1,215.0 565.3,215.0 565.6,215.0 565.8,215.0 566.1,215.0 566.3,215.0 566.6,215.0 566.8,215.0 567.1,215.0 567.3,215.0 567.6,215.0 567.8,215.0 568.1,215.0 568.3,215.0 568.6,215.0 568.8,215.0 569.1,215.0 569.3,215.0 569.6,215.0 569.8,215.0 570.1,215.0 570.3,215.0 570.6,215.0 570.8,215.0 571.1,215.0 571.3,215.0 571.6,215.0 571.8,215.0 572.1,215.0 572.3,215.0 572.6,215.0 572.8,215.0 573.1,215.0 573.3,215.0 573.6,215.0 573.8,215.0 574.1,215.0" fill="none" stroke="#9400d3" stroke-width="1.3" stroke-linejoin="round"/>
<polyline points="402.5,218.3 402.8,218.1 403.0,218.0 403.3,217.8 403.5,217.7 403.8,217.5 404.0,217.4 404.3,217.2 404.5,217.1 404.8,216.9 405.0,216.8 405.0,216.8 405.3,216.7 405.5,216.5 405.8,216.3 406.0,216.2 406.3,216.0 406.5,215.8 406.8,215.7 407.0,215.5 407.3,215.3 407.5,215.2 407.8,215.1 408.0,215.0 408.3,214.9 408.5,214.8 408.8,214.8 408.9,214.8 409.0,214.8 409.3,214.8 409.5,214.8 409.8,214.8 410.0,214.8 410.3,214.8 410.5,214.8 410.8,214.8 411.0,214.8 411.3,214.8 411.5,214.8 411.8,214.8 412.0,214.8 412.0,214.8 412.3,214.8 412.5,214.8 412.8,214.8 413.0,214.8 413.3,214.9 413.5,214.9 413.8,214.9 414.0,215.0 414.3,215.1 414.5,215.1 414.8,215.2 415.0,215.3 415.3,215.4 415.3,215.4 415.5,215.9 415.8,216.8 416.0,217.2 416.0,217.2 416.3,216.7 416.5,215.5 416.8,213.7 417.0,211.4 417.3,208.9 417.5,206.3 417.8,203.8 418.0,201.4 418.3,199.4 418.5,198.0 418.5,197.8 418.8,196.5 419.0,195.2 419.3,193.9 419.5,192.7 419.8,191.7 420.0,190.8 420.3,190.2 420.5,189.8 420.5,189.8 420.8,189.5 421.0,189.2 421.3,189.0 421.5,188.9 421.8,188.8 421.8,188.8 422.0,188.8 422.3,189.0 422.5,189.1 422.8,189.3 423.0,189.6 423.3,189.8 423.5,190.0 423.5,190.0 423.8,190.3 424.0,190.5 424.3,190.8 424.5,191.1 424.8,191.3 425.0,191.7 425.3,192.0 425.5,192.3 425.8,192.6 426.0,193.0 426.3,193.4 426.5,193.8 426.8,194.2 427.1,194.6 427.3,195.0 427.6,195.4 427.8,195.9 428.1,196.3 428.3,196.8 428.3,196.8 428.6,197.5 428.8,198.0 428.8,198.0 429.1,196.8 429.3,193.5 429.6,188.9 429.8,183.6 430.1,178.1 430.3,173.1 430.5,170.0 430.6,169.2 430.8,165.6 431.1,161.9 431.3,158.2 431.6,154.8 431.8,151.7 432.1,149.1 432.3,147.1 432.5,146.0 432.6,145.7 432.8,144.7 433.1,143.7 433.3,142.8 433.6,142.1 433.8,141.5 434.1,141.1 434.3,140.9 434.4,140.9 434.6,140.9 434.8,141.1 435.1,141.3 435.3,141.7 435.6,142.1 435.8,142.6 436.1,143.1 436.3,143.6 436.5,144.0 436.6,144.1 436.8,144.7 437.1,145.4 437.3,146.2 437.6,147.1 437.8,148.0 438.1,149.0 438.3,150.0 438.6,151.0 438.8,152.1 439.1,153.2 439.3,154.3 439.6,155.4 439.8,156.5 440.1,157.5 440.3,158.6 440.6,159.5 440.8,160.4 441.0,161.0 441.1,161.3 441.3,162.1 441.6,162.9 441.8,163.7 442.1,164.5 442.3,165.3 442.6,166.1 442.8,166.9 443.1,167.6 443.3,168.4 443.6,169.2 443.8,169.9 444.1,170.6 444.3,171.4 444.6,172.1 444.8,172.8 445.1,173.4 445.3,174.1 445.6,174.7 445.8,175.4 446.1,176.0 446.3,176.6 446.6,177.1 446.8,177.7 447.0,178.0 447.1,178.2 447.3,178.7 447.6,179.2 447.8,179.7 448.1,180.2 448.3,180.7 448.6,181.1 448.8,181.6 449.1,182.1 449.3,182.5 449.6,183.0 449.8,183.4 450.1,183.9 450.3,184.3 450.6,184.7 450.8,185.1 451.1,185.5 451.3,185.9 451.6,186.3 451.9,186.7 452.1,187.1 452.4,187.5 452.6,187.9 452.9,188.3 453.1,188.6 453.4,189.0 453.6,189.4 453.9,189.7 454.1,190.1 454.4,190.4 454.6,190.8 454.9,191.1 455.1,191.4 455.4,191.8 455.6,192.1 455.9,192.4 456.1,192.7 456.4,193.0 456.6,193.3 456.9,193.6 457.1,194.0 457.4,194.3 457.6,194.5 457.9,194.8 458.0,195.0 458.1,195.1 458.4,195.4 458.6,195.7 458.9,196.0 459.1,196.3 459.4,196.6 459.6,196.9 459.9,197.2 460.1,197.4 460.4,197.7 460.6,198.0 460.9,198.3 461.1,198.6 461.4,198.9 461.6,199.1 461.9,199.4 462.1,199.7 462.4,199.9 462.6,200.2 462.9,200.5 463.1,200.7 463.4,201.0 463.6,201.3 463.9,201.5 464.1,201.8 464.4,202.0 464.6,202.3 464.9,202.5 465.1,202.7 465.4,203.0 465.6,203.2 465.9,203.4 466.1,203.6 466.4,203.9 466.6,204.1 466.9,204.3 467.1,204.5 467.4,204.7 467.6,204.9 467.9,205.1 468.1,205.2 468.4,205.4 468.6,205.6 468.9,205.7 469.1,205.9 469.4,206.0 469.6,206.2 469.9,206.3 470.1,206.4 470.4,206.6 470.6,206.7 470.9,206.8 470.9,206.8 471.1,206.9 471.4,207.0 471.6,207.1 471.9,207.2 472.1,207.3 472.4,207.4 472.6,207.5 472.9,207.6 473.1,207.7 473.4,207.8 473.6,207.9 473.9,207.9 474.1,208.0 474.4,208.1 474.6,208.2 474.9,208.3 475.1,208.4 475.4,208.5 475.6,208.5 475.9,208.6 476.2,208.7 476.4,208.8 476.7,208.8 476.9,208.9 477.2,209.0 477.4,209.1 477.7,209.1 477.9,209.2 478.2,209.3 478.4,209.3 478.7,209.4 478.9,209.5 479.2,209.5 479.4,209.6 479.7,209.6 479.9,209.7 480.2,209.8 480.4,209.8 480.7,209.9 480.9,209.9 481.2,210.0 481.4,210.0 481.7,210.1 481.9,210.1 482.2,210.2 482.4,210.2 482.7,210.3 482.9,210.3 483.2,210.4 483.4,210.4 483.7,210.5 483.9,210.5 484.2,210.6 484.4,210.6 484.7,210.7 484.9,210.7 485.2,210.7 485.4,210.8 485.7,210.8 485.9,210.9 486.2,210.9 486.4,210.9 486.7,211.0 486.8,211.0 486.9,211.0 487.2,211.1 487.4,211.1 487.7,211.1 487.9,211.2 488.2,211.2 488.4,211.2 488.7,211.3 488.9,211.3 489.2,211.3 489.4,211.4 489.7,211.4 489.9,211.4 490.2,211.5 490.4,211.5 490.7,211.5 490.9,211.6 491.2,211.6 491.4,211.6 491.7,211.7 491.9,211.7 492.2,211.7 492.4,211.7 492.7,211.8 492.9,211.8 493.2,211.8 493.4,211.9 493.7,211.9 493.9,211.9 494.2,211.9 494.4,212.0 494.7,212.0 494.9,212.0 495.2,212.0 495.4,212.1 495.7,212.1 495.9,212.1 496.2,212.1 496.4,212.2 496.7,212.2 496.9,212.2 497.2,212.2 497.4,212.3 497.7,212.3 497.9,212.3 498.2,212.3 498.4,212.3 498.7,212.4 498.9,212.4 499.2,212.4 499.4,212.4 499.7,212.4 499.9,212.4 500.2,212.5 500.4,212.5 500.7,212.5 501.0,212.5 501.2,212.5 501.5,212.5 501.7,212.6 502.0,212.6 502.2,212.6 502.5,212.6 502.7,212.6 502.7,212.6 503.0,212.6 503.2,212.6 503.5,212.6 503.7,212.6 504.0,212.7 504.2,212.7 504.5,212.7 504.7,212.7 505.0,212.7 505.2,212.7 505.5,212.7 505.7,212.7 506.0,212.7 506.2,212.7 506.5,212.8 506.7,212.8 507.0,212.8 507.2,212.8 507.5,212.8 507.7,212.8 508.0,212.8 508.2,212.8 508.5,212.8 508.7,212.8 509.0,212.8 509.2,212.9 509.5,212.9 509.7,212.9 510.0,212.9 510.2,212.9 510.5,212.9 510.7,212.9 511.0,212.9 511.2,212.9 511.5,212.9 511.7,212.9 512.0,212.9 512.2,212.9 512.5,213.0 512.7,213.0 513.0,213.0 513.2,213.0 513.5,213.0 513.7,213.0 514.0,213.0 514.2,213.0 514.5,213.0 514.7,213.0 515.0,213.0 515.2,213.0 515.5,213.0 515.7,213.0 516.0,213.0 516.2,213.1 516.5,213.1 516.7,213.1 517.0,213.1 517.2,213.1 517.5,213.1 517.7,213.1 518.0,213.1 518.2,213.1 518.5,213.1 518.7,213.1 519.0,213.1 519.2,213.1 519.5,213.1 519.7,213.1 520.0,213.1 520.2,213.1 520.5,213.1 520.7,213.1 521.0,213.1 521.2,213.1 521.5,213.2 521.7,213.2 522.0,213.2 522.2,213.2 522.5,213.2 522.7,213.2 523.0,213.2 523.2,213.2 523.5,213.2 523.7,213.2 524.0,213.2 524.2,213.2 524.5,213.2 524.7,213.2 525.0,213.2 525.0,213.2 525.3,213.2 525.5,213.2 525.8,213.2 526.0,213.2 526.3,213.2 526.5,213.2 526.8,213.2 527.0,213.2 527.3,213.2 527.5,213.2 527.8,213.2 528.0,213.2 528.3,213.2 528.5,213.2 528.8,213.2 529.0,213.2 529.3,213.2 529.5,213.2 529.8,213.2 530.0,213.3 530.3,213.3 530.5,213.3 530.8,213.3 531.0,213.3 531.3,213.3 531.5,213.3 531.8,213.3 532.0,213.3 532.3,213.3 532.5,213.3 532.8,213.3 533.0,213.3 533.3,213.3 533.5,213.3 533.8,213.3 534.0,213.3 534.3,213.3 534.5,213.3 534.8,213.3 535.0,213.3 535.3,213.3 535.5,213.3 535.8,213.3 536.0,213.3 536.3,213.3 536.5,213.3 536.8,213.3 537.0,213.3 537.3,213.3 537.5,213.3 537.8,213.3 538.0,213.3 538.3,213.3 538.5,213.3 538.8,213.3 539.0,213.3 539.3,213.3 539.5,213.3 539.8,213.3 540.0,213.3 540.3,213.3 540.5,213.3 540.8,213.4 541.0,213.4 541.3,213.4 541.5,213.4 541.8,213.4 542.0,213.4 542.3,213.4 542.5,213.4 542.8,213.4 543.0,213.4 543.3,213.4 543.5,213.4 543.8,213.4 544.0,213.4 544.3,213.4 544.5,213.4 544.8,213.4 545.0,213.4 545.3,213.4 545.5,213.4 545.8,213.4 546.0,213.4 546.3,213.4 546.5,213.4 546.8,213.4 547.0,213.4 547.3,213.4 547.5,213.4 547.8,213.4 548.0,213.4 548.3,213.4 548.5,213.4 548.8,213.4 549.0,213.4 549.3,213.4 549.5,213.4 549.8,213.4 550.1,213.4 550.3,213.4 550.6,213.4 550.8,213.4 551.1,213.4 551.3,213.4 551.6,213.4 551.8,213.4 552.1,213.4 552.3,213.4 552.6,213.4 552.8,213.4 553.1,213.4 553.3,213.4 553.6,213.4 553.8,213.4 554.1,213.4 554.3,213.4 554.6,213.4 554.8,213.4 555.1,213.4 555.3,213.4 555.6,213.5 555.8,213.5 556.1,213.5 556.3,213.5 556.6,213.5 556.8,213.5 557.1,213.5 557.3,213.5 557.6,213.5 557.8,213.5 558.1,213.5 558.3,213.5 558.6,213.5 558.8,213.5 559.1,213.5 559.3,213.5 559.6,213.5 559.8,213.5 560.1,213.5 560.3,213.5 560.6,213.5 560.8,213.5 561.1,213.5 561.3,213.5 561.6,213.5 561.8,213.5 562.1,213.5 562.3,213.5 562.6,213.5 562.8,213.5 563.1,213.5 563.3,213.5 563.6,213.5 563.8,213.5 564.1,213.5 564.3,213.5 564.6,213.5 564.8,213.5 565.1,213.5 565.3,213.5 565.6,213.5 565.8,213.5 566.1,213.5 566.3,213.5 566.6,213.5 566.8,213.5 567.1,213.5 567.3,213.5 567.6,213.5 567.8,213.5 568.1,213.5 568.3,213.5 568.6,213.5 568.8,213.5 569.1,213.5 569.3,213.5 569.6,213.5 569.8,213.5 570.1,213.5 570.3,213.5 570.6,213.5 570.8,213.5 571.1,213.5 571.3,213.5 571.6,213.5 571.8,213.5 572.1,213.5 572.3,213.5 572.6,213.5 572.8,213.5 573.1,213.5 573.3,213.5 573.6,213.5 573.8,213.5 574.1,213.5" fill="none" stroke="#56b4e9" stroke-width="1.3" stroke-linejoin="round"/>
<polyline points="402.5,218.3 402.8,217.5 403.0,216.6 403.3,215.8 403.5,215.0 403.8,214.2 404.0,213.5 404.3,212.7 404.5,212.0 404.5,212.0 404.8,211.2 405.0,210.4 405.3,209.7 405.5,209.0 405.8,208.4 406.0,208.0 406.0,208.0 406.3,207.7 406.5,207.5 406.8,207.2 407.0,207.0 407.3,206.8 407.5,206.7 407.8,206.6 408.0,206.6 408.0,206.6 408.3,206.6 408.5,206.7 408.8,206.8 409.0,207.0 409.3,207.2 409.5,207.4 409.8,207.6 410.0,207.9 410.3,208.1 410.5,208.4 410.8,208.6 411.0,208.8 411.0,208.8 411.3,209.0 411.5,209.3 411.8,209.5 412.0,209.8 412.3,210.1 412.5,210.4 412.8,210.7 413.0,211.0 413.3,211.3 413.5,211.6 413.8,211.9 414.0,212.1 414.3,212.3 414.5,212.5 414.8,212.6 415.0,212.7 415.3,212.7 415.3,212.7 415.5,211.7 415.8,208.8 416.0,204.7 416.3,200.4 416.3,200.0 416.5,195.2 416.8,188.3 417.0,180.5 417.3,172.7 417.5,165.7 417.8,160.3 417.8,160.0 418.0,156.2 418.3,152.2 418.5,148.4 418.8,145.1 419.0,142.3 419.3,140.4 419.5,139.5 419.6,139.5 419.8,139.6 420.0,140.0 420.3,140.7 420.5,141.6 420.8,142.7 421.0,143.8 421.3,145.0 421.5,146.0 421.5,146.2 421.8,147.5 422.0,149.1 422.3,150.9 422.5,152.8 422.8,154.8 423.0,156.7 423.3,158.6 423.5,160.0 423.5,160.3 423.8,162.0 424.0,163.7 424.3,165.4 424.5,167.1 424.8,168.8 425.0,170.5 425.3,172.2 425.5,173.8 425.8,175.4 426.0,176.9 426.3,178.3 426.5,179.7 426.8,180.9 427.1,182.1 427.1,182.3 427.3,183.2 427.6,184.4 427.8,185.4 428.1,186.3 428.3,186.8 428.4,186.8 428.6,185.4 428.8,179.7 429.0,175.0 429.1,174.0 429.3,169.6 429.6,165.2 429.8,160.0 429.8,159.9 430.1,151.6 430.3,140.7 430.6,129.3 430.8,119.8 431.0,115.0 431.1,114.0 431.3,110.0 431.6,106.3 431.8,103.2 432.1,100.9 432.3,99.4 432.5,99.1 432.6,99.1 432.8,99.4 433.1,100.0 433.3,100.9 433.6,101.9 433.8,103.1 434.0,104.0 434.1,104.3 434.3,106.0 434.6,108.3 434.8,111.0 435.1,113.9 435.3,117.0 435.6,120.1 435.8,123.0 436.0,125.0 436.1,125.7 436.3,128.4 436.6,131.2 436.8,134.0 437.1,136.8 437.3,139.6 437.6,142.4 437.8,145.2 438.1,147.9 438.3,150.5 438.6,153.0 438.8,155.3 439.1,157.5 439.3,159.5 439.4,160.0 439.6,161.2 439.8,163.0 440.1,164.6 440.3,166.2 440.6,167.8 440.8,169.3 441.1,170.7 441.3,172.1 441.6,173.4 441.8,174.7 442.1,176.0 442.3,177.2 442.6,178.3 442.8,179.5 443.1,180.5 443.3,181.6 443.5,182.3 443.6,182.6 443.8,183.7 444.1,184.7 444.3,185.7 444.6,186.7 444.8,187.6 445.1,188.6 445.3,189.5 445.6,190.5 445.8,191.4 446.1,192.2 446.3,193.1 446.6,193.9 446.8,194.7 447.1,195.5 447.3,196.2 447.6,196.9 447.8,197.6 448.1,198.2 448.3,198.8 448.6,199.3 448.8,199.8 449.1,200.3 449.1,200.3 449.3,200.7 449.6,201.1 449.8,201.5 450.1,201.9 450.3,202.3 450.6,202.7 450.8,203.1 451.1,203.4 451.3,203.8 451.6,204.1 451.9,204.5 452.1,204.8 452.4,205.1 452.6,205.3 452.9,205.6 453.1,205.9 453.4,206.1 453.6,206.3 453.9,206.6 454.1,206.7 454.4,206.9 454.6,207.1 454.9,207.2 455.1,207.4 455.2,207.4 455.4,207.5 455.6,207.6 455.9,207.7 456.1,207.8 456.4,207.9 456.6,208.0 456.9,208.1 457.1,208.2 457.4,208.2 457.6,208.3 457.9,208.4 458.1,208.5 458.4,208.6 458.6,208.6 458.9,208.7 459.1,208.8 459.4,208.9 459.6,208.9 459.9,209.0 460.1,209.0 460.4,209.1 460.6,209.2 460.9,209.2 461.1,209.3 461.4,209.3 461.6,209.4 461.9,209.4 462.1,209.5 462.4,209.5 462.6,209.6 462.9,209.6 463.1,209.6 463.4,209.7 463.6,209.7 463.9,209.8 464.1,209.8 464.4,209.8 464.6,209.9 464.9,209.9 465.0,209.9 465.1,209.9 465.4,209.9 465.6,210.0 465.9,210.0 466.1,210.0 466.4,210.1 466.6,210.1 466.9,210.1 467.1,210.1 467.4,210.2 467.6,210.2 467.9,210.2 468.1,210.3 468.4,210.3 468.6,210.3 468.9,210.3 469.1,210.4 469.4,210.4 469.6,210.4 469.9,210.4 470.1,210.5 470.4,210.5 470.6,210.5 470.9,210.5 471.1,210.5 471.4,210.6 471.6,210.6 471.9,210.6 472.1,210.6 472.4,210.7 472.6,210.7 472.9,210.7 473.1,210.7 473.4,210.7 473.6,210.7 473.9,210.8 474.1,210.8 474.4,210.8 474.6,210.8 474.9,210.8 475.1,210.8 475.4,210.9 475.6,210.9 475.9,210.9 476.2,210.9 476.4,210.9 476.7,210.9 476.9,210.9 477.2,210.9 477.4,210.9 477.7,211.0 477.9,211.0 478.2,211.0 478.4,211.0 478.7,211.0 478.9,211.0 479.2,211.0 479.4,211.0 479.7,211.0 479.9,211.0 480.0,211.0 480.2,211.0 480.4,211.0 480.7,211.0 480.9,211.0 481.2,211.0 481.4,211.0 481.7,211.0 481.9,211.0 482.2,211.0 482.4,211.0 482.7,211.0 482.9,211.0 483.2,211.0 483.4,211.0 483.7,211.0 483.9,211.0 484.2,211.0 484.4,211.0 484.7,211.0 484.9,211.0 485.2,211.0 485.4,211.0 485.7,211.0 485.9,211.0 486.2,211.0 486.4,211.0 486.7,211.0 486.9,211.0 487.2,211.0 487.4,211.0 487.7,211.0 487.9,211.0 488.2,211.0 488.4,211.0 488.7,211.0 488.9,211.0 489.2,211.0 489.4,211.0 489.7,211.0 489.9,211.0 490.2,211.0 490.4,211.0 490.7,211.0 490.9,211.0 491.2,211.0 491.4,211.0 491.7,211.0 491.9,211.0 492.2,211.0 492.4,211.0 492.7,211.0 492.9,211.0 493.2,211.0 493.4,211.0 493.7,211.0 493.9,211.0 494.2,211.0 494.4,211.0 494.7,211.0 494.9,211.1 495.2,211.1 495.4,211.1 495.7,211.1 495.9,211.1 496.2,211.1 496.4,211.1 496.7,211.1 496.9,211.1 497.2,211.1 497.4,211.1 497.7,211.1 497.9,211.1 498.2,211.1 498.4,211.1 498.7,211.1 498.9,211.1 499.2,211.1 499.4,211.1 499.7,211.1 499.9,211.1 500.2,211.1 500.4,211.1 500.7,211.1 501.0,211.1 501.2,211.1 501.5,211.1 501.7,211.1 502.0,211.1 502.2,211.1 502.5,211.1 502.7,211.1 503.0,211.1 503.2,211.1 503.5,211.1 503.7,211.1 504.0,211.1 504.2,211.1 504.5,211.1 504.7,211.1 505.0,211.1 505.2,211.1 505.5,211.1 505.7,211.1 506.0,211.1 506.2,211.1 506.5,211.1 506.7,211.1 507.0,211.1 507.2,211.1 507.5,211.1 507.7,211.1 508.0,211.1 508.2,211.1 508.5,211.1 508.7,211.1 509.0,211.1 509.2,211.1 509.5,211.1 509.7,211.1 510.0,211.1 510.2,211.1 510.5,211.1 510.7,211.1 511.0,211.1 511.2,211.1 511.5,211.1 511.7,211.1 512.0,211.1 512.2,211.1 512.5,211.1 512.7,211.1 513.0,211.1 513.2,211.1 513.5,211.1 513.7,211.1 514.0,211.1 514.2,211.1 514.5,211.1 514.7,211.1 515.0,211.1 515.2,211.1 515.5,211.1 515.7,211.1 516.0,211.1 516.2,211.1 516.5,211.1 516.7,211.1 517.0,211.1 517.2,211.1 517.5,211.1 517.7,211.1 518.0,211.1 518.2,211.1 518.5,211.1 518.7,211.1 519.0,211.1 519.2,211.1 519.5,211.1 519.7,211.1 520.0,211.1 520.2,211.1 520.5,211.1 520.7,211.1 521.0,211.1 521.2,211.1 521.5,211.1 521.7,211.1 522.0,211.1 522.2,211.1 522.5,211.1 522.7,211.1 523.0,211.1 523.2,211.1 523.5,211.1 523.7,211.1 524.0,211.1 524.2,211.1 524.5,211.1 524.7,211.1 525.0,211.1 525.0,211.1 525.3,211.1 525.5,211.1 525.8,211.1 526.0,211.1 526.3,211.1 526.5,211.1 526.8,211.1 527.0,211.1 527.3,211.1 527.5,211.1 527.8,211.1 528.0,211.1 528.3,211.1 528.5,211.1 528.8,211.1 529.0,211.1 529.3,211.1 529.5,211.1 529.8,211.1 530.0,211.1 530.3,211.1 530.5,211.1 530.8,211.1 531.0,211.1 531.3,211.1 531.5,211.1 531.8,211.1 532.0,211.1 532.3,211.1 532.5,211.1 532.8,211.1 533.0,211.1 533.3,211.1 533.5,211.1 533.8,211.1 534.0,211.1 534.3,211.1 534.5,211.1 534.8,211.1 535.0,211.1 535.3,211.1 535.5,211.1 535.8,211.1 536.0,211.1 536.3,211.1 536.5,211.1 536.8,211.1 537.0,211.1 537.3,211.1 537.5,211.1 537.8,211.1 538.0,211.1 538.3,211.1 538.5,211.1 538.8,211.1 539.0,211.1 539.3,211.1 539.5,211.1 539.8,211.1 540.0,211.1 540.3,211.2 540.5,211.2 540.8,211.2 541.0,211.2 541.3,211.2 541.5,211.2 541.8,211.2 542.0,211.2 542.3,211.2 542.5,211.2 542.8,211.2 543.0,211.2 543.3,211.2 543.5,211.2 543.8,211.2 544.0,211.2 544.3,211.2 544.5,211.2 544.8,211.2 545.0,211.2 545.3,211.2 545.5,211.2 545.8,211.2 546.0,211.2 546.3,211.2 546.5,211.2 546.8,211.2 547.0,211.2 547.3,211.2 547.5,211.2 547.8,211.2 548.0,211.2 548.3,211.2 548.5,211.2 548.8,211.2 549.0,211.2 549.3,211.2 549.5,211.2 549.8,211.2 550.1,211.2 550.3,211.2 550.6,211.2 550.8,211.2 551.1,211.2 551.3,211.2 551.6,211.2 551.8,211.2 552.1,211.2 552.3,211.2 552.6,211.2 552.8,211.2 553.1,211.2 553.3,211.2 553.6,211.2 553.8,211.2 554.1,211.2 554.3,211.2 554.6,211.2 554.8,211.2 555.1,211.2 555.3,211.2 555.6,211.2 555.8,211.2 556.1,211.2 556.3,211.2 556.6,211.2 556.8,211.2 557.1,211.2 557.3,211.2 557.6,211.2 557.8,211.2 558.1,211.2 558.3,211.2 558.6,211.2 558.8,211.2 559.1,211.2 559.3,211.2 559.6,211.2 559.8,211.2 560.1,211.2 560.3,211.2 560.6,211.2 560.8,211.2 561.1,211.2 561.3,211.2 561.6,211.2 561.8,211.2 562.1,211.2 562.3,211.2 562.6,211.2 562.8,211.2 563.1,211.2 563.3,211.2 563.6,211.2 563.8,211.2 564.1,211.3 564.3,211.3 564.6,211.3 564.8,211.3 565.1,211.3 565.3,211.3 565.6,211.3 565.8,211.3 566.1,211.3 566.3,211.3 566.6,211.3 566.8,211.3 567.1,211.3 567.3,211.3 567.6,211.3 567.8,211.3 568.1,211.3 568.3,211.3 568.6,211.3 568.8,211.3 569.1,211.3 569.3,211.3 569.6,211.3 569.8,211.3 570.1,211.3 570.3,211.3 570.6,211.3 570.8,211.3 571.1,211.3 571.3,211.3 571.6,211.3 571.8,211.3 572.1,211.3 572.3,211.3 572.6,211.3 572.8,211.3 573.1,211.3 573.3,211.3 573.6,211.3 573.8,211.3 574.1,211.3" fill="none" stroke="#009e73" stroke-width="1.5" stroke-linejoin="round"/>
<polyline points="402.5,218.3 402.8,217.2 403.0,216.0 403.3,215.0 403.5,213.9 403.8,212.9 404.0,211.9 404.3,210.9 404.5,210.0 404.5,210.0 404.8,209.0 405.0,208.0 405.3,207.1 405.5,206.2 405.8,205.5 406.0,205.0 406.0,205.0 406.3,204.6 406.5,204.3 406.8,204.0 407.0,203.7 407.3,203.5 407.5,203.3 407.8,203.2 408.0,203.2 408.0,203.2 408.3,203.2 408.5,203.3 408.8,203.5 409.0,203.7 409.3,204.0 409.5,204.2 409.8,204.5 410.0,204.9 410.3,205.2 410.5,205.5 410.8,205.8 411.0,206.0 411.0,206.0 411.3,206.3 411.5,206.6 411.8,206.9 412.0,207.2 412.3,207.6 412.5,207.9 412.8,208.3 413.0,208.6 413.3,208.9 413.5,209.3 413.8,209.5 414.0,209.8 414.3,210.0 414.5,210.2 414.8,210.4 415.0,210.5 415.3,210.5 415.3,210.5 415.5,208.2 415.8,201.9 416.0,193.6 416.3,185.6 416.3,185.0 416.5,178.3 416.8,170.1 417.0,161.7 417.3,153.7 417.5,146.5 417.8,140.8 417.8,140.5 418.0,136.3 418.3,131.7 418.5,127.3 418.8,123.2 419.0,119.5 419.3,116.4 419.5,113.9 419.8,112.2 420.0,111.4 420.1,111.4 420.3,111.5 420.5,112.1 420.8,112.9 421.0,114.1 421.3,115.5 421.5,117.0 421.8,118.6 422.0,120.0 422.0,120.3 422.3,122.3 422.5,124.8 422.8,127.6 423.0,130.6 423.3,133.7 423.5,136.7 423.8,139.4 423.9,140.5 424.0,141.9 424.3,144.4 424.5,146.9 424.8,149.3 425.0,151.7 425.3,154.0 425.5,156.0 425.8,157.8 426.0,159.3 426.2,160.0 426.3,160.4 426.5,161.5 426.8,162.5 427.1,163.4 427.3,164.3 427.6,165.0 427.8,165.5 428.1,165.9 428.3,166.0 428.3,166.0 428.6,161.9 428.8,153.4 428.9,150.0 429.1,144.0 429.3,131.5 429.6,117.5 429.8,104.0 430.0,95.0 430.1,92.7 430.3,83.2 430.6,74.4 430.8,66.3 431.0,60.5 431.1,58.8 431.3,51.0 431.6,43.3 431.8,36.5 432.1,31.6 432.2,30.0 432.3,29.1 432.6,27.3 432.8,25.8 433.1,24.8 433.3,24.5 433.3,24.5 433.6,24.9 433.8,26.0 434.1,27.6 434.3,29.4 434.4,30.0 434.6,31.6 434.8,35.0 435.1,39.4 435.3,44.3 435.6,49.4 435.8,54.3 436.1,58.6 436.2,60.5 436.3,62.0 436.6,65.1 436.8,68.1 437.1,70.9 437.3,73.6 437.6,76.2 437.8,78.7 438.1,81.1 438.3,83.4 438.6,85.8 438.8,88.0 439.1,90.3 439.3,92.5 439.6,94.8 439.6,95.0 439.8,97.1 440.1,99.3 440.3,101.7 440.6,104.0 440.8,106.3 441.1,108.6 441.3,110.9 441.6,113.2 441.8,115.6 442.1,117.9 442.3,120.1 442.6,122.4 442.8,124.7 443.1,126.9 443.3,129.1 443.6,131.2 443.8,133.4 444.1,135.5 444.3,137.5 444.6,139.5 444.8,141.5 445.1,143.4 445.3,145.3 445.6,147.1 445.8,148.8 446.1,150.5 446.3,152.1 446.6,153.7 446.8,155.1 447.1,156.5 447.3,157.8 447.6,159.0 447.8,160.0 447.8,160.2 448.1,161.3 448.3,162.3 448.6,163.4 448.8,164.4 449.1,165.4 449.3,166.3 449.6,167.3 449.8,168.2 450.1,169.1 450.3,169.9 450.6,170.8 450.8,171.6 451.1,172.4 451.3,173.2 451.6,173.9 451.9,174.6 452.1,175.4 452.4,176.1 452.6,176.7 452.9,177.4 453.1,178.0 453.4,178.7 453.6,179.3 453.9,179.9 454.1,180.5 454.4,181.0 454.6,181.6 454.9,182.1 455.0,182.4 455.1,182.6 455.4,183.1 455.6,183.6 455.9,184.1 456.1,184.6 456.4,185.0 456.6,185.5 456.9,185.9 457.1,186.4 457.4,186.8 457.6,187.2 457.9,187.6 458.1,188.0 458.4,188.3 458.6,188.7 458.9,189.1 459.1,189.4 459.4,189.7 459.6,190.1 459.9,190.4 460.1,190.7 460.3,190.9 460.4,191.0 460.6,191.3 460.9,191.6 461.1,191.9 461.4,192.2 461.6,192.5 461.9,192.7 462.1,193.0 462.4,193.3 462.6,193.6 462.9,193.9 463.1,194.2 463.4,194.4 463.6,194.7 463.9,195.0 464.1,195.2 464.4,195.5 464.6,195.7 464.9,196.0 465.1,196.2 465.4,196.5 465.6,196.7 465.9,197.0 466.1,197.2 466.4,197.4 466.6,197.6 466.9,197.9 467.1,198.1 467.4,198.3 467.6,198.5 467.9,198.7 468.1,198.8 468.4,199.0 468.6,199.2 468.9,199.4 469.1,199.5 469.4,199.7 469.6,199.8 469.9,199.9 470.1,200.1 470.4,200.2 470.6,200.3 470.9,200.4 470.9,200.4 471.1,200.5 471.4,200.6 471.6,200.7 471.9,200.8 472.1,200.9 472.4,201.0 472.6,201.1 472.9,201.1 473.1,201.2 473.4,201.3 473.6,201.4 473.9,201.5 474.1,201.6 474.4,201.6 474.6,201.7 474.9,201.8 475.1,201.9 475.4,202.0 475.6,202.0 475.9,202.1 476.2,202.2 476.4,202.2 476.7,202.3 476.9,202.4 477.2,202.5 477.4,202.5 477.7,202.6 477.9,202.7 478.2,202.7 478.4,202.8 478.7,202.8 478.9,202.9 479.2,203.0 479.4,203.0 479.7,203.1 479.9,203.1 480.2,203.2 480.4,203.2 480.7,203.3 480.9,203.3 481.2,203.4 481.4,203.4 481.7,203.5 481.9,203.5 482.2,203.6 482.4,203.6 482.7,203.6 482.9,203.7 483.2,203.7 483.4,203.8 483.7,203.8 483.9,203.8 484.2,203.9 484.4,203.9 484.7,204.0 484.9,204.0 485.2,204.0 485.4,204.0 485.7,204.1 485.9,204.1 486.2,204.1 486.4,204.2 486.7,204.2 486.8,204.2 486.9,204.2 487.2,204.2 487.4,204.3 487.7,204.3 487.9,204.3 488.2,204.3 488.4,204.4 488.7,204.4 488.9,204.4 489.2,204.4 489.4,204.4 489.7,204.5 489.9,204.5 490.2,204.5 490.4,204.5 490.7,204.5 490.9,204.6 491.2,204.6 491.4,204.6 491.7,204.6 491.9,204.6 492.2,204.7 492.4,204.7 492.7,204.7 492.9,204.7 493.2,204.7 493.4,204.8 493.7,204.8 493.9,204.8 494.2,204.8 494.4,204.8 494.7,204.8 494.9,204.9 495.2,204.9 495.4,204.9 495.7,204.9 495.9,204.9 496.2,204.9 496.4,204.9 496.7,205.0 496.9,205.0 497.2,205.0 497.4,205.0 497.7,205.0 497.9,205.0 498.2,205.0 498.4,205.0 498.7,205.1 498.9,205.1 499.2,205.1 499.4,205.1 499.7,205.1 499.9,205.1 500.2,205.1 500.4,205.1 500.7,205.1 501.0,205.1 501.2,205.2 501.5,205.2 501.7,205.2 502.0,205.2 502.2,205.2 502.5,205.2 502.7,205.2 502.7,205.2 503.0,205.2 503.2,205.2 503.5,205.2 503.7,205.2 504.0,205.2 504.2,205.2 504.5,205.2 504.7,205.3 505.0,205.3 505.2,205.3 505.5,205.3 505.7,205.3 506.0,205.3 506.2,205.3 506.5,205.3 506.7,205.3 507.0,205.3 507.2,205.3 507.5,205.3 507.7,205.3 508.0,205.3 508.2,205.3 508.5,205.3 508.7,205.3 509.0,205.3 509.2,205.4 509.5,205.4 509.7,205.4 510.0,205.4 510.2,205.4 510.5,205.4 510.7,205.4 511.0,205.4 511.2,205.4 511.5,205.4 511.7,205.4 512.0,205.4 512.2,205.4 512.5,205.4 512.7,205.4 513.0,205.4 513.2,205.4 513.5,205.4 513.7,205.4 514.0,205.4 514.2,205.4 514.5,205.4 514.7,205.4 515.0,205.4 515.2,205.4 515.5,205.5 515.7,205.5 516.0,205.5 516.2,205.5 516.5,205.5 516.7,205.5 517.0,205.5 517.2,205.5 517.5,205.5 517.7,205.5 518.0,205.5 518.2,205.5 518.5,205.5 518.7,205.5 519.0,205.5 519.2,205.5 519.5,205.5 519.7,205.5 520.0,205.5 520.2,205.5 520.5,205.5 520.7,205.5 521.0,205.5 521.2,205.5 521.5,205.5 521.7,205.5 522.0,205.5 522.2,205.6 522.5,205.6 522.7,205.6 523.0,205.6 523.2,205.6 523.5,205.6 523.7,205.6 524.0,205.6 524.2,205.6 524.5,205.6 524.7,205.6 525.0,205.6 525.0,205.6 525.3,205.6 525.5,205.6 525.8,205.6 526.0,205.6 526.3,205.6 526.5,205.6 526.8,205.6 527.0,205.6 527.3,205.6 527.5,205.6 527.8,205.7 528.0,205.7 528.3,205.7 528.5,205.7 528.8,205.7 529.0,205.7 529.3,205.7 529.5,205.7 529.8,205.7 530.0,205.7 530.3,205.7 530.5,205.7 530.8,205.7 531.0,205.7 531.3,205.7 531.5,205.7 531.8,205.7 532.0,205.7 532.3,205.7 532.5,205.7 532.8,205.7 533.0,205.8 533.3,205.8 533.5,205.8 533.8,205.8 534.0,205.8 534.3,205.8 534.5,205.8 534.8,205.8 535.0,205.8 535.3,205.8 535.5,205.8 535.8,205.8 536.0,205.8 536.3,205.8 536.5,205.8 536.8,205.8 537.0,205.8 537.3,205.8 537.5,205.8 537.8,205.8 538.0,205.9 538.3,205.9 538.5,205.9 538.8,205.9 539.0,205.9 539.3,205.9 539.5,205.9 539.8,205.9 540.0,205.9 540.3,205.9 540.5,205.9 540.8,205.9 541.0,205.9 541.3,205.9 541.5,205.9 541.8,205.9 542.0,205.9 542.3,205.9 542.5,205.9 542.8,205.9 543.0,205.9 543.3,206.0 543.5,206.0 543.8,206.0 544.0,206.0 544.3,206.0 544.5,206.0 544.8,206.0 545.0,206.0 545.3,206.0 545.5,206.0 545.8,206.0 546.0,206.0 546.3,206.0 546.5,206.0 546.8,206.0 547.0,206.0 547.3,206.0 547.5,206.0 547.8,206.0 548.0,206.1 548.3,206.1 548.5,206.1 548.8,206.1 549.0,206.1 549.3,206.1 549.5,206.1 549.8,206.1 550.1,206.1 550.3,206.1 550.6,206.1 550.8,206.1 551.1,206.1 551.3,206.1 551.6,206.1 551.8,206.1 552.1,206.1 552.3,206.1 552.6,206.1 552.8,206.1 553.1,206.2 553.3,206.2 553.6,206.2 553.8,206.2 554.1,206.2 554.3,206.2 554.6,206.2 554.8,206.2 555.1,206.2 555.3,206.2 555.6,206.2 555.8,206.2 556.1,206.2 556.3,206.2 556.6,206.2 556.8,206.2 557.1,206.2 557.3,206.2 557.6,206.2 557.8,206.3 558.1,206.3 558.3,206.3 558.6,206.3 558.8,206.3 559.1,206.3 559.3,206.3 559.6,206.3 559.8,206.3 560.1,206.3 560.3,206.3 560.6,206.3 560.8,206.3 561.1,206.3 561.3,206.3 561.6,206.3 561.8,206.3 562.1,206.3 562.3,206.3 562.6,206.4 562.8,206.4 563.1,206.4 563.3,206.4 563.6,206.4 563.8,206.4 564.1,206.4 564.3,206.4 564.6,206.4 564.8,206.4 565.1,206.4 565.3,206.4 565.6,206.4 565.8,206.4 566.1,206.4 566.3,206.4 566.6,206.4 566.8,206.4 567.1,206.4 567.3,206.5 567.6,206.5 567.8,206.5 568.1,206.5 568.3,206.5 568.6,206.5 568.8,206.5 569.1,206.5 569.3,206.5 569.6,206.5 569.8,206.5 570.1,206.5 570.3,206.5 570.6,206.5 570.8,206.5 571.1,206.5 571.3,206.5 571.6,206.5 571.8,206.6 572.1,206.6 572.3,206.6 572.6,206.6 572.8,206.6 573.1,206.6 573.3,206.6 573.6,206.6 573.8,206.6 574.1,206.6" fill="none" stroke="#e69f00" stroke-width="1.0" stroke-linejoin="round"/>
<line x1="402.50" y1="218.20" x2="574.10" y2="218.20" stroke="#3a1e1e" stroke-width="1.1"/>
<rect x="402.00" y="39.50" width="2.0" height="179.00" fill="#000000"/>
<rect x="414.75" y="90.90" width="1.5" height="127.60" fill="#000000"/>
<rect x="427.95" y="90.90" width="1.5" height="127.60" fill="#000000"/>
<line x1="53.60" y1="448.20" x2="251.40" y2="448.20" stroke="#e69f00" stroke-width="1.4"/>
<polyline points="53.6,448.3 53.9,448.2 54.1,448.0 54.4,447.9 54.6,447.7 54.9,447.6 55.1,447.5 55.4,447.4 55.6,447.3 55.9,447.2 56.0,447.2 56.1,447.2 56.4,447.1 56.6,447.1 56.9,447.1 57.1,447.0 57.4,447.0 57.6,447.0 57.9,447.0 58.1,446.9 58.4,446.9 58.6,446.9 58.9,446.9 59.1,446.9 59.4,446.9 59.6,446.8 59.9,446.8 60.0,446.8 60.1,446.8 60.4,446.8 60.6,446.8 60.9,446.7 61.1,446.7 61.4,446.7 61.6,446.7 61.9,446.7 62.1,446.7 62.4,446.7 62.6,446.7 62.9,446.7 63.1,446.7 63.4,446.6 63.6,446.6 63.9,446.6 64.1,446.6 64.4,446.6 64.6,446.6 64.9,446.6 65.1,446.6 65.4,446.6 65.6,446.6 65.9,446.5 66.1,446.5 66.4,446.5 66.6,446.5 66.9,446.5 67.1,446.4 67.4,446.4 67.6,446.4 67.9,446.3 68.1,446.3 68.4,446.2 68.6,446.2 68.6,446.2 68.9,442.9 69.1,438.1 69.3,436.5 69.4,436.5 69.6,436.4 69.9,436.3 70.1,436.2 70.4,436.2 70.5,436.2 70.6,436.2 70.9,436.2 71.1,436.2 71.4,436.2 71.6,436.2 71.9,436.2 72.1,436.2 72.4,436.2 72.6,436.2 72.9,436.2 73.1,436.3 73.4,436.3 73.6,436.3 73.9,436.3 74.1,436.3 74.4,436.3 74.6,436.3 74.9,436.4 75.1,436.4 75.4,436.4 75.6,436.4 75.9,436.4 76.1,436.4 76.4,436.5 76.6,436.5 76.9,436.5 77.1,436.5 77.4,436.5 77.6,436.6 77.9,436.6 78.1,436.6 78.4,436.6 78.6,436.7 78.9,436.7 79.1,436.7 79.4,436.7 79.6,436.8 79.9,436.8 80.0,436.8 80.1,436.8 80.4,436.8 80.6,436.9 80.9,436.9 81.1,437.0 81.4,437.0 81.6,437.0 81.9,437.1 82.1,437.2 82.4,437.2 82.6,437.3 82.9,437.3 83.1,437.4 83.4,437.5 83.6,437.5 83.9,437.6 84.1,437.7 84.4,437.7 84.6,437.8 84.9,437.9 85.1,438.0 85.4,438.1 85.6,438.1 85.9,438.2 86.1,438.3 86.4,438.4 86.7,438.5 86.9,438.5 87.2,438.6 87.4,438.7 87.7,438.8 87.9,438.9 88.2,438.9 88.4,439.0 88.7,439.1 88.9,439.2 89.2,439.3 89.4,439.3 89.7,439.4 89.9,439.5 90.0,439.5 90.2,439.5 90.4,439.6 90.7,439.7 90.9,439.8 91.2,439.8 91.4,439.9 91.7,440.0 91.9,440.1 92.2,440.1 92.4,440.2 92.7,440.3 92.9,440.4 93.2,440.4 93.4,440.5 93.7,440.6 93.9,440.7 94.2,440.8 94.4,440.8 94.7,440.9 94.9,441.0 95.2,441.1 95.4,441.1 95.7,441.2 95.9,441.3 96.2,441.4 96.4,441.4 96.7,441.5 96.9,441.6 97.2,441.7 97.4,441.7 97.7,441.8 97.9,441.8 98.2,441.9 98.4,442.0 98.7,442.0 98.9,442.1 99.2,442.1 99.4,442.2 99.7,442.2 99.9,442.3 100.0,442.3 100.2,442.3 100.4,442.4 100.7,442.4 100.9,442.5 101.2,442.5 101.4,442.5 101.7,442.6 101.9,442.6 102.2,442.7 102.4,442.7 102.7,442.7 102.9,442.8 103.2,442.8 103.4,442.8 103.7,442.9 103.9,442.9 104.2,443.0 104.4,443.0 104.7,443.0 104.9,443.1 105.2,443.1 105.4,443.1 105.7,443.2 105.9,443.2 106.2,443.2 106.4,443.2 106.7,443.3 106.9,443.3 107.2,443.3 107.4,443.4 107.7,443.4 107.9,443.4 108.2,443.4 108.4,443.5 108.7,443.5 108.9,443.5 109.2,443.5 109.4,443.6 109.7,443.6 109.9,443.6 110.0,443.6 110.2,443.6 110.4,443.6 110.7,443.7 110.9,443.7 111.2,443.7 111.4,443.7 111.7,443.7 111.9,443.8 112.2,443.8 112.4,443.8 112.7,443.8 112.9,443.8 113.2,443.9 113.4,443.9 113.7,443.9 113.9,443.9 114.2,443.9 114.4,443.9 114.7,444.0 114.9,444.0 115.2,444.0 115.4,444.0 115.7,444.0 115.9,444.1 116.2,444.1 116.4,444.1 116.7,444.1 116.9,444.1 117.2,444.1 117.4,444.1 117.7,444.2 117.9,444.2 118.2,444.2 118.4,444.2 118.7,444.2 118.9,444.2 119.2,444.3 119.4,444.3 119.7,444.3 120.0,444.3 120.2,444.3 120.5,444.3 120.7,444.3 121.0,444.4 121.2,444.4 121.5,444.4 121.7,444.4 122.0,444.4 122.2,444.4 122.5,444.4 122.7,444.5 123.0,444.5 123.2,444.5 123.5,444.5 123.7,444.5 124.0,444.5 124.2,444.5 124.5,444.5 124.7,444.6 125.0,444.6 125.2,444.6 125.5,444.6 125.7,444.6 126.0,444.6 126.2,444.6 126.5,444.6 126.7,444.6 127.0,444.7 127.2,444.7 127.5,444.7 127.7,444.7 128.0,444.7 128.2,444.7 128.5,444.7 128.7,444.7 129.0,444.8 129.2,444.8 129.5,444.8 129.7,444.8 130.0,444.8 130.0,444.8 130.2,444.8 130.5,444.8 130.7,444.8 131.0,444.8 131.2,444.9 131.5,444.9 131.7,444.9 132.0,444.9 132.2,444.9 132.5,444.9 132.7,444.9 133.0,444.9 133.2,444.9 133.5,445.0 133.7,445.0 134.0,445.0 134.2,445.0 134.5,445.0 134.7,445.0 135.0,445.0 135.2,445.0 135.5,445.0 135.7,445.0 136.0,445.1 136.2,445.1 136.5,445.1 136.7,445.1 137.0,445.1 137.2,445.1 137.5,445.1 137.7,445.1 138.0,445.1 138.2,445.1 138.5,445.2 138.7,445.2 139.0,445.2 139.2,445.2 139.5,445.2 139.7,445.2 140.0,445.2 140.2,445.2 140.5,445.2 140.7,445.2 141.0,445.2 141.2,445.3 141.5,445.3 141.7,445.3 142.0,445.3 142.2,445.3 142.5,445.3 142.7,445.3 143.0,445.3 143.2,445.3 143.5,445.3 143.7,445.3 144.0,445.4 144.2,445.4 144.5,445.4 144.7,445.4 145.0,445.4 145.2,445.4 145.5,445.4 145.7,445.4 146.0,445.4 146.2,445.4 146.5,445.4 146.7,445.5 147.0,445.5 147.2,445.5 147.5,445.5 147.7,445.5 148.0,445.5 148.2,445.5 148.5,445.5 148.7,445.5 149.0,445.5 149.2,445.5 149.5,445.5 149.7,445.5 150.0,445.6 150.2,445.6 150.5,445.6 150.7,445.6 151.0,445.6 151.2,445.6 151.5,445.6 151.7,445.6 152.0,445.6 152.2,445.6 152.5,445.6 152.8,445.6 153.0,445.7 153.3,445.7 153.5,445.7 153.8,445.7 154.0,445.7 154.3,445.7 154.5,445.7 154.8,445.7 155.0,445.7 155.3,445.7 155.5,445.7 155.8,445.7 156.0,445.7 156.3,445.8 156.5,445.8 156.8,445.8 157.0,445.8 157.3,445.8 157.5,445.8 157.8,445.8 158.0,445.8 158.3,445.8 158.5,445.8 158.8,445.8 159.0,445.8 159.3,445.8 159.5,445.8 159.8,445.9 160.0,445.9 160.3,445.9 160.5,445.9 160.8,445.9 161.0,445.9 161.3,445.9 161.5,445.9 161.8,445.9 162.0,445.9 162.3,445.9 162.5,445.9 162.8,445.9 163.0,445.9 163.3,446.0 163.5,446.0 163.8,446.0 164.0,446.0 164.3,446.0 164.5,446.0 164.8,446.0 165.0,446.0 165.0,446.0 165.3,446.0 165.5,446.0 165.8,446.0 166.0,446.0 166.3,446.0 166.5,446.0 166.8,446.0 167.0,446.1 167.3,446.1 167.5,446.1 167.8,446.1 168.0,446.1 168.3,446.1 168.5,446.1 168.8,446.1 169.0,446.1 169.3,446.1 169.5,446.1 169.8,446.1 170.0,446.1 170.3,446.1 170.5,446.2 170.8,446.2 171.0,446.2 171.3,446.2 171.5,446.2 171.8,446.2 172.0,446.2 172.3,446.2 172.5,446.2 172.8,446.2 173.0,446.2 173.3,446.2 173.5,446.2 173.8,446.2 174.0,446.2 174.3,446.3 174.5,446.3 174.8,446.3 175.0,446.3 175.3,446.3 175.5,446.3 175.8,446.3 176.0,446.3 176.3,446.3 176.5,446.3 176.8,446.3 177.0,446.3 177.3,446.3 177.5,446.3 177.8,446.3 178.0,446.3 178.3,446.4 178.5,446.4 178.8,446.4 179.0,446.4 179.3,446.4 179.5,446.4 179.8,446.4 180.0,446.4 180.3,446.4 180.5,446.4 180.8,446.4 181.0,446.4 181.3,446.4 181.5,446.4 181.8,446.4 182.0,446.4 182.3,446.5 182.5,446.5 182.8,446.5 183.0,446.5 183.3,446.5 183.5,446.5 183.8,446.5 184.0,446.5 184.3,446.5 184.5,446.5 184.8,446.5 185.0,446.5 185.3,446.5 185.6,446.5 185.8,446.5 186.1,446.5 186.3,446.5 186.6,446.6 186.8,446.6 187.1,446.6 187.3,446.6 187.6,446.6 187.8,446.6 188.1,446.6 188.3,446.6 188.6,446.6 188.8,446.6 189.1,446.6 189.3,446.6 189.6,446.6 189.8,446.6 190.1,446.6 190.3,446.6 190.6,446.6 190.8,446.6 191.1,446.6 191.3,446.7 191.6,446.7 191.8,446.7 192.1,446.7 192.3,446.7 192.6,446.7 192.8,446.7 193.1,446.7 193.3,446.7 193.6,446.7 193.8,446.7 194.1,446.7 194.3,446.7 194.6,446.7 194.8,446.7 195.1,446.7 195.3,446.7 195.6,446.7 195.8,446.7 196.1,446.7 196.3,446.7 196.6,446.7 196.8,446.8 197.1,446.8 197.3,446.8 197.6,446.8 197.8,446.8 198.1,446.8 198.3,446.8 198.6,446.8 198.8,446.8 199.1,446.8 199.3,446.8 199.6,446.8 199.8,446.8 200.0,446.8 200.1,446.8 200.3,446.8 200.6,446.8 200.8,446.8 201.1,446.8 201.3,446.8 201.6,446.8 201.8,446.8 202.1,446.8 202.3,446.8 202.6,446.8 202.8,446.8 203.1,446.8 203.3,446.8 203.6,446.8 203.8,446.9 204.1,446.9 204.3,446.9 204.6,446.9 204.8,446.9 205.1,446.9 205.3,446.9 205.6,446.9 205.8,446.9 206.1,446.9 206.3,446.9 206.6,446.9 206.8,446.9 207.1,446.9 207.3,446.9 207.6,446.9 207.8,446.9 208.1,446.9 208.3,446.9 208.6,446.9 208.8,446.9 209.1,446.9 209.3,446.9 209.6,446.9 209.8,446.9 210.1,446.9 210.3,446.9 210.6,446.9 210.8,446.9 211.1,447.0 211.3,447.0 211.6,447.0 211.8,447.0 212.1,447.0 212.3,447.0 212.6,447.0 212.8,447.0 213.1,447.0 213.3,447.0 213.6,447.0 213.8,447.0 214.1,447.0 214.3,447.0 214.6,447.0 214.8,447.0 215.1,447.0 215.3,447.0 215.6,447.0 215.8,447.0 216.1,447.0 216.3,447.0 216.6,447.0 216.8,447.0 217.1,447.0 217.3,447.0 217.6,447.0 217.8,447.0 218.1,447.0 218.3,447.0 218.6,447.0 218.9,447.0 219.1,447.1 219.4,447.1 219.6,447.1 219.9,447.1 220.1,447.1 220.4,447.1 220.6,447.1 220.9,447.1 221.1,447.1 221.4,447.1 221.6,447.1 221.9,447.1 222.1,447.1 222.4,447.1 222.6,447.1 222.9,447.1 223.1,447.1 223.4,447.1 223.6,447.1 223.9,447.1 224.1,447.1 224.4,447.1 224.6,447.1 224.9,447.1 225.1,447.1 225.4,447.1 225.6,447.1 225.9,447.1 226.1,447.1 226.4,447.1 226.6,447.1 226.9,447.1 227.1,447.1 227.4,447.1 227.6,447.1 227.9,447.2 228.1,447.2 228.4,447.2 228.6,447.2 228.9,447.2 229.1,447.2 229.4,447.2 229.6,447.2 229.9,447.2 230.1,447.2 230.4,447.2 230.6,447.2 230.9,447.2 231.1,447.2 231.4,447.2 231.6,447.2 231.9,447.2 232.1,447.2 232.4,447.2 232.6,447.2 232.9,447.2 233.1,447.2 233.4,447.2 233.6,447.2 233.9,447.2 234.1,447.2 234.4,447.2 234.6,447.2 234.9,447.2 235.1,447.2 235.4,447.2 235.6,447.2 235.9,447.2 236.1,447.2 236.4,447.2 236.6,447.2 236.9,447.2 237.1,447.2 237.4,447.2 237.6,447.2 237.9,447.2 238.1,447.2 238.4,447.2 238.6,447.2 238.9,447.2 239.1,447.2 239.4,447.2 239.6,447.2 239.9,447.3 240.1,447.3 240.4,447.3 240.6,447.3 240.9,447.3 241.1,447.3 241.4,447.3 241.6,447.3 241.9,447.3 242.1,447.3 242.4,447.3 242.6,447.3 242.9,447.3 243.1,447.3 243.4,447.3 243.6,447.3 243.9,447.3 244.1,447.3 244.4,447.3 244.6,447.3 244.9,447.3 245.1,447.3 245.4,447.3 245.6,447.3 245.9,447.3 246.1,447.3 246.4,447.3 246.6,447.3 246.9,447.3 247.1,447.3 247.4,447.3 247.6,447.3 247.9,447.3 248.1,447.3 248.4,447.3 248.6,447.3 248.9,447.3 249.1,447.3 249.4,447.3 249.6,447.3 249.9,447.3 250.1,447.3 250.4,447.3 250.6,447.3 250.9,447.3 251.1,447.3 251.4,447.3" fill="none" stroke="#9400d3" stroke-width="1.4" stroke-linejoin="round"/>
<polyline points="53.8,448.5 55.0,420.0 56.5,385.0 58.0,374.2 62.0,373.8 68.9,373.8 69.3,296.0 70.0,295.6" fill="none" stroke="#009e73" stroke-width="1.4" stroke-linejoin="round"/>
<polyline points="70.0,295.6 70.3,295.6 70.5,295.6 70.8,295.6 71.0,295.6 71.3,295.6 71.5,295.6 71.8,295.6 72.0,295.6 72.3,295.6 72.5,295.6 72.8,295.6 73.0,295.6 73.3,295.6 73.5,295.6 73.8,295.6 74.0,295.6 74.2,295.6 74.3,295.6 74.5,295.6 74.8,295.6 75.0,295.7 75.3,295.7 75.5,295.7 75.8,295.8 76.0,295.9 76.3,296.0 76.5,296.0 76.8,296.1 77.0,296.2 77.3,296.3 77.5,296.5 77.8,296.6 78.0,296.7 78.3,296.8 78.5,297.0 78.8,297.1 79.0,297.3 79.3,297.4 79.5,297.6 79.8,297.7 80.0,297.9 80.3,298.1 80.5,298.2 80.8,298.4 81.0,298.6 81.3,298.7 81.5,298.9 81.8,299.1 82.0,299.2 82.3,299.4 82.5,299.6 82.8,299.7 83.0,299.9 83.3,300.1 83.5,300.2 83.8,300.4 84.0,300.5 84.3,300.7 84.5,300.8 84.8,301.0 85.0,301.1 85.3,301.2 85.5,301.3 85.8,301.4 86.0,301.6 86.3,301.7 86.4,301.7 86.5,301.8 86.8,301.8 87.0,301.9 87.3,302.0 87.5,302.1 87.8,302.2 88.0,302.2 88.3,302.3 88.5,302.4 88.8,302.5 89.0,302.5 89.3,302.6 89.5,302.7 89.8,302.7 90.0,302.8 90.3,302.9 90.5,302.9 90.8,303.0 91.0,303.0 91.3,303.1 91.5,303.2 91.8,303.2 92.0,303.3 92.3,303.3 92.5,303.4 92.8,303.5 93.1,303.5 93.3,303.6 93.6,303.6 93.8,303.7 94.1,303.8 94.3,303.8 94.6,303.9 94.8,304.0 95.1,304.0 95.3,304.1 95.6,304.2 95.8,304.3 96.1,304.4 96.3,304.4 96.6,304.5 96.8,304.6 97.1,304.7 97.3,304.8 97.6,304.9 97.8,305.0 98.1,305.1 98.3,305.2 98.5,305.3 98.6,305.3 98.8,305.5 99.1,305.6 99.3,305.7 99.6,305.9 99.8,306.0 100.1,306.2 100.3,306.4 100.6,306.6 100.8,306.8 101.1,307.0 101.3,307.2 101.6,307.4 101.8,307.7 102.1,307.9 102.3,308.2 102.6,308.4 102.8,308.7 103.1,308.9 103.3,309.2 103.6,309.4 103.8,309.7 104.1,310.0 104.3,310.3 104.6,310.6 104.8,310.8 105.1,311.1 105.3,311.4 105.6,311.7 105.8,312.0 106.1,312.3 106.3,312.6 106.6,312.9 106.8,313.2 107.1,313.5 107.3,313.8 107.6,314.1 107.8,314.4 108.1,314.7 108.3,314.9 108.6,315.2 108.8,315.5 109.1,315.8 109.3,316.1 109.6,316.3 109.8,316.6 110.1,316.9 110.3,317.1 110.6,317.4 110.6,317.4 110.8,317.6 111.1,317.9 111.3,318.1 111.6,318.4 111.8,318.6 112.1,318.9 112.3,319.1 112.6,319.4 112.8,319.6 113.1,319.9 113.3,320.1 113.6,320.3 113.8,320.6 114.1,320.8 114.3,321.1 114.6,321.3 114.8,321.6 115.1,321.8 115.3,322.0 115.6,322.3 115.9,322.5 116.1,322.8 116.4,323.0 116.6,323.3 116.9,323.5 117.1,323.7 117.4,324.0 117.6,324.2 117.9,324.5 118.1,324.7 118.4,325.0 118.6,325.2 118.9,325.5 119.1,325.7 119.4,326.0 119.6,326.2 119.9,326.5 120.1,326.8 120.4,327.0 120.6,327.3 120.9,327.5 121.1,327.8 121.4,328.1 121.6,328.3 121.9,328.6 122.1,328.9 122.4,329.1 122.6,329.4 122.7,329.5 122.9,329.7 123.1,330.0 123.4,330.2 123.6,330.5 123.9,330.8 124.1,331.1 124.4,331.4 124.6,331.7 124.9,332.0 125.1,332.3 125.4,332.6 125.6,332.9 125.9,333.2 126.1,333.5 126.4,333.8 126.6,334.1 126.9,334.4 127.1,334.8 127.4,335.1 127.6,335.4 127.9,335.7 128.1,336.0 128.4,336.3 128.6,336.6 128.9,337.0 129.1,337.3 129.4,337.6 129.6,337.9 129.9,338.2 130.1,338.5 130.4,338.8 130.6,339.1 130.9,339.5 131.1,339.8 131.4,340.1 131.6,340.4 131.9,340.7 132.1,341.0 132.4,341.3 132.6,341.6 132.9,341.9 133.1,342.2 133.4,342.5 133.6,342.7 133.6,342.7 133.9,343.0 134.1,343.3 134.4,343.6 134.6,343.9 134.9,344.2 135.1,344.4 135.4,344.7 135.6,345.0 135.9,345.3 136.1,345.6 136.4,345.8 136.6,346.1 136.9,346.4 137.1,346.7 137.4,346.9 137.6,347.2 137.9,347.5 138.2,347.7 138.4,348.0 138.7,348.3 138.9,348.6 139.2,348.8 139.4,349.1 139.7,349.4 139.9,349.6 140.2,349.9 140.4,350.2 140.7,350.4 140.9,350.7 141.2,351.0 141.4,351.2 141.7,351.5 141.9,351.8 142.2,352.0 142.4,352.3 142.7,352.5 142.9,352.8 143.2,353.1 143.4,353.3 143.7,353.6 143.9,353.9 144.2,354.1 144.4,354.4 144.7,354.7 144.9,354.9 145.2,355.2 145.4,355.5 145.7,355.7 145.9,356.0 146.2,356.3 146.4,356.5 146.7,356.8 146.9,357.1 147.2,357.4 147.3,357.5 147.4,357.6 147.7,357.9 147.9,358.2 148.2,358.5 148.4,358.7 148.7,359.0 148.9,359.3 149.2,359.6 149.4,359.8 149.7,360.1 149.9,360.4 150.2,360.7 150.4,360.9 150.7,361.2 150.9,361.5 151.2,361.8 151.4,362.1 151.7,362.3 151.9,362.6 152.2,362.9 152.4,363.2 152.7,363.5 152.9,363.7 153.2,364.0 153.4,364.3 153.7,364.6 153.9,364.9 154.2,365.1 154.4,365.4 154.7,365.7 154.9,366.0 155.2,366.3 155.4,366.5 155.7,366.8 155.9,367.1 156.2,367.4 156.4,367.6 156.7,367.9 156.9,368.2 157.2,368.4 157.4,368.7 157.7,369.0 157.9,369.2 158.2,369.5 158.4,369.8 158.7,370.0 158.9,370.3 159.2,370.6 159.4,370.8 159.7,371.1 159.9,371.3 160.2,371.6 160.4,371.8 160.7,372.1 160.9,372.3 161.0,372.4 161.2,372.6 161.5,372.8 161.7,373.1 162.0,373.3 162.2,373.6 162.5,373.8 162.7,374.1 163.0,374.3 163.2,374.6 163.5,374.8 163.7,375.0 164.0,375.3 164.2,375.5 164.5,375.8 164.7,376.0 165.0,376.2 165.2,376.5 165.5,376.7 165.7,377.0 166.0,377.2 166.2,377.4 166.5,377.7 166.7,377.9 167.0,378.1 167.2,378.4 167.5,378.6 167.7,378.8 168.0,379.0 168.2,379.3 168.5,379.5 168.7,379.7 169.0,380.0 169.2,380.2 169.5,380.4 169.7,380.6 170.0,380.9 170.2,381.1 170.5,381.3 170.7,381.5 171.0,381.8 171.2,382.0 171.5,382.2 171.7,382.4 172.0,382.6 172.2,382.8 172.5,383.1 172.7,383.3 173.0,383.5 173.2,383.7 173.5,383.9 173.7,384.1 174.0,384.4 174.2,384.6 174.5,384.8 174.5,384.8 174.7,385.0 175.0,385.2 175.2,385.4 175.5,385.6 175.7,385.8 176.0,386.1 176.2,386.3 176.5,386.5 176.7,386.7 177.0,386.9 177.2,387.1 177.5,387.3 177.7,387.6 178.0,387.8 178.2,388.0 178.5,388.2 178.7,388.4 179.0,388.6 179.2,388.8 179.5,389.1 179.7,389.3 180.0,389.5 180.2,389.7 180.5,389.9 180.7,390.1 181.0,390.3 181.2,390.5 181.5,390.7 181.7,390.9 182.0,391.1 182.2,391.4 182.5,391.6 182.7,391.8 183.0,392.0 183.2,392.2 183.5,392.4 183.8,392.6 184.0,392.8 184.3,393.0 184.5,393.1 184.8,393.3 185.0,393.5 185.3,393.7 185.5,393.9 185.8,394.1 186.0,394.3 186.3,394.5 186.5,394.7 186.8,394.8 187.0,395.0 187.3,395.2 187.5,395.4 187.8,395.5 188.0,395.7 188.3,395.9 188.5,396.0 188.8,396.2 189.0,396.4 189.3,396.5 189.5,396.7 189.8,396.9 190.0,397.0 190.3,397.2 190.5,397.3 190.5,397.3 190.8,397.5 191.0,397.6 191.3,397.7 191.5,397.9 191.8,398.0 192.0,398.2 192.3,398.3 192.5,398.4 192.8,398.6 193.0,398.7 193.3,398.8 193.5,398.9 193.8,399.1 194.0,399.2 194.3,399.3 194.5,399.4 194.8,399.6 195.0,399.7 195.3,399.8 195.5,399.9 195.8,400.0 196.0,400.1 196.3,400.3 196.5,400.4 196.8,400.5 197.0,400.6 197.3,400.7 197.5,400.8 197.8,400.9 198.0,401.0 198.3,401.2 198.5,401.3 198.8,401.4 199.0,401.5 199.3,401.6 199.5,401.7 199.8,401.8 200.0,401.9 200.3,402.0 200.5,402.1 200.8,402.2 201.0,402.4 201.3,402.5 201.5,402.6 201.8,402.7 202.0,402.8 202.3,402.9 202.5,403.0 202.8,403.1 203.0,403.3 203.3,403.4 203.5,403.5 203.8,403.6 204.0,403.7 204.3,403.8 204.5,404.0 204.8,404.1 205.0,404.2 205.3,404.3 205.5,404.5 205.8,404.6 206.1,404.7 206.3,404.8 206.4,404.9 206.6,405.0 206.8,405.1 207.1,405.2 207.3,405.4 207.6,405.5 207.8,405.7 208.1,405.8 208.3,405.9 208.6,406.1 208.8,406.2 209.1,406.4 209.3,406.5 209.6,406.7 209.8,406.8 210.1,407.0 210.3,407.1 210.6,407.3 210.8,407.4 211.1,407.6 211.3,407.7 211.6,407.9 211.8,408.0 212.1,408.2 212.3,408.3 212.6,408.5 212.8,408.6 213.1,408.8 213.3,408.9 213.6,409.1 213.8,409.2 214.1,409.4 214.3,409.6 214.6,409.7 214.8,409.9 215.1,410.0 215.3,410.2 215.6,410.3 215.8,410.5 216.1,410.6 216.3,410.8 216.6,411.0 216.8,411.1 217.1,411.3 217.3,411.4 217.6,411.6 217.8,411.7 218.1,411.9 218.3,412.0 218.6,412.2 218.8,412.3 219.1,412.5 219.3,412.6 219.6,412.8 219.8,412.9 220.1,413.1 220.3,413.2 220.6,413.3 220.8,413.5 221.1,413.6 221.3,413.8 221.6,413.9 221.8,414.0 222.1,414.2 222.3,414.3 222.3,414.3 222.6,414.5 222.8,414.6 223.1,414.7 223.3,414.9 223.6,415.0 223.8,415.1 224.1,415.3 224.3,415.4 224.6,415.6 224.8,415.7 225.1,415.8 225.3,416.0 225.6,416.1 225.8,416.3 226.1,416.4 226.3,416.5 226.6,416.7 226.8,416.8 227.1,417.0 227.3,417.1 227.6,417.2 227.8,417.4 228.1,417.5 228.3,417.6 228.6,417.8 228.9,417.9 229.1,418.0 229.4,418.2 229.6,418.3 229.9,418.4 230.1,418.6 230.4,418.7 230.6,418.8 230.9,419.0 231.1,419.1 231.4,419.2 231.6,419.3 231.9,419.4 232.1,419.6 232.4,419.7 232.6,419.8 232.9,419.9 233.1,420.0 233.4,420.1 233.6,420.2 233.9,420.3 234.1,420.4 234.4,420.5 234.6,420.6 234.9,420.7 235.1,420.8 235.4,420.9 235.6,421.0 235.9,421.1 235.9,421.1 236.1,421.2 236.4,421.3 236.6,421.3 236.9,421.4 237.1,421.5 237.4,421.6 237.6,421.7 237.9,421.8 238.1,421.8 238.4,421.9 238.6,422.0 238.9,422.1 239.1,422.2 239.4,422.2 239.6,422.3 239.9,422.4 240.1,422.5 240.4,422.5 240.6,422.6 240.9,422.7 241.1,422.8 241.4,422.8 241.6,422.9 241.9,423.0 242.1,423.1 242.4,423.1 242.6,423.2 242.9,423.3 243.1,423.3 243.4,423.4 243.6,423.5 243.9,423.5 244.1,423.6 244.4,423.7 244.6,423.7 244.9,423.8 245.1,423.8 245.4,423.9 245.6,424.0 245.9,424.0 246.1,424.1 246.4,424.1 246.6,424.2 246.9,424.2 247.1,424.3 247.4,424.3 247.6,424.4 247.9,424.4 248.1,424.5 248.4,424.5 248.6,424.6 248.9,424.6 249.1,424.7 249.4,424.7 249.6,424.8 249.9,424.8 250.1,424.8 250.4,424.9 250.6,424.9 250.9,424.9 251.1,425.0 251.4,425.0" fill="none" stroke="#009e73" stroke-width="1.4" stroke-linejoin="round"/>
<polyline points="53.6,323.5 54.3,341.2 55.0,353.8 55.7,360.9 56.4,365.9 57.1,367.6 57.8,367.9 58.5,369.2 59.2,368.7 59.9,367.3 60.6,367.8 61.3,368.2 62.0,367.7 62.7,366.5 63.4,366.1 64.1,366.9 64.8,365.7 65.5,364.6 66.2,363.9 66.9,363.0 67.6,362.6 68.3,362.8 68.5,363.0" fill="none" stroke="#56b4e9" stroke-width="1.2" stroke-linejoin="round"/>
<polyline points="68.5,364.0 69.0,398.5" fill="none" stroke="#56b4e9" stroke-width="1.2" stroke-linejoin="round"/>
<polyline points="69.0,398.8 70.0,399.0 71.0,399.0 72.0,397.2 73.0,399.8 74.0,401.0 75.0,401.9 76.0,401.2 77.0,403.3 78.0,403.9 79.0,405.2 80.0,408.2 81.0,407.5 82.0,409.4 83.0,411.5 84.0,411.4 85.0,413.5 86.0,415.4 87.0,417.0 88.0,417.2 89.0,419.7 90.0,421.9 91.0,419.4 92.0,421.8 93.0,420.9 94.0,419.9 95.0,422.2 96.0,420.4 97.0,417.9 98.0,418.4 99.0,418.1 100.0,416.3 101.0,413.8 102.0,408.7 103.0,409.1 104.0,412.3 105.0,411.8 106.0,413.0 107.0,412.5 108.0,413.3 109.0,412.1 110.0,412.8 111.0,413.3 112.0,414.4 113.0,414.6 114.0,411.6 115.0,411.3 116.0,411.6 117.0,407.7 118.0,407.9 119.0,406.9 120.0,407.2 121.0,405.7 122.0,404.2 123.0,404.2 124.0,404.5 125.0,406.6 126.0,405.1 127.0,405.6 128.0,406.6 129.0,406.3 130.0,406.1 131.0,404.8 132.0,405.3 133.0,404.0 134.0,404.7 135.0,403.1 136.0,401.3 137.0,400.8 138.0,398.7 139.0,399.0 140.0,397.0 141.0,396.7 142.0,393.9 143.0,394.6 144.0,391.7 145.0,390.4 146.0,391.2 147.0,389.6 148.0,389.7 149.0,390.8 150.0,386.7 151.0,385.7 152.0,385.3 153.0,384.2 154.0,382.3 155.0,381.1 156.0,381.2 157.0,380.4 158.0,378.4 159.0,379.0 160.0,378.8 161.0,377.4 162.0,378.5 163.0,377.1 164.0,378.5 165.0,377.3 166.0,376.5 167.0,374.9 168.0,374.1 169.0,370.8 170.0,370.2 171.0,370.3 172.0,366.7 173.0,368.7 174.0,365.4 175.0,367.2 176.0,364.9 177.0,365.9 178.0,364.6 179.0,362.3 180.0,364.2 181.0,363.4 182.0,360.6 183.0,359.1 184.0,358.2 185.0,357.0 186.0,359.3 187.0,358.2 188.0,359.2 189.0,359.0 190.0,359.4 191.0,358.5 192.0,360.4 193.0,358.2 194.0,358.3 195.0,356.2 196.0,354.5 197.0,354.0 198.0,353.2 199.0,353.5 200.0,353.2 201.0,353.6 202.0,353.0 203.0,354.1 204.0,357.1 205.0,355.3 206.0,355.6 207.0,357.9 208.0,359.8 209.0,357.5 210.0,358.4 211.0,355.5 212.0,351.1 213.0,351.1 214.0,350.5 215.0,353.0 216.0,352.6 217.0,353.1 218.0,350.9 219.0,349.9 220.0,347.4 221.0,345.3 222.0,345.2 223.0,340.9 224.0,340.0 225.0,339.6 226.0,340.0 227.0,341.4 228.0,344.1 229.0,344.7 230.0,345.8 231.0,346.7 232.0,348.2 233.0,347.2 234.0,345.8 235.0,343.4 236.0,341.2 237.0,342.4 238.0,342.0 239.0,341.0 240.0,341.9 241.0,342.5 242.0,343.0 243.0,343.5 244.0,342.6 245.0,345.0 246.0,342.5 247.0,344.8 248.0,344.2 249.0,343.7 250.0,343.4 251.0,341.4 251.4,338.2" fill="none" stroke="#56b4e9" stroke-width="1.2" stroke-linejoin="round"/>
<polyline points="53.6,322.4 54.3,320.4 55.0,318.4 55.7,315.8 56.4,315.4 57.1,313.4 57.8,310.7 58.5,311.1 59.2,311.8 59.9,310.9 60.6,310.5 61.3,309.8 62.0,308.7 62.7,309.3 63.4,310.4 64.1,310.3 64.8,312.0 65.5,313.5 66.2,313.2 66.9,310.9 67.6,308.3 68.3,307.2 69.0,306.6 69.4,307.3" fill="none" stroke="#000000" stroke-width="1.5" stroke-linejoin="round"/>
<polyline points="69.4,307.7 70.8,284.1" fill="none" stroke="#000000" stroke-width="1.5" stroke-linejoin="round"/>
<polyline points="70.8,283.9 71.5,284.6 72.2,286.2 72.9,288.2 73.6,288.9 74.3,289.8 75.0,291.6 75.7,292.7 76.4,293.3 77.1,294.2 77.8,294.8 78.5,295.9 79.2,296.4 79.9,296.8 80.6,298.2 81.3,298.4 82.0,298.8 82.7,300.7 83.4,301.2 84.1,300.3 84.8,301.3 85.5,303.6 86.2,304.6 86.9,304.7 87.6,305.0 88.3,306.9 89.0,309.3 89.7,310.7 90.4,312.1 91.1,312.1 91.8,310.5 92.5,309.0 93.2,308.6 93.9,308.7 94.6,308.6 95.3,309.3 96.0,310.3 96.7,310.1 97.4,310.6 98.1,311.4 98.8,310.3 99.5,312.5 100.2,315.4 100.9,314.4 101.6,311.6 102.3,306.8 103.0,302.6 103.7,301.5 104.4,303.9 105.1,306.3 105.8,307.9 106.5,310.5 107.2,311.6 107.9,312.0 108.6,312.3 109.3,312.2 110.0,312.7 110.7,314.0 111.4,315.3 112.1,314.7 112.8,314.8 113.5,316.7 114.2,318.4 114.9,317.9 115.6,316.2 116.3,314.8 117.0,313.4 117.7,312.6 118.4,311.9 119.1,311.6 119.8,312.0 120.5,313.3 121.2,311.8 121.9,312.4 122.6,314.5 123.3,314.2 124.0,313.0 124.7,311.7 125.4,315.2 126.1,317.4 126.8,318.7 127.5,320.0 128.2,319.1 128.9,320.4 129.6,320.1 130.3,315.0 131.0,313.2 131.7,317.6 132.4,321.6 133.1,320.4 133.8,317.5 134.5,316.9 135.2,317.7 135.9,316.4 136.6,314.6 137.3,316.6 138.0,317.4 138.7,317.0 139.4,318.8 140.1,317.4 140.8,314.3 141.5,314.7 142.2,315.9 142.9,315.8 143.6,317.1 144.3,317.6 145.0,316.2 145.7,316.0 146.4,316.4 147.1,316.2 147.8,315.1 148.5,317.7 149.2,317.4 149.9,316.6 150.6,315.8 151.3,313.9 152.0,316.7 152.7,315.1 153.4,311.6 154.1,313.5 154.8,315.9 155.5,316.9 156.2,316.4 156.9,314.5 157.6,315.9 158.3,317.8 159.0,315.9 159.7,315.8 160.4,318.9 161.1,319.2 161.8,317.0 162.5,316.7 163.2,317.0 163.9,317.1 164.6,318.7 165.3,317.4 166.0,315.3 166.7,318.4 167.4,320.6 168.1,320.6 168.8,317.6 169.5,315.2 170.2,318.1 170.9,318.4 171.6,318.7 172.3,319.4 173.0,317.2 173.7,318.2 174.4,319.1 175.1,317.4 175.8,316.8 176.5,317.6 177.2,316.0 177.9,315.2 178.6,316.1 179.3,314.8 180.0,316.4 180.7,319.7 181.4,320.0 182.1,316.4 182.8,315.4 183.5,317.5 184.2,316.2 184.9,317.0 185.6,316.9 186.3,314.8 187.0,315.6 187.7,315.4 188.4,314.7 189.1,317.1 189.8,317.6 190.5,316.1 191.2,316.9 191.9,320.0 192.6,319.1 193.3,317.1 194.0,320.7 194.7,319.6 195.4,316.2 196.1,317.5 196.8,317.9 197.5,319.6 198.2,320.2 198.9,319.5 199.6,320.3 200.3,320.2 201.0,321.0 201.7,320.3 202.4,320.2 203.1,318.6 203.8,316.4 204.5,318.6 205.2,318.1 205.9,316.9 206.6,318.5 207.3,318.0 208.0,316.8 208.7,318.3 209.4,317.5 210.1,317.1 210.8,319.0 211.5,317.4 212.2,316.8 212.9,317.8 213.6,316.9 214.3,315.0 215.0,316.7 215.7,316.8 216.4,315.9 217.1,317.1 217.8,318.0 218.5,320.4 219.2,320.3 219.9,319.0 220.6,319.5 221.3,319.4 222.0,317.3 222.7,316.1 223.4,317.0 224.1,318.6 224.8,321.3 225.5,321.1 226.2,318.4 226.9,318.9 227.6,319.5 228.3,319.5 229.0,319.0 229.7,317.2 230.4,316.9 231.1,318.6 231.8,319.7 232.5,319.4 233.2,319.3 233.9,320.5 234.6,320.8 235.3,321.0 236.0,323.0 236.7,321.7 237.4,321.3 238.1,322.0 238.8,322.1 239.5,322.2 240.2,323.0 240.9,322.9 241.6,319.9 242.3,320.2 243.0,321.9 243.7,323.7 244.4,325.0 245.1,323.9 245.8,323.7 246.5,323.8 247.2,323.2 247.9,322.6 248.6,322.2 249.3,322.3 250.0,321.0 250.7,320.9 251.4,322.9 251.4,324.0" fill="none" stroke="#000000" stroke-width="1.4" stroke-linejoin="round"/>
<polyline points="53.6,322.9 54.3,319.5 55.0,317.6 55.7,317.4 56.4,314.3 57.1,312.8 57.8,313.1 58.5,312.7 59.2,312.0 59.9,310.6 60.6,309.9 61.3,309.1 62.0,310.9 62.7,312.2 63.4,311.8 64.1,311.6 64.8,311.5 65.5,312.3 66.2,313.2 66.9,311.7 67.6,309.7 68.3,308.0 69.0,307.5 69.4,308.1" fill="none" stroke="#e51e10" stroke-width="1.4" stroke-linejoin="round"/>
<polyline points="69.4,308.2 70.8,296.8" fill="none" stroke="#e51e10" stroke-width="1.4" stroke-linejoin="round"/>
<polyline points="70.8,296.7 71.5,297.5 72.2,298.7 72.9,300.1 73.6,300.9 74.3,301.8 75.0,303.3 75.7,304.5 76.4,305.2 77.1,306.1 77.8,306.7 78.5,307.6 79.2,308.3 79.9,308.6 80.6,309.8 81.3,310.2 82.0,311.2 82.7,313.6 83.4,314.6 84.1,314.2 84.8,315.4 85.5,317.3 86.2,318.4 86.9,319.1 87.6,319.0 88.3,320.0 89.0,322.0 89.7,322.9 90.4,323.6 91.1,323.4 91.8,321.4 92.5,319.6 93.2,319.0 93.9,319.0 94.6,318.0 95.3,317.9 96.0,318.4 96.7,317.9 97.4,318.3 98.1,318.8 98.8,317.6 99.5,319.3 100.2,322.0 100.9,321.5 101.6,318.8 102.3,313.5 103.0,309.9 103.7,309.0 104.4,311.0 105.1,313.4 105.8,315.0 106.5,317.8 107.2,319.3 107.9,319.1 108.6,319.0 109.3,318.6 110.0,319.0 110.7,320.9 111.4,321.7 112.1,321.5 112.8,321.0 113.5,321.2 114.2,322.9 114.9,322.8 115.6,321.2 116.3,319.5 117.0,318.8 117.7,318.6 118.4,317.2 119.1,315.7 119.8,315.6 120.5,317.2 121.2,316.8 121.9,317.9 122.6,319.2 123.3,318.7 124.0,317.8 124.7,316.5 125.4,320.9 126.1,323.3 126.8,324.0 127.5,325.4 128.2,324.3 128.9,325.5 129.6,324.9 130.3,319.6 131.0,318.4 131.7,323.1 132.4,326.6 133.1,324.8 133.8,321.8 134.5,320.7 135.2,321.6 135.9,320.5 136.6,318.7 137.3,321.6 138.0,323.0 138.7,321.9 139.4,322.5 140.1,321.8 140.8,318.4 141.5,318.8 142.2,321.0 142.9,321.2 143.6,323.3 144.3,323.1 145.0,321.1 145.7,320.7 146.4,320.5 147.1,320.2 147.8,319.1 148.5,321.6 149.2,322.3 149.9,322.0 150.6,320.9 151.3,318.9 152.0,321.2 152.7,319.2 153.4,316.5 154.1,318.7 154.8,320.3 155.5,321.2 156.2,320.8 156.9,319.4 157.6,319.8 158.3,321.1 159.0,319.9 159.7,319.7 160.4,322.1 161.1,322.8 161.8,320.6 162.5,320.0 163.2,320.6 163.9,321.6 164.6,323.1 165.3,321.9 166.0,320.2 166.7,321.5 167.4,323.3 168.1,323.8 168.8,321.8 169.5,319.8 170.2,321.7 170.9,321.6 171.6,321.1 172.3,322.3 173.0,321.1 173.7,322.1 174.4,323.4 175.1,322.3 175.8,322.3 176.5,322.3 177.2,320.1 177.9,319.4 178.6,319.6 179.3,317.4 180.0,319.6 180.7,323.6 181.4,323.5 182.1,319.5 182.8,318.4 183.5,321.6 184.2,320.9 184.9,320.7 185.6,320.5 186.3,318.9 187.0,319.1 187.7,319.5 188.4,319.2 189.1,320.7 189.8,320.7 190.5,320.0 191.2,320.9 191.9,323.1 192.6,322.8 193.3,321.4 194.0,324.7 194.7,322.7 195.4,319.6 196.1,321.0 196.8,321.8 197.5,323.9 198.2,323.9 198.9,323.7 199.6,325.5 200.3,324.2 201.0,323.7 201.7,323.9 202.4,324.2 203.1,323.0 203.8,320.7 204.5,323.6 205.2,322.9 205.9,321.6 206.6,322.8 207.3,320.8 208.0,320.4 208.7,322.7 209.4,321.7 210.1,321.5 210.8,323.1 211.5,321.0 212.2,320.6 212.9,322.0 213.6,321.2 214.3,319.0 215.0,319.8 215.7,319.9 216.4,319.8 217.1,321.7 217.8,322.9 218.5,325.3 219.2,324.7 219.9,321.8 220.6,322.1 221.3,322.6 222.0,320.4 222.7,320.1 223.4,320.2 224.1,321.7 224.8,324.5 225.5,324.3 226.2,322.6 226.9,323.0 227.6,323.2 228.3,322.7 229.0,322.5 229.7,320.6 230.4,320.7 231.1,323.5 231.8,325.1 232.5,325.5 233.2,324.6 233.9,324.1 234.6,325.2 235.3,326.3 236.0,327.6 236.7,326.2 237.4,325.5 238.1,326.0 238.8,326.5 239.5,325.9 240.2,326.5 240.9,327.6 241.6,324.9 242.3,324.9 243.0,327.0 243.7,328.1 244.4,328.3 245.1,327.4 245.8,327.8 246.5,328.1 247.2,327.2 247.9,326.4 248.6,326.1 249.3,326.8 250.0,325.6 250.7,325.8 251.4,326.7 251.4,326.3" fill="none" stroke="#e51e10" stroke-width="1.4" stroke-linejoin="round"/>
<polyline points="394.5,447.3 394.8,447.3 395.0,447.3 395.3,447.3 395.5,447.3 395.8,447.3 396.0,447.3 396.3,447.3 396.5,447.3 396.8,447.3 397.0,447.3 397.3,447.3 397.5,447.3 397.8,447.3 398.0,447.3 398.3,447.3 398.5,447.3 398.8,447.3 399.0,447.3 399.3,447.3 399.5,447.3 399.8,447.3 400.0,447.3 400.3,447.3 400.5,447.3 400.8,447.3 401.0,447.3 401.3,447.3 401.5,447.3 401.8,447.3 402.0,447.3 402.3,447.3 402.5,447.3 402.8,447.3 403.0,447.3 403.3,447.3 403.5,447.3 403.8,447.3 404.0,447.3 404.3,447.3 404.5,447.3 404.8,447.3 405.0,447.3 405.3,447.3 405.5,447.3 405.8,447.3 406.0,447.3 406.3,447.2 406.5,447.2 406.8,447.2 407.0,447.2 407.3,447.2 407.5,447.2 407.8,447.2 408.0,447.2 408.3,447.2 408.5,447.2 408.8,447.2 409.0,447.2 409.3,447.2 409.5,447.2 409.5,447.2 409.8,447.1 410.0,447.0 410.3,446.9 410.5,446.8 410.5,446.8 410.8,446.8 411.0,446.8 411.3,446.8 411.5,446.8 411.8,446.8 412.0,446.8 412.3,446.7 412.5,446.7 412.8,446.7 413.0,446.7 413.3,446.7 413.5,446.7 413.8,446.7 414.0,446.7 414.3,446.7 414.5,446.7 414.8,446.7 415.0,446.7 415.3,446.7 415.5,446.7 415.8,446.7 416.0,446.7 416.3,446.7 416.5,446.7 416.8,446.7 417.0,446.7 417.3,446.7 417.5,446.7 417.8,446.7 418.0,446.7 418.3,446.7 418.5,446.7 418.8,446.7 419.0,446.7 419.3,446.7 419.5,446.7 419.8,446.7 420.0,446.7 420.3,446.7 420.5,446.7 420.8,446.7 421.0,446.7 421.3,446.7 421.5,446.7 421.8,446.7 422.0,446.7 422.3,446.7 422.5,446.7 422.8,446.7 423.0,446.7 423.3,446.7 423.5,446.6 423.8,446.6 424.0,446.6 424.3,446.6 424.5,446.6 424.8,446.6 425.0,446.6 425.0,446.6 425.3,446.4 425.5,446.0 425.8,445.7 426.0,445.6 426.0,445.6 426.3,445.6 426.5,445.6 426.8,445.6 427.0,445.6 427.3,445.6 427.5,445.6 427.8,445.6 428.0,445.6 428.3,445.6 428.5,445.6 428.8,445.6 429.0,445.6 429.3,445.6 429.5,445.6 429.8,445.6 430.0,445.6 430.3,445.6 430.5,445.6 430.8,445.6 431.0,445.6 431.3,445.6 431.5,445.6 431.8,445.7 432.0,445.7 432.3,445.7 432.5,445.7 432.8,445.7 433.0,445.7 433.3,445.7 433.5,445.7 433.8,445.7 434.1,445.7 434.3,445.7 434.6,445.7 434.8,445.7 435.1,445.7 435.3,445.7 435.6,445.7 435.8,445.7 436.1,445.7 436.3,445.7 436.6,445.8 436.8,445.8 437.1,445.8 437.3,445.8 437.6,445.8 437.8,445.8 438.1,445.8 438.3,445.8 438.6,445.8 438.8,445.8 439.1,445.8 439.3,445.8 439.6,445.8 439.8,445.8 440.1,445.8 440.3,445.8 440.6,445.9 440.8,445.9 441.1,445.9 441.3,445.9 441.6,445.9 441.8,445.9 442.1,445.9 442.3,445.9 442.6,445.9 442.8,445.9 443.1,445.9 443.3,445.9 443.6,445.9 443.8,445.9 444.1,445.9 444.3,445.9 444.6,445.9 444.8,446.0 445.1,446.0 445.3,446.0 445.6,446.0 445.8,446.0 446.1,446.0 446.3,446.0 446.6,446.0 446.8,446.0 447.0,446.0 447.1,446.0 447.3,446.0 447.6,446.0 447.8,446.0 448.1,446.0 448.3,446.0 448.6,446.0 448.8,446.0 449.1,446.0 449.3,446.0 449.6,446.1 449.8,446.1 450.1,446.1 450.3,446.1 450.6,446.1 450.8,446.1 451.1,446.1 451.3,446.1 451.6,446.1 451.8,446.1 452.1,446.1 452.3,446.1 452.6,446.1 452.8,446.1 453.1,446.1 453.3,446.1 453.6,446.1 453.8,446.1 454.1,446.1 454.3,446.2 454.6,446.2 454.8,446.2 455.1,446.2 455.3,446.2 455.6,446.2 455.8,446.2 456.1,446.2 456.3,446.2 456.6,446.2 456.8,446.2 457.1,446.2 457.3,446.2 457.6,446.2 457.8,446.2 458.1,446.2 458.3,446.2 458.6,446.3 458.8,446.3 459.1,446.3 459.3,446.3 459.6,446.3 459.8,446.3 460.1,446.3 460.3,446.3 460.6,446.3 460.8,446.3 461.1,446.3 461.3,446.3 461.6,446.3 461.8,446.3 462.1,446.3 462.3,446.3 462.6,446.3 462.8,446.3 463.1,446.4 463.3,446.4 463.6,446.4 463.8,446.4 464.1,446.4 464.3,446.4 464.6,446.4 464.8,446.4 465.1,446.4 465.3,446.4 465.6,446.4 465.8,446.4 466.1,446.4 466.3,446.4 466.6,446.4 466.8,446.4 467.1,446.4 467.3,446.4 467.6,446.4 467.8,446.4 468.1,446.5 468.3,446.5 468.6,446.5 468.8,446.5 469.1,446.5 469.3,446.5 469.6,446.5 469.8,446.5 470.1,446.5 470.3,446.5 470.6,446.5 470.8,446.5 471.1,446.5 471.3,446.5 471.6,446.5 471.8,446.5 472.1,446.5 472.3,446.5 472.6,446.5 472.8,446.5 473.1,446.5 473.4,446.5 473.6,446.5 473.9,446.5 474.1,446.6 474.4,446.6 474.6,446.6 474.9,446.6 475.1,446.6 475.4,446.6 475.6,446.6 475.9,446.6 476.1,446.6 476.4,446.6 476.6,446.6 476.9,446.6 477.1,446.6 477.4,446.6 477.6,446.6 477.9,446.6 478.1,446.6 478.4,446.6 478.6,446.6 478.9,446.6 479.1,446.6 479.4,446.6 479.6,446.6 479.9,446.6 480.0,446.6 480.1,446.6 480.4,446.6 480.6,446.6 480.9,446.6 481.1,446.6 481.4,446.6 481.6,446.6 481.9,446.6 482.1,446.6 482.4,446.6 482.6,446.6 482.9,446.6 483.1,446.6 483.4,446.6 483.6,446.6 483.9,446.6 484.1,446.6 484.4,446.6 484.6,446.6 484.9,446.6 485.1,446.6 485.4,446.6 485.6,446.6 485.9,446.6 486.1,446.6 486.4,446.6 486.6,446.6 486.9,446.6 487.1,446.6 487.4,446.6 487.6,446.6 487.9,446.6 488.1,446.6 488.4,446.6 488.6,446.6 488.9,446.6 489.1,446.6 489.4,446.6 489.6,446.6 489.9,446.6 490.1,446.6 490.4,446.6 490.6,446.6 490.9,446.6 491.1,446.6 491.4,446.6 491.6,446.6 491.9,446.6 492.1,446.6 492.4,446.6 492.6,446.6 492.9,446.6 493.1,446.6 493.4,446.6 493.6,446.6 493.9,446.6 494.1,446.7 494.4,446.7 494.6,446.7 494.9,446.7 495.1,446.7 495.4,446.7 495.6,446.7 495.9,446.7 496.1,446.7 496.4,446.7 496.6,446.7 496.9,446.7 497.1,446.7 497.4,446.7 497.6,446.7 497.9,446.7 498.1,446.7 498.4,446.7 498.6,446.7 498.9,446.7 499.1,446.7 499.4,446.7 499.6,446.7 499.9,446.7 500.1,446.7 500.4,446.7 500.6,446.7 500.9,446.7 501.1,446.7 501.4,446.7 501.6,446.7 501.9,446.7 502.1,446.7 502.4,446.7 502.6,446.7 502.9,446.7 503.1,446.7 503.4,446.7 503.6,446.7 503.9,446.7 504.1,446.7 504.4,446.7 504.6,446.7 504.9,446.7 505.1,446.7 505.4,446.7 505.6,446.7 505.9,446.7 506.1,446.7 506.4,446.7 506.6,446.7 506.9,446.7 507.1,446.7 507.4,446.7 507.6,446.7 507.9,446.7 508.1,446.7 508.4,446.7 508.6,446.7 508.9,446.7 509.1,446.7 509.4,446.7 509.6,446.7 509.9,446.7 510.1,446.7 510.4,446.7 510.6,446.7 510.9,446.7 511.1,446.7 511.4,446.7 511.6,446.7 511.9,446.7 512.2,446.7 512.4,446.7 512.7,446.7 512.9,446.7 513.2,446.7 513.4,446.7 513.7,446.7 513.9,446.7 514.2,446.7 514.4,446.7 514.7,446.7 514.9,446.7 515.2,446.7 515.4,446.7 515.7,446.7 515.9,446.7 516.2,446.7 516.4,446.7 516.7,446.7 516.9,446.7 517.2,446.7 517.4,446.7 517.7,446.7 517.9,446.7 518.2,446.7 518.4,446.7 518.7,446.7 518.9,446.7 519.2,446.7 519.4,446.7 519.7,446.7 519.9,446.7 520.2,446.7 520.4,446.7 520.7,446.7 520.9,446.7 521.2,446.7 521.4,446.7 521.7,446.7 521.9,446.7 522.2,446.7 522.4,446.7 522.7,446.7 522.9,446.7 523.2,446.7 523.4,446.7 523.7,446.7 523.9,446.7 524.2,446.7 524.4,446.7 524.7,446.7 524.9,446.7 525.2,446.7 525.4,446.7 525.7,446.7 525.9,446.7 526.2,446.7 526.4,446.7 526.7,446.7 526.9,446.7 527.2,446.7 527.4,446.7 527.7,446.7 527.9,446.7 528.2,446.7 528.4,446.7 528.7,446.7 528.9,446.7 529.2,446.7 529.4,446.7 529.7,446.7 529.9,446.7 530.2,446.7 530.4,446.7 530.7,446.7 530.9,446.7 531.2,446.7 531.4,446.7 531.7,446.7 531.9,446.7 532.2,446.7 532.4,446.7 532.7,446.7 532.9,446.7 533.2,446.7 533.4,446.8 533.7,446.8 533.9,446.8 534.2,446.8 534.4,446.8 534.7,446.8 534.9,446.8 535.2,446.8 535.4,446.8 535.7,446.8 535.9,446.8 536.2,446.8 536.4,446.8 536.7,446.8 536.9,446.8 537.2,446.8 537.4,446.8 537.7,446.8 537.9,446.8 538.2,446.8 538.4,446.8 538.7,446.8 538.9,446.8 539.2,446.8 539.4,446.8 539.7,446.8 539.9,446.8 540.2,446.8 540.4,446.8 540.7,446.8 540.9,446.8 541.2,446.8 541.4,446.8 541.7,446.8 541.9,446.8 542.2,446.8 542.4,446.8 542.7,446.8 542.9,446.8 543.2,446.8 543.4,446.8 543.7,446.8 543.9,446.8 544.2,446.8 544.4,446.8 544.7,446.8 544.9,446.8 545.2,446.8 545.4,446.8 545.7,446.8 545.9,446.8 546.2,446.8 546.4,446.8 546.7,446.8 546.9,446.8 547.2,446.8 547.4,446.8 547.7,446.8 547.9,446.8 548.2,446.8 548.4,446.8 548.7,446.8 548.9,446.8 549.2,446.8 549.4,446.8 549.7,446.8 549.9,446.8 550.2,446.8 550.4,446.8 550.7,446.8 550.9,446.8 551.2,446.8 551.5,446.8 551.7,446.8 552.0,446.8 552.2,446.8 552.5,446.8 552.7,446.8 553.0,446.8 553.2,446.8 553.5,446.8 553.7,446.8 554.0,446.8 554.2,446.8 554.5,446.8 554.7,446.8 555.0,446.8 555.2,446.8 555.5,446.8 555.7,446.8 556.0,446.8 556.2,446.8 556.5,446.8 556.7,446.8 557.0,446.8 557.2,446.8 557.5,446.8 557.7,446.8 558.0,446.8 558.2,446.8 558.5,446.8 558.7,446.8 559.0,446.8 559.2,446.8 559.5,446.8 559.7,446.8 560.0,446.8 560.2,446.8 560.5,446.8 560.7,446.8 561.0,446.8 561.2,446.8 561.5,446.8 561.7,446.8 562.0,446.8 562.2,446.8 562.5,446.8 562.7,446.8 563.0,446.8 563.2,446.8 563.5,446.8 563.7,446.8 564.0,446.8 564.2,446.8 564.5,446.8 564.7,446.8 565.0,446.8 565.2,446.8 565.5,446.8 565.7,446.8 566.0,446.8 566.2,446.8 566.5,446.8 566.7,446.8 567.0,446.8 567.2,446.8 567.5,446.8 567.7,446.8 568.0,446.8 568.2,446.8 568.5,446.8 568.7,446.8 569.0,446.8 569.2,446.8 569.5,446.8 569.7,446.8 570.0,446.8 570.2,446.8 570.5,446.8 570.7,446.8 571.0,446.8 571.2,446.8 571.5,446.8 571.7,446.8 572.0,446.8 572.2,446.8 572.5,446.8 572.7,446.8 573.0,446.8 573.2,446.8 573.5,446.8 573.7,446.8 574.0,446.8 574.2,446.8 574.5,446.8 574.7,446.8 575.0,446.8 575.2,446.8 575.5,446.8 575.7,446.8 576.0,446.8 576.2,446.8 576.5,446.8 576.7,446.8 577.0,446.8 577.2,446.8 577.5,446.8 577.7,446.8 578.0,446.8 578.2,446.8 578.5,446.8 578.7,446.8 579.0,446.8 579.2,446.8 579.5,446.8 579.7,446.8 580.0,446.8 580.2,446.8 580.5,446.8 580.7,446.8 581.0,446.8 581.2,446.8 581.5,446.8 581.7,446.8 582.0,446.8 582.2,446.8 582.5,446.8 582.7,446.8 583.0,446.8 583.2,446.8 583.5,446.8 583.7,446.8 584.0,446.8 584.2,446.8 584.5,446.8 584.7,446.8 585.0,446.8 585.2,446.8 585.5,446.8 585.7,446.8 586.0,446.8 586.2,446.8 586.5,446.8 586.7,446.8 587.0,446.8 587.2,446.8 587.5,446.8 587.7,446.8 588.0,446.8 588.2,446.8 588.5,446.8 588.7,446.8 589.0,446.8 589.2,446.8 589.5,446.8 589.7,446.8 590.0,446.8 590.2,446.8 590.5,446.8" fill="none" stroke="#e69f00" stroke-width="1.4" stroke-linejoin="round"/>
<polyline points="394.5,447.5 398.0,446.0 409.5,445.5 410.2,437.5 411.2,437.5" fill="none" stroke="#9400d3" stroke-width="1.4" stroke-linejoin="round"/>
<polyline points="411.2,437.5 411.5,437.5 411.8,437.6 412.0,437.6 412.3,437.6 412.5,437.6 412.8,437.7 413.0,437.7 413.3,437.7 413.5,437.8 413.8,437.8 414.1,437.8 414.3,437.8 414.6,437.9 414.8,437.9 415.1,437.9 415.3,437.9 415.6,438.0 415.8,438.0 416.1,438.0 416.3,438.0 416.6,438.1 416.9,438.1 417.1,438.1 417.4,438.1 417.6,438.2 417.9,438.2 418.0,438.2 418.1,438.2 418.4,438.2 418.6,438.3 418.9,438.3 419.1,438.3 419.4,438.3 419.7,438.3 419.9,438.4 420.2,438.4 420.4,438.4 420.7,438.4 420.9,438.4 421.2,438.5 421.4,438.5 421.7,438.5 421.9,438.5 422.2,438.6 422.5,438.6 422.7,438.6 423.0,438.6 423.2,438.6 423.5,438.6 423.7,438.7 424.0,438.7 424.2,438.7 424.5,438.7 424.7,438.7 425.0,438.8" fill="none" stroke="#9400d3" stroke-width="1.4" stroke-linejoin="round"/>
<polyline points="425.0,438.8 426.2,423.0" fill="none" stroke="#9400d3" stroke-width="1.4" stroke-linejoin="round"/>
<polyline points="426.2,423.0 426.5,423.0 426.8,423.1 427.0,423.1 427.3,423.2 427.5,423.2 427.8,423.3 428.0,423.4 428.3,423.4 428.5,423.5 428.8,423.5 429.0,423.6 429.3,423.7 429.5,423.7 429.8,423.8 430.0,423.9 430.3,423.9 430.5,424.0 430.8,424.1 431.0,424.1 431.3,424.2 431.5,424.3 431.8,424.4 432.0,424.5 432.3,424.5 432.5,424.6 432.8,424.7 433.0,424.8 433.3,424.9 433.5,425.0 433.8,425.1 434.0,425.1 434.3,425.2 434.5,425.3 434.8,425.4 435.0,425.5 435.0,425.5 435.3,425.6 435.5,425.7 435.8,425.8 436.0,425.9 436.3,426.0 436.5,426.2 436.8,426.3 437.0,426.4 437.3,426.5 437.5,426.7 437.8,426.8 438.0,426.9 438.3,427.1 438.5,427.2 438.8,427.4 439.0,427.5 439.3,427.7 439.5,427.8 439.8,428.0 440.0,428.1 440.3,428.3 440.5,428.5 440.8,428.6 441.0,428.8 441.3,428.9 441.5,429.1 441.8,429.3 442.0,429.4 442.3,429.6 442.5,429.7 442.8,429.9 443.0,430.1 443.3,430.2 443.5,430.4 443.8,430.5 444.0,430.7 444.3,430.8 444.5,431.0 444.8,431.1 445.0,431.3 445.3,431.4 445.5,431.5 445.8,431.7 446.0,431.8 446.3,431.9 446.5,432.1 446.8,432.2 447.0,432.3 447.3,432.4 447.5,432.5 447.5,432.5 447.8,432.6 448.0,432.7 448.3,432.8 448.5,432.9 448.8,433.0 449.0,433.1 449.3,433.2 449.5,433.3 449.8,433.4 450.0,433.6 450.3,433.7 450.5,433.8 450.8,433.9 451.0,434.0 451.3,434.1 451.5,434.1 451.8,434.2 452.0,434.3 452.3,434.4 452.5,434.5 452.8,434.6 453.0,434.7 453.3,434.8 453.5,434.9 453.8,435.0 454.0,435.1 454.3,435.2 454.5,435.3 454.8,435.4 455.0,435.4 455.3,435.5 455.5,435.6 455.8,435.7 456.0,435.8 456.3,435.9 456.5,435.9 456.8,436.0 457.0,436.1 457.3,436.2 457.5,436.3 457.8,436.3 458.0,436.4 458.3,436.5 458.5,436.6 458.8,436.6 459.0,436.7 459.3,436.8 459.6,436.8 459.8,436.9 460.1,437.0 460.3,437.0 460.6,437.1 460.8,437.1 461.1,437.2 461.3,437.3 461.6,437.3 461.8,437.4 462.1,437.4 462.3,437.5 462.5,437.5 462.6,437.5 462.8,437.6 463.1,437.6 463.3,437.7 463.6,437.7 463.8,437.7 464.1,437.8 464.3,437.8 464.6,437.9 464.8,437.9 465.1,438.0 465.3,438.0 465.6,438.0 465.8,438.1 466.1,438.1 466.3,438.2 466.6,438.2 466.8,438.2 467.1,438.3 467.3,438.3 467.6,438.4 467.8,438.4 468.1,438.4 468.3,438.5 468.6,438.5 468.8,438.5 469.1,438.6 469.3,438.6 469.6,438.6 469.8,438.7 470.1,438.7 470.3,438.7 470.6,438.8 470.8,438.8 471.1,438.8 471.3,438.9 471.6,438.9 471.8,438.9 472.1,439.0 472.3,439.0 472.6,439.0 472.8,439.1 473.1,439.1 473.3,439.1 473.6,439.1 473.8,439.2 474.1,439.2 474.3,439.2 474.6,439.3 474.8,439.3 475.1,439.3 475.3,439.3 475.6,439.4 475.8,439.4 476.1,439.4 476.3,439.4 476.6,439.5 476.8,439.5 477.1,439.5 477.3,439.5 477.6,439.6 477.8,439.6 478.1,439.6 478.3,439.6 478.6,439.7 478.8,439.7 479.1,439.7 479.3,439.7 479.6,439.8 479.8,439.8 480.0,439.8 480.1,439.8 480.3,439.8 480.6,439.9 480.8,439.9 481.1,439.9 481.3,439.9 481.6,439.9 481.8,440.0 482.1,440.0 482.3,440.0 482.6,440.0 482.8,440.0 483.1,440.1 483.3,440.1 483.6,440.1 483.8,440.1 484.1,440.2 484.3,440.2 484.6,440.2 484.8,440.2 485.1,440.2 485.3,440.3 485.6,440.3 485.8,440.3 486.1,440.3 486.3,440.3 486.6,440.4 486.8,440.4 487.1,440.4 487.3,440.4 487.6,440.4 487.8,440.5 488.1,440.5 488.3,440.5 488.6,440.5 488.8,440.5 489.1,440.5 489.3,440.6 489.6,440.6 489.8,440.6 490.1,440.6 490.3,440.6 490.6,440.7 490.8,440.7 491.1,440.7 491.3,440.7 491.6,440.7 491.8,440.7 492.1,440.8 492.4,440.8 492.6,440.8 492.9,440.8 493.1,440.8 493.4,440.9 493.6,440.9 493.9,440.9 494.1,440.9 494.4,440.9 494.6,440.9 494.9,441.0 495.1,441.0 495.4,441.0 495.6,441.0 495.9,441.0 496.1,441.0 496.4,441.1 496.6,441.1 496.9,441.1 497.1,441.1 497.4,441.1 497.6,441.1 497.9,441.2 498.1,441.2 498.4,441.2 498.6,441.2 498.9,441.2 499.1,441.2 499.4,441.2 499.6,441.3 499.9,441.3 500.1,441.3 500.4,441.3 500.6,441.3 500.9,441.3 501.1,441.4 501.4,441.4 501.6,441.4 501.9,441.4 502.1,441.4 502.4,441.4 502.6,441.4 502.9,441.5 503.1,441.5 503.4,441.5 503.6,441.5 503.9,441.5 504.1,441.5 504.4,441.5 504.6,441.6 504.9,441.6 505.1,441.6 505.4,441.6 505.6,441.6 505.9,441.6 506.1,441.6 506.4,441.7 506.6,441.7 506.9,441.7 507.1,441.7 507.4,441.7 507.6,441.7 507.9,441.7 508.1,441.8 508.4,441.8 508.6,441.8 508.9,441.8 509.1,441.8 509.4,441.8 509.6,441.8 509.9,441.9 510.1,441.9 510.4,441.9 510.6,441.9 510.9,441.9 511.1,441.9 511.4,441.9 511.6,441.9 511.9,442.0 512.1,442.0 512.4,442.0 512.6,442.0 512.9,442.0 513.1,442.0 513.4,442.0 513.6,442.1 513.9,442.1 514.1,442.1 514.4,442.1 514.6,442.1 514.9,442.1 515.1,442.1 515.4,442.2 515.6,442.2 515.9,442.2 516.1,442.2 516.4,442.2 516.6,442.2 516.9,442.2 517.1,442.2 517.4,442.3 517.6,442.3 517.9,442.3 518.1,442.3 518.4,442.3 518.6,442.3 518.9,442.3 519.1,442.4 519.4,442.4 519.6,442.4 519.9,442.4 520.0,442.4 520.1,442.4 520.4,442.4 520.6,442.4 520.9,442.4 521.1,442.5 521.4,442.5 521.6,442.5 521.9,442.5 522.1,442.5 522.4,442.5 522.6,442.5 522.9,442.6 523.1,442.6 523.4,442.6 523.6,442.6 523.9,442.6 524.1,442.6 524.4,442.6 524.6,442.7 524.9,442.7 525.2,442.7 525.4,442.7 525.7,442.7 525.9,442.7 526.2,442.7 526.4,442.7 526.7,442.8 526.9,442.8 527.2,442.8 527.4,442.8 527.7,442.8 527.9,442.8 528.2,442.8 528.4,442.9 528.7,442.9 528.9,442.9 529.2,442.9 529.4,442.9 529.7,442.9 529.9,442.9 530.2,442.9 530.4,443.0 530.7,443.0 530.9,443.0 531.2,443.0 531.4,443.0 531.7,443.0 531.9,443.0 532.2,443.0 532.4,443.1 532.7,443.1 532.9,443.1 533.2,443.1 533.4,443.1 533.7,443.1 533.9,443.1 534.2,443.2 534.4,443.2 534.7,443.2 534.9,443.2 535.2,443.2 535.4,443.2 535.7,443.2 535.9,443.2 536.2,443.3 536.4,443.3 536.7,443.3 536.9,443.3 537.2,443.3 537.4,443.3 537.7,443.3 537.9,443.3 538.2,443.4 538.4,443.4 538.7,443.4 538.9,443.4 539.2,443.4 539.4,443.4 539.7,443.4 539.9,443.4 540.2,443.5 540.4,443.5 540.7,443.5 540.9,443.5 541.2,443.5 541.4,443.5 541.7,443.5 541.9,443.5 542.2,443.6 542.4,443.6 542.7,443.6 542.9,443.6 543.2,443.6 543.4,443.6 543.7,443.6 543.9,443.6 544.2,443.7 544.4,443.7 544.7,443.7 544.9,443.7 545.2,443.7 545.4,443.7 545.7,443.7 545.9,443.7 546.2,443.8 546.4,443.8 546.7,443.8 546.9,443.8 547.2,443.8 547.4,443.8 547.7,443.8 547.9,443.8 548.2,443.9 548.4,443.9 548.7,443.9 548.9,443.9 549.2,443.9 549.4,443.9 549.7,443.9 549.9,443.9 550.2,444.0 550.4,444.0 550.7,444.0 550.9,444.0 551.2,444.0 551.4,444.0 551.7,444.0 551.9,444.0 552.2,444.0 552.4,444.1 552.7,444.1 552.9,444.1 553.2,444.1 553.4,444.1 553.7,444.1 553.9,444.1 554.2,444.1 554.4,444.2 554.7,444.2 554.9,444.2 555.2,444.2 555.4,444.2 555.7,444.2 555.9,444.2 556.2,444.2 556.4,444.2 556.7,444.3 556.9,444.3 557.2,444.3 557.4,444.3 557.7,444.3 558.0,444.3 558.2,444.3 558.5,444.3 558.7,444.3 559.0,444.4 559.2,444.4 559.5,444.4 559.7,444.4 560.0,444.4 560.2,444.4 560.5,444.4 560.7,444.4 561.0,444.4 561.2,444.5 561.5,444.5 561.7,444.5 562.0,444.5 562.2,444.5 562.5,444.5 562.7,444.5 563.0,444.5 563.2,444.5 563.5,444.6 563.7,444.6 564.0,444.6 564.2,444.6 564.5,444.6 564.7,444.6 565.0,444.6 565.2,444.6 565.5,444.6 565.7,444.7 566.0,444.7 566.2,444.7 566.5,444.7 566.7,444.7 567.0,444.7 567.2,444.7 567.5,444.7 567.7,444.7 568.0,444.8 568.2,444.8 568.5,444.8 568.7,444.8 569.0,444.8 569.2,444.8 569.5,444.8 569.7,444.8 570.0,444.8 570.2,444.8 570.5,444.9 570.7,444.9 571.0,444.9 571.2,444.9 571.5,444.9 571.7,444.9 572.0,444.9 572.2,444.9 572.5,444.9 572.7,444.9 573.0,445.0 573.2,445.0 573.5,445.0 573.7,445.0 574.0,445.0 574.2,445.0 574.5,445.0 574.7,445.0 575.0,445.0 575.2,445.0 575.5,445.1 575.7,445.1 576.0,445.1 576.2,445.1 576.5,445.1 576.7,445.1 577.0,445.1 577.2,445.1 577.5,445.1 577.7,445.1 578.0,445.2 578.2,445.2 578.5,445.2 578.7,445.2 579.0,445.2 579.2,445.2 579.5,445.2 579.7,445.2 580.0,445.2 580.2,445.2 580.5,445.2 580.7,445.3 581.0,445.3 581.2,445.3 581.5,445.3 581.7,445.3 582.0,445.3 582.2,445.3 582.5,445.3 582.7,445.3 583.0,445.3 583.2,445.3 583.5,445.4 583.7,445.4 584.0,445.4 584.2,445.4 584.5,445.4 584.7,445.4 585.0,445.4 585.2,445.4 585.5,445.4 585.7,445.4 586.0,445.4 586.2,445.5 586.5,445.5 586.7,445.5 587.0,445.5 587.2,445.5 587.5,445.5 587.7,445.5 588.0,445.5 588.2,445.5 588.5,445.5 588.7,445.5 589.0,445.6 589.2,445.6 589.5,445.6 589.7,445.6 590.0,445.6 590.2,445.6 590.5,445.6" fill="none" stroke="#9400d3" stroke-width="1.4" stroke-linejoin="round"/>
<polyline points="394.7,447.5 396.5,420.0 398.8,381.5 409.6,381.2 410.0,311.0 411.6,310.7" fill="none" stroke="#009e73" stroke-width="1.4" stroke-linejoin="round"/>
<polyline points="411.6,310.7 411.9,310.8 412.1,310.8 412.4,310.9 412.6,311.0 412.9,311.0 413.1,311.1 413.4,311.2 413.6,311.2 413.9,311.3 414.2,311.4 414.4,311.4 414.7,311.5 414.9,311.6 415.2,311.7 415.4,311.7 415.7,311.8 415.9,311.9 416.2,312.0 416.4,312.0 416.7,312.1 417.0,312.2 417.2,312.3 417.5,312.3 417.7,312.4 418.0,312.5 418.0,312.5 418.2,312.6 418.5,312.7 418.7,312.7 419.0,312.8 419.3,312.9 419.5,313.0 419.8,313.1 420.0,313.1 420.3,313.2 420.5,313.3 420.8,313.4 421.0,313.5 421.3,313.6 421.5,313.7 421.8,313.8 422.1,313.9 422.3,313.9 422.6,314.0 422.8,314.1 423.1,314.2 423.3,314.3 423.6,314.4 423.8,314.5 424.1,314.6" fill="none" stroke="#009e73" stroke-width="1.4" stroke-linejoin="round"/>
<polyline points="424.1,314.6 425.5,288.0 426.2,287.3" fill="none" stroke="#009e73" stroke-width="1.4" stroke-linejoin="round"/>
<polyline points="426.2,287.3 426.5,287.3 426.7,287.4 427.0,287.4 427.2,287.4 427.5,287.5 427.7,287.5 428.0,287.6 428.2,287.6 428.5,287.7 428.7,287.8 429.0,287.8 429.2,287.9 429.5,288.0 429.6,288.0 429.7,288.0 430.0,288.1 430.2,288.2 430.5,288.3 430.7,288.4 431.0,288.5 431.2,288.6 431.5,288.7 431.7,288.8 432.0,288.9 432.2,289.1 432.5,289.2 432.7,289.3 433.0,289.5 433.2,289.6 433.5,289.8 433.7,289.9 434.0,290.1 434.2,290.2 434.5,290.4 434.7,290.6 435.0,290.7 435.2,290.9 435.5,291.1 435.7,291.2 436.0,291.4 436.2,291.6 436.5,291.8 436.7,291.9 437.0,292.1 437.2,292.3 437.5,292.5 437.7,292.7 438.0,292.9 438.2,293.0 438.5,293.2 438.7,293.4 439.0,293.6 439.2,293.8 439.5,293.9 439.7,294.1 440.0,294.3 440.2,294.5 440.5,294.6 440.7,294.8 441.0,295.0 441.2,295.1 441.5,295.3 441.7,295.5 441.8,295.5 442.0,295.6 442.2,295.8 442.5,295.9 442.7,296.1 443.0,296.2 443.2,296.4 443.5,296.5 443.7,296.7 444.0,296.8 444.2,297.0 444.5,297.1 444.7,297.3 445.0,297.4 445.2,297.6 445.5,297.7 445.7,297.9 446.0,298.0 446.2,298.2 446.5,298.4 446.7,298.5 447.0,298.7 447.2,298.8 447.5,299.0 447.7,299.1 448.0,299.3 448.2,299.4 448.5,299.6 448.7,299.8 449.0,299.9 449.2,300.1 449.5,300.3 449.7,300.4 450.0,300.6 450.2,300.8 450.5,301.0 450.7,301.1 451.0,301.3 451.2,301.5 451.4,301.6 451.5,301.7 451.7,301.9 452.0,302.0 452.2,302.2 452.5,302.4 452.7,302.6 453.0,302.8 453.2,303.0 453.5,303.2 453.8,303.4 454.0,303.6 454.3,303.9 454.5,304.1 454.8,304.3 455.0,304.5 455.3,304.7 455.5,304.9 455.8,305.2 456.0,305.4 456.3,305.6 456.5,305.8 456.8,306.0 457.0,306.3 457.3,306.5 457.5,306.7 457.8,307.0 458.0,307.2 458.3,307.4 458.5,307.6 458.8,307.9 459.0,308.1 459.3,308.3 459.5,308.5 459.8,308.8 460.0,309.0 460.3,309.2 460.5,309.5 460.8,309.7 460.9,309.8 461.0,309.9 461.3,310.1 461.5,310.3 461.8,310.6 462.0,310.8 462.3,311.0 462.5,311.2 462.8,311.5 463.0,311.7 463.3,311.9 463.5,312.1 463.8,312.4 464.0,312.6 464.3,312.8 464.5,313.0 464.8,313.3 465.0,313.5 465.3,313.7 465.5,314.0 465.8,314.2 466.0,314.4 466.3,314.6 466.5,314.9 466.8,315.1 467.0,315.3 467.3,315.6 467.5,315.8 467.8,316.0 468.0,316.3 468.3,316.5 468.5,316.7 468.8,317.0 469.0,317.2 469.3,317.4 469.5,317.7 469.8,317.9 470.0,318.2 470.3,318.4 470.5,318.7 470.8,318.9 471.0,319.1 471.3,319.4 471.5,319.6 471.8,319.9 471.9,320.0 472.0,320.1 472.3,320.4 472.5,320.6 472.8,320.9 473.0,321.2 473.3,321.4 473.5,321.7 473.8,321.9 474.0,322.2 474.3,322.5 474.5,322.7 474.8,323.0 475.0,323.3 475.3,323.5 475.5,323.8 475.8,324.1 476.0,324.3 476.3,324.6 476.5,324.9 476.8,325.2 477.0,325.4 477.3,325.7 477.5,326.0 477.8,326.3 478.0,326.5 478.3,326.8 478.5,327.1 478.8,327.4 479.0,327.6 479.3,327.9 479.5,328.2 479.8,328.5 480.0,328.7 480.3,329.0 480.5,329.3 480.8,329.6 481.1,329.8 481.2,330.0 481.3,330.1 481.6,330.4 481.8,330.7 482.1,330.9 482.3,331.2 482.6,331.5 482.8,331.8 483.1,332.0 483.3,332.3 483.6,332.6 483.8,332.9 484.1,333.2 484.3,333.4 484.6,333.7 484.8,334.0 485.1,334.3 485.3,334.6 485.6,334.9 485.8,335.2 486.1,335.4 486.3,335.7 486.6,336.0 486.8,336.3 487.1,336.6 487.3,336.9 487.6,337.2 487.8,337.5 488.1,337.8 488.3,338.0 488.6,338.3 488.8,338.6 489.1,338.9 489.3,339.2 489.6,339.5 489.8,339.8 490.1,340.1 490.3,340.4 490.6,340.7 490.8,340.9 491.1,341.2 491.3,341.5 491.6,341.8 491.8,342.1 492.1,342.4 492.3,342.7 492.6,343.0 492.8,343.2 493.1,343.5 493.3,343.8 493.6,344.1 493.8,344.4 494.1,344.6 494.3,344.9 494.6,345.2 494.8,345.5 495.1,345.8 495.3,346.0 495.6,346.3 495.8,346.6 496.1,346.9 496.3,347.1 496.6,347.4 496.8,347.7 497.1,348.0 497.3,348.2 497.6,348.5 497.8,348.8 498.1,349.0 498.3,349.3 498.6,349.5 498.8,349.8 499.1,350.1 499.3,350.3 499.6,350.6 499.8,350.8 500.1,351.1 500.3,351.3 500.6,351.6 500.8,351.8 501.1,352.1 501.3,352.3 501.6,352.5 501.8,352.8 502.1,353.0 502.3,353.2 502.4,353.3 502.6,353.5 502.8,353.7 503.1,353.9 503.3,354.2 503.6,354.4 503.8,354.6 504.1,354.8 504.3,355.1 504.6,355.3 504.8,355.5 505.1,355.7 505.3,356.0 505.6,356.2 505.8,356.4 506.1,356.6 506.3,356.9 506.6,357.1 506.8,357.3 507.1,357.5 507.3,357.7 507.6,357.9 507.8,358.2 508.1,358.4 508.4,358.6 508.6,358.8 508.9,359.0 509.1,359.2 509.4,359.4 509.6,359.6 509.9,359.8 510.1,360.1 510.4,360.3 510.6,360.5 510.9,360.7 511.1,360.9 511.4,361.1 511.6,361.3 511.9,361.5 512.1,361.7 512.4,361.9 512.6,362.1 512.9,362.3 513.1,362.5 513.4,362.7 513.6,362.9 513.9,363.1 514.1,363.3 514.4,363.5 514.6,363.7 514.9,363.9 515.1,364.1 515.4,364.3 515.6,364.5 515.9,364.6 516.1,364.8 516.4,365.0 516.6,365.2 516.9,365.4 517.1,365.6 517.4,365.8 517.6,366.0 517.9,366.2 518.1,366.3 518.4,366.5 518.6,366.7 518.9,366.9 519.1,367.1 519.4,367.3 519.6,367.5 519.9,367.6 520.1,367.8 520.4,368.0 520.6,368.2 520.9,368.4 521.1,368.5 521.4,368.7 521.6,368.9 521.9,369.1 522.1,369.3 522.4,369.4 522.6,369.6 522.9,369.8 523.1,370.0 523.4,370.1 523.6,370.3 523.6,370.3 523.9,370.5 524.1,370.7 524.4,370.8 524.6,371.0 524.9,371.2 525.1,371.3 525.4,371.5 525.6,371.7 525.9,371.8 526.1,372.0 526.4,372.2 526.6,372.3 526.9,372.5 527.1,372.6 527.4,372.8 527.6,373.0 527.9,373.1 528.1,373.3 528.4,373.4 528.6,373.6 528.9,373.7 529.1,373.9 529.4,374.0 529.6,374.2 529.9,374.3 530.1,374.5 530.4,374.6 530.6,374.8 530.9,374.9 531.1,375.1 531.4,375.2 531.6,375.4 531.9,375.5 532.1,375.7 532.4,375.8 532.6,376.0 532.9,376.1 533.1,376.3 533.4,376.4 533.6,376.6 533.9,376.7 534.1,376.9 534.4,377.0 534.6,377.2 534.9,377.3 535.1,377.5 535.4,377.6 535.6,377.8 535.9,377.9 536.2,378.1 536.4,378.2 536.7,378.4 536.9,378.5 537.2,378.7 537.4,378.9 537.7,379.0 537.9,379.2 538.2,379.3 538.4,379.5 538.7,379.6 538.9,379.8 539.2,380.0 539.4,380.1 539.7,380.3 539.9,380.4 540.2,380.6 540.4,380.8 540.6,380.9 540.7,380.9 540.9,381.1 541.2,381.3 541.4,381.4 541.7,381.6 541.9,381.8 542.2,382.0 542.4,382.1 542.7,382.3 542.9,382.5 543.2,382.7 543.4,382.8 543.7,383.0 543.9,383.2 544.2,383.4 544.4,383.6 544.7,383.8 544.9,383.9 545.2,384.1 545.4,384.3 545.7,384.5 545.9,384.7 546.2,384.9 546.4,385.0 546.7,385.2 546.9,385.4 547.2,385.6 547.4,385.8 547.7,386.0 547.9,386.2 548.2,386.3 548.4,386.5 548.7,386.7 548.9,386.9 549.2,387.1 549.4,387.3 549.7,387.5 549.9,387.6 550.2,387.8 550.4,388.0 550.7,388.2 550.9,388.4 551.2,388.5 551.4,388.7 551.7,388.9 551.9,389.1 552.2,389.3 552.4,389.4 552.7,389.6 552.9,389.8 553.2,390.0 553.4,390.1 553.7,390.3 553.9,390.5 554.2,390.6 554.4,390.8 554.7,391.0 554.9,391.1 555.2,391.3 555.4,391.5 555.5,391.5 555.7,391.6 555.9,391.8 556.2,391.9 556.4,392.1 556.7,392.2 556.9,392.4 557.2,392.6 557.4,392.7 557.7,392.9 557.9,393.0 558.2,393.2 558.4,393.3 558.7,393.5 558.9,393.6 559.2,393.8 559.4,393.9 559.7,394.1 559.9,394.2 560.2,394.4 560.4,394.5 560.7,394.7 560.9,394.8 561.2,395.0 561.4,395.1 561.7,395.2 561.9,395.4 562.2,395.5 562.4,395.7 562.7,395.8 562.9,396.0 563.2,396.1 563.5,396.2 563.7,396.4 564.0,396.5 564.2,396.7 564.5,396.8 564.7,396.9 565.0,397.1 565.2,397.2 565.5,397.4 565.7,397.5 566.0,397.6 566.2,397.8 566.5,397.9 566.7,398.0 567.0,398.2 567.2,398.3 567.5,398.5 567.7,398.6 568.0,398.7 568.2,398.9 568.5,399.0 568.7,399.1 569.0,399.3 569.2,399.4 569.5,399.5 569.7,399.7 570.0,399.8 570.2,400.0 570.3,400.0 570.5,400.1 570.7,400.2 571.0,400.4 571.2,400.5 571.5,400.6 571.7,400.8 572.0,400.9 572.2,401.0 572.5,401.2 572.7,401.3 573.0,401.4 573.2,401.6 573.5,401.7 573.7,401.8 574.0,402.0 574.2,402.1 574.5,402.2 574.7,402.4 575.0,402.5 575.2,402.6 575.5,402.7 575.7,402.9 576.0,403.0 576.2,403.1 576.5,403.3 576.7,403.4 577.0,403.5 577.2,403.7 577.5,403.8 577.7,403.9 578.0,404.1 578.2,404.2 578.5,404.3 578.7,404.4 579.0,404.6 579.2,404.7 579.5,404.8 579.7,404.9 580.0,405.1 580.2,405.2 580.5,405.3 580.7,405.5 581.0,405.6 581.2,405.7 581.5,405.8 581.7,406.0 582.0,406.1 582.2,406.2 582.5,406.3 582.7,406.5 583.0,406.6 583.2,406.7 583.5,406.8 583.7,407.0 584.0,407.1 584.2,407.2 584.5,407.3 584.7,407.4 585.0,407.6 585.2,407.7 585.5,407.8 585.7,407.9 586.0,408.1 586.2,408.2 586.5,408.3 586.7,408.4 587.0,408.5 587.2,408.7 587.5,408.8 587.7,408.9 588.0,409.0 588.2,409.1 588.5,409.3 588.7,409.4 589.0,409.5 589.2,409.6 589.5,409.7 589.7,409.8 590.0,410.0 590.2,410.1 590.5,410.2" fill="none" stroke="#009e73" stroke-width="1.4" stroke-linejoin="round"/>
<polyline points="394.5,340.7 395.2,350.9 395.9,359.7 396.6,366.9 397.3,371.6 398.0,374.5 398.7,376.4 399.4,376.6 400.1,377.7 400.8,377.9 401.5,376.5 402.2,376.8 402.9,377.0 403.6,376.7 404.3,377.5 405.0,377.9 405.7,378.3 406.4,377.8 407.1,375.6 407.8,374.9 408.5,374.8 409.2,374.0 409.5,374.6" fill="none" stroke="#56b4e9" stroke-width="1.2" stroke-linejoin="round"/>
<polyline points="409.5,375.0 410.0,405.0" fill="none" stroke="#56b4e9" stroke-width="1.2" stroke-linejoin="round"/>
<polyline points="410.0,404.7 410.7,404.1 411.4,405.0 412.1,406.1 412.8,406.3 413.5,406.8 414.2,407.3 414.9,407.7 415.6,408.5 416.3,409.1 417.0,409.4 417.7,410.0 418.4,409.8 419.1,410.3 419.8,411.5 420.5,412.5 421.2,412.9 421.9,414.3 422.6,415.9 423.3,415.6 424.0,415.8 424.7,417.2 425.0,418.3" fill="none" stroke="#56b4e9" stroke-width="1.2" stroke-linejoin="round"/>
<polyline points="425.0,418.5 426.2,403.8" fill="none" stroke="#56b4e9" stroke-width="1.2" stroke-linejoin="round"/>
<polyline points="426.2,403.0 427.2,404.0 428.2,403.6 429.2,405.2 430.2,404.4 431.2,405.7 432.2,407.6 433.2,410.3 434.2,407.9 435.2,409.7 436.2,410.8 437.2,413.8 438.2,413.3 439.2,415.4 440.2,417.2 441.2,417.6 442.2,418.8 443.2,420.4 444.2,419.9 445.2,421.8 446.2,424.1 447.2,425.9 448.2,426.7 449.2,426.1 450.2,428.2 451.2,430.0 452.2,430.0 453.2,429.4 454.2,428.5 455.2,429.9 456.2,428.6 457.2,427.8 458.2,428.0 459.2,430.1 460.2,428.7 461.2,429.4 462.2,427.5 463.2,428.7 464.2,426.9 465.2,427.0 466.2,429.3 467.2,427.2 468.2,425.6 469.2,425.6 470.2,425.6 471.2,426.1 472.2,424.0 473.2,422.3 474.2,423.3 475.2,423.1 476.2,422.7 477.2,423.3 478.2,421.7 479.2,421.6 480.2,419.0 481.2,420.3 482.2,420.8 483.2,418.8 484.2,417.5 485.2,416.7 486.2,417.6 487.2,414.2 488.2,414.3 489.2,414.2 490.2,413.8 491.2,411.9 492.2,411.9 493.2,410.6 494.2,410.3 495.2,409.3 496.2,407.6 497.2,408.0 498.2,408.1 499.2,405.6 500.2,405.5 501.2,405.7 502.2,403.2 503.2,403.7 504.2,401.7 505.2,403.1 506.2,403.4 507.2,402.2 508.2,399.1 509.2,399.2 510.2,397.6 511.2,396.7 512.2,397.3 513.2,393.5 514.2,395.1 515.2,393.1 516.2,393.8 517.2,391.8 518.2,390.3 519.2,390.6 520.2,390.5 521.2,389.3 522.2,389.3 523.2,387.9 524.2,386.0 525.2,388.8 526.2,388.4 527.2,387.7 528.2,387.4 529.2,388.3 530.2,386.6 531.2,386.2 532.2,386.5 533.2,387.7 534.2,384.8 535.2,386.9 536.2,384.2 537.2,382.9 538.2,384.4 539.2,382.3 540.2,380.7 541.2,381.6 542.2,382.9 543.2,383.2 544.2,381.6 545.2,382.4 546.2,382.7 547.2,381.4 548.2,382.4 549.2,382.0 550.2,381.2 551.2,380.6 552.2,380.2 553.2,378.9 554.2,377.0 555.2,375.7 556.2,375.8 557.2,373.5 558.2,372.9 559.2,372.2 560.2,370.8 561.2,372.0 562.2,368.9 563.2,370.7 564.2,369.9 565.2,372.5 566.2,372.8 567.2,369.7 568.2,371.0 569.2,373.0 570.2,373.2 571.2,373.0 572.2,372.0 573.2,372.1 574.2,371.9 575.2,370.6 576.2,371.2 577.2,367.5 578.2,370.0 579.2,368.1 580.2,369.8 581.2,368.4 582.2,367.5 583.2,368.5 584.2,367.0 585.2,366.9 586.2,366.0 587.2,367.4 588.2,367.8 589.2,368.2 590.2,367.0 590.5,368.1" fill="none" stroke="#56b4e9" stroke-width="1.2" stroke-linejoin="round"/>
<polyline points="394.5,341.2 395.2,339.4 395.9,338.1 396.6,337.2 397.3,335.4 398.0,333.6 398.7,332.9 399.4,332.3 400.1,331.2 400.8,331.0 401.5,330.8 402.2,330.0 402.9,329.5 403.6,329.3 404.3,330.3 405.0,330.6 405.7,332.2 406.4,333.0 407.1,332.1 407.8,331.0 408.5,328.2 409.2,326.9 409.8,327.5" fill="none" stroke="#000000" stroke-width="1.5" stroke-linejoin="round"/>
<polyline points="409.8,327.5 411.6,307.7" fill="none" stroke="#000000" stroke-width="1.5" stroke-linejoin="round"/>
<polyline points="411.6,307.7 412.3,307.9 413.0,308.0 413.7,307.7 414.4,308.2 415.1,308.6 415.8,309.5 416.5,310.8 417.2,311.1 417.9,312.2 418.6,313.8 419.3,314.6 420.0,315.2 420.7,316.7 421.4,317.7 422.1,318.7 422.8,321.1 423.5,321.8 424.1,322.0" fill="none" stroke="#000000" stroke-width="1.5" stroke-linejoin="round"/>
<polyline points="424.1,322.2 426.0,288.6" fill="none" stroke="#000000" stroke-width="1.5" stroke-linejoin="round"/>
<polyline points="426.0,288.9 426.7,288.9 427.4,288.6 428.1,289.0 428.8,289.5 429.5,290.6 430.2,291.7 430.9,291.9 431.6,292.6 432.3,293.2 433.0,293.4 433.7,294.9 434.4,296.6 435.1,297.5 435.8,298.5 436.5,300.2 437.2,301.2 437.9,301.7 438.6,302.9 439.3,304.0 440.0,305.2 440.7,306.4 441.4,308.2 442.1,308.8 442.8,308.6 443.5,310.2 444.2,311.6 444.9,312.6 445.6,314.1 446.3,315.7 447.0,317.1 447.7,318.8 448.4,320.7 449.1,320.1 449.8,318.8 450.5,321.1 451.2,322.7 451.9,324.2 452.6,327.5 453.3,327.2 454.0,326.5 454.7,327.3 455.4,327.6 456.1,328.0 456.8,328.3 457.5,328.6 458.2,327.8 458.9,328.2 459.6,329.5 460.3,328.7 461.0,327.0 461.7,325.9 462.4,325.9 463.1,326.2 463.8,328.0 464.5,329.2 465.2,329.1 465.9,330.2 466.6,331.0 467.3,329.3 468.0,327.1 468.7,327.1 469.4,329.9 470.1,331.1 470.8,331.0 471.5,331.4 472.2,332.9 472.9,332.7 473.6,331.0 474.3,332.4 475.0,334.3 475.7,333.3 476.4,334.2 477.1,335.7 477.8,334.4 478.5,333.9 479.2,332.8 479.9,332.5 480.6,334.7 481.3,334.9 482.0,332.6 482.7,333.6 483.4,333.1 484.1,333.4 484.8,334.9 485.5,333.9 486.2,334.7 486.9,334.4 487.6,334.9 488.3,334.8 489.0,332.9 489.7,332.9 490.4,331.9 491.1,332.0 491.8,331.8 492.5,332.2 493.2,334.9 493.9,334.9 494.6,334.0 495.3,331.0 496.0,331.0 496.7,334.7 497.4,335.0 498.1,334.4 498.8,333.3 499.5,334.4 500.2,333.2 500.9,331.6 501.6,334.3 502.3,335.5 503.0,335.2 503.7,334.5 504.4,333.4 505.1,335.5 505.8,337.3 506.5,335.2 507.2,337.1 507.9,336.7 508.6,335.1 509.3,336.7 510.0,337.3 510.7,336.2 511.4,334.8 512.1,333.8 512.8,334.1 513.5,333.6 514.2,334.5 514.9,337.1 515.6,335.6 516.3,332.1 517.0,332.8 517.7,335.1 518.4,333.8 519.1,332.3 519.8,332.7 520.5,333.3 521.2,332.7 521.9,331.9 522.6,332.0 523.3,331.4 524.0,333.4 524.7,336.3 525.4,333.2 526.1,331.1 526.8,334.3 527.5,335.7 528.2,336.0 528.9,337.1 529.6,335.6 530.3,334.3 531.0,336.2 531.7,336.5 532.4,333.6 533.1,333.7 533.8,334.0 534.5,334.8 535.2,336.3 535.9,335.5 536.6,335.9 537.3,334.4 538.0,334.1 538.7,335.6 539.4,336.4 540.1,336.3 540.8,336.4 541.5,337.3 542.2,335.9 542.9,334.7 543.6,336.5 544.3,336.4 545.0,335.5 545.7,336.6 546.4,336.2 547.1,337.7 547.8,336.9 548.5,333.9 549.2,332.7 549.9,334.6 550.6,336.6 551.3,336.7 552.0,337.2 552.7,338.4 553.4,338.2 554.1,335.7 554.8,335.0 555.5,336.1 556.2,335.4 556.9,334.0 557.6,333.3 558.3,332.6 559.0,335.1 559.7,335.0 560.4,334.4 561.1,336.5 561.8,334.6 562.5,334.1 563.2,335.4 563.9,335.3 564.6,335.5 565.3,336.4 566.0,337.2 566.7,337.2 567.4,339.1 568.1,339.0 568.8,339.1 569.5,340.1 570.2,339.8 570.9,337.7 571.6,337.0 572.3,338.6 573.0,339.2 573.7,340.5 574.4,340.9 575.1,339.9 575.8,339.2 576.5,338.8 577.2,339.4 577.9,339.0 578.6,338.5 579.3,339.4 580.0,339.1 580.7,339.4 581.4,338.6 582.1,338.7 582.8,338.3 583.5,337.8 584.2,340.3 584.9,339.9 585.6,340.3 586.3,343.1 587.0,341.5 587.7,339.3 588.4,338.1 589.1,338.3 589.8,341.7 590.5,341.6 590.5,339.8" fill="none" stroke="#000000" stroke-width="1.4" stroke-linejoin="round"/>
<polyline points="394.5,341.3 395.2,340.1 395.9,338.1 396.6,336.5 397.3,335.6 398.0,336.0 398.7,334.8 399.4,333.3 400.1,332.9 400.8,331.4 401.5,331.3 402.2,331.4 402.9,331.4 403.6,331.0 404.3,330.3 405.0,330.5 405.7,331.8 406.4,332.7 407.1,332.5 407.8,331.0 408.5,329.4 409.2,329.5 409.8,329.0" fill="none" stroke="#e51e10" stroke-width="1.4" stroke-linejoin="round"/>
<polyline points="409.8,328.0 411.6,318.7" fill="none" stroke="#e51e10" stroke-width="1.4" stroke-linejoin="round"/>
<polyline points="411.6,318.1 412.3,318.2 413.0,318.9 413.7,320.8 414.4,321.8 415.1,322.4 415.8,323.8 416.5,324.8 417.2,325.8 417.9,325.9 418.6,326.4 419.3,327.4 420.0,328.5 420.7,329.1 421.4,329.9 422.1,331.6 422.8,331.7 423.5,331.9 424.1,332.9" fill="none" stroke="#e51e10" stroke-width="1.4" stroke-linejoin="round"/>
<polyline points="424.1,333.2 426.0,315.9" fill="none" stroke="#e51e10" stroke-width="1.4" stroke-linejoin="round"/>
<polyline points="426.0,316.3 426.7,316.3 427.4,315.7 428.1,315.9 428.8,315.9 429.5,316.8 430.2,317.9 430.9,318.3 431.6,319.2 432.3,319.3 433.0,319.1 433.7,320.6 434.4,322.2 435.1,322.7 435.8,323.4 436.5,324.8 437.2,325.3 437.9,326.1 438.6,327.1 439.3,327.8 440.0,328.7 440.7,329.7 441.4,331.4 442.1,331.6 442.8,331.3 443.5,332.8 444.2,333.2 444.9,333.4 445.6,334.3 446.3,335.2 447.0,335.9 447.7,337.0 448.4,338.6 449.1,337.9 449.8,336.2 450.5,337.7 451.2,339.1 451.9,340.0 452.6,342.2 453.3,341.5 454.0,340.0 454.7,340.3 455.4,340.8 456.1,341.0 456.8,340.7 457.5,341.6 458.2,341.3 458.9,339.9 459.6,339.1 460.3,339.4 461.0,339.6 461.7,338.9 462.4,338.7 463.1,338.7 463.8,339.4 464.5,340.1 465.2,340.2 465.9,341.3 466.6,342.0 467.3,340.2 468.0,338.0 468.7,338.3 469.4,340.4 470.1,341.8 470.8,342.2 471.5,341.3 472.2,342.2 472.9,343.0 473.6,340.7 474.3,340.3 475.0,343.3 475.7,343.8 476.4,344.1 477.1,344.4 477.8,344.1 478.5,344.3 479.2,342.9 479.9,343.3 480.6,345.5 481.3,345.0 482.0,341.9 482.7,343.4 483.4,343.3 484.1,342.4 484.8,344.8 485.5,344.9 486.2,344.8 486.9,343.7 487.6,344.2 488.3,344.9 489.0,343.2 489.7,342.8 490.4,341.0 491.1,340.8 491.8,340.5 492.5,340.1 493.2,343.2 493.9,344.0 494.6,343.1 495.3,340.3 496.0,340.7 496.7,344.8 497.4,344.0 498.1,343.3 498.8,343.1 499.5,343.5 500.2,342.7 500.9,340.5 501.6,341.7 502.3,342.6 503.0,343.1 503.7,343.8 504.4,341.4 505.1,342.6 505.8,344.8 506.5,342.0 507.2,342.9 507.9,343.3 508.6,343.5 509.3,345.2 510.0,344.6 510.7,343.8 511.4,343.0 512.1,341.7 512.8,342.1 513.5,341.4 514.2,341.9 514.9,343.3 515.6,341.7 516.3,338.4 517.0,338.6 517.7,340.8 518.4,339.0 519.1,337.9 519.8,338.8 520.5,340.1 521.2,338.9 521.9,336.9 522.6,336.9 523.3,337.2 524.0,340.2 524.7,342.8 525.4,338.7 526.1,337.0 526.8,340.0 527.5,341.8 528.2,342.6 528.9,341.2 529.6,341.0 530.3,341.7 531.0,341.6 531.7,341.4 532.4,339.0 533.1,338.9 533.8,338.5 534.5,339.0 535.2,341.7 535.9,341.2 536.6,341.5 537.3,340.0 538.0,339.7 538.7,340.5 539.4,340.4 540.1,340.4 540.8,339.9 541.5,341.3 542.2,339.9 542.9,338.2 543.6,340.7 544.3,340.4 545.0,339.0 545.7,340.5 546.4,340.2 547.1,341.7 547.8,341.4 548.5,338.2 549.2,336.5 549.9,338.0 550.6,339.6 551.3,339.4 552.0,341.0 552.7,342.5 553.4,341.5 554.1,338.4 554.8,337.1 555.5,337.8 556.2,336.3 556.9,335.2 557.6,335.6 558.3,335.5 559.0,338.0 559.7,337.7 560.4,335.9 561.1,338.1 561.8,337.7 562.5,337.2 563.2,337.8 563.9,338.0 564.6,338.6 565.3,339.3 566.0,340.9 566.7,340.1 567.4,341.3 568.1,342.0 568.8,342.0 569.5,342.8 570.2,343.0 570.9,341.5 571.6,340.9 572.3,341.9 573.0,342.3 573.7,343.4 574.4,344.0 575.1,343.9 575.8,342.8 576.5,341.3 577.2,342.7 577.9,343.0 578.6,341.8 579.3,342.2 580.0,342.7 580.7,343.6 581.4,342.3 582.1,341.6 582.8,341.0 583.5,341.3 584.2,343.1 584.9,342.7 585.6,343.0 586.3,345.1 587.0,344.8 587.7,342.0 588.4,339.8 589.1,341.1 589.8,344.1 590.5,343.3 590.5,342.2" fill="none" stroke="#e51e10" stroke-width="1.4" stroke-linejoin="round"/>
<polyline points="58.9,681.7 59.2,677.4 59.4,672.0 59.5,670.0 59.7,664.8 59.9,655.4 60.2,648.1 60.2,647.9 60.4,643.8 60.7,640.3 61.0,637.6 61.2,636.0 61.2,635.9 61.5,634.7 61.7,633.6 62.0,632.7 62.3,632.0 62.5,631.4 62.8,631.0 62.8,631.0 63.0,630.8 63.3,630.5 63.5,630.3 63.8,630.1 64.1,629.9 64.3,629.8 64.6,629.7 64.8,629.6 65.1,629.5 65.3,629.5 65.4,629.5 65.6,629.5 65.9,629.5 66.1,629.5 66.4,629.5 66.6,629.5 66.9,629.5 67.2,629.5 67.4,629.5 67.7,629.5 67.9,629.5 68.2,629.5 68.4,629.5 68.7,629.5 69.0,629.5 69.2,629.5 69.5,629.5 69.7,629.5 70.0,629.5 70.2,629.5 70.5,629.5 70.8,629.5 71.0,629.5 71.3,629.5 71.5,629.5 71.8,629.5 72.1,629.5 72.3,629.5 72.6,629.5 72.8,629.5 73.1,629.5 73.3,629.5 73.6,629.5" fill="none" stroke="#3cb89a" stroke-width="1.1" stroke-linejoin="round"/>
<polyline points="73.6,629.5 73.9,611.2 74.0,600.0 74.1,591.6 74.4,569.8 74.5,560.0 74.6,554.6 74.9,543.2 75.1,534.5 75.3,530.0 75.4,529.0 75.6,525.2 75.9,522.2 76.1,520.0 76.3,519.0 76.4,518.7 76.6,517.8 76.9,517.0 77.1,516.4 77.4,516.2 77.4,516.2 77.6,516.2 77.9,516.2 78.1,516.2 78.4,516.3 78.6,516.3 78.9,516.3 79.1,516.4 79.4,516.4 79.6,516.5 79.9,516.5 80.1,516.6 80.4,516.7 80.6,516.8 80.9,516.8 81.1,516.9 81.4,517.0 81.6,517.1 81.9,517.2 82.1,517.3 82.4,517.4 82.6,517.5 82.9,517.6 83.1,517.7 83.4,517.8 83.6,517.9 83.9,518.0 84.1,518.1 84.4,518.2 84.7,518.3 84.9,518.4 85.2,518.5 85.3,518.6 85.4,518.6 85.7,518.7 85.9,518.8 86.2,519.0 86.4,519.1 86.7,519.2 86.9,519.3 87.2,519.4 87.4,519.5 87.7,519.7 87.9,519.8 88.2,519.9 88.4,520.0 88.7,520.2 88.9,520.3 89.2,520.5 89.4,520.6 89.7,520.7 89.9,520.9 90.2,521.0 90.4,521.2 90.7,521.3 90.9,521.5 91.2,521.7 91.4,521.8 91.7,522.0 91.9,522.2 92.2,522.3 92.4,522.5 92.7,522.7 92.9,522.9 93.2,523.0 93.4,523.2 93.7,523.4 93.8,523.5 93.9,523.6 94.2,523.8 94.4,524.0 94.7,524.2 94.9,524.5 95.2,524.7 95.5,524.9 95.7,525.2 96.0,525.4 96.2,525.7 96.5,525.9 96.7,526.2 97.0,526.4 97.2,526.7 97.5,527.0 97.7,527.3 98.0,527.6 98.2,527.9 98.5,528.1 98.7,528.4 99.0,528.7 99.2,529.1 99.5,529.4 99.7,529.7 100.0,530.0 100.2,530.3 100.5,530.6 100.7,530.9 101.0,531.2 101.1,531.4 101.2,531.6 101.5,531.9 101.7,532.2 102.0,532.6 102.2,533.0 102.5,533.4 102.7,533.7 103.0,534.1 103.2,534.5 103.5,534.9 103.7,535.3 104.0,535.7 104.2,536.1 104.5,536.5 104.7,536.9 105.0,537.3 105.2,537.7 105.5,538.0 105.7,538.4 105.9,538.6 106.0,538.7 106.3,539.1 106.5,539.5 106.8,539.8 107.0,540.2 107.3,540.6 107.5,541.0 107.8,541.3 108.0,541.7 108.3,542.1 108.5,542.4 108.8,542.7 109.0,543.1 109.3,543.4 109.5,543.7 109.8,543.9 110.0,544.2 110.3,544.4 110.5,544.5 110.8,544.7 110.8,544.7 111.0,544.8 111.3,544.9 111.5,545.0 111.8,545.1 112.0,545.2 112.3,545.3 112.5,545.4 112.8,545.5 113.0,545.6 113.3,545.7 113.5,545.7 113.8,545.8 114.0,545.9 114.3,545.9 114.5,546.0 114.8,546.1 115.0,546.1 115.3,546.2 115.5,546.2 115.8,546.3 116.0,546.4 116.3,546.4 116.5,546.5 116.8,546.5 117.1,546.6 117.3,546.6 117.6,546.7 117.8,546.7 118.1,546.8 118.3,546.9 118.6,546.9 118.8,547.0 119.1,547.1 119.2,547.1 119.3,547.1 119.6,547.2 119.8,547.3 120.1,547.3 120.3,547.4 120.6,547.5 120.8,547.6 121.1,547.6 121.3,547.7 121.6,547.8 121.8,547.9 122.1,547.9 122.3,548.0 122.6,548.1 122.8,548.1 123.1,548.2 123.3,548.3 123.6,548.4 123.8,548.4 124.1,548.5 124.3,548.6 124.6,548.6 124.8,548.7 125.1,548.8 125.3,548.9 125.6,548.9 125.8,549.0 126.1,549.1 126.3,549.1 126.6,549.2 126.8,549.3 127.1,549.3 127.3,549.4 127.6,549.5 127.7,549.5 127.9,549.5 128.1,549.6 128.4,549.7 128.6,549.7 128.9,549.8 129.1,549.9 129.4,549.9 129.6,550.0 129.9,550.0 130.1,550.1 130.4,550.2 130.6,550.2 130.9,550.3 131.1,550.3 131.4,550.4 131.6,550.4 131.9,550.5 132.1,550.6 132.4,550.6 132.6,550.7 132.9,550.7 133.1,550.8 133.4,550.8 133.6,550.9 133.9,550.9 134.1,551.0 134.4,551.0 134.6,551.1 134.9,551.1 135.1,551.2 135.4,551.3 135.6,551.3 135.9,551.4 136.1,551.4 136.4,551.5 136.6,551.5 136.9,551.6 137.1,551.6 137.4,551.7 137.6,551.7 137.9,551.8 138.1,551.8 138.4,551.9 138.7,552.0 138.9,552.0 139.2,552.1 139.4,552.1 139.7,552.2 139.9,552.2 140.2,552.3 140.4,552.4 140.7,552.4 140.9,552.5 141.2,552.5 141.4,552.6 141.7,552.7 141.9,552.7 142.2,552.8 142.4,552.9 142.7,552.9 142.9,553.0 143.2,553.0 143.4,553.1 143.7,553.2 143.9,553.3 144.2,553.3 144.4,553.4 144.7,553.5 144.9,553.5 145.2,553.6 145.4,553.7 145.7,553.8 145.8,553.8 145.9,553.8 146.2,553.9 146.4,554.0 146.7,554.1 146.9,554.2 147.2,554.2 147.4,554.3 147.7,554.4 147.9,554.5 148.2,554.6 148.4,554.7 148.7,554.8 148.9,554.9 149.2,555.0 149.5,555.1 149.7,555.1 150.0,555.2 150.2,555.3 150.5,555.4 150.7,555.5 151.0,555.6 151.2,555.7 151.5,555.8 151.7,555.9 152.0,556.1 152.2,556.2 152.5,556.3 152.7,556.4 153.0,556.5 153.2,556.6 153.5,556.7 153.7,556.8 154.0,556.9 154.2,557.0 154.5,557.1 154.7,557.3 155.0,557.4 155.2,557.5 155.5,557.6 155.7,557.7 156.0,557.8 156.2,558.0 156.5,558.1 156.7,558.2 157.0,558.3 157.2,558.4 157.5,558.6 157.7,558.7 158.0,558.8 158.2,558.9 158.5,559.0 158.7,559.2 159.0,559.3 159.2,559.4 159.5,559.5 159.7,559.7 160.0,559.8" fill="none" stroke="#3cb89a" stroke-width="1.1" stroke-linejoin="round"/>
<polyline points="160.0,559.7 161.2,560.7 162.4,561.3 163.6,561.8 164.8,562.4 166.0,563.0 167.2,564.0 168.4,563.9 169.6,564.6 170.8,565.6 172.0,566.1 173.2,567.3 174.4,567.8 175.6,567.9 176.8,569.0 178.0,569.9 179.2,570.6 180.4,571.2 181.6,571.3 182.8,571.8 184.0,572.8 185.2,573.6 186.4,574.0 187.6,574.3 188.8,574.9 190.0,575.3 191.2,576.3 192.4,577.0 193.6,576.9 194.8,577.3 196.0,578.3 197.2,579.1 198.4,579.4 199.6,579.7 200.8,580.3 202.0,580.6 203.2,580.9 204.4,582.0 205.6,582.7 206.8,583.2 208.0,584.1 209.2,584.7 210.4,585.1 211.6,585.9 212.8,586.7 214.0,586.7 215.2,587.3 216.4,588.0 217.6,588.2 218.8,588.7 220.0,589.4 221.2,589.5 222.4,590.1 223.6,591.0 224.8,591.5 226.0,591.8 227.2,592.3 228.4,593.2 229.6,593.8 230.8,594.1 232.0,594.8 233.2,595.3 234.4,595.6 235.6,596.7 236.8,597.1 238.0,597.2 239.2,598.1 240.4,598.6 241.6,598.9 242.8,599.5 244.0,600.3 245.2,600.3 246.4,600.3 247.6,601.1 248.8,601.5 250.0,602.1 251.2,602.6 252.4,603.3 253.6,603.8 254.8,604.2 255.3,604.7" fill="none" stroke="#3cb89a" stroke-width="1.1" stroke-linejoin="round"/>
<polyline points="58.9,659.6 59.2,655.8 59.4,651.7 59.7,647.3 59.8,645.0 59.9,642.5 60.2,636.4 60.4,630.3 60.7,625.6 60.8,624.5 61.0,623.2 61.2,621.2 61.5,619.4 61.7,617.9 62.0,616.6 62.2,615.6 62.5,614.8 62.8,614.3 62.8,614.2 63.0,613.9 63.3,613.6 63.5,613.3 63.8,613.0 64.0,612.8 64.3,612.6 64.6,612.4 64.8,612.3 65.1,612.2 65.3,612.2 65.4,612.2 65.6,612.2 65.8,612.2 66.1,612.3 66.3,612.4 66.6,612.5 66.9,612.6 67.1,612.7 67.4,612.9 67.6,613.0 67.9,613.2 68.1,613.4 68.4,613.6 68.7,613.7 68.9,613.9 69.2,614.1 69.3,614.2 69.4,614.3 69.7,614.5 69.9,614.7 70.2,614.9 70.5,615.2 70.7,615.4 71.0,615.7 71.2,616.0 71.5,616.3 71.7,616.6 72.0,616.9 72.3,617.2 72.5,617.6 72.8,617.9 73.0,618.3 73.3,618.6 73.5,619.0 73.8,619.4" fill="none" stroke="#56b4e9" stroke-width="1.3" stroke-linejoin="round"/>
<polyline points="73.8,619.4 74.1,597.9 74.3,580.0 74.3,580.0 74.6,564.6 74.8,551.5 75.0,545.0 75.1,543.9 75.3,539.3 75.6,535.8 75.8,533.3 76.0,532.0 76.1,531.7 76.3,530.6 76.6,529.8 76.8,529.5 76.8,529.5 77.1,529.6 77.3,529.9 77.6,530.3 77.8,530.8 78.1,531.4 78.3,532.1 78.6,532.8 78.8,533.5 79.0,534.0 79.1,534.2 79.3,534.9 79.6,535.7 79.8,536.5 80.1,537.5 80.3,538.4 80.6,539.4 80.8,540.5 81.1,541.6 81.3,542.7 81.6,543.8 81.8,544.9 82.1,546.0 82.3,547.1 82.6,548.1 82.8,549.2 82.9,549.5 83.1,550.1 83.3,551.1 83.6,552.1 83.8,553.0 84.1,554.0 84.3,554.9 84.6,555.9 84.8,556.8 85.1,557.7 85.3,558.7 85.6,559.6 85.8,560.6 86.1,561.6 86.3,562.5 86.6,563.5 86.8,564.5 87.1,565.5 87.3,566.6 87.6,567.7 87.8,568.7 88.1,569.9 88.1,570.0 88.3,571.0 88.6,572.2 88.8,573.4 89.1,574.7 89.3,575.9 89.6,577.2 89.8,578.5 90.1,579.9 90.3,581.3 90.6,582.6 90.8,584.0 91.1,585.4 91.3,586.9 91.6,588.3 91.8,589.7 92.1,591.2 92.3,592.6 92.6,594.0 92.8,595.5 93.1,596.9 93.3,598.3 93.6,599.7 93.8,601.1 94.1,602.5 94.3,603.9 94.6,605.2 94.8,606.6 95.1,607.9 95.3,609.0 95.3,609.2 95.6,610.4 95.8,611.7 96.1,612.9 96.3,614.2 96.6,615.4 96.8,616.6 97.1,617.9 97.3,619.1 97.6,620.3 97.8,621.5 98.1,622.7 98.3,623.9 98.6,625.1 98.8,626.3 99.1,627.4 99.3,628.6 99.6,629.8 99.8,631.0 100.1,632.1 100.3,633.3 100.6,634.5 100.8,635.6 101.1,636.8 101.3,638.0 101.6,639.1 101.8,640.1 101.8,640.3 102.1,641.5 102.3,642.7 102.6,643.9 102.8,645.1 103.1,646.3 103.3,647.6 103.6,648.8 103.8,650.1 104.1,651.3 104.3,652.5 104.6,653.7 104.8,654.9 105.1,656.1 105.3,657.2 105.6,658.3 105.8,659.3 106.1,660.3 106.3,661.3 106.6,662.2 106.8,663.0 107.0,663.5 107.1,663.8 107.3,664.6 107.6,665.4 107.8,666.1 108.1,666.9 108.3,667.7 108.6,668.4 108.8,669.1 109.1,669.8 109.3,670.4 109.6,670.9 109.8,671.4 110.1,671.9 110.4,672.2 110.6,672.5 110.8,672.6 110.9,672.6 111.1,672.8 111.4,672.9 111.6,673.0 111.9,673.1 112.1,673.3 112.4,673.4 112.6,673.5 112.9,673.6 113.1,673.7 113.4,673.8 113.6,673.8 113.9,673.9 114.1,674.0 114.4,674.1 114.6,674.1 114.9,674.2 115.1,674.2 115.4,674.3 115.6,674.3 115.9,674.4 116.1,674.4 116.4,674.4 116.6,674.5 116.9,674.5 117.1,674.5 117.3,674.5 117.4,674.5 117.6,674.5 117.9,674.5 118.1,674.5 118.4,674.5 118.6,674.5 118.9,674.6 119.1,674.6 119.4,674.6 119.6,674.6 119.9,674.6 120.1,674.6 120.4,674.6 120.6,674.6 120.9,674.6 121.1,674.6 121.4,674.6 121.6,674.6 121.9,674.6 122.1,674.6 122.4,674.7 122.6,674.7 122.9,674.7 123.1,674.7 123.4,674.7 123.6,674.7 123.9,674.7 124.1,674.7 124.4,674.7 124.6,674.7 124.9,674.7 125.1,674.7 125.4,674.7 125.6,674.7 125.9,674.7 126.1,674.7 126.4,674.7 126.6,674.7 126.9,674.7 127.1,674.7 127.4,674.8 127.6,674.8 127.9,674.8 128.1,674.8 128.4,674.8 128.6,674.8 128.9,674.8 129.1,674.8 129.4,674.8 129.6,674.8 129.9,674.8 130.1,674.8 130.4,674.8 130.6,674.8 130.9,674.8 131.1,674.8 131.4,674.8 131.6,674.8 131.9,674.8 132.1,674.8 132.4,674.8 132.6,674.8 132.9,674.8 133.1,674.8 133.4,674.8 133.6,674.8 133.9,674.8 134.1,674.8 134.4,674.8 134.6,674.8 134.9,674.8 135.0,674.8 135.1,674.8 135.4,674.8 135.6,674.8 135.9,674.8 136.1,674.8 136.4,674.8 136.6,674.8 136.9,674.8 137.1,674.8 137.4,674.8 137.6,674.8 137.9,674.8 138.1,674.8 138.4,674.8 138.6,674.8 138.9,674.8 139.1,674.7 139.4,674.7 139.6,674.7 139.9,674.7 140.1,674.7 140.4,674.7 140.6,674.7 140.9,674.7 141.1,674.7 141.4,674.7 141.6,674.7 141.9,674.7 142.1,674.6 142.4,674.6 142.6,674.6 142.9,674.6 143.1,674.6 143.4,674.6 143.6,674.6 143.9,674.6 144.1,674.6 144.4,674.5 144.6,674.5 144.9,674.5 145.1,674.5 145.4,674.5 145.6,674.5 145.9,674.5 146.1,674.4 146.4,674.4 146.7,674.4 146.9,674.4 147.2,674.4 147.4,674.4 147.7,674.4 147.9,674.3 148.2,674.3 148.4,674.3 148.7,674.3 148.9,674.3 149.2,674.3 149.4,674.2 149.7,674.2 149.9,674.2 150.2,674.2 150.4,674.2 150.7,674.2 150.9,674.1 151.2,674.1 151.4,674.1 151.7,674.1 151.9,674.1 152.2,674.1 152.4,674.0 152.7,674.0 152.9,674.0 153.2,674.0 153.4,674.0 153.7,674.0 153.9,673.9 154.2,673.9 154.4,673.9 154.7,673.9 154.9,673.9 155.2,673.8 155.4,673.8 155.7,673.8 155.9,673.8 156.2,673.8 156.4,673.8 156.7,673.7 156.9,673.7 157.2,673.7 157.4,673.7 157.7,673.7 157.9,673.7 158.2,673.6 158.4,673.6 158.7,673.6 158.9,673.6 159.2,673.6 159.4,673.5 159.7,673.5 159.9,673.5 160.2,673.5 160.4,673.5 160.7,673.5 160.9,673.4 161.2,673.4 161.4,673.4 161.7,673.4 161.9,673.4 162.2,673.4 162.4,673.4 162.7,673.3 162.9,673.3 163.2,673.3 163.4,673.3 163.7,673.3 163.9,673.3 164.2,673.2 164.4,673.2 164.7,673.2 164.9,673.2 165.0,673.2 165.2,673.2 165.4,673.2 165.7,673.2 165.9,673.1 166.2,673.1 166.4,673.1 166.7,673.1 166.9,673.1 167.2,673.1 167.4,673.1 167.7,673.1 167.9,673.0 168.2,673.0 168.4,673.0 168.7,673.0 168.9,673.0 169.2,673.0 169.4,673.0 169.7,672.9 169.9,672.9 170.2,672.9 170.4,672.9 170.7,672.9 170.9,672.9 171.2,672.9 171.4,672.8 171.7,672.8 171.9,672.8 172.2,672.8 172.4,672.8 172.7,672.8 172.9,672.8 173.2,672.7 173.4,672.7 173.7,672.7 173.9,672.7 174.2,672.7 174.4,672.7 174.7,672.7 174.9,672.6 175.2,672.6 175.4,672.6 175.7,672.6 175.9,672.6 176.2,672.6 176.4,672.5 176.7,672.5 176.9,672.5 177.2,672.5 177.4,672.5 177.7,672.5 177.9,672.5 178.2,672.4 178.4,672.4 178.7,672.4 178.9,672.4 179.2,672.4 179.4,672.4 179.7,672.4 179.9,672.3 180.2,672.3 180.4,672.3 180.7,672.3 180.9,672.3 181.2,672.3 181.4,672.3 181.7,672.2 181.9,672.2 182.2,672.2 182.4,672.2 182.7,672.2 183.0,672.2 183.2,672.2 183.5,672.1 183.7,672.1 184.0,672.1 184.2,672.1 184.5,672.1 184.7,672.1 185.0,672.1 185.2,672.0 185.5,672.0 185.7,672.0 186.0,672.0 186.2,672.0 186.5,672.0 186.7,671.9 187.0,671.9 187.2,671.9 187.5,671.9 187.7,671.9 188.0,671.9 188.2,671.9 188.5,671.8 188.7,671.8 189.0,671.8 189.2,671.8 189.5,671.8 189.7,671.8 190.0,671.8 190.2,671.7 190.5,671.7 190.7,671.7 191.0,671.7 191.2,671.7 191.5,671.7 191.7,671.7 192.0,671.6 192.2,671.6 192.5,671.6 192.7,671.6 193.0,671.6 193.2,671.6 193.5,671.6 193.7,671.5 194.0,671.5 194.2,671.5 194.5,671.5 194.7,671.5 195.0,671.5 195.2,671.5 195.5,671.4 195.7,671.4 196.0,671.4 196.2,671.4 196.5,671.4 196.7,671.4 197.0,671.4 197.2,671.4 197.5,671.3 197.7,671.3 198.0,671.3 198.2,671.3 198.5,671.3 198.7,671.3 199.0,671.3 199.2,671.2 199.5,671.2 199.7,671.2 200.0,671.2 200.0,671.2 200.2,671.2 200.5,671.2 200.7,671.2 201.0,671.1 201.2,671.1 201.5,671.1 201.7,671.1 202.0,671.1 202.2,671.1 202.5,671.1 202.7,671.1 203.0,671.0 203.2,671.0 203.5,671.0 203.7,671.0 204.0,671.0 204.2,671.0 204.5,671.0 204.7,670.9 205.0,670.9 205.2,670.9 205.5,670.9 205.7,670.9 206.0,670.9 206.2,670.9 206.5,670.9 206.7,670.8 207.0,670.8 207.2,670.8 207.5,670.8 207.7,670.8 208.0,670.8 208.2,670.8 208.5,670.7 208.7,670.7 209.0,670.7 209.2,670.7 209.5,670.7 209.7,670.7 210.0,670.7 210.2,670.7 210.5,670.6 210.7,670.6 211.0,670.6 211.2,670.6 211.5,670.6 211.7,670.6 212.0,670.6 212.2,670.5 212.5,670.5 212.7,670.5 213.0,670.5 213.2,670.5 213.5,670.5 213.7,670.5 214.0,670.5 214.2,670.4 214.5,670.4 214.7,670.4 215.0,670.4 215.2,670.4 215.5,670.4 215.7,670.4 216.0,670.4 216.2,670.3 216.5,670.3 216.7,670.3 217.0,670.3 217.2,670.3 217.5,670.3 217.7,670.3 218.0,670.2 218.2,670.2 218.5,670.2 218.7,670.2 219.0,670.2 219.3,670.2 219.5,670.2 219.8,670.2 220.0,670.1 220.3,670.1 220.5,670.1 220.8,670.1 221.0,670.1 221.3,670.1 221.5,670.1 221.8,670.1 222.0,670.0 222.3,670.0 222.5,670.0 222.8,670.0 223.0,670.0 223.3,670.0 223.5,670.0 223.8,669.9 224.0,669.9 224.3,669.9 224.5,669.9 224.8,669.9 225.0,669.9 225.3,669.9 225.5,669.9 225.8,669.8 226.0,669.8 226.3,669.8 226.5,669.8 226.8,669.8 227.0,669.8 227.3,669.8 227.5,669.8 227.8,669.7 228.0,669.7 228.3,669.7 228.5,669.7 228.8,669.7 229.0,669.7 229.3,669.7 229.5,669.7 229.8,669.6 230.0,669.6 230.3,669.6 230.5,669.6 230.8,669.6 231.0,669.6 231.3,669.6 231.5,669.6 231.8,669.5 232.0,669.5 232.3,669.5 232.5,669.5 232.8,669.5 233.0,669.5 233.3,669.5 233.5,669.5 233.8,669.4 234.0,669.4 234.3,669.4 234.5,669.4 234.8,669.4 235.0,669.4 235.3,669.4 235.5,669.4 235.8,669.3 236.0,669.3 236.3,669.3 236.5,669.3 236.8,669.3 237.0,669.3 237.3,669.3 237.5,669.3 237.8,669.2 238.0,669.2 238.3,669.2 238.5,669.2 238.8,669.2 239.0,669.2 239.3,669.2 239.5,669.2 239.8,669.1 240.0,669.1 240.3,669.1 240.5,669.1 240.8,669.1 241.0,669.1 241.3,669.1 241.5,669.1 241.8,669.0 242.0,669.0 242.3,669.0 242.5,669.0 242.8,669.0 243.0,669.0 243.3,669.0 243.5,669.0 243.8,668.9 244.0,668.9 244.3,668.9 244.5,668.9 244.8,668.9 245.0,668.9 245.3,668.9 245.5,668.9 245.8,668.9 246.0,668.8 246.3,668.8 246.5,668.8 246.8,668.8 247.0,668.8 247.3,668.8 247.5,668.8 247.8,668.8 248.0,668.7 248.3,668.7 248.5,668.7 248.8,668.7 249.0,668.7 249.3,668.7 249.5,668.7 249.8,668.7 250.0,668.6 250.3,668.6 250.5,668.6 250.8,668.6 251.0,668.6 251.3,668.6 251.5,668.6 251.8,668.6 252.0,668.6 252.3,668.5 252.5,668.5 252.8,668.5 253.0,668.5 253.3,668.5 253.5,668.5 253.8,668.5 254.0,668.5 254.3,668.4 254.5,668.4 254.8,668.4 255.0,668.4 255.3,668.4" fill="none" stroke="#56b4e9" stroke-width="1.3" stroke-linejoin="round"/>
<polyline points="58.9,660.9 59.2,654.7 59.4,648.7 59.7,642.9 59.8,640.0 59.9,637.1 60.2,630.8 60.4,625.0 60.7,620.5 60.8,619.4 61.0,618.1 61.2,616.0 61.5,614.3 61.7,612.7 62.0,611.5 62.2,610.4 62.5,609.6 62.8,609.1 62.8,609.0 63.0,608.7 63.3,608.3 63.5,608.0 63.8,607.7 64.0,607.5 64.3,607.2 64.6,607.1 64.8,606.9 65.1,606.8 65.3,606.8 65.4,606.8 65.6,606.8 65.8,606.8 66.1,606.9 66.3,607.0 66.6,607.1 66.9,607.3 67.1,607.4 67.4,607.6 67.6,607.7 67.9,607.9 68.1,608.1 68.4,608.3 68.7,608.5 68.9,608.7 69.2,608.9 69.3,609.0 69.4,609.1 69.7,609.3 69.9,609.5 70.2,609.7 70.5,609.9 70.7,610.2 71.0,610.4 71.2,610.6 71.5,610.9 71.7,611.2 72.0,611.4 72.3,611.7 72.5,612.0 72.8,612.3 73.0,612.6 73.3,612.9 73.5,613.2 73.8,613.5" fill="none" stroke="#000000" stroke-width="1.4" stroke-linejoin="round"/>
<polyline points="73.8,613.5 74.1,597.9 74.3,581.5 74.4,575.0 74.6,562.8 74.8,541.7 75.0,531.4 75.1,529.7 75.3,523.7 75.6,519.6 75.8,517.0 75.8,516.9 76.1,514.8 76.3,513.0 76.6,511.8 76.8,511.4 76.8,511.4 77.1,511.6 77.3,511.9 77.6,512.5 77.8,513.1 78.1,513.8 78.3,514.5 78.5,515.0 78.6,515.2 78.8,516.0 79.1,516.9 79.3,517.8 79.6,518.8 79.8,519.9 80.1,521.0 80.4,522.2 80.6,523.4 80.9,524.6 81.1,525.8 81.4,527.0 81.6,528.2 81.9,529.4 82.1,530.6 82.3,531.4 82.4,531.7 82.6,532.8 82.9,533.9 83.1,535.0 83.4,536.2 83.6,537.3 83.9,538.4 84.1,539.5 84.4,540.7 84.6,541.8 84.9,542.9 85.1,544.1 85.4,545.2 85.6,546.3 85.9,547.5 86.1,548.6 86.4,549.7 86.7,550.9 86.9,552.0 87.2,553.2 87.4,554.3 87.7,555.4 87.7,555.6 87.9,556.6 88.2,557.7 88.4,558.8 88.7,559.9 88.9,561.0 89.2,562.1 89.4,563.2 89.7,564.3 89.9,565.4 90.2,566.5 90.4,567.6 90.7,568.7 90.9,569.9 91.2,571.1 91.4,572.3 91.7,573.5 91.9,574.7 92.0,575.0 92.2,576.0 92.4,577.3 92.7,578.7 93.0,580.1 93.2,581.5 93.5,583.0 93.7,584.5 94.0,586.0 94.2,587.5 94.5,589.1 94.7,590.6 95.0,592.1 95.2,593.7 95.5,595.2 95.7,596.8 96.0,598.3 96.2,599.8 96.5,601.3 96.7,602.7 97.0,604.1 97.2,605.5 97.5,606.9 97.7,608.2 97.9,609.0 98.0,609.5 98.2,610.7 98.5,611.9 98.7,613.2 99.0,614.4 99.3,615.6 99.5,616.7 99.8,617.9 100.0,619.1 100.3,620.2 100.5,621.3 100.8,622.4 101.0,623.5 101.3,624.6 101.5,625.7 101.8,626.8 102.0,627.9 102.3,628.9 102.5,630.0 102.8,631.0 103.0,632.0 103.3,633.1 103.5,634.1 103.8,635.1 104.0,636.1 104.3,637.1 104.4,637.5 104.5,638.1 104.8,639.1 105.1,640.2 105.3,641.3 105.6,642.4 105.8,643.5 106.1,644.6 106.3,645.7 106.6,646.8 106.8,647.8 107.1,648.9 107.3,649.9 107.6,650.8 107.8,651.7 108.1,652.5 108.3,653.3 108.6,654.0 108.8,654.6 109.1,655.1 109.3,655.5 109.5,655.7 109.6,655.8 109.8,656.1 110.1,656.3 110.3,656.5 110.6,656.7 110.8,656.9 111.1,657.1 111.4,657.3 111.6,657.5 111.9,657.6 112.1,657.8 112.4,657.9 112.6,658.0 112.9,658.1 113.1,658.2 113.4,658.3 113.4,658.3 113.6,658.4 113.9,658.4 114.1,658.5 114.4,658.6 114.6,658.7 114.9,658.8 115.1,658.8 115.4,658.9 115.6,659.0 115.9,659.0 116.1,659.1 116.4,659.2 116.6,659.2 116.9,659.3 117.1,659.3 117.4,659.4 117.7,659.4 117.9,659.4 118.2,659.5 118.4,659.5 118.7,659.5 118.9,659.6 119.2,659.6 119.4,659.6 119.7,659.6 119.9,659.6 119.9,659.6 120.2,659.6 120.4,659.6 120.7,659.6 120.9,659.6 121.2,659.6 121.4,659.6 121.7,659.6 121.9,659.6 122.2,659.6 122.4,659.6 122.7,659.6 122.9,659.6 123.2,659.6 123.4,659.6 123.7,659.6 124.0,659.6 124.2,659.6 124.5,659.6 124.7,659.6 125.0,659.6 125.2,659.6 125.5,659.6 125.7,659.6 126.0,659.6 126.2,659.6 126.5,659.6 126.7,659.6 127.0,659.6 127.2,659.6 127.5,659.6 127.7,659.6 128.0,659.6 128.2,659.6 128.5,659.6 128.7,659.6 129.0,659.6 129.2,659.6 129.5,659.6 129.7,659.6 130.0,659.6" fill="none" stroke="#000000" stroke-width="1.4" stroke-linejoin="round"/>
<polyline points="130.0,659.4 131.2,659.5 132.4,660.0 133.6,660.0 134.8,659.5 136.0,659.4 137.2,659.4 138.4,659.5 139.6,659.8 140.8,659.6 142.0,659.4 143.2,659.8 144.4,659.7 145.6,659.5 146.8,659.4 148.0,659.2 149.2,659.3 150.4,660.0 151.6,660.0 152.8,659.4 154.0,659.4 155.2,659.4 156.4,659.7 157.6,659.8 158.8,660.1 160.0,660.1 161.2,660.0 162.4,660.0 163.6,659.8 164.8,659.4 166.0,659.3 167.2,659.6 168.4,659.5 169.6,659.1 170.8,659.3 172.0,659.7 173.2,659.4 174.4,659.5 175.6,659.5 176.8,659.6 178.0,659.4 179.2,659.1 180.4,659.5 181.6,659.7 182.8,659.6 184.0,659.4 185.2,659.3 186.4,659.4 187.6,659.8 188.8,659.6 190.0,659.7 191.2,660.1 192.4,659.7 193.6,659.7 194.8,659.5 196.0,658.9 197.2,659.0 198.4,659.2 199.6,659.4 200.8,659.4 202.0,659.5 203.2,659.2 204.4,659.3 205.6,659.4 206.8,659.2 208.0,659.4 209.2,659.3 210.4,659.1 211.6,659.1 212.8,659.4 214.0,659.7 215.2,659.8 216.4,659.5 217.6,659.2 218.8,659.2 220.0,659.5 221.2,659.3 222.4,659.4 223.6,659.8 224.8,659.3 226.0,659.5 227.2,659.9 228.4,659.9 229.6,659.9 230.8,659.9 232.0,659.9 233.2,660.1 234.4,659.8 235.6,659.9 236.8,659.9 238.0,659.7 239.2,659.4 240.4,659.3 241.6,659.7 242.8,659.5 244.0,659.5 245.2,659.8 246.4,659.7 247.6,659.2 248.8,659.1 250.0,659.7 251.2,659.6 252.4,659.5 253.6,659.1 254.8,659.2 255.3,659.6" fill="none" stroke="#000000" stroke-width="1.4" stroke-linejoin="round"/>
<polyline points="400.5,679.4 400.8,674.7 401.0,670.2 401.3,666.2 401.3,665.8 401.5,662.4 401.8,658.3 402.0,654.5 402.3,651.2 402.6,648.7 402.8,647.6 402.8,647.6 403.1,647.1 403.3,646.7 403.6,646.3 403.8,646.0 404.1,645.7 404.4,645.5 404.6,645.4 404.9,645.3 405.1,645.3 405.1,645.3 405.4,645.3 405.6,645.3 405.9,645.3 406.2,645.3 406.4,645.3 406.7,645.3 406.9,645.3 407.2,645.3 407.4,645.3 407.7,645.3 408.0,645.3 408.2,645.3 408.5,645.3 408.7,645.3 409.0,645.3 409.2,645.3 409.5,645.3 409.8,645.3 410.0,645.3 410.0,645.3 410.3,645.3 410.5,645.3 410.8,645.3 411.0,645.3 411.3,645.3 411.6,645.3 411.8,645.3 412.1,645.3 412.3,645.3 412.6,645.3 412.8,645.3 413.1,645.3 413.4,645.3 413.6,645.3 413.9,645.3 414.1,645.3 414.4,645.3 414.6,645.3 414.9,645.3" fill="none" stroke="#3cb89a" stroke-width="1.1" stroke-linejoin="round"/>
<polyline points="415.2,645.3 415.5,617.5 415.7,600.0 415.7,599.4 416.0,589.7 416.2,583.0 416.4,580.0 416.5,578.8 416.7,575.5 417.0,573.2 417.2,572.3 417.3,572.2 417.5,571.7 417.8,571.3 418.0,570.9 418.3,570.6 418.5,570.4 418.8,570.2 419.1,570.1 419.3,570.0 419.5,570.0 419.6,570.0 419.8,570.0 420.1,570.0 420.3,570.0 420.6,570.0 420.9,570.0 421.1,570.1 421.4,570.1 421.6,570.1 421.9,570.1 422.1,570.1 422.4,570.2 422.6,570.2 422.9,570.2 423.2,570.3 423.4,570.3 423.7,570.3 423.9,570.4 424.2,570.4 424.4,570.4 424.7,570.5 425.0,570.5 425.2,570.6 425.5,570.6 425.7,570.7 426.0,570.7 426.2,570.8 426.3,570.8 426.5,570.8 426.8,570.9 427.0,571.0 427.3,571.1 427.5,571.3 427.8,571.4 428.0,571.5 428.3,571.7 428.6,571.9 428.8,572.1 429.1,572.2 429.3,572.4 429.6,572.6 429.8,572.8 430.1,573.0" fill="none" stroke="#3cb89a" stroke-width="1.1" stroke-linejoin="round"/>
<polyline points="430.1,573.0 430.4,570.2 430.6,566.0 430.9,561.0 430.9,560.0 431.1,554.0 431.4,544.4 431.6,535.0 431.8,530.0 431.9,528.9 432.1,524.3 432.4,520.2 432.6,516.9 432.9,514.6 433.1,513.9 433.1,513.9 433.4,513.9 433.6,513.9 433.9,514.0 434.1,514.0 434.4,514.1 434.6,514.2 434.9,514.2 435.1,514.3 435.4,514.4 435.4,514.4 435.6,514.5 435.9,514.6 436.1,514.7 436.4,514.8 436.6,514.9 436.9,515.1 437.1,515.2 437.4,515.4 437.6,515.5 437.9,515.7 438.1,515.9 438.4,516.1 438.6,516.3 438.9,516.5 439.2,516.7 439.4,517.0 439.7,517.2 439.9,517.4 440.2,517.7 440.4,517.9 440.7,518.2 440.9,518.4 441.2,518.7 441.4,518.9 441.7,519.2 441.9,519.5 442.2,519.7 442.4,520.0 442.7,520.3 442.9,520.6 443.2,520.8 443.4,521.1 443.7,521.4 443.9,521.7 444.2,521.9 444.4,522.2 444.5,522.3 444.7,522.5 444.9,522.8 445.2,523.1 445.4,523.4 445.7,523.7 445.9,524.0 446.2,524.3 446.4,524.6 446.7,524.9 446.9,525.2 447.2,525.5 447.4,525.9 447.7,526.2 447.9,526.6 448.2,526.9 448.5,527.2 448.7,527.6 449.0,528.0 449.2,528.3 449.5,528.7 449.7,529.1 450.0,529.4 450.2,529.8 450.5,530.2 450.7,530.6 451.0,531.0 451.2,531.4 451.5,531.8 451.7,532.2 452.0,532.6 452.2,533.0 452.5,533.4 452.7,533.8 453.0,534.2 453.2,534.6 453.5,535.1 453.7,535.5 454.0,535.9 454.2,536.3 454.5,536.8 454.7,537.2 455.0,537.7 455.2,538.1 455.5,538.5 455.7,539.0 456.0,539.4 456.2,539.9 456.5,540.3 456.6,540.5 456.7,540.8 457.0,541.2 457.3,541.7 457.5,542.2 457.8,542.8 458.0,543.3 458.3,543.9 458.5,544.5 458.8,545.0 459.0,545.6 459.3,546.2 459.5,546.8 459.8,547.5 460.0,548.1 460.3,548.7 460.5,549.3 460.8,549.9 461.0,550.6 461.3,551.2 461.5,551.8 461.8,552.4 462.0,553.0 462.3,553.6 462.5,554.2 462.8,554.8 463.0,555.3 463.3,555.9 463.5,556.4 463.8,556.9 464.0,557.4 464.3,557.9 464.5,558.4 464.8,558.8 465.0,559.2 465.3,559.6 465.5,560.0 465.7,560.2 465.8,560.3 466.1,560.7 466.3,561.0 466.6,561.3 466.8,561.6 467.1,561.9 467.3,562.2 467.6,562.5 467.8,562.8 468.1,563.1 468.3,563.4 468.6,563.7 468.8,563.9 469.1,564.2 469.3,564.4 469.6,564.7 469.8,564.9 470.1,565.1 470.3,565.3 470.6,565.5 470.8,565.7 471.1,565.8 471.3,566.0 471.6,566.1 471.8,566.2 471.8,566.2 472.1,566.3 472.3,566.4 472.6,566.5 472.8,566.7 473.1,566.8 473.3,566.9 473.6,567.0 473.8,567.1 474.1,567.2 474.3,567.3 474.6,567.4 474.8,567.5 475.1,567.6 475.4,567.7 475.6,567.7 475.9,567.8 476.1,567.9 476.4,568.0 476.6,568.1 476.9,568.2 477.1,568.3 477.4,568.3 477.6,568.4 477.9,568.5 478.1,568.5 478.4,568.6 478.6,568.7 478.9,568.7 479.1,568.8 479.4,568.9 479.6,568.9 479.9,569.0 480.1,569.0 480.4,569.1 480.6,569.1 480.9,569.2 481.1,569.2 481.4,569.2 481.6,569.3 481.9,569.3 482.1,569.3 482.4,569.3 482.6,569.4 482.9,569.4 483.1,569.4 483.4,569.4 483.6,569.4 483.9,569.4" fill="none" stroke="#3cb89a" stroke-width="1.1" stroke-linejoin="round"/>
<polyline points="483.9,569.6 485.1,569.6 486.3,570.0 487.5,570.8 488.7,571.3 489.9,571.6 491.1,571.9 492.3,573.1 493.5,573.6 494.7,573.6 495.9,574.3 497.1,574.9 498.3,575.9 499.5,577.3 500.7,577.6 501.9,577.7 503.1,579.0 504.3,580.4 505.5,581.2 506.7,582.1 507.9,582.7 509.1,583.4 510.3,584.3 511.5,585.1 512.7,586.6 513.9,587.8 515.1,589.1 516.3,590.2 517.5,590.5 518.7,591.4 519.9,592.7 521.1,593.3 522.3,593.3 523.5,593.9 524.7,595.0 525.9,595.4 527.1,595.5 528.3,596.4 529.5,597.1 530.7,597.1 531.9,597.5 533.1,598.1 534.3,598.7 535.5,599.3 536.7,600.0 537.9,600.6 539.1,600.5 540.3,600.9 541.5,601.9 542.7,602.3 543.9,602.8 545.1,603.0 546.3,603.0 547.5,603.7 548.7,604.1 549.9,603.8 551.1,604.7 552.3,605.4 553.5,605.5 554.7,605.8 555.9,606.0 557.1,606.4 558.3,607.1 559.5,607.8 560.7,607.8 561.9,608.4 563.1,609.1 564.3,609.1 565.5,610.0 566.7,610.6 567.9,610.6 569.1,611.5 570.3,612.1 571.5,612.2 572.7,612.9 573.9,613.7 575.1,614.0 576.3,614.4 577.5,614.8 578.7,615.3 579.9,615.8 581.1,616.0 582.3,617.1 583.5,617.7 584.7,617.9 585.9,618.8 587.1,619.4 588.3,619.3 589.5,619.9 590.7,620.3 591.9,620.9 593.1,622.0 594.3,622.2 595.5,622.3 595.8,622.6" fill="none" stroke="#3cb89a" stroke-width="1.1" stroke-linejoin="round"/>
<polyline points="401.0,659.7 401.3,653.8 401.5,648.2 401.8,643.0 402.0,638.3 402.3,634.2 402.5,630.7 402.8,627.9 402.8,627.9 403.1,625.5 403.3,623.2 403.6,621.2 403.8,619.6 404.1,618.5 404.3,618.0 404.3,617.9 404.6,617.6 404.9,617.4 405.1,617.1 405.4,616.9 405.6,616.7 405.9,616.5 406.1,616.4 406.4,616.3 406.7,616.2 406.9,616.1 407.2,616.1 407.4,616.1 407.4,616.1 407.7,616.1 407.9,616.2 408.2,616.3 408.5,616.4 408.7,616.6 409.0,616.8 409.2,617.0 409.5,617.2 409.8,617.5 410.0,617.7 410.3,617.9 410.5,618.2 410.8,618.4 411.0,618.7 411.2,618.8 411.3,618.9 411.6,619.1 411.8,619.3 412.1,619.6 412.3,619.8 412.6,620.1 412.8,620.3 413.1,620.6 413.4,620.9 413.6,621.1 413.9,621.4 414.1,621.7 414.4,622.0 414.6,622.3 414.9,622.6" fill="none" stroke="#56b4e9" stroke-width="1.3" stroke-linejoin="round"/>
<polyline points="414.9,622.6 415.2,610.1 415.4,598.2 415.6,590.0 415.7,587.1 415.9,575.7 416.2,564.9 416.4,556.6 416.5,555.0 416.7,551.0 416.9,546.5 417.2,543.6 417.3,543.0 417.5,542.5 417.7,541.7 418.0,541.2 418.2,540.9 418.4,540.8 418.5,540.8 418.7,541.0 419.0,541.4 419.2,541.9 419.5,542.5 419.8,543.1 420.0,543.8 420.3,544.5 420.5,545.0 420.5,545.1 420.8,545.6 421.0,546.2 421.3,546.7 421.5,547.3 421.8,547.9 422.1,548.5 422.3,549.1 422.6,549.7 422.8,550.3 423.1,550.9 423.3,551.6 423.6,552.2 423.9,552.9 424.1,553.6 424.4,554.3 424.6,555.1 424.8,555.6 424.9,555.8 425.1,556.6 425.4,557.3 425.6,558.1 425.9,558.8 426.2,559.6 426.4,560.3 426.7,561.1 426.9,562.0 427.2,562.8 427.4,563.7 427.7,564.7 427.9,565.7 428.2,566.7 428.5,567.9 428.7,569.0 429.0,570.3 429.2,571.7 429.5,573.1 429.6,573.8 429.7,574.7 430.0,576.9 430.2,579.5 430.5,582.1" fill="none" stroke="#56b4e9" stroke-width="1.3" stroke-linejoin="round"/>
<polyline points="430.5,582.1 430.8,571.5 431.0,562.4 431.3,555.9 431.3,555.0 431.5,551.8 431.8,548.2 432.0,545.4 432.3,543.8 432.4,543.5 432.5,543.5 432.8,543.9 433.0,544.5 433.3,545.3 433.5,546.2 433.8,547.2 434.0,548.0 434.0,548.0 434.3,548.8 434.5,549.6 434.8,550.5 435.0,551.3 435.3,552.2 435.5,553.1 435.8,554.0 436.0,555.0 436.3,556.0 436.5,557.0 436.8,558.0 436.9,558.6 437.0,559.1 437.3,560.2 437.5,561.4 437.8,562.6 438.0,563.9 438.3,565.2 438.5,566.5 438.8,567.9 439.0,569.3 439.3,570.7 439.5,572.2 439.8,573.6 440.0,575.1 440.3,576.6 440.5,578.0 440.8,579.5 441.0,581.0 441.3,582.4 441.5,583.9 441.8,585.3 442.0,586.7 442.3,588.1 442.5,589.5 442.8,590.8 443.0,592.0 443.0,592.1 443.3,593.4 443.5,594.6 443.8,595.9 444.0,597.1 444.3,598.4 444.5,599.6 444.8,600.9 445.0,602.1 445.3,603.4 445.5,604.6 445.8,605.8 446.0,607.0 446.3,608.2 446.5,609.4 446.8,610.5 447.0,611.7 447.3,612.8 447.5,614.0 447.8,615.1 448.0,616.2 448.3,617.3 448.5,618.3 448.8,619.4 449.0,620.3 449.0,620.4 449.3,621.4 449.5,622.4 449.8,623.4 450.0,624.4 450.3,625.4 450.5,626.4 450.8,627.3 451.0,628.3 451.3,629.2 451.5,630.2 451.8,631.1 452.0,632.0 452.3,632.9 452.5,633.8 452.8,634.7 453.0,635.6 453.3,636.5 453.5,637.3 453.8,638.2 454.0,639.1 454.3,639.9 454.5,640.8 454.8,641.6 455.0,642.4 455.3,643.3 455.5,644.1 455.8,644.9 456.0,645.8 456.3,646.6 456.5,647.4 456.6,647.6 456.8,648.2 457.0,649.1 457.3,649.9 457.5,650.8 457.8,651.7 458.0,652.6 458.3,653.5 458.5,654.4 458.8,655.3 459.0,656.2 459.3,657.1 459.5,658.0 459.8,658.9 460.0,659.7 460.3,660.6 460.5,661.4 460.8,662.3 461.0,663.1 461.3,663.8 461.5,664.6 461.8,665.3 462.0,666.0 462.3,666.7 462.5,667.3 462.8,667.9 463.0,668.4 463.3,668.9 463.6,669.4 463.8,669.8 464.1,670.1 464.2,670.3 464.3,670.4 464.6,670.7 464.8,671.0 465.1,671.3 465.3,671.5 465.6,671.8 465.8,672.0 466.1,672.3 466.3,672.5 466.6,672.8 466.8,673.0 467.1,673.2 467.3,673.4 467.6,673.6 467.8,673.8 468.1,674.0 468.3,674.2 468.6,674.4 468.8,674.5 469.1,674.7 469.3,674.8 469.6,675.0 469.8,675.1 470.1,675.2 470.3,675.3 470.6,675.4 470.8,675.5 471.1,675.6 471.3,675.7 471.6,675.8 471.8,675.8 471.8,675.8 472.1,675.8 472.3,675.9 472.6,675.9 472.8,676.0 473.1,676.0 473.3,676.1 473.6,676.1 473.8,676.1 474.1,676.2 474.3,676.2 474.6,676.3 474.8,676.3 475.1,676.3 475.3,676.3 475.6,676.4 475.8,676.4 476.1,676.4 476.3,676.4 476.6,676.5 476.8,676.5 477.1,676.5 477.3,676.5 477.6,676.5 477.8,676.5 478.0,676.5 478.1,676.5 478.3,676.5 478.6,676.5 478.8,676.5 479.1,676.5 479.3,676.5 479.6,676.5 479.8,676.4 480.1,676.4 480.3,676.4 480.6,676.4 480.8,676.4 481.1,676.4 481.3,676.3 481.6,676.3 481.8,676.3 482.1,676.3 482.3,676.2 482.6,676.2 482.8,676.2 483.1,676.1 483.3,676.1 483.6,676.1 483.8,676.1 484.1,676.0 484.3,676.0 484.6,676.0 484.8,675.9 485.1,675.9 485.3,675.9 485.6,675.8 485.8,675.8 486.1,675.8 486.3,675.7 486.6,675.7 486.8,675.7 487.1,675.6 487.3,675.6 487.6,675.6 487.8,675.5 488.1,675.5 488.3,675.5 488.6,675.4 488.8,675.4 489.1,675.4 489.3,675.4 489.6,675.3 489.8,675.3 490.0,675.3 490.1,675.3 490.3,675.3 490.6,675.2 490.8,675.2 491.1,675.2 491.3,675.2 491.6,675.2 491.8,675.1 492.1,675.1 492.3,675.1 492.6,675.1 492.8,675.1 493.1,675.0 493.3,675.0 493.6,675.0 493.8,675.0 494.1,674.9 494.3,674.9 494.6,674.9 494.8,674.9 495.1,674.9 495.3,674.8 495.6,674.8 495.8,674.8 496.1,674.8 496.3,674.8 496.6,674.7 496.9,674.7 497.1,674.7 497.4,674.7 497.6,674.7 497.9,674.6 498.1,674.6 498.4,674.6 498.6,674.6 498.9,674.6 499.1,674.5 499.4,674.5 499.6,674.5 499.9,674.5 500.1,674.5 500.4,674.4 500.6,674.4 500.9,674.4 501.1,674.4 501.4,674.4 501.6,674.3 501.9,674.3 502.1,674.3 502.4,674.3 502.6,674.3 502.9,674.2 503.1,674.2 503.4,674.2 503.6,674.2 503.9,674.2 504.1,674.1 504.4,674.1 504.6,674.1 504.9,674.1 505.1,674.1 505.4,674.1 505.6,674.0 505.9,674.0 506.1,674.0 506.4,674.0 506.6,674.0 506.9,673.9 507.1,673.9 507.4,673.9 507.6,673.9 507.9,673.9 508.1,673.8 508.4,673.8 508.6,673.8 508.9,673.8 509.1,673.8 509.4,673.8 509.6,673.7 509.9,673.7 510.1,673.7 510.4,673.7 510.6,673.7 510.9,673.6 511.1,673.6 511.4,673.6 511.6,673.6 511.9,673.6 512.1,673.6 512.4,673.5 512.6,673.5 512.9,673.5 513.1,673.5 513.4,673.5 513.6,673.4 513.9,673.4 514.1,673.4 514.4,673.4 514.6,673.4 514.9,673.4 515.1,673.3 515.4,673.3 515.6,673.3 515.9,673.3 516.1,673.3 516.4,673.3 516.6,673.2 516.9,673.2 517.1,673.2 517.4,673.2 517.6,673.2 517.9,673.1 518.1,673.1 518.4,673.1 518.6,673.1 518.9,673.1 519.1,673.1 519.4,673.0 519.6,673.0 519.9,673.0 520.0,673.0 520.1,673.0 520.4,673.0 520.6,673.0 520.9,672.9 521.1,672.9 521.4,672.9 521.6,672.9 521.9,672.9 522.1,672.9 522.4,672.8 522.6,672.8 522.9,672.8 523.1,672.8 523.4,672.8 523.6,672.8 523.9,672.7 524.1,672.7 524.4,672.7 524.6,672.7 524.9,672.7 525.1,672.7 525.4,672.6 525.6,672.6 525.9,672.6 526.1,672.6 526.4,672.6 526.6,672.6 526.9,672.5 527.1,672.5 527.4,672.5 527.6,672.5 527.9,672.5 528.1,672.5 528.4,672.4 528.6,672.4 528.9,672.4 529.1,672.4 529.4,672.4 529.6,672.4 529.9,672.3 530.2,672.3 530.4,672.3 530.7,672.3 530.9,672.3 531.2,672.3 531.4,672.2 531.7,672.2 531.9,672.2 532.2,672.2 532.4,672.2 532.7,672.2 532.9,672.2 533.2,672.1 533.4,672.1 533.7,672.1 533.9,672.1 534.2,672.1 534.4,672.1 534.7,672.0 534.9,672.0 535.2,672.0 535.4,672.0 535.7,672.0 535.9,672.0 536.2,671.9 536.4,671.9 536.7,671.9 536.9,671.9 537.2,671.9 537.4,671.9 537.7,671.9 537.9,671.8 538.2,671.8 538.4,671.8 538.7,671.8 538.9,671.8 539.2,671.8 539.4,671.7 539.7,671.7 539.9,671.7 540.2,671.7 540.4,671.7 540.7,671.7 540.9,671.7 541.2,671.6 541.4,671.6 541.7,671.6 541.9,671.6 542.2,671.6 542.4,671.6 542.7,671.6 542.9,671.5 543.2,671.5 543.4,671.5 543.7,671.5 543.9,671.5 544.2,671.5 544.4,671.4 544.7,671.4 544.9,671.4 545.2,671.4 545.4,671.4 545.7,671.4 545.9,671.4 546.2,671.3 546.4,671.3 546.7,671.3 546.9,671.3 547.2,671.3 547.4,671.3 547.7,671.2 547.9,671.2 548.2,671.2 548.4,671.2 548.7,671.2 548.9,671.2 549.2,671.2 549.4,671.1 549.7,671.1 549.9,671.1 550.2,671.1 550.4,671.1 550.7,671.1 550.9,671.1 551.2,671.0 551.4,671.0 551.7,671.0 551.9,671.0 552.2,671.0 552.4,671.0 552.7,670.9 552.9,670.9 553.2,670.9 553.4,670.9 553.7,670.9 553.9,670.9 554.2,670.9 554.4,670.8 554.7,670.8 554.9,670.8 555.2,670.8 555.4,670.8 555.7,670.8 555.9,670.7 556.2,670.7 556.4,670.7 556.7,670.7 556.9,670.7 557.2,670.7 557.4,670.7 557.7,670.6 557.9,670.6 558.2,670.6 558.4,670.6 558.7,670.6 558.9,670.6 559.2,670.5 559.4,670.5 559.7,670.5 559.9,670.5 560.0,670.5 560.2,670.5 560.4,670.5 560.7,670.5 560.9,670.4 561.2,670.4 561.4,670.4 561.7,670.4 561.9,670.4 562.2,670.4 562.4,670.3 562.7,670.3 563.0,670.3 563.2,670.3 563.5,670.3 563.7,670.3 564.0,670.3 564.2,670.2 564.5,670.2 564.7,670.2 565.0,670.2 565.2,670.2 565.5,670.2 565.7,670.1 566.0,670.1 566.2,670.1 566.5,670.1 566.7,670.1 567.0,670.1 567.2,670.1 567.5,670.0 567.7,670.0 568.0,670.0 568.2,670.0 568.5,670.0 568.7,670.0 569.0,669.9 569.2,669.9 569.5,669.9 569.7,669.9 570.0,669.9 570.2,669.9 570.5,669.9 570.7,669.8 571.0,669.8 571.2,669.8 571.5,669.8 571.7,669.8 572.0,669.8 572.2,669.7 572.5,669.7 572.7,669.7 573.0,669.7 573.2,669.7 573.5,669.7 573.7,669.7 574.0,669.6 574.2,669.6 574.5,669.6 574.7,669.6 575.0,669.6 575.2,669.6 575.5,669.5 575.7,669.5 576.0,669.5 576.2,669.5 576.5,669.5 576.7,669.5 577.0,669.5 577.2,669.4 577.5,669.4 577.7,669.4 578.0,669.4 578.2,669.4 578.5,669.4 578.7,669.3 579.0,669.3 579.2,669.3 579.5,669.3 579.7,669.3 580.0,669.3 580.2,669.3 580.5,669.2 580.7,669.2 581.0,669.2 581.2,669.2 581.5,669.2 581.7,669.2 582.0,669.1 582.2,669.1 582.5,669.1 582.7,669.1 583.0,669.1 583.2,669.1 583.5,669.1 583.7,669.0 584.0,669.0 584.2,669.0 584.5,669.0 584.7,669.0 585.0,669.0 585.2,668.9 585.5,668.9 585.7,668.9 586.0,668.9 586.2,668.9 586.5,668.9 586.7,668.9 587.0,668.8 587.2,668.8 587.5,668.8 587.7,668.8 588.0,668.8 588.2,668.8 588.5,668.7 588.7,668.7 589.0,668.7 589.2,668.7 589.5,668.7 589.7,668.7 590.0,668.7 590.2,668.6 590.5,668.6 590.7,668.6 591.0,668.6 591.2,668.6 591.5,668.6 591.7,668.5 592.0,668.5 592.2,668.5 592.5,668.5 592.7,668.5 593.0,668.5 593.2,668.5 593.5,668.4 593.7,668.4 594.0,668.4 594.2,668.4 594.5,668.4 594.7,668.4 595.0,668.3 595.2,668.3 595.5,668.3 595.8,668.3" fill="none" stroke="#56b4e9" stroke-width="1.3" stroke-linejoin="round"/>
<polyline points="401.0,659.7 401.3,651.7 401.5,644.3 401.8,637.5 402.0,631.5 402.3,626.5 402.5,622.7 402.8,620.3 402.8,620.3 403.1,618.7 403.3,617.3 403.6,616.2 403.8,615.3 404.1,614.6 404.3,614.2 404.3,614.1 404.6,613.7 404.9,613.3 405.1,612.9 405.4,612.6 405.6,612.3 405.9,612.0 406.1,611.8 406.4,611.6 406.7,611.4 406.9,611.3 407.2,611.2 407.4,611.2 407.4,611.2 407.7,611.2 407.9,611.3 408.2,611.4 408.5,611.5 408.7,611.6 409.0,611.8 409.2,611.9 409.5,612.1 409.8,612.3 410.0,612.5 410.3,612.7 410.5,612.9 410.8,613.2 411.0,613.4 411.2,613.5 411.3,613.6 411.6,613.8 411.8,614.0 412.1,614.3 412.3,614.6 412.6,614.9 412.8,615.2 413.1,615.5 413.4,615.8 413.6,616.2 413.9,616.5 414.1,616.9 414.4,617.2 414.6,617.6 414.9,618.0" fill="none" stroke="#000000" stroke-width="1.4" stroke-linejoin="round"/>
<polyline points="414.9,618.0 415.2,613.6 415.4,606.0 415.7,596.3 415.7,595.0 415.9,581.1 416.2,559.6 416.4,542.7 416.5,540.5 416.7,536.1 416.9,531.6 417.2,528.7 417.3,528.0 417.5,527.2 417.7,526.0 418.0,525.1 418.2,524.6 418.4,524.5 418.5,524.5 418.7,524.6 419.0,524.9 419.2,525.2 419.5,525.5 419.5,525.5 419.8,525.9 420.0,526.4 420.3,527.0 420.5,527.6 420.8,528.3 421.0,528.8 421.0,528.9 421.3,529.5 421.5,530.1 421.8,530.7 422.1,531.3 422.3,531.8 422.6,532.4 422.8,533.1 423.1,533.7 423.3,534.3 423.6,535.0 423.9,535.7 424.1,536.4 424.4,537.2 424.6,537.9 424.8,538.5 424.9,538.7 425.1,539.6 425.4,540.5 425.6,541.5 425.9,542.5 426.2,543.6 426.4,544.7 426.7,545.8 426.9,546.9 427.2,548.1 427.4,549.3 427.7,550.5 427.9,551.7 428.0,552.0 428.2,553.0 428.5,554.2 428.7,555.5 429.0,556.9 429.2,558.2 429.5,559.6 429.7,561.1 430.0,562.5 430.2,564.0 430.5,565.5" fill="none" stroke="#000000" stroke-width="1.4" stroke-linejoin="round"/>
<polyline points="430.5,565.5 430.8,551.2 431.0,539.1 431.3,530.9 431.3,530.0 431.5,526.6 431.8,523.0 432.0,520.3 432.3,518.7 432.4,518.5 432.5,518.5 432.8,518.7 433.0,519.1 433.3,519.6 433.5,520.2 433.8,520.9 434.0,521.5 434.2,522.0 434.3,522.2 434.5,522.8 434.8,523.6 435.0,524.3 435.3,525.2 435.5,526.0 435.8,526.9 436.0,527.9 436.3,528.9 436.5,529.9 436.8,530.9 436.9,531.4 437.0,531.9 437.3,533.0 437.5,534.1 437.8,535.3 438.0,536.5 438.3,537.8 438.5,539.0 438.8,540.4 439.0,541.7 439.3,543.1 439.5,544.4 439.8,545.8 440.0,547.2 440.3,548.7 440.5,550.1 440.8,551.5 441.0,553.0 441.3,554.4 441.5,555.6 441.5,555.9 441.8,557.3 442.0,558.8 442.3,560.4 442.6,561.9 442.8,563.5 443.1,565.1 443.3,566.7 443.6,568.3 443.8,570.0 444.1,571.7 444.3,573.3 444.6,575.0 444.8,576.6 445.1,578.3 445.3,580.0 445.6,581.6 445.8,583.2 446.1,584.8 446.3,586.4 446.6,588.0 446.8,589.5 447.1,591.0 447.3,592.5 447.5,593.5 447.6,593.9 447.8,595.3 448.1,596.8 448.3,598.2 448.6,599.6 448.8,601.0 449.1,602.4 449.3,603.8 449.6,605.2 449.8,606.6 450.1,607.9 450.3,609.3 450.6,610.6 450.8,611.9 451.1,613.2 451.3,614.5 451.6,615.8 451.8,617.0 452.1,618.2 452.3,619.4 452.6,620.5 452.8,621.6 453.1,622.7 453.3,623.8 453.6,624.8 453.6,624.8 453.8,625.8 454.1,626.8 454.4,627.8 454.6,628.7 454.9,629.7 455.1,630.7 455.4,631.6 455.6,632.6 455.9,633.5 456.1,634.4 456.4,635.3 456.6,636.2 456.9,637.1 457.1,637.9 457.4,638.8 457.6,639.6 457.9,640.4 458.1,641.2 458.4,642.0 458.6,642.8 458.9,643.5 459.1,644.2 459.4,644.9 459.6,645.5 459.9,646.2 460.1,646.8 460.4,647.4 460.6,647.9 460.9,648.5 461.1,649.0 461.2,649.1 461.4,649.4 461.6,649.9 461.9,650.4 462.1,650.8 462.4,651.3 462.6,651.7 462.9,652.2 463.1,652.6 463.4,653.0 463.6,653.4 463.9,653.8 464.1,654.1 464.4,654.5 464.6,654.9 464.9,655.2 465.1,655.5 465.4,655.8 465.6,656.1 465.9,656.3 466.1,656.6 466.4,656.8 466.7,657.0 466.9,657.2 467.2,657.4 467.2,657.4 467.4,657.5 467.7,657.7 467.9,657.8 468.2,658.0 468.4,658.1 468.7,658.2 468.9,658.4 469.2,658.5 469.4,658.6 469.7,658.7 469.9,658.8 470.2,658.9 470.4,659.0 470.7,659.1 470.9,659.2 471.2,659.3 471.4,659.4 471.7,659.5 471.9,659.5 472.2,659.6 472.4,659.6 472.7,659.6 472.9,659.7 473.2,659.7 473.3,659.7 473.4,659.7 473.7,659.7 473.9,659.7 474.2,659.7 474.4,659.7 474.7,659.8 474.9,659.8 475.2,659.8 475.4,659.8 475.7,659.8 475.9,659.8 476.2,659.8 476.4,659.8 476.7,659.8 476.9,659.8 477.2,659.8 477.4,659.8 477.7,659.8 477.9,659.9 478.2,659.9 478.5,659.9 478.7,659.9 479.0,659.9 479.2,659.9 479.5,659.9 479.7,659.9 480.0,659.9 480.2,659.9 480.5,659.9 480.7,659.9 481.0,659.9 481.2,659.9 481.5,659.9 481.7,659.9 482.0,659.9 482.2,659.9 482.5,659.9 482.7,660.0 483.0,660.0 483.2,660.0 483.5,660.0 483.7,660.0 484.0,660.0 484.2,660.0 484.5,660.0 484.7,660.0 485.0,660.0 485.2,660.0 485.5,660.0 485.7,660.0 486.0,660.0 486.2,660.0 486.5,660.0 486.7,660.0 487.0,660.0 487.2,660.0 487.5,660.0 487.7,660.0 488.0,660.0 488.2,660.0 488.5,660.0 488.7,660.0 489.0,660.0 489.2,660.0 489.5,660.0 489.7,660.0 490.0,660.0" fill="none" stroke="#000000" stroke-width="1.4" stroke-linejoin="round"/>
<polyline points="490.0,660.0 491.2,659.8 492.4,659.9 493.6,659.7 494.8,659.5 496.0,659.8 497.2,659.8 498.4,660.0 499.6,659.8 500.8,659.8 502.0,660.0 503.2,659.8 504.4,659.5 505.6,659.4 506.8,659.7 508.0,659.8 509.2,659.7 510.4,660.1 511.6,660.3 512.8,660.4 514.0,660.2 515.2,659.6 516.4,659.9 517.6,660.2 518.8,660.2 520.0,660.1 521.2,660.1 522.4,660.3 523.6,660.2 524.8,660.1 526.0,660.0 527.2,660.0 528.4,659.9 529.6,660.1 530.8,659.9 532.0,660.1 533.2,660.1 534.4,660.0 535.6,660.0 536.8,659.7 538.0,660.2 539.2,660.1 540.4,659.4 541.6,659.3 542.8,659.5 544.0,660.1 545.2,660.2 546.4,660.0 547.6,659.7 548.8,659.6 550.0,659.9 551.2,660.2 552.4,659.9 553.6,659.7 554.8,659.9 556.0,659.5 557.2,659.5 558.4,659.6 559.6,659.1 560.8,659.3 562.0,659.9 563.2,659.7 564.4,659.3 565.6,659.7 566.8,660.0 568.0,659.9 569.2,660.1 570.4,659.8 571.6,659.7 572.8,659.7 574.0,659.5 575.2,659.6 576.4,659.6 577.6,659.8 578.8,659.8 580.0,659.6 581.2,659.5 582.4,659.6 583.6,659.4 584.8,659.3 586.0,659.4 587.2,659.4 588.4,659.4 589.6,659.4 590.8,659.8 592.0,660.2 593.2,659.9 594.4,659.6 595.6,660.0 595.8,660.0" fill="none" stroke="#000000" stroke-width="1.4" stroke-linejoin="round"/>
<line x1="65.50" y1="892.80" x2="265.00" y2="892.80" stroke="#7d6535" stroke-width="1.6"/>
<polyline points="65.5,893.0 65.8,892.0 66.0,891.0 66.3,890.1 66.5,889.3 66.8,888.5 67.0,887.7 67.3,887.1 67.3,887.0 67.5,886.4 67.8,885.8 68.0,885.1 68.3,884.6 68.5,884.2 68.8,884.1 68.8,884.1 69.0,884.2 69.3,884.4 69.6,884.8 69.8,885.2 70.1,885.7 70.3,886.2 70.5,886.5 70.6,886.6 70.8,887.0 71.1,887.5 71.3,887.9 71.6,888.4 71.8,888.9 72.1,889.3 72.3,889.7 72.5,890.0 72.6,890.1 72.8,890.6 73.1,891.0 73.3,891.5 73.6,891.9 73.9,892.3 74.1,892.6 74.4,892.9 74.6,893.0 74.7,893.0 74.9,893.0 75.1,893.0 75.4,893.0 75.6,893.0 75.9,893.0 76.1,893.0 76.4,893.0 76.6,893.0 76.9,893.0 77.1,893.0 77.4,893.0 77.7,893.0 77.9,893.0 78.2,893.0 78.4,893.0 78.7,893.0 78.9,893.0 79.2,893.0 79.4,893.0 79.7,893.0 79.9,893.0 80.2,893.0 80.4,893.0 80.7,893.0 80.9,893.0 81.0,893.0 81.2,892.4 81.5,890.6 81.7,888.2 82.0,886.2 82.0,886.0 82.2,884.9 82.5,883.6 82.7,882.6 83.0,882.1 83.0,882.1 83.2,882.2 83.5,882.4 83.7,882.7 84.0,883.1 84.2,883.6 84.5,884.1 84.7,884.5 85.0,885.0 85.0,885.0 85.2,885.4 85.5,885.9 85.8,886.4 86.0,887.0 86.3,887.5 86.5,888.0 86.8,888.6 87.0,889.0 87.0,889.0 87.3,889.5 87.5,890.0 87.8,890.4 88.0,890.9 88.3,891.3 88.5,891.7 88.8,892.2 89.0,892.6 89.3,893.0" fill="none" stroke="#56b4e9" stroke-width="1.1" stroke-linejoin="round"/>
<polyline points="65.5,893.0 65.8,891.3 66.0,889.6 66.3,887.9 66.5,886.3 66.8,884.7 67.0,883.0 67.3,881.5 67.5,880.0 67.5,879.9 67.8,878.0 68.0,876.0 68.3,874.4 68.5,873.5 68.6,873.4 68.8,873.5 69.0,874.1 69.3,875.0 69.5,876.0 69.8,877.0 69.8,877.0 70.0,877.8 70.3,878.8 70.6,879.8 70.8,880.8 71.1,881.7 71.3,882.7 71.6,883.6 71.7,884.0 71.8,884.3 72.1,885.1 72.3,885.9 72.6,886.6 72.8,887.3 73.1,888.0 73.3,888.6 73.6,889.2 73.8,889.7 74.0,890.0 74.1,890.1 74.3,890.6 74.6,891.0 74.8,891.4 75.1,891.7 75.3,892.1 75.6,892.4 75.9,892.6 76.1,892.8 76.4,893.0 76.6,893.0 76.6,893.0 76.9,893.0 77.1,893.0 77.4,893.0 77.6,893.0 77.9,893.0 78.1,893.0 78.4,893.0 78.6,893.0 78.9,893.0 79.1,893.0 79.4,893.0 79.6,893.0 79.9,893.0 80.1,893.0 80.4,893.0 80.7,893.0 80.9,893.0 81.0,893.0 81.2,892.0 81.4,887.7 81.7,882.4 81.8,880.0 81.9,878.3 82.2,874.2 82.4,871.6 82.5,871.4 82.7,871.6 82.9,872.4 83.2,873.6 83.4,874.7 83.5,875.0 83.7,875.7 83.9,876.8 84.2,877.9 84.4,879.0 84.7,880.2 84.9,881.3 85.2,882.5 85.4,883.6 85.7,884.6 86.0,885.6 86.2,886.4 86.4,887.0 86.5,887.2 86.7,887.9 87.0,888.5 87.2,889.1 87.5,889.7 87.7,890.3 88.0,890.7 88.2,891.1 88.5,891.5 88.5,891.5 88.7,891.8 89.0,892.0 89.2,892.3 89.5,892.5 89.7,892.7 90.0,892.8 90.2,893.0 90.5,893.0" fill="none" stroke="#333" stroke-width="1.1" stroke-linejoin="round"/>
<polyline points="65.5,893.0 65.8,889.6 66.0,886.3 66.3,883.0 66.5,880.0 66.5,879.8 66.8,876.5 67.0,873.0 67.3,869.5 67.5,866.4 67.8,863.7 68.0,862.0 68.0,861.7 68.3,860.1 68.5,858.6 68.8,857.6 69.0,857.3 69.1,857.3 69.3,858.0 69.6,859.3 69.8,860.9 70.0,862.0 70.1,862.4 70.3,864.0 70.6,865.7 70.8,867.5 71.1,869.4 71.3,871.2 71.6,872.8 71.7,873.4 71.8,874.2 72.1,875.6 72.4,876.9 72.6,878.2 72.9,879.4 73.1,880.5 73.4,881.5 73.5,882.0 73.6,882.5 73.9,883.3 74.1,884.2 74.4,885.0 74.6,885.7 74.9,886.4 75.2,887.0 75.4,887.6 75.6,888.0 75.7,888.1 75.9,888.6 76.2,889.1 76.4,889.5 76.7,889.9 76.9,890.3 77.2,890.6 77.4,890.9 77.7,891.2 77.9,891.5 78.0,891.5 78.2,891.7 78.5,891.9 78.7,892.1 79.0,892.3 79.2,892.5 79.5,892.7 79.7,892.8 80.0,892.9 80.2,893.0 80.5,893.0 80.5,893.0 80.7,893.0 81.0,893.0 81.0,893.0 81.2,886.3 81.5,873.7 81.6,870.0 81.8,865.3 82.0,857.6 82.3,851.7 82.5,849.5 82.5,849.5 82.8,850.2 83.0,851.7 83.3,853.6 83.5,855.6 83.6,856.0 83.8,857.2 84.0,859.0 84.3,860.8 84.5,862.6 84.8,864.4 85.1,866.2 85.3,867.9 85.4,868.5 85.6,869.6 85.8,871.2 86.1,872.8 86.3,874.4 86.6,875.9 86.8,877.3 87.1,878.5 87.2,879.0 87.3,879.6 87.6,880.6 87.9,881.6 88.1,882.5 88.4,883.3 88.6,884.1 88.9,884.8 89.1,885.5 89.3,886.0 89.4,886.2 89.6,886.8 89.9,887.4 90.1,888.0 90.4,888.6 90.6,889.1 90.9,889.6 91.2,890.0 91.4,890.4 91.5,890.5 91.7,890.7 91.9,891.0 92.2,891.3 92.4,891.6 92.7,891.9 92.9,892.2 93.2,892.4 93.4,892.6 93.7,892.8 93.9,892.9 94.2,893.0" fill="none" stroke="#e69f00" stroke-width="1.3" stroke-linejoin="round"/>
<polyline points="65.5,893.0 65.8,883.0 66.0,872.0 66.0,871.6 66.3,858.1 66.5,844.1 66.6,840.0 66.8,832.7 67.0,822.8 67.2,815.0 67.3,810.7 67.5,793.4 67.8,777.0 67.9,772.0 68.0,767.5 68.3,761.0 68.5,755.9 68.6,755.0 68.8,751.5 69.1,747.6 69.3,744.3 69.6,741.4 69.7,740.2 69.8,739.2 70.1,737.1 70.3,735.1 70.6,733.4 70.8,732.1 71.1,731.3 71.2,731.1 71.3,731.0 71.6,730.8 71.9,730.6 72.1,730.5 72.4,730.5 72.4,730.5 72.6,730.5 72.9,730.7 73.1,731.0 73.4,731.3 73.4,731.3 73.6,731.6 73.9,732.4 73.9,732.5 74.1,744.0 74.2,748.0 74.4,764.0 74.5,772.0 74.6,780.3 74.9,792.7 75.2,803.1 75.4,812.1 75.5,815.0 75.7,820.0 75.9,827.0 76.2,833.2 76.4,838.6 76.5,840.0 76.7,843.3 76.9,847.6 77.2,851.6 77.4,855.3 77.7,858.7 78.0,861.9 78.2,864.9 78.5,867.6 78.5,868.0 78.7,870.2 79.0,872.7 79.2,875.1 79.5,877.3 79.7,879.4 80.0,881.2 80.2,882.8 80.5,884.0 80.5,884.0 80.7,884.9 81.0,885.5" fill="none" stroke="#9400d3" stroke-width="1.4" stroke-linejoin="round"/>
<polyline points="81.0,885.5 81.3,871.4 81.4,862.0 81.5,854.2 81.8,832.7 82.0,815.0 82.0,814.3 82.3,800.4 82.5,788.0 82.8,778.1 83.0,772.0 83.0,771.5 83.3,767.2 83.5,763.8 83.8,761.1 84.0,758.6 84.2,757.0 84.3,756.1 84.5,753.7 84.8,751.4 85.1,749.3 85.3,747.5 85.5,746.2 85.6,745.9 85.8,744.4 86.1,743.1 86.3,741.8 86.6,740.7 86.8,739.6 87.1,738.6 87.3,737.8 87.3,737.7 87.6,736.7 87.8,735.7 88.1,735.1 88.2,735.0 88.3,735.1 88.6,735.5 88.8,736.0 88.8,736.2 89.1,738.5 89.1,738.5 89.4,749.5 89.4,752.0 89.6,766.4 89.7,772.0 89.9,779.3 90.1,789.5 90.4,798.2 90.6,805.7 90.9,812.1 91.0,815.0 91.1,817.8 91.4,822.9 91.6,827.7 91.9,832.2 92.1,836.3 92.4,840.0 92.6,843.4 92.9,846.6 93.2,849.5 93.2,850.0 93.4,852.2 93.7,854.7 93.9,857.2 94.2,859.6 94.4,861.9 94.7,864.1 94.9,866.2 95.2,868.2 95.4,870.1 95.7,871.8 95.9,873.5 96.2,875.1 96.4,876.6 96.7,878.0 96.9,879.3 97.1,880.0 97.2,880.5 97.5,881.6 97.7,882.8 98.0,883.9 98.2,885.0 98.5,886.0 98.7,887.0 99.0,887.9 99.2,888.8 99.5,889.6 99.7,890.4 100.0,891.1 100.2,891.7 100.5,892.2 100.7,892.7 101.0,893.0" fill="none" stroke="#9400d3" stroke-width="1.4" stroke-linejoin="round"/>
<line x1="164.60" y1="818.00" x2="268.60" y2="818.00" stroke="#c08a20" stroke-width="1.3"/>
<polyline points="164.8,818.0 165.1,817.7 165.3,817.4 165.6,817.2 165.8,817.0 166.0,817.0 166.1,817.0 166.3,817.0 166.6,817.1 166.9,817.1 167.1,817.2 167.4,817.3 167.6,817.3 167.9,817.4 168.0,817.4 168.1,817.4 168.4,817.5 168.7,817.5 168.9,817.6 169.2,817.6 169.4,817.7 169.7,817.7 169.9,817.8 170.2,817.8 170.5,817.8 170.7,817.9 171.0,817.9 171.2,817.9 171.5,818.0 171.7,818.0 172.0,818.0 172.2,818.0 172.3,818.0 172.5,817.9 172.8,817.8 173.0,817.6 173.3,817.3 173.5,817.2 173.8,817.0 174.0,817.0 174.1,817.0 174.3,817.0 174.6,817.1 174.8,817.1 175.1,817.2 175.3,817.3 175.6,817.3 175.9,817.4 176.0,817.4 176.1,817.4 176.4,817.5 176.6,817.5 176.9,817.5 177.1,817.6 177.4,817.6 177.7,817.6 177.9,817.7 178.2,817.7 178.4,817.7 178.7,817.8 178.9,817.8 179.2,817.8 179.5,817.9 179.7,817.9 180.0,817.9 180.2,817.9 180.5,818.0 180.7,818.0 181.0,818.0" fill="none" stroke="#56b4e9" stroke-width="1.2" stroke-linejoin="round"/>
<polyline points="164.8,818.0 165.1,814.4 165.3,809.8 165.4,808.0 165.6,804.1 165.8,797.1 165.9,795.0 166.1,789.6 166.3,781.9 166.5,779.8 166.6,780.7 166.8,788.5 166.9,790.0 167.1,793.7 167.4,797.7 167.5,799.7 167.6,801.0 167.9,803.6 168.1,805.8 168.2,806.5 168.4,807.8 168.6,809.7 168.9,811.2 169.0,811.7 169.1,812.3 169.4,813.2 169.6,814.0 169.9,814.7 170.2,815.3 170.4,815.8 170.5,816.0 170.7,816.3 170.9,816.7 171.2,817.1 171.4,817.4 171.7,817.7 171.9,817.9 172.2,818.0" fill="none" stroke="#e69f00" stroke-width="1.15" stroke-linejoin="round"/>
<polyline points="172.2,818.0 172.5,798.4 172.5,795.0 172.7,774.5 172.9,760.0 173.0,756.0 173.2,743.7 173.5,738.0 173.5,738.0 173.8,745.5 173.9,752.0 174.0,756.0 174.3,765.7 174.4,769.8 174.5,773.1 174.8,779.6 175.0,785.5 175.3,790.8 175.6,795.2 175.8,798.8 175.9,799.7 176.1,801.4 176.3,803.5 176.6,805.2 176.8,806.5 176.8,806.8 177.1,808.2 177.4,809.5 177.6,810.7 177.9,811.6 177.9,811.7 178.1,812.5 178.4,813.4 178.7,814.1 178.9,814.8 179.2,815.4 179.4,815.9 179.5,816.0 179.7,816.3 179.9,816.7 180.2,817.0 180.5,817.3 180.7,817.6 181.0,817.8 181.2,817.9 181.5,818.0" fill="none" stroke="#e69f00" stroke-width="1.15" stroke-linejoin="round"/>
<line x1="407.70" y1="895.80" x2="612.50" y2="895.80" stroke="#7d6535" stroke-width="1.6"/>
<polyline points="407.7,896.0 408.0,895.2 408.2,894.4 408.5,893.7 408.7,893.0 409.0,892.4 409.2,891.7 409.5,891.1 409.7,890.6 410.0,890.1 410.0,890.0 410.2,889.5 410.5,889.0 410.7,888.5 411.0,888.0 411.2,887.8 411.4,887.7 411.5,887.7 411.7,887.8 412.0,888.0 412.2,888.2 412.5,888.4 412.7,888.7 413.0,889.0 413.0,889.0 413.2,889.3 413.5,889.7 413.7,890.2 414.0,890.7 414.3,891.2 414.5,891.8 414.8,892.4 415.0,893.0 415.3,893.6 415.5,894.2 415.8,894.7 416.0,895.1 416.3,895.5 416.5,895.8 416.8,895.9 417.0,896.0 417.0,896.0 417.3,896.0 417.5,896.0 417.8,896.0 418.0,896.0 418.3,896.0 418.5,896.0 418.8,896.0 419.0,896.0 419.3,896.0 419.5,896.0 419.8,896.0 420.0,896.0 420.3,896.0 420.6,896.0 420.8,896.0 421.1,896.0 421.3,896.0 421.6,896.0 421.8,896.0 422.1,896.0 422.3,896.0 422.6,896.0 422.8,896.0 423.1,896.0 423.1,896.0 423.3,895.3 423.6,893.3 423.8,890.8 424.1,888.7 424.2,888.0 424.3,887.5 424.6,886.5 424.8,885.6 425.1,885.2 425.2,885.1 425.3,885.1 425.6,885.2 425.8,885.5 426.1,885.8 426.3,886.1 426.6,886.4 426.9,886.8 427.0,887.0 427.1,887.1 427.4,887.5 427.6,888.0 427.9,888.5 428.1,889.0 428.4,889.6 428.6,890.2 428.9,890.8 429.1,891.4 429.4,892.0 429.6,892.6 429.9,893.2 430.1,893.7 430.4,894.2 430.6,894.7 430.9,895.1 431.1,895.4 431.4,895.7 431.6,895.9 431.9,896.0 432.0,896.0 432.1,896.0 432.4,896.0 432.6,896.0 432.9,896.0 433.1,896.0 433.4,896.0 433.7,896.0 433.9,896.0 434.2,896.0 434.4,896.0 434.7,896.0 434.9,896.0 435.2,896.0 435.4,896.0 435.7,896.0 435.9,896.0 436.2,896.0 436.4,896.0 436.7,896.0 436.9,896.0 437.2,896.0 437.4,896.0 437.7,896.0 437.9,896.0 438.2,896.0 438.4,896.0 438.7,896.0 438.9,896.0 439.0,896.0 439.2,895.6 439.4,894.3 439.7,892.7 440.0,891.6 440.0,891.5 440.2,891.2 440.5,890.8 440.7,890.6 441.0,890.5 441.0,890.5 441.2,890.5 441.5,890.7 441.7,890.9 442.0,891.2 442.2,891.5 442.5,891.8 442.7,892.2 443.0,892.5 443.0,892.5 443.2,892.7 443.5,893.0 443.7,893.3 444.0,893.6 444.2,893.9 444.5,894.2 444.7,894.5 445.0,894.8 445.2,895.1 445.5,895.4 445.7,895.7 446.0,896.0" fill="none" stroke="#56b4e9" stroke-width="1.1" stroke-linejoin="round"/>
<polyline points="407.7,896.0 408.0,893.8 408.2,891.7 408.5,889.8 408.7,887.9 409.0,886.1 409.2,884.5 409.5,882.9 409.7,881.5 409.8,881.0 410.0,880.0 410.2,878.5 410.5,877.1 410.7,876.2 410.9,876.0 411.0,876.0 411.2,876.4 411.5,877.2 411.7,878.1 412.0,878.9 412.0,879.0 412.2,879.7 412.5,880.5 412.7,881.4 413.0,882.3 413.2,883.2 413.5,884.1 413.7,885.0 414.0,885.8 414.2,886.6 414.5,887.4 414.6,887.7 414.8,888.1 415.0,888.9 415.3,889.7 415.5,890.6 415.8,891.4 416.0,892.2 416.3,893.0 416.5,893.7 416.8,894.3 417.0,894.9 417.3,895.4 417.5,895.7 417.8,895.9 418.0,896.0 418.0,896.0 418.3,896.0 418.5,896.0 418.8,896.0 419.0,896.0 419.3,896.0 419.5,896.0 419.8,896.0 420.0,896.0 420.3,896.0 420.5,896.0 420.8,896.0 421.1,896.0 421.3,896.0 421.6,896.0 421.8,896.0 422.1,896.0 422.3,896.0 422.6,896.0 422.8,896.0 423.1,896.0 423.1,896.0 423.3,894.4 423.6,890.0 423.8,884.8 424.0,882.0 424.1,881.0 424.3,877.5 424.6,874.9 424.7,874.5 424.8,874.6 425.1,875.0 425.3,875.7 425.6,876.6 425.8,877.5 426.0,878.0 426.1,878.3 426.3,879.0 426.6,879.9 426.8,880.7 427.1,881.6 427.3,882.5 427.6,883.3 427.9,884.2 428.1,885.1 428.4,886.0 428.6,886.8 428.9,887.6 429.0,888.0 429.1,888.3 429.4,889.2 429.6,890.0 429.9,890.9 430.1,891.8 430.4,892.7 430.6,893.5 430.9,894.3 431.1,894.9 431.4,895.4 431.6,895.8 431.9,896.0 432.0,896.0 432.1,896.0 432.4,896.0 432.6,896.0 432.9,896.0 433.1,896.0 433.4,896.0 433.6,896.0 433.9,896.0 434.2,896.0 434.4,896.0 434.7,896.0 434.9,896.0 435.2,896.0 435.4,896.0 435.7,896.0 435.9,896.0 436.2,896.0 436.4,896.0 436.7,896.0 436.9,896.0 437.2,896.0 437.4,896.0 437.7,896.0 437.9,896.0 438.2,896.0 438.4,896.0 438.7,896.0 438.9,896.0 439.0,896.0 439.2,895.5 439.4,893.6 439.7,891.3 439.9,889.3 440.0,889.0 440.2,888.0 440.4,886.9 440.6,886.7 440.7,886.7 441.0,887.0 441.2,887.4 441.5,887.9 441.7,888.4 441.8,888.5 442.0,888.7 442.2,889.1 442.5,889.5 442.7,890.0 443.0,890.4 443.2,890.8 443.5,891.2 443.7,891.6 444.0,892.0 444.2,892.4 444.5,892.8 444.7,893.1 445.0,893.5 445.0,893.5 445.2,893.8 445.5,894.2 445.7,894.5 446.0,894.8 446.2,895.1 446.5,895.4 446.7,895.7 447.0,896.0" fill="none" stroke="#333" stroke-width="1.1" stroke-linejoin="round"/>
<polyline points="407.7,896.0 408.0,892.4 408.2,888.7 408.5,885.1 408.7,881.4 408.8,880.0 409.0,877.5 409.2,873.0 409.5,868.5 409.7,864.7 410.0,862.2 410.0,862.0 410.2,860.9 410.5,859.9 410.7,859.2 410.9,859.1 411.0,859.1 411.2,859.8 411.5,861.0 411.7,862.5 412.0,863.9 412.0,864.0 412.2,865.2 412.5,866.7 412.7,868.2 413.0,869.8 413.2,871.4 413.5,873.0 413.7,874.6 414.0,876.1 414.2,877.5 414.5,878.7 414.6,879.2 414.8,879.9 415.0,881.0 415.3,882.0 415.5,883.0 415.8,884.0 416.0,884.9 416.3,885.8 416.5,886.6 416.8,887.3 417.0,888.0 417.0,888.0 417.3,888.7 417.5,889.4 417.8,890.0 418.0,890.7 418.3,891.3 418.5,891.9 418.8,892.4 419.0,892.9 419.3,893.3 419.5,893.7 419.8,894.0 419.9,894.1 420.0,894.2 420.3,894.5 420.5,894.7 420.8,894.9 421.0,895.1 421.3,895.3 421.6,895.5 421.8,895.6 422.1,895.8 422.3,895.9 422.6,895.9 422.8,896.0 423.0,896.0 423.1,896.0 423.1,896.0 423.3,893.1 423.6,884.6 423.8,875.1 424.0,870.0 424.1,868.6 424.3,863.3 424.6,858.3 424.8,854.3 425.1,852.0 425.2,851.7 425.3,851.8 425.6,852.6 425.8,853.9 426.1,855.4 426.3,857.1 426.5,858.0 426.6,858.5 426.8,860.0 427.1,861.5 427.3,863.2 427.6,864.9 427.8,866.7 428.1,868.5 428.4,870.2 428.6,871.9 428.9,873.5 429.1,875.0 429.4,876.4 429.5,877.1 429.6,877.6 429.9,878.8 430.1,880.0 430.4,881.1 430.6,882.2 430.9,883.2 431.1,884.2 431.4,885.1 431.6,885.9 431.9,886.7 432.0,887.0 432.1,887.4 432.4,888.0 432.6,888.7 432.9,889.3 433.1,889.9 433.4,890.5 433.6,891.1 433.9,891.6 434.1,892.1 434.4,892.6 434.6,893.1 434.9,893.5 435.2,893.8 435.4,894.2 435.7,894.5 435.8,894.6 435.9,894.7 436.2,894.9 436.4,895.2 436.7,895.4 436.9,895.6 437.2,895.7 437.4,895.9 437.7,896.0 437.9,896.0 438.0,896.0 438.2,896.0 438.4,896.0 438.7,896.0 438.9,896.0 439.0,896.0 439.2,894.9 439.4,891.2 439.7,887.2 439.8,886.0 439.9,884.9 440.2,883.0 440.4,881.7 440.6,881.4 440.7,881.4 440.9,881.8 441.2,882.3 441.4,883.0 441.7,883.7 441.8,884.0 442.0,884.4 442.2,885.1 442.5,885.8 442.7,886.6 443.0,887.4 443.2,888.1 443.5,888.9 443.7,889.6 444.0,890.2 444.2,890.8 444.3,890.9 444.5,891.2 444.7,891.6 445.0,892.1 445.2,892.5 445.5,892.9 445.7,893.3 446.0,893.7 446.2,894.0 446.5,894.3 446.7,894.7 447.0,894.9 447.2,895.2 447.5,895.4 447.7,895.6 448.0,895.8 448.2,895.9 448.5,896.0" fill="none" stroke="#e69f00" stroke-width="1.3" stroke-linejoin="round"/>
<polyline points="407.7,896.0 408.0,890.4 408.2,880.0 408.2,879.3 408.5,856.2 408.7,826.3 408.9,812.0 409.0,807.6 409.2,796.2 409.5,787.8 409.6,785.0 409.8,781.6 410.0,777.1 410.3,772.7 410.3,772.0 410.5,766.8 410.8,760.1 411.0,753.5 411.3,748.1 411.3,748.0 411.6,743.7 411.8,739.4 412.1,735.7 412.3,732.8 412.6,731.2 412.6,731.1 412.8,730.5 413.1,730.0 413.3,729.7 413.5,729.6 413.6,729.5 413.9,729.4 414.1,729.3 414.4,729.2 414.6,729.2 414.7,729.2 414.9,729.2 415.1,729.4 415.4,729.6 415.7,729.9 415.7,729.9 415.9,730.2 416.2,730.7 416.4,731.8 416.4,732.2 416.6,745.0 416.7,769.0 416.7,772.0 416.9,790.7 417.2,801.2 417.3,805.0 417.5,810.8 417.7,819.6 418.0,827.3 418.2,833.9 418.5,839.6 418.5,840.0 418.7,844.7 419.0,849.4 419.2,853.7 419.5,857.7 419.8,861.4 420.0,864.7 420.3,867.7 420.5,870.0 420.5,870.3 420.8,872.8 421.0,875.3 421.3,877.6 421.6,879.8 421.8,881.8 422.1,883.7 422.3,885.3 422.6,886.8 422.8,887.9 423.1,888.8" fill="none" stroke="#9400d3" stroke-width="1.4" stroke-linejoin="round"/>
<polyline points="423.1,888.8 423.4,874.1 423.5,865.0 423.6,856.8 423.9,835.4 424.1,816.1 424.2,812.0 424.4,804.0 424.6,795.0 424.8,790.0 424.9,787.1 425.2,779.9 425.4,773.8 425.5,772.0 425.7,769.1 425.9,765.0 426.2,761.3 426.4,758.0 426.7,755.1 426.9,752.5 427.0,752.0 427.2,750.2 427.5,748.1 427.7,746.2 428.0,744.5 428.2,743.0 428.5,741.6 428.6,741.0 428.7,740.3 429.0,739.1 429.3,738.0 429.5,737.0 429.8,736.2 430.0,735.6 430.0,735.6 430.3,735.0 430.5,734.6 430.8,734.3 431.1,734.1 431.1,734.1 431.3,734.4 431.6,735.3 431.6,735.5 431.8,738.4 431.9,740.0 432.1,746.0 432.3,755.0 432.3,755.9 432.6,761.5 432.8,767.0 433.0,772.0 433.1,778.5 433.4,802.3 433.4,805.0 433.6,815.7 433.9,826.6 434.1,835.5 434.4,842.4 434.5,845.0 434.6,847.8 434.9,852.4 435.2,856.5 435.4,860.1 435.7,863.3 435.9,866.2 436.2,868.9 436.4,871.4 436.5,872.0 436.7,873.8 436.9,876.1 437.2,878.4 437.5,880.5 437.7,882.5 438.0,884.3 438.2,886.0 438.5,887.5 438.7,888.8 439.0,889.8" fill="none" stroke="#9400d3" stroke-width="1.4" stroke-linejoin="round"/>
<polyline points="439.0,889.8 439.3,874.9 439.4,865.0 439.5,857.0 439.8,835.4 440.0,815.0 440.0,814.1 440.3,793.2 440.5,775.6 440.6,772.0 440.8,767.0 441.0,761.6 441.3,757.4 441.3,757.0 441.5,753.4 441.8,749.8 442.0,747.3 442.1,747.0 442.3,746.3 442.5,745.4 442.8,744.6 443.0,744.0 443.3,743.5 443.5,743.0 443.8,742.7 444.1,742.4 444.3,742.2 444.4,742.1 444.6,742.0 444.8,741.8 445.1,741.7 445.3,741.6 445.6,741.4 445.8,741.4 446.1,741.3 446.3,741.3 446.3,741.3 446.6,741.4 446.8,741.6 447.1,742.1 447.3,742.6 447.4,742.8 447.6,744.7 447.8,750.4 447.9,752.0 448.1,764.5 448.2,772.0 448.4,783.0 448.6,800.6 448.7,805.0 448.9,810.4 449.1,817.9 449.4,824.4 449.6,829.9 449.9,834.7 450.1,838.9 450.4,842.7 450.6,846.4 450.7,847.4 450.9,849.9 451.1,853.4 451.4,856.7 451.6,859.9 451.9,862.9 452.1,865.8 452.4,868.4 452.6,870.9 452.9,873.1 453.2,875.2 453.4,876.9 453.7,878.5 453.8,879.2 453.9,879.7 454.2,880.9 454.4,882.1 454.7,883.2 454.9,884.3 455.2,885.4 455.4,886.4 455.7,887.4 455.9,888.3 456.2,889.2 456.4,890.0 456.7,890.8 456.9,891.5 457.2,892.2 457.5,892.8 457.7,893.3 458.0,893.8 458.2,894.2 458.5,894.5 458.7,894.8 459.0,895.0 459.1,895.1 459.2,895.2 459.5,895.3 459.7,895.4 460.0,895.5 460.2,895.6 460.5,895.7 460.7,895.8 461.0,895.9 461.2,895.9 461.5,896.0 461.7,896.0 462.0,896.0" fill="none" stroke="#9400d3" stroke-width="1.4" stroke-linejoin="round"/>
<line x1="509.40" y1="819.00" x2="616.80" y2="819.00" stroke="#c08a20" stroke-width="1.3"/>
<polyline points="509.4,819.0 509.7,818.8 509.9,818.5 510.2,818.3 510.4,818.2 510.7,818.1 510.9,818.0 511.0,818.0 511.2,818.0 511.4,818.0 511.7,818.1 511.9,818.1 512.2,818.2 512.4,818.2 512.7,818.3 512.9,818.3 513.0,818.3 513.2,818.3 513.5,818.4 513.7,818.4 514.0,818.4 514.2,818.5 514.5,818.5 514.7,818.6 515.0,818.6 515.2,818.7 515.5,818.7 515.7,818.7 516.0,818.8 516.2,818.8 516.5,818.8 516.8,818.8 517.0,818.9 517.3,818.9 517.5,818.9 517.8,818.9 517.9,818.9 518.0,818.9 518.3,818.8 518.5,818.6 518.8,818.4 519.0,818.2 519.3,818.0 519.5,818.0 519.5,818.0 519.8,818.0 520.0,818.0 520.3,818.1 520.6,818.1 520.8,818.2 521.1,818.2 521.3,818.3 521.5,818.3 521.6,818.3 521.8,818.3 522.1,818.4 522.3,818.4 522.6,818.5 522.8,818.5 523.1,818.6 523.3,818.6 523.6,818.7 523.8,818.7 524.1,818.7 524.4,818.8 524.6,818.8 524.9,818.8 525.1,818.9 525.4,818.9 525.6,818.9 525.9,818.9 526.0,818.9 526.1,818.9 526.4,818.8 526.6,818.6 526.9,818.3 527.1,818.1 527.4,818.0 527.5,818.0 527.6,818.0 527.9,818.0 528.2,818.1 528.4,818.1 528.7,818.1 528.9,818.2 529.2,818.2 529.4,818.3 529.5,818.3 529.7,818.3 529.9,818.4 530.2,818.4 530.4,818.4 530.7,818.5 530.9,818.5 531.2,818.5 531.5,818.6 531.7,818.6 532.0,818.6 532.2,818.7 532.5,818.7 532.7,818.7 533.0,818.8 533.2,818.8 533.5,818.8 533.7,818.9 534.0,818.9 534.2,818.9 534.5,818.9 534.7,819.0 535.0,819.0" fill="none" stroke="#56b4e9" stroke-width="1.2" stroke-linejoin="round"/>
<polyline points="509.4,819.0 509.7,814.1 509.9,809.5 510.0,808.0 510.2,805.2 510.4,801.1 510.5,799.7 510.7,794.6 510.9,787.1 511.0,786.0 511.2,782.5 511.5,779.8 511.5,779.7 511.7,784.1 511.8,787.0 512.0,798.9 512.0,799.7 512.2,803.4 512.5,805.7 512.6,806.5 512.7,807.6 513.0,809.3 513.3,810.6 513.5,811.7 513.5,811.8 513.8,812.8 514.0,813.8 514.3,814.6 514.6,815.4 514.8,816.0 515.0,816.3 515.1,816.4 515.3,816.8 515.6,817.1 515.8,817.5 516.1,817.8 516.4,818.1 516.6,818.4 516.9,818.6 517.1,818.8 517.4,818.9 517.6,819.0 517.9,819.0" fill="none" stroke="#e69f00" stroke-width="1.15" stroke-linejoin="round"/>
<polyline points="517.9,819.0 518.1,790.0 518.2,777.4 518.3,750.0 518.4,739.1 518.5,736.5 518.7,748.8 518.7,750.0 518.9,767.3 519.0,769.8 519.2,776.7 519.5,783.9 519.7,789.6 520.0,794.2 520.3,797.9 520.4,799.7 520.5,801.0 520.8,803.5 521.0,805.5 521.2,806.5 521.3,807.1 521.6,808.4 521.8,809.5 522.1,810.5 522.3,811.5 522.4,811.7 522.6,812.4 522.9,813.4 523.1,814.2 523.4,815.1 523.6,815.8 523.9,816.3 524.0,816.5 524.2,816.8 524.4,817.2 524.7,817.6 525.0,818.0 525.2,818.3 525.5,818.5 525.7,818.7 526.0,818.8" fill="none" stroke="#e69f00" stroke-width="1.15" stroke-linejoin="round"/>
<polyline points="526.0,818.8 526.1,790.0 526.2,760.0 526.3,759.1 526.4,747.9 526.5,749.5 526.8,759.0 526.8,760.0 527.0,769.3 527.3,779.6 527.3,780.0 527.5,787.5 527.8,794.4 528.1,799.2 528.1,799.7 528.3,801.8 528.6,803.7 528.8,805.1 529.1,806.5 529.1,806.5 529.3,807.7 529.6,808.8 529.9,809.8 530.1,810.7 530.4,811.6 530.4,811.7 530.6,812.5 530.9,813.4 531.2,814.2 531.4,815.0 531.7,815.6 531.9,816.2 532.0,816.3 532.2,816.6 532.4,817.0 532.7,817.4 533.0,817.8 533.2,818.1 533.5,818.4 533.7,818.7 534.0,818.8 534.2,819.0 534.5,819.0" fill="none" stroke="#e69f00" stroke-width="1.15" stroke-linejoin="round"/>
</svg></body></html>
